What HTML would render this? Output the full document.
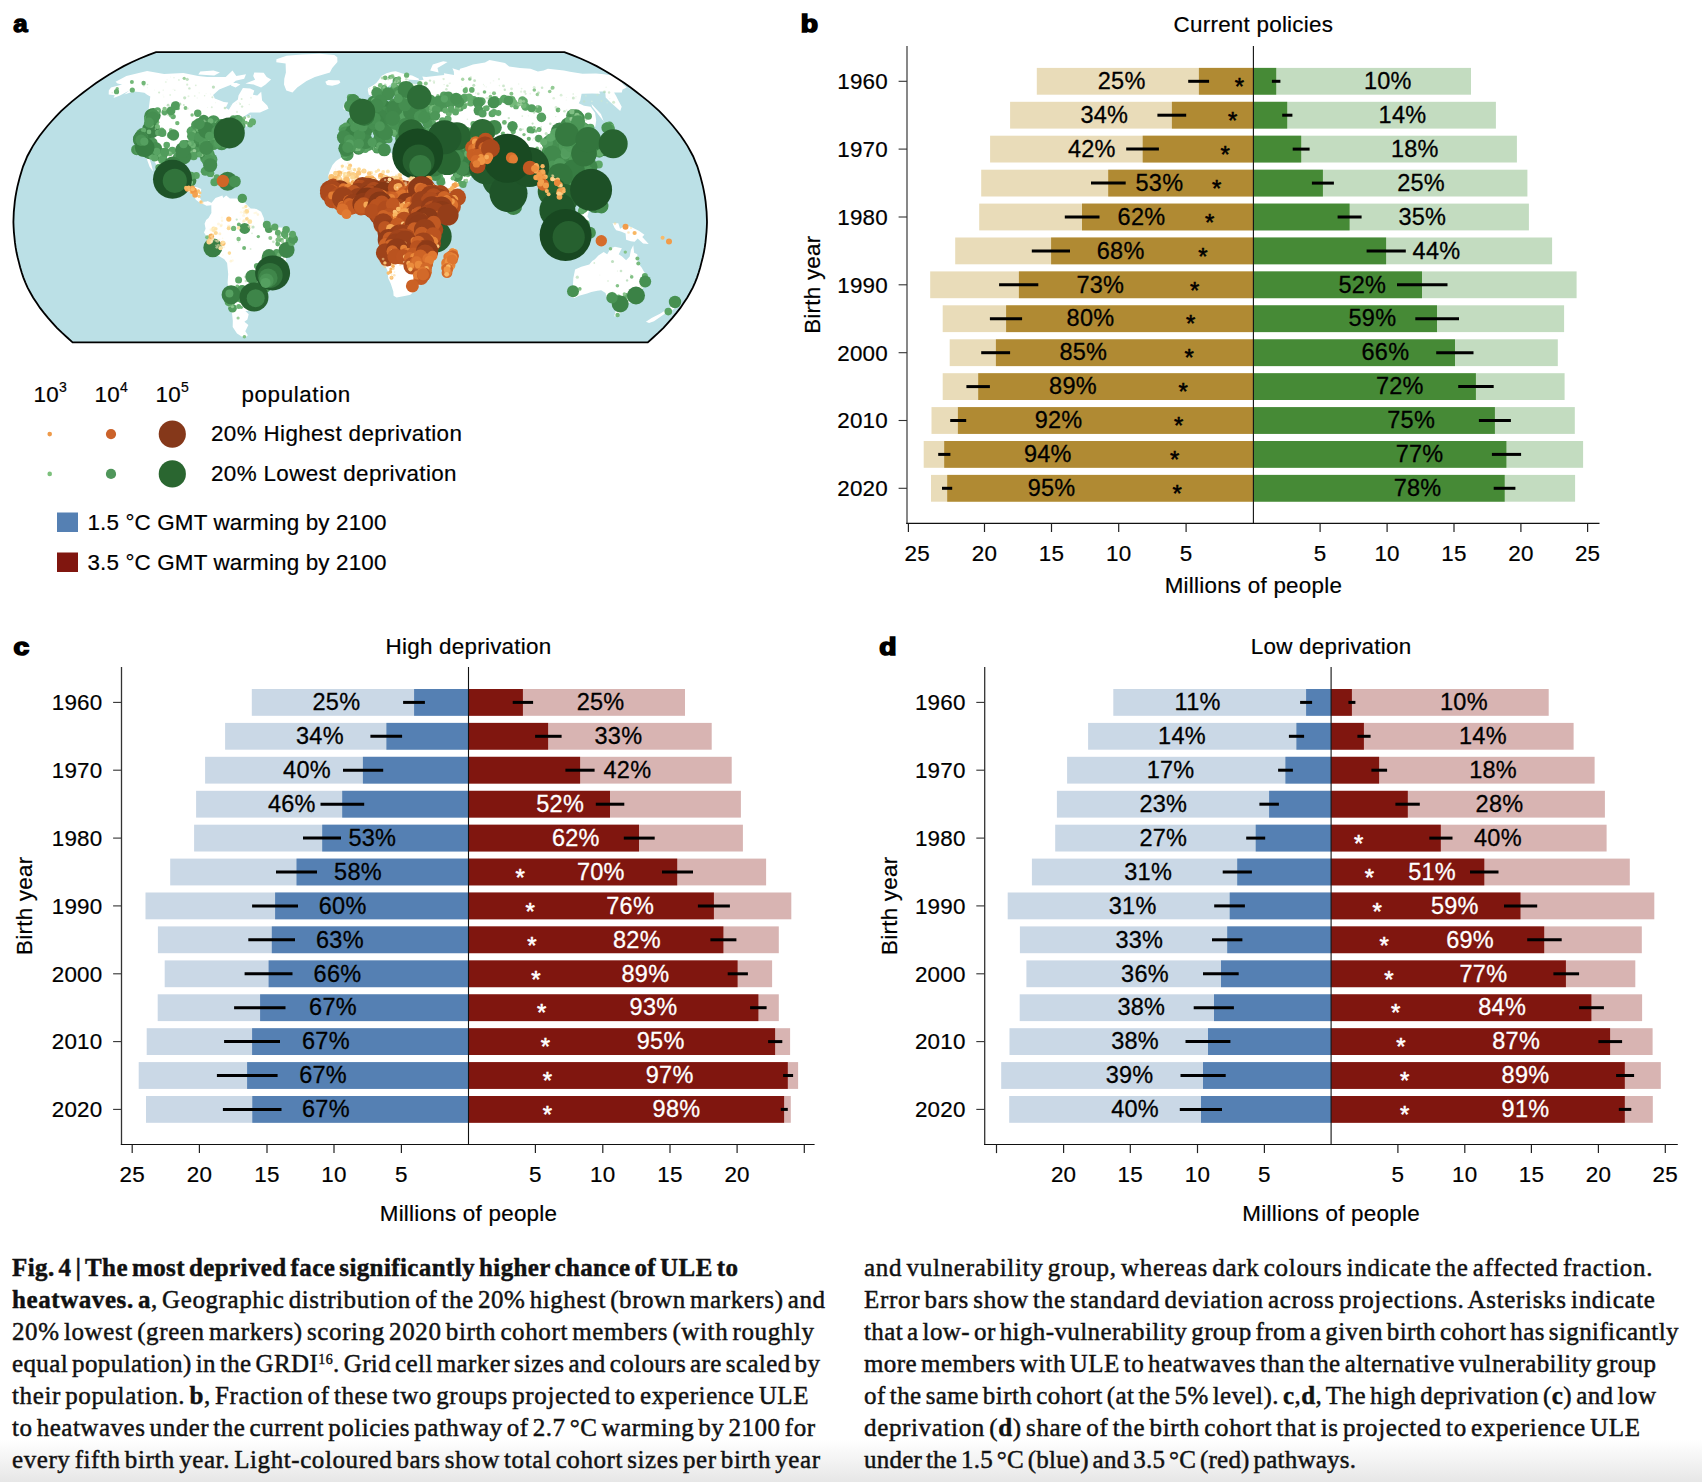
<!DOCTYPE html>
<html lang="en"><head><meta charset="utf-8"><title>Fig. 4</title>
<style>
html,body{margin:0;padding:0;background:#fff;}
body{width:1702px;height:1482px;overflow:hidden;position:relative;}
svg{position:absolute;left:0;top:0;display:block}
svg text{font-family:"Liberation Sans", Arial, Helvetica, sans-serif;letter-spacing:0.25px;color:#000;fill:currentColor;stroke:currentColor;stroke-width:.2px}
svg text.w{color:#fff}
svg text.l{stroke-width:.28px}
svg text.s{stroke-width:.55px}
svg text.L{stroke-width:1.6px;font-weight:bold;letter-spacing:0}
.cap{position:absolute;font-family:"Liberation Serif","Times New Roman",serif;font-size:25px;line-height:32px;height:32px;color:#111;white-space:nowrap;-webkit-text-stroke:0.45px #111;}
.cap b{font-weight:bold}
.cap sup{font-size:14px;line-height:0;vertical-align:8px}
.fade{position:absolute;left:0;top:1440px;width:1702px;height:42px;background:linear-gradient(to bottom,rgba(255,255,255,0) 0%,rgba(228,228,228,0.9) 100%);}
</style></head><body>
<svg width="1702" height="1482" viewBox="0 0 1702 1482">
<defs><clipPath id="mapclip"><path d="M72.6,342.3 L67.2,337.5 L61.9,332.7 L56.9,327.8 L52.4,322.8 L48.0,317.9 L43.9,312.9 L40.0,307.9 L36.6,302.8 L33.2,297.8 L30.4,292.7 L27.6,287.7 L25.4,282.6 L23.4,277.6 L21.7,272.5 L20.2,267.5 L18.9,262.4 L17.6,257.3 L16.5,252.3 L15.6,247.2 L14.9,242.2 L14.4,237.1 L13.9,232.1 L13.6,227.0 L13.4,221.9 L13.6,216.9 L13.8,211.8 L14.3,206.8 L14.8,201.7 L15.5,196.7 L16.4,191.6 L17.4,186.6 L18.7,181.5 L20.0,176.4 L21.5,171.4 L23.1,166.3 L25.2,161.3 L27.3,156.2 L30.0,151.2 L32.8,146.1 L36.1,141.1 L39.5,136.0 L43.4,131.0 L47.4,126.0 L51.8,121.0 L56.3,116.1 L61.1,111.2 L66.4,106.4 L71.8,101.6 L77.7,96.9 L83.6,92.2 L89.8,87.6 L96.1,83.1 L102.6,78.7 L109.2,74.4 L116.4,70.2 L123.7,66.1 L131.6,62.3 L139.9,58.5 L148.1,55.1 L156.0,52.1 L564.4,52.1 L572.3,55.1 L580.5,58.5 L588.8,62.3 L596.7,66.1 L604.0,70.2 L611.2,74.4 L617.8,78.7 L624.3,83.1 L630.6,87.6 L636.8,92.2 L642.7,96.9 L648.6,101.6 L654.0,106.4 L659.3,111.2 L664.1,116.1 L668.6,121.0 L673.0,126.0 L677.0,131.0 L680.9,136.0 L684.3,141.1 L687.6,146.1 L690.4,151.2 L693.1,156.2 L695.2,161.3 L697.3,166.3 L698.9,171.4 L700.4,176.4 L701.7,181.5 L703.0,186.6 L704.0,191.6 L704.9,196.7 L705.6,201.7 L706.1,206.8 L706.6,211.8 L706.8,216.9 L707.0,221.9 L706.8,227.0 L706.5,232.1 L706.0,237.1 L705.5,242.2 L704.8,247.2 L703.9,252.3 L702.8,257.3 L701.5,262.4 L700.2,267.5 L698.7,272.5 L697.0,277.6 L695.0,282.6 L692.8,287.7 L690.0,292.7 L687.2,297.8 L683.8,302.8 L680.4,307.9 L676.5,312.9 L672.4,317.9 L668.0,322.8 L663.5,327.8 L658.5,332.7 L653.2,337.5 L647.8,342.3Z"/></clipPath></defs>
<path d="M72.6,342.3 L67.2,337.5 L61.9,332.7 L56.9,327.8 L52.4,322.8 L48.0,317.9 L43.9,312.9 L40.0,307.9 L36.6,302.8 L33.2,297.8 L30.4,292.7 L27.6,287.7 L25.4,282.6 L23.4,277.6 L21.7,272.5 L20.2,267.5 L18.9,262.4 L17.6,257.3 L16.5,252.3 L15.6,247.2 L14.9,242.2 L14.4,237.1 L13.9,232.1 L13.6,227.0 L13.4,221.9 L13.6,216.9 L13.8,211.8 L14.3,206.8 L14.8,201.7 L15.5,196.7 L16.4,191.6 L17.4,186.6 L18.7,181.5 L20.0,176.4 L21.5,171.4 L23.1,166.3 L25.2,161.3 L27.3,156.2 L30.0,151.2 L32.8,146.1 L36.1,141.1 L39.5,136.0 L43.4,131.0 L47.4,126.0 L51.8,121.0 L56.3,116.1 L61.1,111.2 L66.4,106.4 L71.8,101.6 L77.7,96.9 L83.6,92.2 L89.8,87.6 L96.1,83.1 L102.6,78.7 L109.2,74.4 L116.4,70.2 L123.7,66.1 L131.6,62.3 L139.9,58.5 L148.1,55.1 L156.0,52.1 L564.4,52.1 L572.3,55.1 L580.5,58.5 L588.8,62.3 L596.7,66.1 L604.0,70.2 L611.2,74.4 L617.8,78.7 L624.3,83.1 L630.6,87.6 L636.8,92.2 L642.7,96.9 L648.6,101.6 L654.0,106.4 L659.3,111.2 L664.1,116.1 L668.6,121.0 L673.0,126.0 L677.0,131.0 L680.9,136.0 L684.3,141.1 L687.6,146.1 L690.4,151.2 L693.1,156.2 L695.2,161.3 L697.3,166.3 L698.9,171.4 L700.4,176.4 L701.7,181.5 L703.0,186.6 L704.0,191.6 L704.9,196.7 L705.6,201.7 L706.1,206.8 L706.6,211.8 L706.8,216.9 L707.0,221.9 L706.8,227.0 L706.5,232.1 L706.0,237.1 L705.5,242.2 L704.8,247.2 L703.9,252.3 L702.8,257.3 L701.5,262.4 L700.2,267.5 L698.7,272.5 L697.0,277.6 L695.0,282.6 L692.8,287.7 L690.0,292.7 L687.2,297.8 L683.8,302.8 L680.4,307.9 L676.5,312.9 L672.4,317.9 L668.0,322.8 L663.5,327.8 L658.5,332.7 L653.2,337.5 L647.8,342.3Z" fill="#bbe0e6"/>
<g clip-path="url(#mapclip)">
<path d="M115.6,81.7 L126.4,76.0 L147.1,70.9 L164.1,74.0 L183.4,72.9 L198.2,76.0 L207.3,77.0 L225.7,77.0 L232.5,70.6 L236.3,76.0 L246.0,74.2 L244.2,78.8 L235.7,80.7 L231.6,84.6 L219.2,89.4 L213.1,95.0 L214.8,98.5 L223.8,101.9 L228.3,102.5 L225.7,107.8 L228.8,109.8 L232.6,103.6 L237.9,99.5 L238.5,95.4 L242.9,87.9 L250.1,88.5 L254.3,90.4 L252.9,94.8 L257.3,95.4 L261.2,91.8 L262.1,100.5 L267.4,105.7 L268.5,108.8 L260.0,112.6 L250.0,112.6 L241.2,118.3 L250.8,115.1 L250.2,119.4 L255.5,121.5 L246.1,126.8 L244.5,123.6 L238.4,126.4 L236.4,130.1 L229.2,133.3 L224.6,139.8 L222.2,145.3 L218.0,147.4 L211.5,151.8 L209.8,156.2 L211.0,162.7 L209.8,166.4 L207.3,164.9 L206.4,159.4 L204.8,156.2 L201.3,155.5 L194.8,155.7 L194.6,158.3 L190.7,157.3 L185.2,157.3 L179.2,161.6 L177.4,167.1 L175.9,173.0 L178.2,180.2 L180.9,181.9 L186.6,181.2 L189.3,175.8 L196.0,174.7 L193.5,182.3 L191.1,186.7 L196.4,187.1 L201.3,188.9 L199.9,197.6 L201.9,202.0 L206.7,201.5 L207.7,200.9 L211.8,203.1 L211.3,205.2 L206.5,205.7 L203.7,204.2 L200.8,203.5 L195.8,199.8 L192.9,193.2 L185.5,191.1 L181.2,186.7 L176.3,187.4 L170.1,184.5 L161.3,179.1 L161.3,173.6 L157.7,167.1 L152.5,158.3 L152.2,153.3 L149.2,152.9 L149.1,157.3 L151.1,163.8 L153.2,171.4 L149.7,167.1 L147.5,161.0 L146.0,156.2 L145.5,150.5 L140.9,146.4 L140.4,141.3 L139.9,135.5 L141.9,130.1 L147.4,121.5 L149.5,116.4 L153.2,115.1 L148.3,111.3 L149.4,103.6 L150.3,96.4 L147.1,94.8 L144.4,92.8 L139.1,92.0 L133.6,91.4 L124.2,94.4 L129.4,90.4 L120.0,95.4 L113.5,97.9 L114.8,95.2 L108.7,94.4 L108.8,90.4 L111.0,87.5 L122.1,84.6 L117.5,83.6Z M254.3,72.4 L263.7,72.7 L266.7,77.0 L271.1,79.4 L265.6,84.6 L261.1,87.5 L253.7,84.6 L245.4,83.6 L255.1,79.8 L253.2,76.0Z M198.3,74.5 L214.2,75.5 L219.9,72.4 L213.5,70.6 L200.3,71.5Z M233.5,81.7 L240.4,84.6 L235.6,87.5 L230.9,85.5Z M276.4,59.3 L276.3,62.3 L285.6,63.6 L285.9,72.4 L284.3,78.8 L284.0,84.6 L286.3,90.4 L292.5,92.4 L297.2,87.5 L306.5,81.1 L314.9,77.0 L329.9,72.4 L332.2,67.9 L337.4,62.0 L337.3,57.2 L334.3,55.1 L319.6,53.8 L301.8,54.4 L286.6,55.7Z M211.4,203.1 L215.5,198.0 L222.4,195.4 L223.2,198.0 L226.2,195.4 L229.9,198.5 L237.5,198.5 L241.4,198.3 L245.0,203.1 L250.6,208.5 L256.4,208.9 L261.1,211.8 L263.9,218.3 L263.9,222.7 L267.7,223.8 L274.5,227.1 L283.2,227.7 L289.0,232.1 L292.9,234.7 L293.4,239.0 L289.3,245.6 L285.7,251.0 L286.1,259.8 L283.7,267.4 L281.2,271.8 L275.6,273.5 L269.5,278.3 L269.8,283.8 L264.9,292.5 L262.7,296.2 L260.3,297.9 L255.0,296.8 L257.4,301.2 L256.4,305.1 L249.6,306.6 L250.2,311.0 L245.4,311.0 L248.7,314.2 L247.4,319.6 L244.4,321.7 L248.4,324.9 L245.3,331.3 L247.9,335.2 L245.4,337.5 L241.7,336.5 L237.0,333.4 L232.7,327.0 L232.8,320.7 L232.0,313.1 L228.0,304.5 L228.3,296.8 L228.4,289.2 L227.6,282.7 L228.2,273.9 L227.1,263.0 L224.3,259.3 L217.2,255.0 L214.4,251.0 L210.6,243.4 L206.9,236.9 L204.0,232.5 L205.6,228.8 L204.6,223.8 L206.1,220.1 L208.5,217.9 L211.4,212.9 L211.3,206.3Z M349.5,143.5 L356.6,144.8 L365.6,141.3 L378.2,140.3 L380.3,148.5 L388.7,152.2 L396.2,155.1 L397.2,150.7 L402.3,150.3 L406.2,152.7 L413.6,154.0 L419.1,153.3 L423.2,153.3 L420.3,156.2 L422.5,160.5 L426.9,169.3 L430.1,175.8 L431.3,181.2 L435.5,187.8 L442.4,194.3 L443.1,196.5 L446.5,198.7 L457.8,195.4 L457.6,199.8 L452.6,210.7 L446.9,217.2 L441.1,223.8 L437.2,228.1 L435.2,234.7 L436.0,240.1 L437.8,245.6 L437.8,254.3 L430.5,260.4 L426.4,265.2 L426.9,273.9 L421.9,277.9 L420.6,283.8 L416.4,289.2 L410.4,294.7 L405.8,295.8 L396.6,297.5 L393.6,295.8 L393.3,291.4 L390.8,283.8 L388.2,278.3 L387.5,270.7 L383.0,260.9 L384.0,254.3 L386.4,247.8 L385.1,241.2 L383.7,234.7 L381.4,230.3 L377.5,223.8 L378.5,217.2 L378.5,212.9 L376.6,211.8 L371.7,212.2 L368.9,207.9 L362.1,208.5 L356.4,211.1 L351.5,210.3 L345.8,212.0 L341.9,208.5 L338.1,206.3 L334.7,202.0 L331.5,197.6 L328.3,194.3 L326.8,189.5 L329.2,185.6 L329.3,180.2 L328.1,175.8 L330.1,170.3 L332.5,164.9 L336.0,161.0 L341.7,157.3 L342.4,152.9 L347.4,147.9Z M454.5,247.8 L456.4,255.4 L453.1,262.0 L450.0,273.9 L445.4,277.2 L442.4,272.9 L443.5,265.2 L444.5,257.6 L449.9,253.2Z M344.0,140.9 L343.2,137.2 L344.7,131.2 L344.2,127.5 L353.2,126.8 L357.6,126.8 L358.1,121.5 L352.3,116.4 L357.7,115.7 L357.2,113.6 L362.7,112.6 L365.2,110.3 L367.6,107.8 L368.4,106.1 L374.0,105.2 L373.3,101.5 L372.8,98.5 L376.7,97.1 L377.0,101.5 L379.6,104.2 L382.9,104.6 L390.0,103.2 L394.0,102.5 L393.4,98.5 L398.1,98.1 L396.6,94.0 L403.4,93.2 L406.4,92.4 L398.6,92.0 L395.6,92.4 L393.0,90.4 L392.2,86.1 L397.2,82.2 L392.4,81.1 L391.6,84.0 L386.5,87.5 L386.5,91.0 L389.2,92.8 L386.1,96.4 L386.1,99.5 L383.1,101.5 L380.9,101.5 L380.0,99.5 L377.8,95.4 L376.6,93.8 L372.7,96.2 L368.8,94.8 L367.8,90.4 L368.2,88.1 L372.8,85.5 L376.3,83.0 L378.9,79.8 L381.3,76.0 L386.5,73.2 L391.7,71.8 L395.7,71.3 L401.7,73.2 L406.3,74.5 L412.1,75.5 L418.9,78.8 L418.7,80.3 L410.6,79.8 L407.6,79.4 L411.4,83.6 L416.3,84.2 L419.7,83.2 L418.1,80.7 L423.6,79.8 L422.3,76.4 L426.1,77.0 L434.8,75.9 L444.2,75.1 L444.0,73.2 L454.0,75.1 L453.8,71.5 L452.4,68.3 L459.4,70.6 L460.1,68.8 L466.1,67.1 L473.0,64.4 L485.0,62.5 L489.5,60.1 L505.0,63.1 L509.1,66.5 L520.0,67.9 L530.5,68.8 L537.9,71.5 L543.6,70.6 L547.9,68.8 L563.9,70.6 L569.9,71.8 L582.5,73.8 L596.1,73.6 L603.9,74.2 L612.8,75.5 L623.7,82.6 L622.1,83.6 L626.7,87.5 L622.5,89.4 L621.8,92.4 L614.1,92.4 L616.4,96.4 L618.1,100.1 L621.7,106.7 L620.2,110.9 L609.6,101.5 L605.7,97.5 L605.2,91.4 L599.1,91.4 L600.2,93.8 L592.0,93.4 L581.6,93.8 L580.3,100.5 L578.7,103.2 L584.0,105.7 L590.6,106.7 L595.1,113.0 L596.2,120.4 L595.3,126.8 L590.7,127.9 L588.1,130.1 L586.6,134.4 L592.4,139.8 L594.5,144.2 L590.4,146.4 L587.9,140.9 L584.2,138.7 L582.5,135.0 L577.3,136.6 L575.5,132.7 L570.7,136.6 L573.9,139.8 L580.4,140.3 L577.2,145.3 L582.0,150.7 L585.9,156.2 L584.0,162.7 L580.2,170.3 L574.1,173.2 L568.0,175.8 L563.9,174.3 L561.0,179.1 L566.8,186.7 L569.2,194.3 L565.0,199.1 L561.7,202.6 L561.5,199.1 L556.3,195.4 L552.2,192.2 L550.8,197.6 L553.3,205.2 L559.4,212.9 L560.5,218.5 L555.2,215.5 L553.1,209.6 L549.0,204.2 L548.7,195.4 L545.7,185.6 L540.2,186.7 L538.4,180.2 L533.8,174.7 L531.6,172.5 L527.1,174.1 L524.3,176.9 L521.1,178.6 L516.8,185.6 L513.1,187.8 L513.5,193.2 L513.2,199.1 L509.0,204.2 L506.5,199.8 L503.2,193.2 L500.2,186.7 L498.2,180.2 L497.5,175.8 L493.4,176.2 L490.2,173.0 L492.0,171.9 L489.0,170.3 L485.8,167.5 L476.4,166.6 L467.8,165.8 L465.6,162.7 L461.0,163.6 L456.0,160.5 L452.6,155.7 L449.9,156.2 L449.1,157.3 L453.5,163.4 L454.2,165.8 L456.4,164.5 L456.8,168.2 L461.6,168.8 L464.8,164.5 L466.2,168.2 L470.5,169.9 L472.8,172.5 L470.8,176.9 L469.6,180.2 L464.8,184.5 L459.3,187.8 L452.8,191.1 L446.2,193.7 L443.4,193.9 L441.6,188.9 L441.1,185.6 L436.9,179.1 L433.8,174.7 L430.2,168.2 L425.3,160.5 L424.0,161.0 L420.5,156.4 L419.7,153.6 L423.2,153.3 L424.3,150.1 L425.6,145.3 L425.1,141.3 L419.8,142.7 L415.2,142.0 L410.7,141.6 L408.7,139.8 L407.0,135.5 L411.4,132.2 L416.5,130.5 L421.7,130.1 L427.3,132.2 L433.3,131.2 L431.8,127.9 L424.1,123.6 L426.6,118.9 L420.2,121.1 L418.2,124.7 L416.0,121.5 L412.9,120.4 L410.1,124.7 L409.4,130.1 L411.2,131.8 L406.2,132.9 L402.6,132.7 L401.0,134.4 L403.2,138.7 L401.7,142.0 L398.5,139.8 L394.7,133.3 L394.4,130.1 L388.1,126.8 L383.8,122.3 L381.4,123.0 L381.9,125.8 L384.7,129.4 L388.3,130.5 L393.0,134.0 L390.3,133.3 L389.6,136.6 L388.9,138.7 L388.1,134.4 L382.2,130.5 L378.1,126.8 L375.4,124.9 L372.4,126.4 L366.3,127.3 L365.8,130.5 L360.7,133.3 L359.7,137.0 L356.6,141.3 L350.6,142.9 L348.5,141.3Z M351.0,112.8 L355.2,111.7 L362.4,110.5 L363.0,107.3 L360.5,105.7 L357.8,102.5 L357.0,100.5 L357.1,97.3 L353.9,97.3 L355.2,95.2 L352.4,95.2 L350.7,98.5 L351.4,101.5 L352.5,103.0 L355.3,104.6 L355.0,105.9 L352.9,106.3 L353.1,108.4 L351.6,109.2 L354.9,110.0Z M350.3,108.4 L350.5,104.2 L350.2,102.1 L347.0,102.1 L344.0,104.2 L343.4,108.8 L344.5,109.8Z M325.3,81.7 L328.5,80.0 L334.2,80.3 L339.3,80.3 L340.4,82.6 L338.1,84.2 L332.2,85.7 L326.9,84.9Z M430.2,70.6 L438.6,72.4 L437.5,67.9 L447.6,62.0 L443.2,61.2 L432.8,64.4Z M599.0,147.4 L600.3,144.2 L605.8,142.4 L606.5,140.3 L609.6,137.7 L608.1,133.3 L609.7,131.6 L612.9,135.5 L612.9,138.7 L615.1,143.1 L614.5,145.3 L612.0,145.9 L609.1,146.4 L606.5,147.9 L602.4,146.8Z M607.3,131.2 L607.0,127.5 L604.4,122.8 L612.9,125.8 L613.4,127.9 L611.8,130.1 L607.1,129.0Z M597.6,148.5 L600.9,148.5 L602.3,153.3 L600.2,153.6 L597.9,150.1Z M603.8,121.5 L600.9,114.0 L591.5,104.0 L592.2,106.7Z M513.6,200.2 L517.3,205.2 L515.9,208.5 L514.0,208.5 L513.2,203.7Z M612.5,223.3 L618.3,223.3 L620.1,228.8 L626.0,225.3 L631.7,227.3 L639.2,231.0 L644.4,234.7 L642.3,236.9 L648.7,244.1 L643.1,243.4 L637.7,238.4 L634.6,241.7 L630.8,241.2 L626.1,239.7 L625.6,233.6 L620.9,231.4 L616.2,230.3 L614.3,227.5Z M575.1,269.6 L573.3,278.3 L572.9,287.0 L572.7,291.4 L569.6,296.4 L574.5,297.9 L579.0,295.8 L587.1,293.6 L591.3,292.0 L597.3,290.7 L601.2,290.3 L605.6,292.9 L606.5,297.5 L611.8,293.6 L610.3,299.0 L612.0,301.6 L612.6,304.9 L617.6,305.5 L621.2,306.6 L625.6,304.0 L630.0,302.7 L635.5,295.8 L642.2,289.2 L645.7,282.7 L647.0,276.1 L644.0,271.8 L641.6,267.4 L637.9,263.0 L637.8,258.7 L637.3,254.3 L634.1,252.8 L633.3,245.2 L630.9,250.0 L629.7,256.5 L626.1,260.2 L622.1,256.5 L618.7,254.3 L621.9,248.2 L614.9,246.7 L610.8,248.2 L607.2,254.3 L603.7,252.1 L598.4,255.4 L594.9,259.3 L592.2,260.9 L589.3,264.6 L581.3,266.7Z M616.1,310.3 L622.4,310.5 L618.4,315.7 L614.3,316.6 L614.9,313.6Z M674.4,296.8 L675.7,300.1 L676.1,303.6 L680.5,303.8 L675.2,307.7 L670.5,311.6 L668.2,311.6 L671.2,308.4 L669.8,307.3 L673.2,304.5 L674.7,301.2Z M666.0,309.9 L666.6,312.5 L660.8,316.6 L654.0,321.3 L649.1,323.0 L645.9,321.7 L651.6,317.9 L660.0,313.8Z M200.0,173.6 L206.0,171.0 L209.7,171.4 L214.9,174.7 L219.8,177.5 L213.5,178.2 L212.8,176.2 L206.5,173.6 L201.8,174.1Z M218.9,181.5 L222.0,178.2 L227.7,178.4 L230.5,181.0 L225.4,182.3Z M543.5,209.4 L548.8,212.4 L553.7,217.2 L559.6,223.8 L564.3,228.1 L563.7,234.3 L561.2,234.3 L556.5,230.3 L553.4,223.8 L549.9,217.9Z M562.4,236.4 L568.7,236.0 L573.6,235.8 L580.1,238.4 L580.0,240.4 L571.4,239.5 L564.8,237.7Z M570.1,218.3 L574.0,217.9 L577.7,214.6 L582.4,210.7 L585.0,206.3 L589.1,210.3 L587.4,216.6 L589.4,219.4 L586.5,223.3 L584.4,229.2 L580.6,230.3 L574.8,228.8 L572.0,224.9 L570.2,220.9Z" fill="#fff"/>
<path d="M441.4,123.6 L447.1,119.4 L451.7,123.6 L449.5,129.0 L455.2,134.4 L457.4,140.9 L450.2,140.9 L447.6,136.6 L443.4,129.0Z" fill="#bbe0e6"/>
<g fill="#2a6833">
<circle cx="494.2" cy="152.4" r="11.0"/>
</g>
<g fill="#35783f">
<circle cx="517.2" cy="167.9" r="10.7"/>
</g>
<g fill="#2c6b35">
<circle cx="520.9" cy="165.0" r="11.0"/>
</g>
<g fill="#367b41">
<circle cx="566.8" cy="237.5" r="11.2"/>
</g>
<g fill="#34783f">
<circle cx="509.8" cy="183.2" r="11.0"/>
</g>
<g fill="#438c4e">
<circle cx="565.2" cy="161.2" r="9.0"/>
</g>
<g fill="#30713a">
<circle cx="566.5" cy="237.4" r="11.3"/>
</g>
<g fill="#448d4f">
<circle cx="558.7" cy="138.6" r="8.5"/>
</g>
<g fill="#276330">
<circle cx="574.7" cy="236.8" r="13.0"/>
</g>
<g fill="#377b42">
<circle cx="500.6" cy="175.8" r="10.4"/>
</g>
<g fill="#458e50">
<circle cx="512.5" cy="181.3" r="8.1"/>
</g>
<g fill="#397e44">
<circle cx="564.2" cy="154.7" r="9.0"/>
</g>
<g fill="#3b8146">
<circle cx="527.3" cy="170.9" r="9.5"/>
</g>
<g fill="#3d8448">
<circle cx="501.9" cy="187.5" r="8.7"/>
</g>
<g fill="#458e50">
<circle cx="151.6" cy="116.4" r="7.5"/>
</g>
<g fill="#377d42">
<circle cx="509.2" cy="158.5" r="11.0"/>
</g>
<g fill="#469051">
<circle cx="356.7" cy="135.2" r="7.6"/>
</g>
<g fill="#3d8348">
<circle cx="359.4" cy="117.8" r="7.4"/>
</g>
<g fill="#428a4d">
<circle cx="492.9" cy="159.3" r="7.9"/>
</g>
<g fill="#3d8448">
<circle cx="354.2" cy="124.2" r="8.0"/>
</g>
<g fill="#40884b">
<circle cx="572.4" cy="156.0" r="8.2"/>
</g>
<g fill="#367b41">
<circle cx="560.7" cy="177.7" r="9.0"/>
</g>
<g fill="#468f51">
<circle cx="143.0" cy="136.2" r="8.1"/>
</g>
<g fill="#3b8146">
<circle cx="508.3" cy="196.9" r="9.2"/>
</g>
<g fill="#397e44">
<circle cx="571.7" cy="236.9" r="9.6"/>
</g>
<g fill="#468f51">
<circle cx="529.3" cy="169.4" r="7.3"/>
</g>
<g fill="#40884b">
<circle cx="373.2" cy="114.7" r="8.0"/>
</g>
<g fill="#3c8247">
<circle cx="600.6" cy="205.4" r="7.0"/>
</g>
<g fill="#2f6f38">
<circle cx="512.3" cy="164.1" r="10.4"/>
</g>
<g fill="#40884b">
<circle cx="207.6" cy="137.4" r="7.3"/>
</g>
<g fill="#448d4f">
<circle cx="548.3" cy="152.1" r="6.8"/>
</g>
<g fill="#3e8549">
<circle cx="504.3" cy="183.8" r="6.8"/>
</g>
<g fill="#479152">
<circle cx="186.2" cy="147.0" r="7.0"/>
</g>
<g fill="#509a5b">
<circle cx="570.5" cy="168.7" r="6.9"/>
</g>
<g fill="#448d4f">
<circle cx="549.8" cy="143.2" r="8.1"/>
</g>
<g fill="#41894c">
<circle cx="571.8" cy="235.9" r="6.8"/>
</g>
<g fill="#32753d">
<circle cx="516.9" cy="171.3" r="10.7"/>
</g>
<g fill="#34773e">
<circle cx="564.5" cy="236.6" r="10.0"/>
</g>
<g fill="#3f864a">
<circle cx="578.0" cy="121.9" r="7.0"/>
</g>
<g fill="#499454">
<circle cx="353.3" cy="105.8" r="7.3"/>
</g>
<g fill="#3e8549">
<circle cx="418.3" cy="156.3" r="7.0"/>
</g>
<g fill="#4e9859">
<circle cx="560.2" cy="179.8" r="6.4"/>
</g>
<g fill="#387d43">
<circle cx="419.6" cy="162.9" r="8.0"/>
</g>
<g fill="#3f864a">
<circle cx="370.6" cy="111.3" r="7.5"/>
</g>
<g fill="#469051">
<circle cx="563.2" cy="141.2" r="9.0"/>
</g>
<g fill="#448c4f">
<circle cx="486.6" cy="157.2" r="6.5"/>
</g>
<g fill="#499354">
<circle cx="183.5" cy="151.5" r="7.0"/>
</g>
<g fill="#32743c">
<circle cx="488.7" cy="149.4" r="10.0"/>
</g>
<g fill="#448d4f">
<circle cx="370.9" cy="116.7" r="8.0"/>
</g>
<g fill="#3f874a">
<circle cx="381.9" cy="136.7" r="8.0"/>
</g>
<g fill="#479052">
<circle cx="201.8" cy="147.3" r="7.5"/>
</g>
<g fill="#438b4e">
<circle cx="354.5" cy="129.3" r="8.0"/>
</g>
<g fill="#41894c">
<circle cx="581.6" cy="130.0" r="8.6"/>
</g>
<g fill="#489253">
<circle cx="575.8" cy="116.9" r="7.6"/>
</g>
<g fill="#458e50">
<circle cx="612.5" cy="144.4" r="8.0"/>
</g>
<g fill="#4c9657">
<circle cx="567.2" cy="237.6" r="6.4"/>
</g>
<g fill="#438c4e">
<circle cx="582.5" cy="153.3" r="6.9"/>
</g>
<g fill="#3d8448">
<circle cx="389.2" cy="114.7" r="6.8"/>
</g>
<g fill="#3a8045">
<circle cx="378.9" cy="119.7" r="7.0"/>
</g>
<g fill="#3b8146">
<circle cx="565.3" cy="140.9" r="8.7"/>
</g>
<g fill="#458e50">
<circle cx="591.9" cy="141.6" r="6.1"/>
</g>
<g fill="#357940">
<circle cx="501.0" cy="169.0" r="10.4"/>
</g>
<g fill="#41894c">
<circle cx="572.5" cy="170.1" r="7.4"/>
</g>
<g fill="#448d4f">
<circle cx="402.8" cy="119.5" r="6.9"/>
</g>
<g fill="#468f51">
<circle cx="187.3" cy="150.5" r="6.1"/>
</g>
<g fill="#458e50">
<circle cx="376.7" cy="126.1" r="6.2"/>
</g>
<g fill="#4c9657">
<circle cx="531.8" cy="167.5" r="6.5"/>
</g>
<g fill="#489253">
<circle cx="556.0" cy="161.8" r="6.4"/>
</g>
<g fill="#40874b">
<circle cx="509.7" cy="180.1" r="6.6"/>
</g>
<g fill="#428a4d">
<circle cx="502.2" cy="182.4" r="9.4"/>
</g>
<g fill="#377b42">
<circle cx="501.8" cy="188.2" r="8.0"/>
</g>
<g fill="#458e50">
<circle cx="489.5" cy="169.8" r="6.0"/>
</g>
<g fill="#41894c">
<circle cx="373.6" cy="102.4" r="6.6"/>
</g>
<g fill="#458e50">
<circle cx="439.8" cy="150.8" r="7.1"/>
</g>
<g fill="#387e43">
<circle cx="384.6" cy="120.0" r="8.0"/>
</g>
<g fill="#458e50">
<circle cx="416.2" cy="100.2" r="8.0"/>
</g>
<g fill="#4e9859">
<circle cx="210.6" cy="160.7" r="5.9"/>
</g>
<g fill="#469051">
<circle cx="376.5" cy="145.1" r="6.4"/>
</g>
<g fill="#448d4f">
<circle cx="455.2" cy="155.3" r="7.0"/>
</g>
<g fill="#3f874a">
<circle cx="190.4" cy="180.7" r="6.0"/>
</g>
<g fill="#3b8146">
<circle cx="564.4" cy="142.3" r="8.9"/>
</g>
<g fill="#367b41">
<circle cx="421.6" cy="166.1" r="9.2"/>
</g>
<g fill="#4c9657">
<circle cx="515.1" cy="181.2" r="6.7"/>
</g>
<g fill="#4f995a">
<circle cx="565.4" cy="149.7" r="5.7"/>
</g>
<g fill="#357940">
<circle cx="512.4" cy="164.4" r="8.5"/>
</g>
<g fill="#428a4d">
<circle cx="551.9" cy="154.9" r="6.3"/>
</g>
<g fill="#4b9656">
<circle cx="352.2" cy="133.4" r="6.9"/>
</g>
<g fill="#3f864a">
<circle cx="358.5" cy="148.2" r="6.5"/>
</g>
<g fill="#3e8549">
<circle cx="380.2" cy="112.7" r="6.3"/>
</g>
<g fill="#3c8247">
<circle cx="151.0" cy="129.5" r="9.0"/>
</g>
<g fill="#387e43">
<circle cx="595.3" cy="204.0" r="9.1"/>
</g>
<g fill="#448c4f">
<circle cx="519.5" cy="164.3" r="6.2"/>
</g>
<g fill="#468f51">
<circle cx="358.1" cy="133.1" r="8.0"/>
</g>
<g fill="#41894c">
<circle cx="528.8" cy="165.5" r="5.8"/>
</g>
<g fill="#4b9556">
<circle cx="353.1" cy="100.1" r="6.0"/>
</g>
<g fill="#418a4c">
<circle cx="389.9" cy="112.1" r="7.0"/>
</g>
<g fill="#489253">
<circle cx="550.7" cy="169.3" r="7.5"/>
<circle cx="420.4" cy="163.2" r="5.7"/>
</g>
<g fill="#3e8549">
<circle cx="558.1" cy="230.6" r="8.0"/>
</g>
<g fill="#387d43">
<circle cx="166.8" cy="182.5" r="9.0"/>
</g>
<g fill="#3a8045">
<circle cx="499.6" cy="167.8" r="7.5"/>
</g>
<g fill="#458f50">
<circle cx="232.3" cy="124.5" r="5.6"/>
</g>
<g fill="#489253">
<circle cx="372.2" cy="113.3" r="6.2"/>
</g>
<g fill="#41894c">
<circle cx="419.5" cy="161.0" r="8.1"/>
</g>
<g fill="#4c9657">
<circle cx="347.1" cy="154.5" r="6.5"/>
</g>
<g fill="#479152">
<circle cx="348.7" cy="138.2" r="7.0"/>
</g>
<g fill="#4a9455">
<circle cx="427.3" cy="147.3" r="5.7"/>
</g>
<g fill="#489253">
<circle cx="500.9" cy="183.1" r="5.8"/>
</g>
<g fill="#438c4e">
<circle cx="415.5" cy="134.5" r="5.5"/>
</g>
<g fill="#3e8549">
<circle cx="142.1" cy="143.7" r="6.5"/>
</g>
<g fill="#3d8348">
<circle cx="451.7" cy="151.8" r="7.0"/>
</g>
<g fill="#499354">
<circle cx="455.6" cy="146.5" r="6.3"/>
</g>
<g fill="#428a4d">
<circle cx="418.7" cy="155.4" r="6.1"/>
</g>
<g fill="#489253">
<circle cx="510.5" cy="174.6" r="6.1"/>
</g>
<g fill="#3e8649">
<circle cx="404.9" cy="135.7" r="8.0"/>
</g>
<g fill="#499354">
<circle cx="427.7" cy="120.7" r="6.2"/>
</g>
<g fill="#41894c">
<circle cx="204.7" cy="142.4" r="6.5"/>
<circle cx="530.5" cy="167.4" r="5.8"/>
</g>
<g fill="#3b8146">
<circle cx="558.6" cy="187.1" r="7.5"/>
</g>
<g fill="#40884b">
<circle cx="491.5" cy="159.3" r="5.8"/>
</g>
<g fill="#519c5c">
<circle cx="344.1" cy="129.3" r="5.5"/>
</g>
<g fill="#428b4d">
<circle cx="568.3" cy="194.4" r="5.6"/>
</g>
<g fill="#489253">
<circle cx="145.8" cy="148.6" r="6.8"/>
</g>
<g fill="#479152">
<circle cx="349.5" cy="138.5" r="7.0"/>
</g>
<g fill="#438c4e">
<circle cx="554.6" cy="164.0" r="8.6"/>
</g>
<g fill="#428a4d">
<circle cx="571.2" cy="161.6" r="9.0"/>
</g>
<g fill="#3b8246">
<circle cx="565.8" cy="156.3" r="9.0"/>
</g>
<g fill="#448c4f">
<circle cx="193.9" cy="146.3" r="5.3"/>
</g>
<g fill="#448d4f">
<circle cx="550.3" cy="168.5" r="9.0"/>
</g>
<g fill="#4c9657">
<circle cx="417.1" cy="154.5" r="5.0"/>
<circle cx="489.6" cy="153.0" r="5.6"/>
</g>
<g fill="#40884b">
<circle cx="579.1" cy="238.9" r="6.0"/>
</g>
<g fill="#469051">
<circle cx="562.6" cy="155.1" r="6.3"/>
</g>
<g fill="#4b9556">
<circle cx="577.0" cy="156.0" r="7.1"/>
</g>
<g fill="#529d5d">
<circle cx="496.3" cy="174.5" r="5.0"/>
</g>
<g fill="#58a363">
<circle cx="548.0" cy="146.0" r="5.1"/>
</g>
<g fill="#4c9657">
<circle cx="359.3" cy="133.9" r="6.0"/>
</g>
<g fill="#3b8146">
<circle cx="506.8" cy="181.4" r="6.9"/>
</g>
<g fill="#4f9a5a">
<circle cx="602.8" cy="149.0" r="5.6"/>
</g>
<g fill="#469051">
<circle cx="185.5" cy="156.3" r="5.7"/>
</g>
<g fill="#397f44">
<circle cx="520.6" cy="172.7" r="8.2"/>
</g>
<g fill="#4f995a">
<circle cx="434.7" cy="106.5" r="5.0"/>
</g>
<g fill="#428a4d">
<circle cx="491.2" cy="163.0" r="9.1"/>
</g>
<g fill="#4d9758">
<circle cx="550.1" cy="160.5" r="5.5"/>
</g>
<g fill="#4f995a">
<circle cx="602.1" cy="148.2" r="5.6"/>
</g>
<g fill="#3e8449">
<circle cx="167.6" cy="178.2" r="7.4"/>
</g>
<g fill="#4a9455">
<circle cx="426.7" cy="116.8" r="6.5"/>
</g>
<g fill="#4d9858">
<circle cx="209.8" cy="133.1" r="6.3"/>
</g>
<g fill="#509a5b">
<circle cx="426.1" cy="143.1" r="4.9"/>
</g>
<g fill="#4f995a">
<circle cx="431.0" cy="138.4" r="5.4"/>
</g>
<g fill="#458e50">
<circle cx="600.6" cy="147.0" r="5.6"/>
</g>
<g fill="#4a9455">
<circle cx="466.3" cy="161.6" r="7.0"/>
</g>
<g fill="#448d4f">
<circle cx="556.9" cy="192.3" r="7.5"/>
</g>
<g fill="#387e43">
<circle cx="609.3" cy="142.8" r="8.0"/>
</g>
<g fill="#549e5f">
<circle cx="346.0" cy="127.3" r="4.7"/>
</g>
<g fill="#469051">
<circle cx="378.9" cy="131.8" r="6.2"/>
</g>
<g fill="#499354">
<circle cx="418.6" cy="156.2" r="6.5"/>
</g>
<g fill="#489253">
<circle cx="375.6" cy="124.6" r="5.9"/>
</g>
<g fill="#438c4e">
<circle cx="418.4" cy="153.4" r="5.6"/>
</g>
<g fill="#4c9757">
<circle cx="213.5" cy="121.6" r="6.4"/>
</g>
<g fill="#509a5b">
<circle cx="379.7" cy="123.1" r="4.8"/>
</g>
<g fill="#519c5c">
<circle cx="393.6" cy="103.5" r="5.0"/>
</g>
<g fill="#387e43">
<circle cx="591.6" cy="139.5" r="7.7"/>
</g>
<g fill="#4c9657">
<circle cx="382.3" cy="108.7" r="6.2"/>
</g>
<g fill="#4d9758">
<circle cx="555.6" cy="137.9" r="4.9"/>
</g>
<g fill="#428a4d">
<circle cx="396.4" cy="110.3" r="6.6"/>
</g>
<g fill="#4d9758">
<circle cx="450.3" cy="139.8" r="4.7"/>
</g>
<g fill="#3a8045">
<circle cx="558.0" cy="226.2" r="8.0"/>
</g>
<g fill="#448c4f">
<circle cx="369.5" cy="108.0" r="8.0"/>
</g>
<g fill="#4d9758">
<circle cx="507.2" cy="162.5" r="5.0"/>
</g>
<g fill="#499354">
<circle cx="182.0" cy="158.3" r="4.7"/>
</g>
<g fill="#4a9455">
<circle cx="199.5" cy="145.1" r="4.6"/>
</g>
<g fill="#499454">
<circle cx="422.4" cy="105.2" r="5.3"/>
</g>
<g fill="#489253">
<circle cx="493.5" cy="164.9" r="6.4"/>
</g>
<g fill="#4c9657">
<circle cx="559.4" cy="177.7" r="4.8"/>
</g>
<g fill="#41894c">
<circle cx="213.0" cy="136.0" r="5.6"/>
</g>
<g fill="#40874b">
<circle cx="514.1" cy="187.5" r="8.0"/>
</g>
<g fill="#4f995a">
<circle cx="241.4" cy="298.5" r="4.5"/>
</g>
<g fill="#4b9556">
<circle cx="215.4" cy="134.7" r="5.0"/>
</g>
<g fill="#519c5c">
<circle cx="207.4" cy="132.4" r="5.7"/>
</g>
<g fill="#3d8448">
<circle cx="561.5" cy="145.0" r="8.8"/>
</g>
<g fill="#469051">
<circle cx="516.8" cy="166.3" r="7.5"/>
</g>
<g fill="#428a4d">
<circle cx="508.6" cy="165.1" r="9.0"/>
</g>
<g fill="#499354">
<circle cx="155.0" cy="154.4" r="5.8"/>
</g>
<g fill="#489253">
<circle cx="408.9" cy="138.3" r="5.1"/>
</g>
<g fill="#438c4e">
<circle cx="532.5" cy="171.6" r="5.7"/>
</g>
<g fill="#509a5b">
<circle cx="526.2" cy="172.0" r="4.9"/>
</g>
<g fill="#499354">
<circle cx="212.2" cy="133.7" r="4.9"/>
</g>
<g fill="#479052">
<circle cx="559.0" cy="170.7" r="6.6"/>
</g>
<g fill="#4e9959">
<circle cx="553.7" cy="186.3" r="5.1"/>
</g>
<g fill="#3a8045">
<circle cx="533.2" cy="170.4" r="7.4"/>
</g>
<g fill="#509b5b">
<circle cx="176.1" cy="175.7" r="4.9"/>
</g>
<g fill="#56a161">
<circle cx="364.6" cy="126.9" r="4.3"/>
</g>
<g fill="#3b8146">
<circle cx="170.6" cy="174.9" r="8.4"/>
</g>
<g fill="#529d5d">
<circle cx="495.7" cy="151.3" r="4.8"/>
</g>
<g fill="#397f44">
<circle cx="559.6" cy="156.5" r="9.0"/>
</g>
<g fill="#4d9758">
<circle cx="436.3" cy="107.2" r="4.3"/>
</g>
<g fill="#41884c">
<circle cx="206.4" cy="130.8" r="5.8"/>
</g>
<g fill="#479052">
<circle cx="418.9" cy="154.8" r="6.6"/>
</g>
<g fill="#4e9859">
<circle cx="170.8" cy="177.3" r="5.0"/>
</g>
<g fill="#4b9556">
<circle cx="160.9" cy="154.7" r="6.7"/>
</g>
<g fill="#509a5b">
<circle cx="505.7" cy="154.2" r="4.3"/>
<circle cx="352.8" cy="132.5" r="5.1"/>
</g>
<g fill="#509b5b">
<circle cx="210.2" cy="124.4" r="5.4"/>
</g>
<g fill="#4f9a5a">
<circle cx="228.9" cy="134.5" r="4.5"/>
</g>
<g fill="#499354">
<circle cx="448.3" cy="148.7" r="5.4"/>
</g>
<g fill="#4a9455">
<circle cx="494.0" cy="161.2" r="6.9"/>
</g>
<g fill="#519b5c">
<circle cx="579.3" cy="117.9" r="5.4"/>
</g>
<g fill="#509b5b">
<circle cx="566.3" cy="194.9" r="4.2"/>
</g>
<g fill="#4a9455">
<circle cx="421.7" cy="101.2" r="4.9"/>
</g>
<g fill="#3e8549">
<circle cx="555.5" cy="212.7" r="8.7"/>
</g>
<g fill="#438c4e">
<circle cx="601.5" cy="207.6" r="5.8"/>
</g>
<g fill="#448d4f">
<circle cx="582.8" cy="159.0" r="6.1"/>
</g>
<g fill="#479152">
<circle cx="556.7" cy="143.7" r="5.3"/>
</g>
<g fill="#357940">
<circle cx="501.8" cy="177.0" r="8.7"/>
</g>
<g fill="#469051">
<circle cx="550.5" cy="189.4" r="5.7"/>
</g>
<g fill="#3c8247">
<circle cx="559.8" cy="131.6" r="9.0"/>
</g>
<g fill="#448d4f">
<circle cx="568.9" cy="146.7" r="7.0"/>
</g>
<g fill="#4d9758">
<circle cx="377.3" cy="148.6" r="5.0"/>
</g>
<g fill="#458e50">
<circle cx="602.1" cy="206.1" r="5.5"/>
</g>
<g fill="#479152">
<circle cx="378.5" cy="122.4" r="4.8"/>
</g>
<g fill="#519b5c">
<circle cx="568.5" cy="175.0" r="4.2"/>
</g>
<g fill="#4e9859">
<circle cx="569.7" cy="237.7" r="4.2"/>
</g>
<g fill="#4a9455">
<circle cx="427.5" cy="138.9" r="4.9"/>
</g>
<g fill="#4c9757">
<circle cx="532.8" cy="168.7" r="6.4"/>
</g>
<g fill="#58a363">
<circle cx="398.6" cy="130.7" r="4.5"/>
</g>
<g fill="#3f864a">
<circle cx="204.4" cy="151.9" r="6.0"/>
</g>
<g fill="#4d9858">
<circle cx="211.4" cy="159.4" r="6.0"/>
</g>
<g fill="#4c9657">
<circle cx="569.9" cy="129.6" r="4.6"/>
</g>
<g fill="#489253">
<circle cx="558.6" cy="213.0" r="5.6"/>
</g>
<g fill="#539e5e">
<circle cx="579.5" cy="152.8" r="5.9"/>
</g>
<g fill="#40884b">
<circle cx="501.8" cy="165.8" r="7.3"/>
</g>
<g fill="#5aa565">
<circle cx="504.1" cy="98.9" r="4.2"/>
</g>
<g fill="#458e50">
<circle cx="222.9" cy="130.7" r="5.0"/>
</g>
<g fill="#448c4f">
<circle cx="608.3" cy="146.6" r="6.7"/>
</g>
<g fill="#3c8247">
<circle cx="565.1" cy="165.9" r="7.8"/>
</g>
<g fill="#3e8649">
<circle cx="576.1" cy="150.9" r="9.0"/>
</g>
<g fill="#57a162">
<circle cx="507.5" cy="158.3" r="4.4"/>
</g>
<g fill="#3d8448">
<circle cx="509.8" cy="168.6" r="7.6"/>
</g>
<g fill="#4f995a">
<circle cx="572.4" cy="115.6" r="6.3"/>
</g>
<g fill="#4e9859">
<circle cx="419.0" cy="160.9" r="5.7"/>
</g>
<g fill="#4b9556">
<circle cx="180.1" cy="159.4" r="4.9"/>
</g>
<g fill="#5aa565">
<circle cx="412.7" cy="121.3" r="4.0"/>
</g>
<g fill="#4e9859">
<circle cx="196.5" cy="135.0" r="4.5"/>
</g>
<g fill="#539d5e">
<circle cx="586.3" cy="130.5" r="4.8"/>
</g>
<g fill="#4b9556">
<circle cx="222.1" cy="126.0" r="4.7"/>
</g>
<g fill="#59a464">
<circle cx="577.3" cy="132.7" r="4.1"/>
</g>
<g fill="#58a363">
<circle cx="481.5" cy="101.4" r="4.2"/>
</g>
<g fill="#489253">
<circle cx="360.2" cy="145.6" r="6.1"/>
</g>
<g fill="#499354">
<circle cx="467.6" cy="149.3" r="5.0"/>
</g>
<g fill="#5aa565">
<circle cx="508.1" cy="162.6" r="3.9"/>
</g>
<g fill="#468f51">
<circle cx="202.9" cy="139.3" r="7.5"/>
</g>
<g fill="#4a9455">
<circle cx="507.1" cy="171.4" r="4.6"/>
</g>
<g fill="#3b8246">
<circle cx="170.8" cy="174.2" r="6.8"/>
</g>
<g fill="#4c9657">
<circle cx="551.7" cy="139.0" r="5.8"/>
</g>
<g fill="#458e50">
<circle cx="493.8" cy="170.2" r="5.9"/>
</g>
<g fill="#479152">
<circle cx="492.1" cy="162.3" r="5.1"/>
</g>
<g fill="#549e5f">
<circle cx="531.4" cy="172.3" r="4.3"/>
</g>
<g fill="#58a363">
<circle cx="233.7" cy="138.9" r="4.5"/>
</g>
<g fill="#549f5f">
<circle cx="356.3" cy="120.2" r="5.0"/>
</g>
<g fill="#4c9657">
<circle cx="574.8" cy="130.0" r="5.6"/>
</g>
<g fill="#57a262">
<circle cx="409.4" cy="94.5" r="4.0"/>
</g>
<g fill="#4b9556">
<circle cx="601.9" cy="144.4" r="5.9"/>
</g>
<g fill="#529d5d">
<circle cx="423.1" cy="99.4" r="5.2"/>
</g>
<g fill="#489253">
<circle cx="427.5" cy="143.4" r="7.0"/>
</g>
<g fill="#509a5b">
<circle cx="259.6" cy="286.5" r="5.5"/>
</g>
<g fill="#4b9556">
<circle cx="418.6" cy="159.2" r="5.1"/>
</g>
<g fill="#539d5e">
<circle cx="561.8" cy="227.0" r="4.8"/>
</g>
<g fill="#5ca666">
<circle cx="220.0" cy="132.9" r="4.0"/>
</g>
<g fill="#499354">
<circle cx="232.6" cy="136.6" r="4.9"/>
</g>
<g fill="#5aa565">
<circle cx="567.6" cy="136.4" r="4.5"/>
</g>
<g fill="#479152">
<circle cx="563.0" cy="151.5" r="5.4"/>
</g>
<g fill="#469051">
<circle cx="405.6" cy="102.1" r="8.0"/>
</g>
<g fill="#509a5b">
<circle cx="204.7" cy="137.5" r="4.9"/>
</g>
<g fill="#57a262">
<circle cx="210.4" cy="173.2" r="3.9"/>
</g>
<g fill="#5fa969">
<circle cx="376.1" cy="109.7" r="3.9"/>
</g>
<g fill="#529c5d">
<circle cx="231.3" cy="137.6" r="5.2"/>
</g>
<g fill="#57a162">
<circle cx="460.0" cy="107.3" r="4.2"/>
</g>
<g fill="#519b5c">
<circle cx="572.1" cy="160.7" r="4.5"/>
</g>
<g fill="#58a363">
<circle cx="558.8" cy="152.6" r="4.6"/>
</g>
<g fill="#509b5b">
<circle cx="567.2" cy="159.5" r="5.8"/>
</g>
<g fill="#529c5d">
<circle cx="588.5" cy="185.0" r="5.3"/>
</g>
<g fill="#559f60">
<circle cx="443.9" cy="95.5" r="3.9"/>
</g>
<g fill="#3e8549">
<circle cx="434.5" cy="147.6" r="7.0"/>
</g>
<g fill="#499354">
<circle cx="356.7" cy="109.0" r="5.0"/>
<circle cx="136.6" cy="149.7" r="5.5"/>
</g>
<g fill="#5aa565">
<circle cx="473.7" cy="100.2" r="4.2"/>
</g>
<g fill="#519c5c">
<circle cx="538.7" cy="138.6" r="3.8"/>
</g>
<g fill="#60a969">
<circle cx="504.1" cy="153.4" r="3.8"/>
</g>
<g fill="#55a060">
<circle cx="223.7" cy="135.6" r="4.2"/>
</g>
<g fill="#3a8045">
<circle cx="142.0" cy="139.4" r="9.0"/>
</g>
<g fill="#519c5c">
<circle cx="400.2" cy="107.1" r="4.2"/>
</g>
<g fill="#367b41">
<circle cx="510.4" cy="186.1" r="9.7"/>
</g>
<g fill="#3d8348">
<circle cx="378.1" cy="113.8" r="7.1"/>
</g>
<g fill="#539d5e">
<circle cx="141.4" cy="143.5" r="5.2"/>
</g>
<g fill="#397e44">
<circle cx="557.8" cy="148.9" r="9.0"/>
</g>
<g fill="#509a5b">
<circle cx="173.7" cy="173.0" r="4.1"/>
</g>
<g fill="#458f50">
<circle cx="502.3" cy="190.7" r="5.6"/>
</g>
<g fill="#428b4d">
<circle cx="142.1" cy="151.1" r="5.5"/>
</g>
<g fill="#509a5b">
<circle cx="223.1" cy="129.3" r="3.9"/>
</g>
<g fill="#448d4f">
<circle cx="569.0" cy="133.7" r="9.0"/>
</g>
<g fill="#539e5e">
<circle cx="577.3" cy="128.9" r="3.9"/>
</g>
<g fill="#56a061">
<circle cx="199.9" cy="144.8" r="3.7"/>
</g>
<g fill="#5ea868">
<circle cx="405.2" cy="110.0" r="4.0"/>
<circle cx="418.4" cy="119.7" r="3.6"/>
</g>
<g fill="#549e5f">
<circle cx="171.1" cy="175.6" r="3.7"/>
</g>
<g fill="#479052">
<circle cx="394.6" cy="106.1" r="7.0"/>
</g>
<g fill="#56a161">
<circle cx="382.2" cy="122.4" r="3.7"/>
</g>
<g fill="#3d8348">
<circle cx="420.3" cy="162.0" r="6.8"/>
</g>
<g fill="#59a464">
<circle cx="172.3" cy="150.6" r="3.9"/>
</g>
<g fill="#489253">
<circle cx="419.6" cy="159.8" r="5.4"/>
</g>
<g fill="#4a9455">
<circle cx="420.1" cy="158.3" r="5.0"/>
</g>
<g fill="#3a8045">
<circle cx="562.1" cy="135.1" r="8.8"/>
</g>
<g fill="#3f874a">
<circle cx="502.7" cy="160.3" r="6.8"/>
</g>
<g fill="#5fa969">
<circle cx="174.3" cy="180.4" r="3.5"/>
</g>
<g fill="#4b9656">
<circle cx="356.8" cy="117.1" r="4.9"/>
</g>
<g fill="#59a464">
<circle cx="229.2" cy="299.3" r="3.7"/>
</g>
<g fill="#499454">
<circle cx="560.0" cy="146.5" r="5.7"/>
</g>
<g fill="#56a161">
<circle cx="398.2" cy="89.1" r="4.5"/>
</g>
<g fill="#499354">
<circle cx="373.6" cy="105.2" r="5.3"/>
</g>
<g fill="#5ea868">
<circle cx="563.0" cy="143.4" r="3.8"/>
</g>
<g fill="#468f51">
<circle cx="511.8" cy="165.9" r="7.1"/>
</g>
<g fill="#58a363">
<circle cx="496.6" cy="156.8" r="4.3"/>
</g>
<g fill="#4d9758">
<circle cx="514.7" cy="174.6" r="5.8"/>
</g>
<g fill="#41884c">
<circle cx="195.7" cy="130.5" r="6.2"/>
</g>
<g fill="#3e8549">
<circle cx="590.2" cy="139.9" r="6.4"/>
</g>
<g fill="#4d9758">
<circle cx="581.2" cy="167.8" r="6.9"/>
</g>
<g fill="#539e5e">
<circle cx="557.5" cy="148.3" r="5.9"/>
</g>
<g fill="#55a060">
<circle cx="564.2" cy="157.0" r="5.4"/>
</g>
<g fill="#458e50">
<circle cx="559.1" cy="177.0" r="6.5"/>
</g>
<g fill="#4d9758">
<circle cx="577.8" cy="149.9" r="5.5"/>
</g>
<g fill="#489253">
<circle cx="346.9" cy="139.8" r="5.0"/>
</g>
<g fill="#5da767">
<circle cx="583.5" cy="126.2" r="3.7"/>
</g>
<g fill="#4a9455">
<circle cx="554.9" cy="213.4" r="5.6"/>
</g>
<g fill="#448d4f">
<circle cx="598.5" cy="197.7" r="8.5"/>
</g>
<g fill="#4d9858">
<circle cx="216.1" cy="135.3" r="5.3"/>
</g>
<g fill="#59a464">
<circle cx="577.9" cy="132.3" r="3.4"/>
</g>
<g fill="#4a9455">
<circle cx="180.4" cy="160.5" r="6.0"/>
</g>
<g fill="#549f5f">
<circle cx="561.6" cy="181.0" r="3.6"/>
</g>
<g fill="#499354">
<circle cx="457.7" cy="176.8" r="5.2"/>
</g>
<g fill="#549f5f">
<circle cx="557.5" cy="211.1" r="4.5"/>
</g>
<g fill="#438b4e">
<circle cx="569.5" cy="139.6" r="8.7"/>
</g>
<g fill="#4f995a">
<circle cx="414.4" cy="133.2" r="4.0"/>
</g>
<g fill="#55a060">
<circle cx="569.9" cy="141.5" r="4.5"/>
</g>
<g fill="#468f51">
<circle cx="346.3" cy="149.9" r="5.2"/>
</g>
<g fill="#469051">
<circle cx="221.7" cy="142.7" r="7.5"/>
</g>
<g fill="#499354">
<circle cx="568.2" cy="141.0" r="6.0"/>
</g>
<g fill="#539e5e">
<circle cx="372.1" cy="109.3" r="5.2"/>
</g>
<g fill="#5fa969">
<circle cx="230.5" cy="295.6" r="3.4"/>
</g>
<g fill="#69b171">
<circle cx="561.4" cy="137.0" r="3.6"/>
</g>
<g fill="#499454">
<circle cx="370.9" cy="116.1" r="6.0"/>
</g>
<g fill="#58a363">
<circle cx="502.4" cy="166.7" r="3.7"/>
</g>
<g fill="#539e5e">
<circle cx="599.3" cy="152.9" r="4.9"/>
</g>
<g fill="#3a8045">
<circle cx="592.8" cy="188.5" r="7.5"/>
</g>
<g fill="#57a262">
<circle cx="401.4" cy="133.2" r="3.9"/>
</g>
<g fill="#4d9758">
<circle cx="505.2" cy="157.8" r="5.8"/>
</g>
<g fill="#479152">
<circle cx="500.5" cy="163.7" r="7.1"/>
</g>
<g fill="#4e9859">
<circle cx="518.3" cy="176.4" r="4.0"/>
</g>
<g fill="#62ab6b">
<circle cx="574.0" cy="143.0" r="3.7"/>
</g>
<g fill="#4d9858">
<circle cx="491.0" cy="152.1" r="4.4"/>
</g>
<g fill="#377c42">
<circle cx="384.4" cy="122.3" r="8.0"/>
</g>
<g fill="#60aa6a">
<circle cx="553.8" cy="139.4" r="4.1"/>
</g>
<g fill="#5aa565">
<circle cx="363.9" cy="126.5" r="3.5"/>
</g>
<g fill="#57a262">
<circle cx="382.1" cy="134.4" r="3.5"/>
<circle cx="517.5" cy="177.9" r="3.6"/>
</g>
<g fill="#60aa6a">
<circle cx="552.8" cy="171.0" r="4.2"/>
</g>
<g fill="#539e5e">
<circle cx="579.2" cy="154.9" r="3.9"/>
</g>
<g fill="#4f995a">
<circle cx="565.0" cy="146.5" r="5.7"/>
</g>
<g fill="#499354">
<circle cx="568.0" cy="194.7" r="5.8"/>
</g>
<g fill="#40884b">
<circle cx="389.9" cy="113.0" r="6.1"/>
</g>
<g fill="#509b5b">
<circle cx="560.0" cy="227.2" r="5.5"/>
</g>
<g fill="#5ca666">
<circle cx="492.1" cy="113.7" r="3.5"/>
</g>
<g fill="#55a060">
<circle cx="437.9" cy="148.5" r="4.0"/>
</g>
<g fill="#67af6f">
<circle cx="514.6" cy="183.4" r="3.3"/>
</g>
<g fill="#58a363">
<circle cx="593.8" cy="143.2" r="3.9"/>
</g>
<g fill="#5ca767">
<circle cx="424.8" cy="152.4" r="3.9"/>
</g>
<g fill="#4f9a5a">
<circle cx="576.9" cy="120.5" r="4.7"/>
</g>
<g fill="#5fa969">
<circle cx="578.4" cy="116.0" r="3.9"/>
</g>
<g fill="#509a5b">
<circle cx="438.7" cy="151.5" r="3.9"/>
</g>
<g fill="#458e50">
<circle cx="211.7" cy="135.3" r="5.3"/>
</g>
<g fill="#5ca767">
<circle cx="566.3" cy="168.1" r="3.7"/>
</g>
<g fill="#3f874a">
<circle cx="360.9" cy="107.4" r="6.4"/>
</g>
<g fill="#57a262">
<circle cx="420.0" cy="165.2" r="4.3"/>
</g>
<g fill="#458e50">
<circle cx="566.8" cy="152.4" r="7.2"/>
</g>
<g fill="#539e5e">
<circle cx="169.6" cy="175.0" r="4.2"/>
</g>
<g fill="#5fa969">
<circle cx="144.0" cy="139.4" r="3.6"/>
</g>
<g fill="#3a8045">
<circle cx="493.2" cy="164.2" r="11.0"/>
</g>
<g fill="#62ab6b">
<circle cx="550.6" cy="146.2" r="3.8"/>
</g>
<g fill="#59a464">
<circle cx="427.4" cy="144.0" r="3.7"/>
</g>
<g fill="#63ac6c">
<circle cx="548.4" cy="182.2" r="3.3"/>
</g>
<g fill="#4e9859">
<circle cx="548.6" cy="190.8" r="5.4"/>
</g>
<g fill="#57a262">
<circle cx="570.5" cy="170.8" r="5.0"/>
</g>
<g fill="#479152">
<circle cx="175.2" cy="176.4" r="4.7"/>
</g>
<g fill="#509a5b">
<circle cx="355.8" cy="107.9" r="5.3"/>
</g>
<g fill="#5ea868">
<circle cx="581.4" cy="125.6" r="4.0"/>
</g>
<g fill="#55a060">
<circle cx="439.2" cy="149.0" r="3.9"/>
</g>
<g fill="#5fa969">
<circle cx="348.2" cy="152.5" r="3.3"/>
</g>
<g fill="#4e9859">
<circle cx="548.3" cy="159.6" r="5.5"/>
</g>
<g fill="#4b9556">
<circle cx="526.8" cy="170.1" r="4.7"/>
<circle cx="349.9" cy="132.4" r="7.0"/>
</g>
<g fill="#6ab171">
<circle cx="609.4" cy="144.4" r="3.1"/>
</g>
<g fill="#4b9556">
<circle cx="507.1" cy="160.8" r="4.3"/>
</g>
<g fill="#499354">
<circle cx="226.9" cy="128.5" r="5.5"/>
</g>
<g fill="#5fa969">
<circle cx="555.3" cy="157.5" r="3.4"/>
</g>
<g fill="#468f51">
<circle cx="577.0" cy="120.6" r="7.3"/>
</g>
<g fill="#529c5d">
<circle cx="181.9" cy="155.0" r="4.3"/>
</g>
<g fill="#57a262">
<circle cx="396.1" cy="80.5" r="3.4"/>
</g>
<g fill="#5fa969">
<circle cx="524.2" cy="101.3" r="3.6"/>
</g>
<g fill="#68b070">
<circle cx="380.6" cy="128.0" r="3.1"/>
</g>
<g fill="#59a364">
<circle cx="358.1" cy="147.0" r="3.9"/>
</g>
<g fill="#5aa565">
<circle cx="289.4" cy="241.3" r="3.7"/>
</g>
<g fill="#428a4d">
<circle cx="358.3" cy="140.4" r="5.7"/>
</g>
<g fill="#4a9555">
<circle cx="430.3" cy="105.5" r="4.3"/>
</g>
<g fill="#5aa565">
<circle cx="233.4" cy="119.0" r="3.7"/>
</g>
<g fill="#529c5d">
<circle cx="485.7" cy="161.9" r="5.6"/>
</g>
<g fill="#458e50">
<circle cx="568.9" cy="162.2" r="6.3"/>
</g>
<g fill="#5ca666">
<circle cx="512.4" cy="100.4" r="3.4"/>
</g>
<g fill="#4f995a">
<circle cx="212.3" cy="132.8" r="5.0"/>
</g>
<g fill="#63ac6c">
<circle cx="464.8" cy="97.8" r="4.2"/>
</g>
<g fill="#5ba666">
<circle cx="387.4" cy="105.4" r="3.2"/>
</g>
<g fill="#4d9758">
<circle cx="596.1" cy="198.5" r="5.9"/>
</g>
<g fill="#5fa969">
<circle cx="562.4" cy="139.0" r="3.7"/>
</g>
<g fill="#5ea868">
<circle cx="444.3" cy="148.4" r="3.3"/>
</g>
<g fill="#519b5c">
<circle cx="609.5" cy="126.1" r="4.5"/>
</g>
<g fill="#519c5c">
<circle cx="238.5" cy="119.7" r="3.8"/>
</g>
<g fill="#58a263">
<circle cx="351.9" cy="100.8" r="3.4"/>
</g>
<g fill="#479052">
<circle cx="418.4" cy="159.0" r="4.9"/>
</g>
<g fill="#4b9556">
<circle cx="141.2" cy="139.5" r="5.8"/>
</g>
<g fill="#59a364">
<circle cx="561.9" cy="150.9" r="3.8"/>
</g>
<g fill="#499354">
<circle cx="591.8" cy="192.0" r="6.8"/>
</g>
<g fill="#4c9657">
<circle cx="353.2" cy="121.1" r="4.5"/>
</g>
<g fill="#58a363">
<circle cx="556.2" cy="132.5" r="4.3"/>
</g>
<g fill="#5da868">
<circle cx="447.7" cy="118.6" r="3.2"/>
</g>
<g fill="#5ea868">
<circle cx="164.6" cy="112.3" r="3.1"/>
</g>
<g fill="#41894c">
<circle cx="568.0" cy="125.2" r="7.6"/>
</g>
<g fill="#3f874a">
<circle cx="384.7" cy="132.0" r="6.0"/>
</g>
<g fill="#55a060">
<circle cx="487.0" cy="158.7" r="5.0"/>
</g>
<g fill="#4f9a5a">
<circle cx="493.2" cy="166.0" r="4.2"/>
</g>
<g fill="#5fa969">
<circle cx="424.4" cy="103.6" r="4.2"/>
</g>
<g fill="#539d5e">
<circle cx="390.4" cy="129.1" r="4.9"/>
</g>
<g fill="#55a060">
<circle cx="566.5" cy="168.7" r="5.3"/>
</g>
<g fill="#5ea868">
<circle cx="216.8" cy="177.5" r="3.3"/>
</g>
<g fill="#529d5d">
<circle cx="570.6" cy="161.2" r="4.0"/>
</g>
<g fill="#469051">
<circle cx="443.9" cy="151.5" r="5.4"/>
</g>
<g fill="#509a5b">
<circle cx="214.4" cy="134.3" r="5.5"/>
</g>
<g fill="#60aa6a">
<circle cx="575.4" cy="142.2" r="4.3"/>
</g>
<g fill="#4c9657">
<circle cx="436.7" cy="138.2" r="6.3"/>
</g>
<g fill="#468f51">
<circle cx="576.1" cy="119.0" r="8.7"/>
</g>
<g fill="#5da767">
<circle cx="210.7" cy="134.6" r="3.2"/>
</g>
<g fill="#519b5c">
<circle cx="365.5" cy="107.4" r="5.1"/>
</g>
<g fill="#4b9656">
<circle cx="553.8" cy="181.4" r="4.5"/>
</g>
<g fill="#4e9859">
<circle cx="558.7" cy="212.4" r="6.0"/>
</g>
<g fill="#539d5e">
<circle cx="509.3" cy="183.5" r="4.1"/>
</g>
<g fill="#5da868">
<circle cx="578.5" cy="118.2" r="4.3"/>
</g>
<g fill="#61aa6a">
<circle cx="626.1" cy="296.0" r="2.9"/>
</g>
<g fill="#6ab171">
<circle cx="213.3" cy="134.4" r="3.1"/>
</g>
<g fill="#5ca767">
<circle cx="402.6" cy="85.5" r="3.4"/>
</g>
<g fill="#60a969">
<circle cx="457.4" cy="174.7" r="3.3"/>
</g>
<g fill="#3c8247">
<circle cx="512.3" cy="176.5" r="7.9"/>
</g>
<g fill="#499454">
<circle cx="520.6" cy="172.2" r="5.6"/>
</g>
<g fill="#5ca767">
<circle cx="404.5" cy="102.9" r="3.0"/>
</g>
<g fill="#57a262">
<circle cx="435.8" cy="145.9" r="4.3"/>
</g>
<g fill="#529d5d">
<circle cx="393.9" cy="89.1" r="3.9"/>
</g>
<g fill="#57a262">
<circle cx="430.7" cy="136.8" r="4.3"/>
</g>
<g fill="#509b5b">
<circle cx="174.1" cy="178.3" r="4.8"/>
</g>
<g fill="#529d5d">
<circle cx="548.3" cy="213.3" r="4.0"/>
</g>
<g fill="#4e9959">
<circle cx="516.1" cy="183.2" r="5.3"/>
</g>
<g fill="#4b9556">
<circle cx="583.0" cy="152.6" r="7.1"/>
</g>
<g fill="#387d43">
<circle cx="420.3" cy="167.6" r="9.7"/>
</g>
<g fill="#63ac6c">
<circle cx="146.0" cy="145.7" r="3.5"/>
</g>
<g fill="#5aa565">
<circle cx="359.7" cy="106.3" r="3.1"/>
</g>
<g fill="#559f60">
<circle cx="563.8" cy="131.9" r="4.6"/>
</g>
<g fill="#529d5d">
<circle cx="565.2" cy="185.9" r="4.4"/>
</g>
<g fill="#69b171">
<circle cx="387.5" cy="116.4" r="2.8"/>
</g>
<g fill="#3d8448">
<circle cx="419.1" cy="157.2" r="9.0"/>
</g>
<g fill="#448d4f">
<circle cx="508.2" cy="179.4" r="7.8"/>
</g>
<g fill="#448c4f">
<circle cx="381.6" cy="133.4" r="5.9"/>
</g>
<g fill="#63ac6c">
<circle cx="410.2" cy="107.5" r="3.0"/>
</g>
<g fill="#4b9556">
<circle cx="565.2" cy="195.6" r="4.5"/>
</g>
<g fill="#3c8247">
<circle cx="570.2" cy="138.8" r="8.8"/>
</g>
<g fill="#41894c">
<circle cx="554.4" cy="155.0" r="6.5"/>
</g>
<g fill="#509a5b">
<circle cx="457.2" cy="145.3" r="4.1"/>
</g>
<g fill="#61aa6a">
<circle cx="429.6" cy="100.0" r="4.2"/>
</g>
<g fill="#65ae6e">
<circle cx="227.0" cy="125.5" r="3.4"/>
</g>
<g fill="#509b5b">
<circle cx="563.4" cy="155.2" r="5.3"/>
</g>
<g fill="#5ca767">
<circle cx="389.5" cy="109.8" r="4.0"/>
</g>
<g fill="#57a262">
<circle cx="171.8" cy="173.9" r="3.9"/>
</g>
<g fill="#519c5c">
<circle cx="362.5" cy="133.1" r="4.2"/>
</g>
<g fill="#56a161">
<circle cx="139.8" cy="144.9" r="4.6"/>
</g>
<g fill="#4c9657">
<circle cx="432.5" cy="134.6" r="4.5"/>
</g>
<g fill="#67af6f">
<circle cx="161.6" cy="160.8" r="3.2"/>
</g>
<g fill="#59a464">
<circle cx="462.4" cy="154.3" r="3.6"/>
</g>
<g fill="#5ca666">
<circle cx="198.1" cy="138.6" r="3.9"/>
</g>
<g fill="#458e50">
<circle cx="176.8" cy="168.0" r="7.0"/>
</g>
<g fill="#549f5f">
<circle cx="500.5" cy="170.1" r="5.0"/>
</g>
<g fill="#519c5c">
<circle cx="600.8" cy="205.4" r="4.4"/>
</g>
<g fill="#418a4c">
<circle cx="418.1" cy="158.2" r="6.3"/>
</g>
<g fill="#66ae6e">
<circle cx="558.2" cy="190.9" r="3.4"/>
</g>
<g fill="#68b070">
<circle cx="285.5" cy="236.4" r="2.7"/>
</g>
<g fill="#4e9859">
<circle cx="398.9" cy="124.1" r="6.3"/>
</g>
<g fill="#4f995a">
<circle cx="361.0" cy="134.7" r="4.8"/>
</g>
<g fill="#489253">
<circle cx="209.3" cy="154.5" r="5.4"/>
</g>
<g fill="#4f9a5a">
<circle cx="388.6" cy="139.3" r="3.9"/>
</g>
<g fill="#448d4f">
<circle cx="494.8" cy="160.8" r="5.2"/>
</g>
<g fill="#64ac6c">
<circle cx="555.2" cy="224.0" r="3.3"/>
</g>
<g fill="#68b070">
<circle cx="167.3" cy="171.5" r="2.9"/>
</g>
<g fill="#5aa565">
<circle cx="397.5" cy="107.5" r="3.1"/>
</g>
<g fill="#56a161">
<circle cx="441.0" cy="150.6" r="4.3"/>
</g>
<g fill="#448d4f">
<circle cx="506.6" cy="198.2" r="7.8"/>
</g>
<g fill="#58a363">
<circle cx="556.9" cy="171.1" r="4.6"/>
</g>
<g fill="#33763e">
<circle cx="525.2" cy="166.0" r="9.0"/>
</g>
<g fill="#69b070">
<circle cx="574.7" cy="129.1" r="3.0"/>
</g>
<g fill="#529c5d">
<circle cx="232.6" cy="131.6" r="4.8"/>
</g>
<g fill="#6bb272">
<circle cx="261.5" cy="263.6" r="2.9"/>
</g>
<g fill="#61ab6b">
<circle cx="211.9" cy="127.5" r="2.8"/>
</g>
<g fill="#3d8348">
<circle cx="588.5" cy="170.1" r="6.9"/>
</g>
<g fill="#66af6f">
<circle cx="272.8" cy="227.6" r="2.7"/>
</g>
<g fill="#428a4d">
<circle cx="149.9" cy="152.2" r="7.0"/>
</g>
<g fill="#65ad6d">
<circle cx="173.1" cy="116.6" r="2.7"/>
</g>
<g fill="#5ca767">
<circle cx="438.1" cy="106.9" r="3.5"/>
</g>
<g fill="#458f50">
<circle cx="356.4" cy="108.9" r="7.7"/>
</g>
<g fill="#61ab6b">
<circle cx="420.5" cy="132.7" r="3.1"/>
</g>
<g fill="#56a161">
<circle cx="470.5" cy="148.9" r="3.5"/>
</g>
<g fill="#6cb373">
<circle cx="358.8" cy="107.2" r="2.8"/>
</g>
<g fill="#519c5c">
<circle cx="375.2" cy="107.4" r="4.3"/>
</g>
<g fill="#4b9556">
<circle cx="549.2" cy="185.1" r="4.6"/>
</g>
<g fill="#479052">
<circle cx="424.9" cy="143.4" r="6.5"/>
</g>
<g fill="#68af6f">
<circle cx="161.7" cy="130.4" r="2.8"/>
</g>
<g fill="#59a464">
<circle cx="576.4" cy="117.2" r="4.0"/>
</g>
<g fill="#4b9556">
<circle cx="411.2" cy="139.9" r="4.6"/>
</g>
<g fill="#5ba666">
<circle cx="360.2" cy="143.7" r="3.7"/>
</g>
<g fill="#4d9758">
<circle cx="368.3" cy="145.9" r="5.1"/>
</g>
<g fill="#79bb7d">
<circle cx="549.9" cy="171.2" r="2.7"/>
</g>
<g fill="#3e8649">
<circle cx="560.6" cy="181.0" r="9.0"/>
</g>
<g fill="#56a161">
<circle cx="184.6" cy="184.4" r="4.3"/>
</g>
<g fill="#59a464">
<circle cx="550.4" cy="180.7" r="3.7"/>
</g>
<g fill="#71b777">
<circle cx="233.6" cy="228.4" r="2.6"/>
</g>
<g fill="#4e9859">
<circle cx="222.3" cy="129.3" r="4.3"/>
</g>
<g fill="#529c5d">
<circle cx="268.8" cy="229.1" r="3.9"/>
</g>
<g fill="#5ba666">
<circle cx="466.5" cy="142.2" r="4.3"/>
</g>
<g fill="#56a161">
<circle cx="359.0" cy="130.0" r="4.2"/>
</g>
<g fill="#67af6f">
<circle cx="503.3" cy="177.1" r="2.9"/>
</g>
<g fill="#509a5b">
<circle cx="528.1" cy="165.3" r="3.9"/>
</g>
<g fill="#6ab272">
<circle cx="507.1" cy="172.9" r="2.6"/>
</g>
<g fill="#71b676">
<circle cx="374.6" cy="122.1" r="2.8"/>
</g>
<g fill="#4a9455">
<circle cx="173.5" cy="177.9" r="6.9"/>
</g>
<g fill="#448c4f">
<circle cx="203.4" cy="152.5" r="6.0"/>
</g>
<g fill="#5fa969">
<circle cx="399.2" cy="135.4" r="3.2"/>
</g>
<g fill="#72b878">
<circle cx="556.4" cy="132.1" r="2.8"/>
</g>
<g fill="#64ad6d">
<circle cx="574.5" cy="128.3" r="3.7"/>
</g>
<g fill="#60a969">
<circle cx="562.1" cy="174.2" r="4.2"/>
</g>
<g fill="#5ea868">
<circle cx="507.1" cy="100.0" r="4.2"/>
</g>
<g fill="#509a5b">
<circle cx="421.1" cy="165.0" r="4.3"/>
</g>
<g fill="#6fb575">
<circle cx="279.1" cy="262.1" r="2.6"/>
</g>
<g fill="#428a4d">
<circle cx="550.1" cy="156.0" r="6.5"/>
</g>
<g fill="#4e9859">
<circle cx="553.2" cy="162.9" r="5.1"/>
</g>
<g fill="#60a969">
<circle cx="488.4" cy="151.7" r="3.5"/>
</g>
<g fill="#57a162">
<circle cx="532.0" cy="130.1" r="3.4"/>
</g>
<g fill="#5aa565">
<circle cx="225.3" cy="134.7" r="3.2"/>
</g>
<g fill="#66ae6e">
<circle cx="516.0" cy="106.4" r="2.9"/>
</g>
<g fill="#6eb474">
<circle cx="402.1" cy="130.2" r="2.7"/>
</g>
<g fill="#6ab171">
<circle cx="388.3" cy="111.5" r="2.6"/>
</g>
<g fill="#5ca666">
<circle cx="424.0" cy="153.7" r="3.7"/>
</g>
<g fill="#4e9859">
<circle cx="277.1" cy="254.9" r="4.6"/>
</g>
<g fill="#64ad6d">
<circle cx="590.0" cy="145.8" r="3.2"/>
</g>
<g fill="#69b070">
<circle cx="611.1" cy="136.0" r="3.3"/>
</g>
<g fill="#509a5b">
<circle cx="204.5" cy="141.0" r="4.5"/>
</g>
<g fill="#55a060">
<circle cx="272.7" cy="275.1" r="4.0"/>
</g>
<g fill="#69b171">
<circle cx="565.1" cy="148.2" r="3.3"/>
</g>
<g fill="#4d9758">
<circle cx="440.1" cy="147.5" r="5.6"/>
</g>
<g fill="#5aa565">
<circle cx="415.9" cy="99.8" r="3.2"/>
<circle cx="390.6" cy="105.9" r="3.5"/>
</g>
<g fill="#5ba666">
<circle cx="597.4" cy="206.5" r="3.0"/>
</g>
<g fill="#6fb575">
<circle cx="561.8" cy="161.8" r="2.6"/>
</g>
<g fill="#5aa565">
<circle cx="438.7" cy="176.4" r="4.4"/>
</g>
<g fill="#559f60">
<circle cx="507.9" cy="176.2" r="4.8"/>
</g>
<g fill="#4e9859">
<circle cx="213.2" cy="135.6" r="4.4"/>
</g>
<g fill="#5aa565">
<circle cx="385.7" cy="108.0" r="4.1"/>
</g>
<g fill="#5ca767">
<circle cx="363.6" cy="144.9" r="3.1"/>
</g>
<g fill="#64ad6d">
<circle cx="465.9" cy="152.8" r="2.9"/>
</g>
<g fill="#41884c">
<circle cx="493.0" cy="157.2" r="6.7"/>
</g>
<g fill="#55a060">
<circle cx="167.6" cy="179.0" r="4.3"/>
</g>
<g fill="#529c5d">
<circle cx="572.8" cy="237.6" r="3.8"/>
</g>
<g fill="#448c4f">
<circle cx="378.9" cy="119.3" r="5.8"/>
</g>
<g fill="#539d5e">
<circle cx="553.9" cy="209.0" r="5.1"/>
</g>
<g fill="#55a060">
<circle cx="447.8" cy="152.2" r="4.8"/>
</g>
<g fill="#5fa969">
<circle cx="580.2" cy="133.3" r="3.7"/>
<circle cx="407.9" cy="129.4" r="3.0"/>
</g>
<g fill="#509b5b">
<circle cx="534.0" cy="173.3" r="4.5"/>
</g>
<g fill="#6ab171">
<circle cx="465.5" cy="181.4" r="2.4"/>
</g>
<g fill="#67af6f">
<circle cx="571.9" cy="156.3" r="3.7"/>
</g>
<g fill="#70b676">
<circle cx="458.9" cy="141.9" r="2.8"/>
<circle cx="427.9" cy="103.4" r="3.2"/>
</g>
<g fill="#5ea868">
<circle cx="501.6" cy="172.0" r="3.6"/>
</g>
<g fill="#6bb272">
<circle cx="564.1" cy="160.0" r="2.4"/>
</g>
<g fill="#63ac6c">
<circle cx="514.1" cy="168.7" r="3.6"/>
</g>
<g fill="#85c287">
<circle cx="573.7" cy="160.6" r="2.4"/>
</g>
<g fill="#428a4d">
<circle cx="601.2" cy="144.6" r="6.3"/>
</g>
<g fill="#66ae6e">
<circle cx="512.2" cy="98.9" r="2.9"/>
</g>
<g fill="#3e8649">
<circle cx="417.8" cy="157.4" r="8.5"/>
</g>
<g fill="#58a363">
<circle cx="365.2" cy="148.9" r="4.2"/>
</g>
<g fill="#66af6f">
<circle cx="143.5" cy="150.1" r="3.3"/>
</g>
<g fill="#6bb272">
<circle cx="265.5" cy="263.6" r="2.7"/>
</g>
<g fill="#418a4c">
<circle cx="153.2" cy="115.4" r="7.5"/>
</g>
<g fill="#60aa6a">
<circle cx="421.5" cy="132.0" r="3.3"/>
</g>
<g fill="#489253">
<circle cx="573.9" cy="238.5" r="7.5"/>
</g>
<g fill="#56a161">
<circle cx="428.7" cy="145.5" r="3.4"/>
</g>
<g fill="#489153">
<circle cx="436.1" cy="174.2" r="5.2"/>
</g>
<g fill="#72b777">
<circle cx="385.2" cy="77.8" r="2.4"/>
</g>
<g fill="#58a363">
<circle cx="350.3" cy="97.3" r="3.4"/>
</g>
<g fill="#458e50">
<circle cx="557.2" cy="173.4" r="6.7"/>
</g>
<g fill="#519c5c">
<circle cx="237.7" cy="119.9" r="5.0"/>
</g>
<g fill="#5ca666">
<circle cx="418.7" cy="160.9" r="3.7"/>
</g>
<g fill="#5ba666">
<circle cx="358.2" cy="148.5" r="3.8"/>
</g>
<g fill="#64ad6d">
<circle cx="252.5" cy="121.8" r="3.6"/>
</g>
<g fill="#5da767">
<circle cx="568.3" cy="120.1" r="3.4"/>
</g>
<g fill="#539d5e">
<circle cx="400.0" cy="155.9" r="3.9"/>
</g>
<g fill="#72b878">
<circle cx="356.3" cy="145.2" r="2.6"/>
</g>
<g fill="#65ad6d">
<circle cx="551.0" cy="153.5" r="3.8"/>
</g>
<g fill="#5da767">
<circle cx="378.1" cy="124.8" r="2.8"/>
</g>
<g fill="#56a161">
<circle cx="360.0" cy="120.0" r="3.2"/>
</g>
<g fill="#4b9556">
<circle cx="204.0" cy="126.0" r="4.6"/>
</g>
<g fill="#60a969">
<circle cx="158.4" cy="132.8" r="3.3"/>
</g>
<g fill="#5ea868">
<circle cx="500.5" cy="153.5" r="3.5"/>
</g>
<g fill="#387e43">
<circle cx="564.0" cy="185.1" r="9.0"/>
</g>
<g fill="#519b5c">
<circle cx="237.5" cy="121.9" r="4.8"/>
</g>
<g fill="#75b979">
<circle cx="344.5" cy="139.9" r="2.4"/>
</g>
<g fill="#5ba565">
<circle cx="588.1" cy="168.2" r="3.6"/>
</g>
<g fill="#5aa565">
<circle cx="577.7" cy="126.3" r="4.9"/>
<circle cx="373.8" cy="110.1" r="3.1"/>
</g>
<g fill="#5fa969">
<circle cx="378.0" cy="149.2" r="2.9"/>
</g>
<g fill="#56a161">
<circle cx="402.9" cy="115.7" r="3.6"/>
</g>
<g fill="#377c42">
<circle cx="400.7" cy="130.4" r="8.0"/>
</g>
<g fill="#4a9455">
<circle cx="149.1" cy="123.4" r="4.5"/>
</g>
<g fill="#3c8347">
<circle cx="205.7" cy="135.7" r="7.0"/>
</g>
<g fill="#489253">
<circle cx="367.4" cy="108.6" r="5.7"/>
</g>
<g fill="#438c4e">
<circle cx="563.7" cy="235.8" r="5.7"/>
</g>
<g fill="#72b878">
<circle cx="384.9" cy="120.2" r="2.4"/>
</g>
<g fill="#6bb272">
<circle cx="267.1" cy="278.6" r="2.4"/>
</g>
<g fill="#428a4d">
<circle cx="463.5" cy="152.8" r="5.8"/>
</g>
<g fill="#57a262">
<circle cx="357.6" cy="108.8" r="4.5"/>
</g>
<g fill="#5fa868">
<circle cx="286.4" cy="249.2" r="3.1"/>
</g>
<g fill="#6cb373">
<circle cx="218.5" cy="124.1" r="2.6"/>
</g>
<g fill="#509a5b">
<circle cx="576.7" cy="125.9" r="4.4"/>
</g>
<g fill="#61aa6a">
<circle cx="564.7" cy="173.7" r="3.2"/>
</g>
<g fill="#4d9758">
<circle cx="607.0" cy="141.9" r="4.6"/>
</g>
<g fill="#6bb272">
<circle cx="565.6" cy="174.7" r="2.9"/>
</g>
<g fill="#499454">
<circle cx="520.2" cy="174.0" r="4.8"/>
</g>
<g fill="#68b070">
<circle cx="196.8" cy="124.6" r="2.8"/>
</g>
<g fill="#5fa969">
<circle cx="377.2" cy="110.9" r="3.3"/>
</g>
<g fill="#489253">
<circle cx="491.3" cy="165.7" r="4.8"/>
</g>
<g fill="#75ba7a">
<circle cx="274.4" cy="262.6" r="2.2"/>
</g>
<g fill="#509a5b">
<circle cx="500.5" cy="152.4" r="3.8"/>
</g>
<g fill="#63ac6c">
<circle cx="368.2" cy="112.8" r="3.5"/>
</g>
<g fill="#4a9555">
<circle cx="547.7" cy="150.5" r="5.3"/>
</g>
<g fill="#73b878">
<circle cx="552.9" cy="162.9" r="2.5"/>
</g>
<g fill="#549e5f">
<circle cx="217.9" cy="142.1" r="4.9"/>
</g>
<g fill="#539e5e">
<circle cx="208.8" cy="155.8" r="4.0"/>
</g>
<g fill="#57a262">
<circle cx="191.3" cy="131.3" r="4.7"/>
</g>
<g fill="#539d5e">
<circle cx="449.4" cy="151.0" r="4.3"/>
</g>
<g fill="#4e9859">
<circle cx="568.3" cy="146.9" r="6.7"/>
</g>
<g fill="#74b979">
<circle cx="355.5" cy="138.2" r="2.3"/>
</g>
<g fill="#69b070">
<circle cx="454.9" cy="148.9" r="2.9"/>
</g>
<g fill="#6bb272">
<circle cx="571.2" cy="146.5" r="2.4"/>
</g>
<g fill="#5ea868">
<circle cx="272.5" cy="257.8" r="3.3"/>
</g>
<g fill="#3f874a">
<circle cx="505.4" cy="188.4" r="7.9"/>
</g>
<g fill="#479052">
<circle cx="413.9" cy="134.7" r="7.5"/>
</g>
<g fill="#57a262">
<circle cx="171.5" cy="177.9" r="3.9"/>
</g>
<g fill="#63ac6c">
<circle cx="143.6" cy="130.3" r="2.5"/>
</g>
<g fill="#4d9758">
<circle cx="555.1" cy="155.5" r="5.2"/>
</g>
<g fill="#3f864a">
<circle cx="575.4" cy="238.1" r="7.1"/>
</g>
<g fill="#6db474">
<circle cx="556.1" cy="159.8" r="2.5"/>
</g>
<g fill="#7bbd7f">
<circle cx="251.2" cy="297.6" r="2.3"/>
</g>
<g fill="#95cb95">
<circle cx="461.5" cy="102.5" r="2.2"/>
</g>
<g fill="#509a5b">
<circle cx="492.9" cy="160.4" r="4.1"/>
</g>
<g fill="#5da767">
<circle cx="363.7" cy="131.4" r="4.2"/>
</g>
<g fill="#4e9859">
<circle cx="564.7" cy="186.5" r="5.7"/>
</g>
<g fill="#65ad6d">
<circle cx="472.6" cy="164.5" r="2.9"/>
</g>
<g fill="#4c9657">
<circle cx="177.7" cy="176.4" r="4.4"/>
</g>
<g fill="#5aa565">
<circle cx="575.6" cy="148.4" r="4.3"/>
</g>
<g fill="#4b9556">
<circle cx="552.0" cy="164.7" r="5.2"/>
</g>
<g fill="#5da767">
<circle cx="204.1" cy="158.4" r="4.0"/>
</g>
<g fill="#4e9859">
<circle cx="575.5" cy="118.0" r="4.8"/>
</g>
<g fill="#4c9657">
<circle cx="428.2" cy="142.2" r="4.8"/>
</g>
<g fill="#489253">
<circle cx="236.9" cy="127.5" r="5.6"/>
</g>
<g fill="#65ae6e">
<circle cx="387.8" cy="116.5" r="3.3"/>
</g>
<g fill="#6eb474">
<circle cx="195.8" cy="141.6" r="2.9"/>
</g>
<g fill="#62ab6b">
<circle cx="422.4" cy="99.0" r="3.3"/>
</g>
<g fill="#62ac6c">
<circle cx="215.1" cy="131.5" r="2.9"/>
</g>
<g fill="#79bc7d">
<circle cx="555.7" cy="160.6" r="2.2"/>
</g>
<g fill="#479152">
<circle cx="588.3" cy="138.9" r="4.7"/>
</g>
<g fill="#5da767">
<circle cx="443.6" cy="140.5" r="3.4"/>
</g>
<g fill="#79bc7d">
<circle cx="208.9" cy="120.7" r="2.2"/>
</g>
<g fill="#63ac6c">
<circle cx="224.0" cy="133.8" r="3.4"/>
</g>
<g fill="#7cbd80">
<circle cx="229.3" cy="290.1" r="2.1"/>
</g>
<g fill="#5ea868">
<circle cx="176.4" cy="104.3" r="2.9"/>
</g>
<g fill="#539d5e">
<circle cx="374.0" cy="110.4" r="4.1"/>
</g>
<g fill="#62ab6b">
<circle cx="560.7" cy="154.5" r="3.4"/>
</g>
<g fill="#7ebe82">
<circle cx="281.7" cy="239.8" r="2.1"/>
</g>
<g fill="#7fbf82">
<circle cx="277.8" cy="240.0" r="2.4"/>
</g>
<g fill="#40874b">
<circle cx="197.1" cy="149.5" r="7.5"/>
</g>
<g fill="#56a161">
<circle cx="494.3" cy="158.2" r="3.3"/>
</g>
<g fill="#4e9859">
<circle cx="194.9" cy="151.4" r="5.0"/>
</g>
<g fill="#63ac6c">
<circle cx="151.6" cy="156.6" r="3.1"/>
</g>
<g fill="#489153">
<circle cx="202.9" cy="132.8" r="4.8"/>
</g>
<g fill="#60aa6a">
<circle cx="560.1" cy="175.6" r="3.4"/>
</g>
<g fill="#4f9a5a">
<circle cx="353.2" cy="107.1" r="5.5"/>
</g>
<g fill="#59a464">
<circle cx="212.4" cy="134.0" r="3.5"/>
</g>
<g fill="#549f5f">
<circle cx="395.6" cy="133.3" r="3.9"/>
</g>
<g fill="#56a161">
<circle cx="460.2" cy="141.5" r="4.4"/>
</g>
<g fill="#57a162">
<circle cx="377.3" cy="108.0" r="4.5"/>
</g>
<g fill="#59a464">
<circle cx="525.0" cy="170.6" r="4.2"/>
</g>
<g fill="#5da868">
<circle cx="382.2" cy="152.7" r="2.8"/>
</g>
<g fill="#60aa6a">
<circle cx="612.7" cy="141.3" r="3.6"/>
</g>
<g fill="#5aa565">
<circle cx="359.7" cy="116.1" r="3.4"/>
</g>
<g fill="#519b5c">
<circle cx="209.1" cy="134.9" r="5.0"/>
</g>
<g fill="#83c185">
<circle cx="577.0" cy="115.3" r="2.5"/>
</g>
<g fill="#64ac6c">
<circle cx="221.0" cy="138.6" r="3.0"/>
</g>
<g fill="#6fb575">
<circle cx="358.7" cy="144.5" r="2.2"/>
</g>
<g fill="#4b9556">
<circle cx="573.4" cy="164.0" r="5.1"/>
</g>
<g fill="#4a9455">
<circle cx="575.8" cy="237.2" r="6.4"/>
</g>
<g fill="#519c5c">
<circle cx="503.9" cy="161.1" r="5.0"/>
</g>
<g fill="#458e50">
<circle cx="198.8" cy="136.9" r="7.5"/>
</g>
<g fill="#70b676">
<circle cx="235.0" cy="131.4" r="2.5"/>
</g>
<g fill="#4b9556">
<circle cx="597.1" cy="197.7" r="4.5"/>
</g>
<g fill="#6cb373">
<circle cx="190.7" cy="182.9" r="2.3"/>
</g>
<g fill="#428a4d">
<circle cx="206.0" cy="155.9" r="6.0"/>
</g>
<g fill="#72b777">
<circle cx="576.5" cy="154.0" r="2.0"/>
</g>
<g fill="#56a161">
<circle cx="609.9" cy="144.8" r="4.0"/>
</g>
<g fill="#6eb474">
<circle cx="469.6" cy="160.1" r="2.2"/>
</g>
<g fill="#5fa969">
<circle cx="559.1" cy="229.8" r="3.7"/>
</g>
<g fill="#6db474">
<circle cx="431.5" cy="108.6" r="2.5"/>
</g>
<g fill="#438b4e">
<circle cx="559.9" cy="177.3" r="5.8"/>
</g>
<g fill="#539e5e">
<circle cx="365.1" cy="124.6" r="3.7"/>
</g>
<g fill="#6bb272">
<circle cx="555.3" cy="193.2" r="2.7"/>
</g>
<g fill="#68b070">
<circle cx="160.3" cy="155.4" r="2.4"/>
</g>
<g fill="#5ea868">
<circle cx="599.2" cy="151.6" r="3.9"/>
</g>
<g fill="#66ae6e">
<circle cx="500.8" cy="156.3" r="3.4"/>
</g>
<g fill="#56a161">
<circle cx="147.5" cy="118.8" r="3.4"/>
</g>
<g fill="#5ca666">
<circle cx="445.2" cy="163.8" r="2.8"/>
</g>
<g fill="#6bb272">
<circle cx="548.5" cy="185.0" r="2.4"/>
</g>
<g fill="#6fb676">
<circle cx="149.0" cy="131.9" r="2.3"/>
</g>
<g fill="#448c4f">
<circle cx="218.5" cy="135.5" r="5.4"/>
</g>
<g fill="#4d9758">
<circle cx="586.4" cy="170.6" r="6.1"/>
</g>
<g fill="#489253">
<circle cx="584.6" cy="154.8" r="5.1"/>
</g>
<g fill="#87c389">
<circle cx="429.0" cy="118.3" r="2.2"/>
</g>
<g fill="#64ad6d">
<circle cx="229.7" cy="128.7" r="2.5"/>
</g>
<g fill="#4e9859">
<circle cx="506.5" cy="196.8" r="4.4"/>
</g>
<g fill="#6db474">
<circle cx="558.0" cy="110.0" r="2.4"/>
</g>
<g fill="#5aa565">
<circle cx="570.5" cy="138.7" r="4.3"/>
</g>
<g fill="#68b070">
<circle cx="366.9" cy="116.3" r="3.3"/>
</g>
<g fill="#76ba7b">
<circle cx="367.6" cy="118.0" r="2.6"/>
</g>
<g fill="#73b878">
<circle cx="203.5" cy="123.5" r="2.0"/>
</g>
<g fill="#62ab6b">
<circle cx="201.9" cy="149.6" r="3.2"/>
</g>
<g fill="#559f60">
<circle cx="376.7" cy="110.1" r="4.1"/>
</g>
<g fill="#5fa969">
<circle cx="449.7" cy="145.4" r="2.8"/>
</g>
<g fill="#68b070">
<circle cx="618.5" cy="297.0" r="2.5"/>
</g>
<g fill="#489253">
<circle cx="393.3" cy="111.3" r="6.4"/>
</g>
<g fill="#4d9758">
<circle cx="229.5" cy="133.2" r="4.6"/>
</g>
<g fill="#70b676">
<circle cx="270.4" cy="271.7" r="2.6"/>
</g>
<g fill="#5aa565">
<circle cx="434.8" cy="110.4" r="4.0"/>
</g>
<g fill="#3b8246">
<circle cx="374.6" cy="119.2" r="7.2"/>
</g>
<g fill="#61aa6a">
<circle cx="277.8" cy="270.7" r="3.6"/>
</g>
<g fill="#6eb474">
<circle cx="215.7" cy="142.9" r="2.0"/>
</g>
<g fill="#67af6f">
<circle cx="552.8" cy="140.8" r="3.5"/>
</g>
<g fill="#4a9455">
<circle cx="369.3" cy="108.3" r="5.5"/>
</g>
<g fill="#5ca666">
<circle cx="375.7" cy="107.2" r="4.2"/>
</g>
<g fill="#519c5c">
<circle cx="358.1" cy="134.3" r="5.0"/>
</g>
<g fill="#6ab171">
<circle cx="507.6" cy="101.0" r="2.5"/>
</g>
<g fill="#69b070">
<circle cx="362.3" cy="113.1" r="2.6"/>
</g>
<g fill="#468f51">
<circle cx="571.0" cy="238.7" r="6.0"/>
</g>
<g fill="#5fa969">
<circle cx="380.1" cy="131.4" r="3.3"/>
</g>
<g fill="#458f50">
<circle cx="234.5" cy="126.2" r="7.0"/>
</g>
<g fill="#85c288">
<circle cx="557.3" cy="224.1" r="2.0"/>
</g>
<g fill="#4b9556">
<circle cx="560.8" cy="154.9" r="5.5"/>
</g>
<g fill="#68b070">
<circle cx="562.0" cy="166.7" r="3.0"/>
</g>
<g fill="#509b5b">
<circle cx="580.5" cy="123.3" r="4.7"/>
</g>
<g fill="#6fb575">
<circle cx="461.0" cy="158.8" r="2.6"/>
</g>
<g fill="#489253">
<circle cx="422.5" cy="131.9" r="5.4"/>
</g>
<g fill="#70b676">
<circle cx="464.7" cy="174.8" r="2.1"/>
</g>
<g fill="#4a9455">
<circle cx="610.9" cy="135.9" r="5.8"/>
</g>
<g fill="#559f60">
<circle cx="556.3" cy="144.3" r="5.6"/>
</g>
<g fill="#8cc68e">
<circle cx="270.3" cy="237.9" r="2.0"/>
</g>
<g fill="#448c4f">
<circle cx="567.1" cy="164.3" r="6.4"/>
</g>
<g fill="#4e9859">
<circle cx="419.9" cy="118.3" r="5.3"/>
</g>
<g fill="#479052">
<circle cx="203.8" cy="120.4" r="5.6"/>
</g>
<g fill="#539e5e">
<circle cx="232.5" cy="308.2" r="4.3"/>
</g>
<g fill="#57a262">
<circle cx="225.3" cy="134.0" r="3.4"/>
</g>
<g fill="#56a161">
<circle cx="145.3" cy="147.0" r="4.5"/>
</g>
<g fill="#3d8448">
<circle cx="208.9" cy="138.6" r="6.9"/>
</g>
<g fill="#65ae6e">
<circle cx="372.8" cy="143.4" r="3.2"/>
</g>
<g fill="#69b171">
<circle cx="634.3" cy="294.6" r="3.2"/>
</g>
<g fill="#63ac6c">
<circle cx="469.1" cy="97.6" r="4.2"/>
</g>
<g fill="#4d9758">
<circle cx="359.1" cy="147.2" r="6.5"/>
</g>
<g fill="#4a9455">
<circle cx="507.9" cy="167.3" r="6.9"/>
</g>
<g fill="#74b979">
<circle cx="190.6" cy="153.0" r="2.5"/>
</g>
<g fill="#4b9556">
<circle cx="357.1" cy="121.2" r="4.5"/>
</g>
<g fill="#3f864a">
<circle cx="236.6" cy="127.6" r="6.6"/>
</g>
<g fill="#479152">
<circle cx="419.5" cy="163.1" r="7.2"/>
</g>
<g fill="#82c085">
<circle cx="497.6" cy="131.0" r="2.2"/>
</g>
<g fill="#83c185">
<circle cx="270.4" cy="271.0" r="1.9"/>
</g>
<g fill="#5aa565">
<circle cx="396.3" cy="132.6" r="3.6"/>
</g>
<g fill="#72b777">
<circle cx="151.5" cy="125.5" r="2.2"/>
</g>
<g fill="#559f60">
<circle cx="559.2" cy="156.3" r="4.7"/>
</g>
<g fill="#82c185">
<circle cx="429.9" cy="135.4" r="2.0"/>
</g>
<g fill="#499354">
<circle cx="581.0" cy="166.1" r="5.7"/>
</g>
<g fill="#4e9859">
<circle cx="564.4" cy="187.4" r="4.1"/>
</g>
<g fill="#68af6f">
<circle cx="404.4" cy="124.3" r="2.8"/>
</g>
<g fill="#82c185">
<circle cx="238.6" cy="239.0" r="2.2"/>
</g>
<g fill="#72b777">
<circle cx="182.3" cy="154.1" r="1.8"/>
</g>
<g fill="#61ab6b">
<circle cx="421.8" cy="105.2" r="2.6"/>
</g>
<g fill="#68b070">
<circle cx="558.9" cy="153.5" r="2.9"/>
</g>
<g fill="#7abc7e">
<circle cx="394.6" cy="107.5" r="2.0"/>
</g>
<g fill="#6db474">
<circle cx="457.9" cy="108.5" r="3.3"/>
</g>
<g fill="#4f995a">
<circle cx="579.7" cy="154.7" r="6.4"/>
</g>
<g fill="#5ba666">
<circle cx="284.7" cy="234.0" r="3.8"/>
</g>
<g fill="#58a363">
<circle cx="381.3" cy="94.9" r="4.5"/>
</g>
<g fill="#5ca767">
<circle cx="226.8" cy="123.1" r="3.8"/>
</g>
<g fill="#509a5b">
<circle cx="139.7" cy="149.5" r="5.7"/>
</g>
<g fill="#41884c">
<circle cx="378.1" cy="114.5" r="5.9"/>
</g>
<g fill="#91c992">
<circle cx="375.0" cy="148.7" r="2.0"/>
</g>
<g fill="#59a464">
<circle cx="499.4" cy="161.1" r="3.8"/>
</g>
<g fill="#448d4f">
<circle cx="523.0" cy="165.1" r="5.6"/>
</g>
<g fill="#4f995a">
<circle cx="567.2" cy="237.4" r="6.2"/>
</g>
<g fill="#60aa6a">
<circle cx="374.7" cy="101.2" r="3.6"/>
</g>
<g fill="#5ea868">
<circle cx="382.3" cy="125.9" r="3.7"/>
</g>
<g fill="#6bb272">
<circle cx="556.7" cy="161.1" r="3.1"/>
</g>
<g fill="#79bc7d">
<circle cx="607.2" cy="124.5" r="2.5"/>
</g>
<g fill="#559f60">
<circle cx="500.2" cy="162.0" r="4.2"/>
</g>
<g fill="#4f995a">
<circle cx="202.9" cy="148.5" r="4.7"/>
</g>
<g fill="#5da868">
<circle cx="565.6" cy="170.8" r="4.2"/>
</g>
<g fill="#5ba666">
<circle cx="383.9" cy="88.3" r="3.3"/>
</g>
<g fill="#85c288">
<circle cx="511.4" cy="93.7" r="2.0"/>
</g>
<g fill="#7ebf82">
<circle cx="359.2" cy="105.9" r="1.7"/>
</g>
<g fill="#75ba7a">
<circle cx="178.1" cy="108.6" r="1.7"/>
</g>
<g fill="#85c288">
<circle cx="466.4" cy="104.6" r="1.8"/>
</g>
<g fill="#70b676">
<circle cx="184.2" cy="187.7" r="2.4"/>
</g>
<g fill="#60a969">
<circle cx="586.6" cy="169.0" r="3.9"/>
</g>
<g fill="#529d5d">
<circle cx="556.4" cy="154.9" r="5.4"/>
</g>
<g fill="#6db373">
<circle cx="238.9" cy="224.5" r="2.0"/>
</g>
<g fill="#89c58b">
<circle cx="229.2" cy="305.2" r="1.8"/>
</g>
<g fill="#5aa565">
<circle cx="358.9" cy="129.9" r="3.5"/>
</g>
<g fill="#60aa6a">
<circle cx="224.1" cy="136.0" r="3.3"/>
</g>
<g fill="#4f995a">
<circle cx="493.9" cy="148.9" r="5.5"/>
</g>
<g fill="#5ea868">
<circle cx="143.9" cy="146.2" r="3.0"/>
</g>
<g fill="#67af6f">
<circle cx="513.2" cy="131.6" r="2.6"/>
</g>
<g fill="#65ad6d">
<circle cx="557.9" cy="155.1" r="3.3"/>
</g>
<g fill="#4c9657">
<circle cx="556.3" cy="215.0" r="4.9"/>
</g>
<g fill="#7fbf83">
<circle cx="450.9" cy="143.2" r="2.3"/>
</g>
<g fill="#85c287">
<circle cx="356.9" cy="130.0" r="2.2"/>
</g>
<g fill="#62ab6b">
<circle cx="174.3" cy="160.6" r="2.6"/>
</g>
<g fill="#5da868">
<circle cx="349.8" cy="133.2" r="3.3"/>
</g>
<g fill="#559f60">
<circle cx="505.2" cy="162.9" r="5.0"/>
</g>
<g fill="#60aa6a">
<circle cx="394.5" cy="115.6" r="3.3"/>
</g>
<g fill="#5fa969">
<circle cx="572.5" cy="133.2" r="4.3"/>
</g>
<g fill="#4a9455">
<circle cx="506.5" cy="156.4" r="6.4"/>
</g>
<g fill="#6bb272">
<circle cx="575.0" cy="145.3" r="2.6"/>
</g>
<g fill="#66ae6e">
<circle cx="571.4" cy="169.1" r="3.1"/>
</g>
<g fill="#5ea868">
<circle cx="573.5" cy="159.3" r="3.1"/>
</g>
<g fill="#9ccf9c">
<circle cx="266.2" cy="262.8" r="1.7"/>
</g>
<g fill="#3e8649">
<circle cx="427.5" cy="151.7" r="6.1"/>
</g>
<g fill="#66ae6e">
<circle cx="219.1" cy="136.9" r="3.0"/>
</g>
<g fill="#57a262">
<circle cx="145.5" cy="147.5" r="3.2"/>
</g>
<g fill="#5ca767">
<circle cx="396.0" cy="103.2" r="3.0"/>
</g>
<g fill="#509b5b">
<circle cx="556.7" cy="164.9" r="5.6"/>
</g>
<g fill="#549e5f">
<circle cx="563.8" cy="138.8" r="4.1"/>
</g>
<g fill="#86c389">
<circle cx="617.4" cy="285.7" r="1.8"/>
</g>
<g fill="#74b979">
<circle cx="436.0" cy="106.0" r="2.2"/>
</g>
<g fill="#7dbe81">
<circle cx="358.2" cy="125.2" r="2.4"/>
</g>
<g fill="#74b979">
<circle cx="593.2" cy="144.8" r="2.3"/>
</g>
<g fill="#6fb575">
<circle cx="439.8" cy="159.2" r="2.4"/>
</g>
<g fill="#64ac6c">
<circle cx="538.2" cy="109.1" r="3.8"/>
</g>
<g fill="#66ae6e">
<circle cx="220.6" cy="122.0" r="2.5"/>
</g>
<g fill="#4f9a5a">
<circle cx="522.6" cy="170.4" r="3.9"/>
</g>
<g fill="#6eb474">
<circle cx="425.4" cy="96.8" r="2.4"/>
</g>
<g fill="#5da767">
<circle cx="462.8" cy="99.6" r="4.2"/>
</g>
<g fill="#69b070">
<circle cx="500.4" cy="170.4" r="3.0"/>
</g>
<g fill="#61aa6a">
<circle cx="357.7" cy="102.5" r="3.8"/>
</g>
<g fill="#86c389">
<circle cx="403.6" cy="122.9" r="2.0"/>
</g>
<g fill="#6eb474">
<circle cx="390.2" cy="77.2" r="2.1"/>
</g>
<g fill="#80bf83">
<circle cx="470.7" cy="171.8" r="2.1"/>
</g>
<g fill="#5da767">
<circle cx="407.4" cy="96.0" r="3.7"/>
</g>
<g fill="#559f60">
<circle cx="566.3" cy="167.9" r="4.8"/>
</g>
<g fill="#6fb575">
<circle cx="503.3" cy="190.1" r="2.3"/>
</g>
<g fill="#74b979">
<circle cx="185.1" cy="152.1" r="2.3"/>
</g>
<g fill="#57a262">
<circle cx="403.0" cy="108.9" r="3.4"/>
</g>
<g fill="#4b9556">
<circle cx="600.4" cy="150.3" r="4.9"/>
</g>
<g fill="#559f60">
<circle cx="208.8" cy="151.8" r="4.9"/>
</g>
<g fill="#6cb373">
<circle cx="354.7" cy="100.4" r="2.8"/>
</g>
<g fill="#458e50">
<circle cx="491.8" cy="157.3" r="5.9"/>
</g>
<g fill="#4d9758">
<circle cx="195.8" cy="124.9" r="4.7"/>
</g>
<g fill="#64ad6d">
<circle cx="359.6" cy="103.6" r="3.2"/>
</g>
<g fill="#73b878">
<circle cx="219.5" cy="133.0" r="2.6"/>
</g>
<g fill="#6fb575">
<circle cx="553.9" cy="166.0" r="2.9"/>
</g>
<g fill="#71b777">
<circle cx="429.6" cy="165.1" r="2.0"/>
</g>
<g fill="#66ae6e">
<circle cx="432.5" cy="110.8" r="3.3"/>
</g>
<g fill="#5ba666">
<circle cx="578.6" cy="153.7" r="4.8"/>
</g>
<g fill="#4d9758">
<circle cx="409.1" cy="102.9" r="4.2"/>
</g>
<g fill="#69b070">
<circle cx="261.0" cy="275.8" r="2.5"/>
</g>
<g fill="#7ebf82">
<circle cx="192.1" cy="115.0" r="1.7"/>
</g>
<g fill="#75b97a">
<circle cx="246.0" cy="122.7" r="1.9"/>
</g>
<g fill="#59a464">
<circle cx="493.9" cy="157.3" r="3.5"/>
</g>
<g fill="#62ab6b">
<circle cx="612.1" cy="140.6" r="3.2"/>
</g>
<g fill="#6ab171">
<circle cx="539.1" cy="129.6" r="2.5"/>
</g>
<g fill="#88c48a">
<circle cx="439.5" cy="161.1" r="1.9"/>
</g>
<g fill="#4e9859">
<circle cx="519.8" cy="171.9" r="4.9"/>
</g>
<g fill="#71b777">
<circle cx="412.8" cy="117.8" r="2.8"/>
</g>
<g fill="#76ba7b">
<circle cx="537.1" cy="148.5" r="1.9"/>
</g>
<g fill="#509b5b">
<circle cx="567.3" cy="176.4" r="6.0"/>
</g>
<g fill="#519b5c">
<circle cx="211.9" cy="159.4" r="5.1"/>
</g>
<g fill="#63ac6c">
<circle cx="394.5" cy="85.7" r="2.9"/>
</g>
<g fill="#78bb7d">
<circle cx="467.4" cy="159.6" r="1.9"/>
</g>
<g fill="#66ae6e">
<circle cx="428.8" cy="134.6" r="3.4"/>
</g>
<g fill="#7abc7e">
<circle cx="217.2" cy="122.5" r="1.9"/>
</g>
<g fill="#57a262">
<circle cx="553.6" cy="163.7" r="3.8"/>
</g>
<g fill="#4b9556">
<circle cx="596.6" cy="198.4" r="5.2"/>
</g>
<g fill="#70b676">
<circle cx="503.0" cy="133.6" r="2.2"/>
</g>
<g fill="#57a262">
<circle cx="442.6" cy="146.5" r="3.4"/>
</g>
<g fill="#86c389">
<circle cx="490.5" cy="96.6" r="1.8"/>
</g>
<g fill="#77bb7c">
<circle cx="575.2" cy="125.5" r="2.0"/>
</g>
<g fill="#5ba666">
<circle cx="578.5" cy="166.4" r="4.7"/>
</g>
<g fill="#72b878">
<circle cx="434.4" cy="176.0" r="2.3"/>
</g>
<g fill="#7fbf82">
<circle cx="562.7" cy="230.3" r="2.0"/>
</g>
<g fill="#73b878">
<circle cx="359.5" cy="140.4" r="2.7"/>
</g>
<g fill="#7dbe81">
<circle cx="392.3" cy="76.5" r="2.2"/>
</g>
<g fill="#96cc96">
<circle cx="420.5" cy="89.4" r="2.0"/>
</g>
<g fill="#539e5e">
<circle cx="503.0" cy="174.2" r="3.8"/>
</g>
<g fill="#7bbd7f">
<circle cx="393.9" cy="119.7" r="2.2"/>
</g>
<g fill="#56a161">
<circle cx="495.8" cy="155.8" r="3.9"/>
</g>
<g fill="#56a061">
<circle cx="575.1" cy="148.9" r="5.0"/>
</g>
<g fill="#75ba7a">
<circle cx="357.0" cy="139.4" r="1.8"/>
</g>
<g fill="#66ae6e">
<circle cx="344.8" cy="155.2" r="3.0"/>
</g>
<g fill="#458f50">
<circle cx="590.5" cy="143.0" r="6.0"/>
</g>
<g fill="#8ac58c">
<circle cx="437.9" cy="95.7" r="1.8"/>
</g>
<g fill="#aed9ab">
<circle cx="433.1" cy="112.0" r="1.6"/>
</g>
<g fill="#85c288">
<circle cx="440.4" cy="168.9" r="1.8"/>
</g>
<g fill="#81c084">
<circle cx="524.0" cy="134.6" r="1.7"/>
</g>
<g fill="#79bc7d">
<circle cx="437.6" cy="107.6" r="1.8"/>
</g>
<g fill="#90c891">
<circle cx="469.8" cy="79.0" r="1.8"/>
</g>
<g fill="#56a161">
<circle cx="428.4" cy="132.0" r="3.9"/>
</g>
<g fill="#4e9859">
<circle cx="576.4" cy="167.9" r="5.5"/>
</g>
<g fill="#6eb575">
<circle cx="263.1" cy="286.7" r="1.9"/>
</g>
<g fill="#7abc7e">
<circle cx="215.6" cy="144.2" r="1.7"/>
</g>
<g fill="#6bb272">
<circle cx="426.1" cy="137.9" r="2.3"/>
</g>
<g fill="#7bbd7f">
<circle cx="484.5" cy="92.0" r="1.8"/>
</g>
<g fill="#70b676">
<circle cx="280.4" cy="240.2" r="1.9"/>
</g>
<g fill="#59a464">
<circle cx="152.4" cy="119.7" r="3.9"/>
</g>
<g fill="#5fa969">
<circle cx="157.5" cy="110.8" r="3.5"/>
</g>
<g fill="#7ebf82">
<circle cx="117.2" cy="88.8" r="1.7"/>
</g>
<g fill="#5da767">
<circle cx="492.6" cy="157.0" r="3.7"/>
</g>
<g fill="#5ca767">
<circle cx="369.5" cy="120.8" r="3.5"/>
</g>
<g fill="#73b979">
<circle cx="435.1" cy="165.5" r="1.7"/>
</g>
<g fill="#75ba7a">
<circle cx="579.8" cy="288.8" r="1.8"/>
</g>
<g fill="#a3d3a1" fill-opacity=".55">
<circle cx="191.4" cy="182.0" r="1.5"/>
</g>
<g fill="#82c185">
<circle cx="631.7" cy="276.9" r="1.8"/>
</g>
<g fill="#6fb575">
<circle cx="467.9" cy="175.0" r="2.3"/>
</g>
<g fill="#4e9859">
<circle cx="550.9" cy="150.6" r="4.5"/>
</g>
<g fill="#63ac6c">
<circle cx="460.9" cy="183.8" r="3.0"/>
</g>
<g fill="#80bf83">
<circle cx="215.8" cy="124.6" r="2.0"/>
</g>
<g fill="#67af6f">
<circle cx="610.1" cy="139.4" r="2.6"/>
</g>
<g fill="#549e5f">
<circle cx="240.9" cy="125.7" r="4.5"/>
</g>
<g fill="#69b070">
<circle cx="198.6" cy="128.9" r="3.0"/>
</g>
<g fill="#529d5d">
<circle cx="355.6" cy="140.0" r="3.9"/>
</g>
<g fill="#7abc7e" fill-opacity=".55">
<circle cx="276.9" cy="267.7" r="1.5"/>
</g>
<g fill="#6ab171">
<circle cx="427.9" cy="100.9" r="3.0"/>
</g>
<g fill="#539e5e">
<circle cx="558.1" cy="189.3" r="3.5"/>
</g>
<g fill="#73b878">
<circle cx="131.9" cy="81.9" r="2.0"/>
</g>
<g fill="#8bc58c">
<circle cx="553.7" cy="163.7" r="2.3"/>
</g>
<g fill="#66ae6e">
<circle cx="377.6" cy="100.6" r="3.0"/>
</g>
<g fill="#86c388">
<circle cx="454.2" cy="149.9" r="2.1"/>
</g>
<g fill="#62ab6b">
<circle cx="422.6" cy="104.7" r="4.2"/>
</g>
<g fill="#5aa565">
<circle cx="590.7" cy="142.3" r="3.0"/>
</g>
<g fill="#6ab272">
<circle cx="581.6" cy="128.2" r="3.2"/>
</g>
<g fill="#74b979">
<circle cx="421.8" cy="104.7" r="1.9"/>
</g>
<g fill="#6cb373">
<circle cx="510.2" cy="127.5" r="2.4"/>
</g>
<g fill="#73b878">
<circle cx="484.8" cy="107.8" r="2.0"/>
</g>
<g fill="#65ad6d">
<circle cx="487.8" cy="151.9" r="2.4"/>
</g>
<g fill="#aad7a8" fill-opacity=".55">
<circle cx="461.7" cy="162.1" r="1.4"/>
</g>
<g fill="#5ba666">
<circle cx="527.2" cy="167.3" r="4.0"/>
</g>
<g fill="#87c48a">
<circle cx="576.7" cy="123.5" r="2.2"/>
</g>
<g fill="#8ec78f" fill-opacity=".55">
<circle cx="168.1" cy="105.2" r="1.4"/>
</g>
<g fill="#5ba666">
<circle cx="525.5" cy="106.6" r="4.2"/>
</g>
<g fill="#62ab6b">
<circle cx="357.1" cy="147.2" r="3.7"/>
</g>
<g fill="#a0d19e" fill-opacity=".55">
<circle cx="631.7" cy="295.1" r="1.6"/>
</g>
<g fill="#539e5e">
<circle cx="276.6" cy="253.5" r="4.4"/>
</g>
<g fill="#58a363">
<circle cx="612.4" cy="141.4" r="3.2"/>
</g>
<g fill="#58a263">
<circle cx="166.0" cy="151.0" r="3.2"/>
</g>
<g fill="#84c286">
<circle cx="625.3" cy="252.1" r="1.7"/>
</g>
<g fill="#94ca94" fill-opacity=".55">
<circle cx="253.1" cy="227.0" r="1.5"/>
</g>
<g fill="#6eb474">
<circle cx="611.5" cy="127.0" r="2.9"/>
</g>
<g fill="#62ab6b">
<circle cx="398.2" cy="81.5" r="2.8"/>
</g>
<g fill="#539e5e">
<circle cx="350.5" cy="132.2" r="4.9"/>
</g>
<g fill="#55a060">
<circle cx="370.9" cy="106.9" r="3.5"/>
</g>
<g fill="#519b5c">
<circle cx="394.1" cy="107.7" r="3.7"/>
</g>
<g fill="#59a464">
<circle cx="551.4" cy="204.5" r="4.1"/>
</g>
<g fill="#5ea868">
<circle cx="430.3" cy="158.8" r="3.4"/>
</g>
<g fill="#70b676">
<circle cx="570.0" cy="175.6" r="2.8"/>
</g>
<g fill="#6eb474">
<circle cx="564.7" cy="156.5" r="2.3"/>
</g>
<g fill="#8cc68e">
<circle cx="182.4" cy="156.1" r="1.8"/>
</g>
<g fill="#5da767">
<circle cx="553.7" cy="135.9" r="3.6"/>
</g>
<g fill="#8ec78f">
<circle cx="537.8" cy="154.9" r="2.0"/>
</g>
<g fill="#64ad6d">
<circle cx="598.3" cy="196.7" r="3.4"/>
</g>
<g fill="#81c084">
<circle cx="557.7" cy="142.3" r="2.0"/>
</g>
<g fill="#68b070">
<circle cx="445.9" cy="141.7" r="2.7"/>
</g>
<g fill="#75ba7a">
<circle cx="391.1" cy="118.9" r="2.5"/>
</g>
<g fill="#69b070">
<circle cx="598.7" cy="201.7" r="2.5"/>
</g>
<g fill="#88c48b">
<circle cx="444.9" cy="111.3" r="2.0"/>
</g>
<g fill="#72b777">
<circle cx="194.1" cy="132.1" r="1.9"/>
</g>
<g fill="#6bb272">
<circle cx="382.0" cy="92.7" r="2.1"/>
</g>
<g fill="#5ca767">
<circle cx="530.1" cy="129.8" r="3.5"/>
</g>
<g fill="#61aa6a">
<circle cx="370.5" cy="105.7" r="3.6"/>
</g>
<g fill="#5da767">
<circle cx="356.0" cy="121.4" r="3.1"/>
</g>
<g fill="#6eb575">
<circle cx="567.5" cy="150.0" r="2.8"/>
</g>
<g fill="#73b878">
<circle cx="177.3" cy="123.1" r="2.2"/>
</g>
<g fill="#6eb474">
<circle cx="169.8" cy="153.7" r="2.5"/>
</g>
<g fill="#80c084">
<circle cx="536.0" cy="131.1" r="1.6"/>
</g>
<g fill="#64ac6c">
<circle cx="204.5" cy="127.9" r="3.2"/>
</g>
<g fill="#94cb95">
<circle cx="571.4" cy="162.0" r="2.0"/>
</g>
<g fill="#9ccf9b">
<circle cx="466.4" cy="180.5" r="1.8"/>
</g>
<g fill="#81c085">
<circle cx="518.7" cy="103.9" r="2.5"/>
</g>
<g fill="#4c9657">
<circle cx="511.6" cy="181.4" r="4.2"/>
</g>
<g fill="#65ae6e">
<circle cx="363.1" cy="118.5" r="3.5"/>
</g>
<g fill="#448d4f">
<circle cx="568.2" cy="238.2" r="5.0"/>
</g>
<g fill="#6fb575">
<circle cx="356.2" cy="139.9" r="2.7"/>
</g>
<g fill="#88c48a">
<circle cx="444.7" cy="105.0" r="2.6"/>
</g>
<g fill="#5da767">
<circle cx="461.7" cy="147.6" r="2.8"/>
</g>
<g fill="#90c891">
<circle cx="534.3" cy="90.0" r="1.8"/>
</g>
<g fill="#6eb474">
<circle cx="504.4" cy="122.4" r="2.4"/>
</g>
<g fill="#5da868">
<circle cx="591.9" cy="140.7" r="4.0"/>
</g>
<g fill="#7abc7e">
<circle cx="199.2" cy="123.2" r="2.4"/>
</g>
<g fill="#75ba7a">
<circle cx="421.9" cy="116.8" r="1.6"/>
</g>
<g fill="#66ae6e">
<circle cx="467.4" cy="153.8" r="3.2"/>
</g>
<g fill="#64ad6d">
<circle cx="266.6" cy="288.7" r="3.0"/>
</g>
<g fill="#77bb7c">
<circle cx="380.3" cy="85.4" r="2.4"/>
</g>
<g fill="#5fa969">
<circle cx="203.5" cy="151.8" r="3.4"/>
</g>
<g fill="#6cb272">
<circle cx="204.4" cy="134.0" r="2.6"/>
</g>
<g fill="#5ba666">
<circle cx="446.3" cy="100.1" r="3.4"/>
</g>
<g fill="#8ac58c">
<circle cx="401.5" cy="136.3" r="2.2"/>
</g>
<g fill="#5fa969">
<circle cx="552.1" cy="183.8" r="2.8"/>
</g>
<g fill="#64ad6d">
<circle cx="599.1" cy="203.7" r="2.9"/>
</g>
<g fill="#6bb272">
<circle cx="448.8" cy="113.3" r="3.0"/>
</g>
<g fill="#70b676">
<circle cx="523.7" cy="105.6" r="2.8"/>
</g>
<g fill="#97cc97" fill-opacity=".55">
<circle cx="359.3" cy="149.8" r="1.3"/>
</g>
<g fill="#66af6f">
<circle cx="353.8" cy="117.3" r="3.1"/>
</g>
<g fill="#65ae6e">
<circle cx="563.2" cy="171.0" r="2.7"/>
</g>
<g fill="#70b676">
<circle cx="385.6" cy="111.1" r="2.1"/>
</g>
<g fill="#539e5e">
<circle cx="377.4" cy="148.6" r="4.0"/>
</g>
<g fill="#8cc68e">
<circle cx="534.2" cy="127.5" r="1.6"/>
</g>
<g fill="#5fa969">
<circle cx="564.2" cy="156.5" r="4.1"/>
</g>
<g fill="#77bb7c">
<circle cx="170.8" cy="114.8" r="2.4"/>
</g>
<g fill="#c0e2bc" fill-opacity=".55">
<circle cx="534.2" cy="87.3" r="1.4"/>
</g>
<g fill="#5ca666">
<circle cx="441.0" cy="181.6" r="3.1"/>
</g>
<g fill="#81c084">
<circle cx="643.6" cy="284.6" r="1.8"/>
</g>
<g fill="#95cb95">
<circle cx="194.3" cy="150.8" r="1.9"/>
</g>
<g fill="#63ac6c">
<circle cx="222.1" cy="136.5" r="3.2"/>
</g>
<g fill="#83c186" fill-opacity=".55">
<circle cx="204.5" cy="152.8" r="1.4"/>
</g>
<g fill="#8ac58c">
<circle cx="201.5" cy="155.3" r="1.7"/>
</g>
<g fill="#92ca93" fill-opacity=".55">
<circle cx="263.4" cy="289.4" r="1.5"/>
</g>
<g fill="#a0d19f">
<circle cx="357.0" cy="130.2" r="1.6"/>
</g>
<g fill="#62ab6b">
<circle cx="522.4" cy="100.4" r="4.2"/>
</g>
<g fill="#9ccf9b" fill-opacity=".55">
<circle cx="164.9" cy="109.3" r="1.2"/>
</g>
<g fill="#71b777">
<circle cx="551.1" cy="187.0" r="2.4"/>
</g>
<g fill="#60aa6a">
<circle cx="644.9" cy="276.0" r="3.0"/>
</g>
<g fill="#6eb474">
<circle cx="398.9" cy="78.4" r="2.2"/>
</g>
<g fill="#7ebf82" fill-opacity=".55">
<circle cx="248.6" cy="116.4" r="1.5"/>
</g>
<g fill="#519b5c">
<circle cx="414.1" cy="138.5" r="4.7"/>
</g>
<g fill="#99cd99" fill-opacity=".55">
<circle cx="546.1" cy="133.5" r="1.5"/>
</g>
<g fill="#b9deb5" fill-opacity=".55">
<circle cx="511.5" cy="88.8" r="1.4"/>
</g>
<g fill="#70b676">
<circle cx="269.2" cy="277.6" r="2.5"/>
</g>
<g fill="#61aa6a">
<circle cx="552.6" cy="148.6" r="3.5"/>
</g>
<g fill="#a8d6a6" fill-opacity=".55">
<circle cx="573.3" cy="97.9" r="1.5"/>
</g>
<g fill="#67af6f">
<circle cx="219.9" cy="137.3" r="2.3"/>
</g>
<g fill="#b0daad" fill-opacity=".55">
<circle cx="613.6" cy="102.2" r="1.5"/>
</g>
<g fill="#8dc78e">
<circle cx="357.6" cy="112.2" r="2.0"/>
</g>
<g fill="#71b777">
<circle cx="157.5" cy="122.2" r="1.9"/>
</g>
<g fill="#79bc7d">
<circle cx="428.5" cy="102.2" r="2.4"/>
</g>
<g fill="#5ba666">
<circle cx="422.9" cy="103.8" r="4.3"/>
</g>
<g fill="#71b777">
<circle cx="603.7" cy="142.9" r="2.7"/>
</g>
<g fill="#59a464">
<circle cx="170.5" cy="135.3" r="3.5"/>
</g>
<g fill="#56a061">
<circle cx="441.4" cy="180.2" r="3.4"/>
</g>
<g fill="#509a5b">
<circle cx="610.6" cy="128.7" r="4.3"/>
</g>
<g fill="#71b777">
<circle cx="355.4" cy="128.2" r="1.9"/>
</g>
<g fill="#70b676">
<circle cx="452.9" cy="178.3" r="2.2"/>
</g>
<g fill="#5ea868">
<circle cx="436.3" cy="142.5" r="3.8"/>
</g>
<g fill="#59a464">
<circle cx="204.0" cy="127.4" r="4.5"/>
</g>
<g fill="#6fb575">
<circle cx="550.5" cy="196.8" r="2.3"/>
</g>
<g fill="#6ab171">
<circle cx="518.6" cy="173.4" r="2.9"/>
</g>
<g fill="#80bf83" fill-opacity=".55">
<circle cx="522.6" cy="159.8" r="1.4"/>
</g>
<g fill="#6fb575">
<circle cx="279.2" cy="254.9" r="2.3"/>
</g>
<g fill="#8cc68e">
<circle cx="356.9" cy="118.6" r="1.8"/>
</g>
<g fill="#63ac6c">
<circle cx="566.1" cy="197.8" r="3.3"/>
</g>
<g fill="#b3dbaf" fill-opacity=".55">
<circle cx="449.1" cy="97.0" r="1.2"/>
</g>
<g fill="#a7d5a5" fill-opacity=".55">
<circle cx="180.2" cy="104.4" r="1.2"/>
</g>
<g fill="#a2d2a1" fill-opacity=".55">
<circle cx="508.8" cy="118.1" r="1.2"/>
</g>
<g fill="#69b070">
<circle cx="163.4" cy="168.6" r="2.9"/>
</g>
<g fill="#5aa565">
<circle cx="570.9" cy="126.0" r="3.7"/>
</g>
<g fill="#7ebf82">
<circle cx="565.6" cy="131.0" r="2.0"/>
</g>
<g fill="#b3dcb0" fill-opacity=".55">
<circle cx="354.3" cy="125.3" r="1.2"/>
</g>
<g fill="#a2d2a1" fill-opacity=".55">
<circle cx="376.9" cy="116.3" r="1.6"/>
</g>
<g fill="#72b878">
<circle cx="453.0" cy="111.0" r="2.4"/>
</g>
<g fill="#5ea868">
<circle cx="231.9" cy="302.2" r="2.8"/>
</g>
<g fill="#5ba666">
<circle cx="418.9" cy="161.9" r="3.1"/>
</g>
<g fill="#62ab6b">
<circle cx="396.1" cy="133.8" r="3.4"/>
</g>
<g fill="#cae6c6" fill-opacity=".55">
<circle cx="433.9" cy="81.5" r="1.2"/>
</g>
<g fill="#69b070">
<circle cx="268.8" cy="283.0" r="2.3"/>
</g>
<g fill="#9ace99" fill-opacity=".55">
<circle cx="474.6" cy="80.7" r="1.4"/>
</g>
<g fill="#5fa969">
<circle cx="276.2" cy="271.4" r="2.7"/>
</g>
<g fill="#65ae6e">
<circle cx="142.9" cy="140.2" r="3.5"/>
</g>
<g fill="#73b878">
<circle cx="225.8" cy="128.7" r="1.8"/>
</g>
<g fill="#70b676">
<circle cx="226.1" cy="122.8" r="2.7"/>
</g>
<g fill="#95cb95" fill-opacity=".55">
<circle cx="209.9" cy="235.6" r="1.4"/>
</g>
<g fill="#97cc97">
<circle cx="475.5" cy="125.8" r="1.7"/>
</g>
<g fill="#9ace99" fill-opacity=".55">
<circle cx="540.7" cy="142.6" r="1.4"/>
</g>
<g fill="#a4d3a2" fill-opacity=".55">
<circle cx="564.5" cy="111.3" r="1.3"/>
</g>
<g fill="#82c185" fill-opacity=".55">
<circle cx="355.9" cy="127.1" r="1.5"/>
</g>
<g fill="#cae7c6" fill-opacity=".55">
<circle cx="597.5" cy="94.8" r="1.1"/>
</g>
<g fill="#67af6f">
<circle cx="224.9" cy="139.4" r="2.5"/>
</g>
<g fill="#d0eacc" fill-opacity=".55">
<circle cx="589.4" cy="125.3" r="1.1"/>
</g>
<g fill="#79bc7d">
<circle cx="511.6" cy="105.4" r="2.0"/>
</g>
<g fill="#92ca93" fill-opacity=".55">
<circle cx="553.0" cy="189.4" r="1.5"/>
</g>
<g fill="#6db474">
<circle cx="193.0" cy="145.3" r="2.8"/>
</g>
<g fill="#66ae6e">
<circle cx="470.7" cy="103.2" r="3.3"/>
</g>
<g fill="#60aa6a">
<circle cx="240.5" cy="126.2" r="3.6"/>
</g>
<g fill="#96cb96" fill-opacity=".55">
<circle cx="532.6" cy="123.6" r="1.1"/>
</g>
<g fill="#a0d19f">
<circle cx="422.0" cy="103.5" r="1.8"/>
</g>
<g fill="#79bc7d">
<circle cx="237.3" cy="286.4" r="1.9"/>
</g>
<g fill="#64ac6c">
<circle cx="241.9" cy="120.4" r="3.2"/>
</g>
<g fill="#9dd09d" fill-opacity=".55">
<circle cx="143.8" cy="85.0" r="1.4"/>
</g>
<g fill="#8bc58c">
<circle cx="374.7" cy="87.8" r="2.0"/>
</g>
<g fill="#8bc68d">
<circle cx="232.4" cy="306.6" r="1.7"/>
</g>
<g fill="#6bb272">
<circle cx="277.7" cy="244.0" r="2.4"/>
</g>
<g fill="#7bbd7f">
<circle cx="496.2" cy="173.0" r="2.3"/>
</g>
<g fill="#6db474">
<circle cx="557.3" cy="221.5" r="2.1"/>
</g>
<g fill="#b9dfb5" fill-opacity=".55">
<circle cx="425.3" cy="107.6" r="1.0"/>
</g>
<g fill="#a4d3a2" fill-opacity=".55">
<circle cx="476.0" cy="123.3" r="1.5"/>
</g>
<g fill="#7cbd80">
<circle cx="215.0" cy="125.0" r="1.6"/>
</g>
<g fill="#70b676">
<circle cx="232.3" cy="303.2" r="2.0"/>
</g>
<g fill="#7fbf82">
<circle cx="207.2" cy="237.3" r="2.1"/>
</g>
<g fill="#8dc78e" fill-opacity=".55">
<circle cx="421.5" cy="100.8" r="1.4"/>
</g>
<g fill="#b6ddb2" fill-opacity=".55">
<circle cx="585.9" cy="119.2" r="1.6"/>
</g>
<g fill="#aed9ab" fill-opacity=".55">
<circle cx="167.6" cy="114.6" r="1.2"/>
</g>
<g fill="#6cb373">
<circle cx="206.3" cy="152.3" r="2.3"/>
</g>
<g fill="#b2dbae" fill-opacity=".55">
<circle cx="159.1" cy="92.5" r="1.1"/>
</g>
<g fill="#6cb373">
<circle cx="567.7" cy="167.4" r="2.4"/>
</g>
<g fill="#afd9ac" fill-opacity=".55">
<circle cx="551.4" cy="88.9" r="1.0"/>
</g>
<g fill="#7abc7e">
<circle cx="394.3" cy="156.5" r="1.8"/>
</g>
<g fill="#a7d5a5" fill-opacity=".55">
<circle cx="183.0" cy="145.7" r="1.4"/>
</g>
<g fill="#5fa969">
<circle cx="549.2" cy="215.4" r="3.7"/>
</g>
<g fill="#70b676">
<circle cx="430.0" cy="168.7" r="1.8"/>
</g>
<g fill="#86c388">
<circle cx="164.6" cy="109.0" r="2.2"/>
</g>
<g fill="#a8d6a6" fill-opacity=".55">
<circle cx="430.0" cy="80.6" r="1.2"/>
</g>
<g fill="#6cb373">
<circle cx="421.4" cy="169.2" r="2.5"/>
</g>
<g fill="#71b777">
<circle cx="157.4" cy="126.4" r="2.5"/>
</g>
<g fill="#5da767">
<circle cx="219.1" cy="130.0" r="3.6"/>
</g>
<g fill="#6bb272">
<circle cx="427.2" cy="99.8" r="2.9"/>
</g>
<g fill="#bce0b8" fill-opacity=".55">
<circle cx="443.7" cy="79.1" r="1.1"/>
</g>
<g fill="#58a363">
<circle cx="230.5" cy="122.4" r="3.2"/>
</g>
<g fill="#9ace99" fill-opacity=".55">
<circle cx="388.3" cy="79.1" r="1.2"/>
</g>
<g fill="#92c993">
<circle cx="571.4" cy="119.1" r="2.0"/>
</g>
<g fill="#68b070">
<circle cx="552.1" cy="156.3" r="3.7"/>
</g>
<g fill="#b4dcb0" fill-opacity=".55">
<circle cx="524.7" cy="91.7" r="1.4"/>
</g>
<g fill="#56a061">
<circle cx="415.9" cy="133.6" r="3.3"/>
</g>
<g fill="#84c287" fill-opacity=".55">
<circle cx="385.1" cy="85.1" r="1.5"/>
</g>
<g fill="#72b878">
<circle cx="143.6" cy="83.0" r="2.2"/>
</g>
<g fill="#8ac58c" fill-opacity=".55">
<circle cx="187.2" cy="79.3" r="1.6"/>
</g>
<g fill="#afd9ab" fill-opacity=".55">
<circle cx="521.2" cy="104.3" r="1.3"/>
</g>
<g fill="#57a162">
<circle cx="390.4" cy="116.1" r="3.3"/>
</g>
<g fill="#c3e3bf" fill-opacity=".55">
<circle cx="211.8" cy="107.2" r="1.0"/>
</g>
<g fill="#a2d2a1" fill-opacity=".55">
<circle cx="577.3" cy="277.2" r="1.6"/>
</g>
<g fill="#68b070">
<circle cx="373.6" cy="113.8" r="2.9"/>
</g>
<g fill="#70b676">
<circle cx="224.4" cy="145.4" r="2.5"/>
</g>
<g fill="#9ccf9b" fill-opacity=".55">
<circle cx="541.1" cy="148.4" r="1.5"/>
</g>
<g fill="#a4d3a2">
<circle cx="382.7" cy="98.8" r="1.6"/>
</g>
<g fill="#60a969">
<circle cx="494.2" cy="163.2" r="3.7"/>
</g>
<g fill="#8bc68d">
<circle cx="435.0" cy="109.9" r="1.8"/>
</g>
<g fill="#7dbe81">
<circle cx="208.9" cy="138.5" r="2.4"/>
</g>
<g fill="#66ae6e">
<circle cx="445.4" cy="139.7" r="2.8"/>
</g>
<g fill="#8cc68e">
<circle cx="548.5" cy="147.8" r="2.2"/>
</g>
<g fill="#7cbd80">
<circle cx="273.8" cy="227.5" r="2.1"/>
</g>
<g fill="#70b676">
<circle cx="468.8" cy="145.7" r="2.6"/>
</g>
<g fill="#5fa969">
<circle cx="185.9" cy="150.0" r="3.2"/>
</g>
<g fill="#90c891">
<circle cx="228.4" cy="127.4" r="2.0"/>
</g>
<g fill="#9fd19e">
<circle cx="455.0" cy="113.1" r="1.7"/>
</g>
<g fill="#7bbd7f">
<circle cx="254.2" cy="292.3" r="1.7"/>
</g>
<g fill="#acd7a9">
<circle cx="449.5" cy="101.9" r="1.7"/>
</g>
<g fill="#b4dcb0" fill-opacity=".55">
<circle cx="538.1" cy="92.6" r="1.2"/>
</g>
<g fill="#9fd19e" fill-opacity=".55">
<circle cx="204.1" cy="121.1" r="1.5"/>
</g>
<g fill="#9fd09e" fill-opacity=".55">
<circle cx="270.8" cy="226.3" r="1.3"/>
</g>
<g fill="#8bc68d">
<circle cx="244.6" cy="117.8" r="1.6"/>
</g>
<g fill="#7dbe80">
<circle cx="442.3" cy="179.8" r="2.3"/>
</g>
<g fill="#72b777">
<circle cx="433.3" cy="133.2" r="2.3"/>
</g>
<g fill="#57a262">
<circle cx="439.1" cy="151.2" r="3.2"/>
</g>
<g fill="#62ab6b">
<circle cx="353.1" cy="144.5" r="2.7"/>
</g>
<g fill="#b9deb5" fill-opacity=".55">
<circle cx="525.6" cy="93.8" r="1.1"/>
</g>
<g fill="#6ab171">
<circle cx="209.3" cy="130.3" r="2.6"/>
</g>
<g fill="#c4e4c0" fill-opacity=".55">
<circle cx="553.7" cy="98.2" r="1.3"/>
</g>
<g fill="#72b777">
<circle cx="432.8" cy="107.6" r="2.7"/>
</g>
<g fill="#6eb474">
<circle cx="210.5" cy="121.1" r="2.8"/>
</g>
<g fill="#69b070">
<circle cx="393.2" cy="130.9" r="3.0"/>
</g>
<g fill="#afd9ab" fill-opacity=".55">
<circle cx="518.8" cy="104.8" r="1.0"/>
</g>
<g fill="#a6d4a4" fill-opacity=".55">
<circle cx="503.5" cy="85.9" r="1.4"/>
</g>
<g fill="#77bb7c">
<circle cx="212.7" cy="125.6" r="2.2"/>
</g>
<g fill="#5fa969">
<circle cx="374.3" cy="114.3" r="3.4"/>
</g>
<g fill="#6cb373">
<circle cx="581.2" cy="123.2" r="3.0"/>
</g>
<g fill="#8ec78f">
<circle cx="397.9" cy="156.9" r="1.8"/>
</g>
<g fill="#dbefd7" fill-opacity=".55">
<circle cx="475.7" cy="93.0" r="0.9"/>
</g>
<g fill="#80bf83">
<circle cx="185.5" cy="108.0" r="1.9"/>
</g>
<g fill="#63ac6c">
<circle cx="386.9" cy="123.9" r="2.9"/>
</g>
<g fill="#b9dfb5" fill-opacity=".55">
<circle cx="437.0" cy="104.2" r="1.4"/>
</g>
<g fill="#abd7a8" fill-opacity=".55">
<circle cx="439.9" cy="109.6" r="1.2"/>
</g>
<g fill="#5da767">
<circle cx="270.6" cy="263.6" r="2.8"/>
</g>
<g fill="#bee1ba" fill-opacity=".55">
<circle cx="636.1" cy="291.5" r="0.9"/>
</g>
<g fill="#9ed09d" fill-opacity=".55">
<circle cx="273.4" cy="241.8" r="1.4"/>
</g>
<g fill="#b1daad" fill-opacity=".55">
<circle cx="443.6" cy="97.5" r="1.1"/>
</g>
<g fill="#c1e2bd" fill-opacity=".55">
<circle cx="178.9" cy="79.9" r="0.9"/>
</g>
<g fill="#94cb95">
<circle cx="552.6" cy="87.8" r="2.0"/>
</g>
<g fill="#a7d5a5" fill-opacity=".55">
<circle cx="542.1" cy="87.7" r="1.3"/>
</g>
<g fill="#b0daac" fill-opacity=".55">
<circle cx="395.4" cy="156.5" r="1.0"/>
</g>
<g fill="#70b676">
<circle cx="528.8" cy="138.8" r="2.1"/>
</g>
<g fill="#9fd09e" fill-opacity=".55">
<circle cx="181.8" cy="146.7" r="1.2"/>
</g>
<g fill="#bce0b8" fill-opacity=".55">
<circle cx="561.1" cy="95.2" r="1.4"/>
</g>
<g fill="#cfe9cb" fill-opacity=".55">
<circle cx="188.5" cy="96.3" r="1.0"/>
</g>
<g fill="#a1d19f" fill-opacity=".55">
<circle cx="225.0" cy="108.0" r="1.3"/>
</g>
<g fill="#67af6f">
<circle cx="142.2" cy="141.8" r="2.5"/>
</g>
<g fill="#8bc58c" fill-opacity=".55">
<circle cx="612.5" cy="261.4" r="1.5"/>
</g>
<g fill="#87c48a">
<circle cx="394.8" cy="113.0" r="2.0"/>
</g>
<g fill="#5ba565">
<circle cx="435.5" cy="134.6" r="3.3"/>
</g>
<g fill="#dcefd8" fill-opacity=".55">
<circle cx="251.0" cy="97.8" r="1.0"/>
</g>
<g fill="#c4e4c0" fill-opacity=".55">
<circle cx="522.9" cy="129.2" r="1.0"/>
</g>
<g fill="#b6ddb2" fill-opacity=".55">
<circle cx="531.0" cy="151.6" r="0.9"/>
</g>
<g fill="#76ba7b">
<circle cx="445.0" cy="140.9" r="2.2"/>
</g>
<g fill="#afd9ac" fill-opacity=".55">
<circle cx="390.9" cy="78.3" r="1.2"/>
</g>
<g fill="#acd8a9" fill-opacity=".55">
<circle cx="523.8" cy="144.4" r="1.0"/>
</g>
<g fill="#5fa969">
<circle cx="191.1" cy="142.9" r="3.1"/>
</g>
<g fill="#73b878">
<circle cx="514.4" cy="102.3" r="2.8"/>
</g>
<g fill="#aad6a7" fill-opacity=".55">
<circle cx="446.4" cy="89.2" r="1.2"/>
</g>
<g fill="#94ca94">
<circle cx="466.0" cy="88.4" r="1.7"/>
</g>
<g fill="#cfe9cb" fill-opacity=".55">
<circle cx="521.6" cy="88.6" r="0.9"/>
</g>
<g fill="#8cc68e" fill-opacity=".55">
<circle cx="356.4" cy="131.5" r="1.5"/>
</g>
<g fill="#68b070">
<circle cx="494.9" cy="154.8" r="2.5"/>
</g>
<g fill="#6fb575">
<circle cx="393.9" cy="84.9" r="2.7"/>
</g>
<g fill="#a3d3a1" fill-opacity=".55">
<circle cx="642.1" cy="286.2" r="1.5"/>
</g>
<g fill="#69b070">
<circle cx="411.7" cy="97.5" r="2.7"/>
</g>
<g fill="#7fbf83">
<circle cx="571.9" cy="111.7" r="2.6"/>
</g>
<g fill="#c1e2bd" fill-opacity=".55">
<circle cx="584.1" cy="101.4" r="1.2"/>
</g>
<g fill="#93ca94" fill-opacity=".55">
<circle cx="517.3" cy="157.6" r="1.5"/>
</g>
<g fill="#abd7a8" fill-opacity=".55">
<circle cx="430.0" cy="158.9" r="0.9"/>
</g>
<g fill="#69b171">
<circle cx="604.9" cy="144.7" r="2.9"/>
</g>
<g fill="#9ed09d" fill-opacity=".55">
<circle cx="184.7" cy="97.8" r="1.6"/>
</g>
<g fill="#abd7a8" fill-opacity=".55">
<circle cx="147.5" cy="84.5" r="0.8"/>
</g>
<g fill="#80c083">
<circle cx="278.8" cy="236.7" r="2.1"/>
</g>
<g fill="#87c389" fill-opacity=".55">
<circle cx="413.5" cy="109.8" r="1.3"/>
</g>
<g fill="#c2e3be" fill-opacity=".55">
<circle cx="272.6" cy="229.7" r="0.9"/>
</g>
<g fill="#70b676">
<circle cx="189.5" cy="143.8" r="2.2"/>
</g>
<g fill="#6fb575">
<circle cx="550.5" cy="181.8" r="2.6"/>
</g>
<g fill="#d7edd3" fill-opacity=".55">
<circle cx="566.6" cy="110.2" r="0.9"/>
</g>
<g fill="#a0d19e" fill-opacity=".55">
<circle cx="436.3" cy="98.7" r="1.4"/>
</g>
<g fill="#9fd19e" fill-opacity=".55">
<circle cx="427.3" cy="120.7" r="1.4"/>
</g>
<g fill="#cfe9cb" fill-opacity=".55">
<circle cx="608.0" cy="281.0" r="1.0"/>
</g>
<g fill="#7dbe80">
<circle cx="264.5" cy="259.8" r="2.2"/>
</g>
<g fill="#93ca94" fill-opacity=".55">
<circle cx="396.1" cy="79.5" r="1.5"/>
</g>
<g fill="#73b878">
<circle cx="205.3" cy="131.3" r="2.4"/>
</g>
<g fill="#b6ddb2" fill-opacity=".55">
<circle cx="242.1" cy="106.6" r="1.2"/>
</g>
<g fill="#a4d3a2">
<circle cx="398.0" cy="106.1" r="1.6"/>
</g>
<g fill="#9dd09c" fill-opacity=".55">
<circle cx="504.8" cy="89.8" r="1.2"/>
</g>
<g fill="#96cb96" fill-opacity=".55">
<circle cx="179.9" cy="103.6" r="1.2"/>
</g>
<g fill="#88c48b">
<circle cx="253.1" cy="285.9" r="1.6"/>
</g>
<g fill="#61aa6a">
<circle cx="374.9" cy="113.7" r="3.0"/>
</g>
<g fill="#8fc890">
<circle cx="376.7" cy="146.4" r="1.9"/>
</g>
<g fill="#98cd98">
<circle cx="537.3" cy="94.5" r="1.7"/>
</g>
<g fill="#cee8ca" fill-opacity=".55">
<circle cx="415.2" cy="85.4" r="1.0"/>
</g>
<g fill="#73b878">
<circle cx="357.1" cy="149.2" r="2.1"/>
</g>
<g fill="#95cb96">
<circle cx="265.9" cy="270.8" r="1.7"/>
</g>
<g fill="#badfb6" fill-opacity=".55">
<circle cx="175.3" cy="104.1" r="0.8"/>
</g>
<g fill="#68b070">
<circle cx="180.0" cy="147.7" r="2.4"/>
</g>
<g fill="#73b878">
<circle cx="349.8" cy="140.0" r="2.5"/>
</g>
<g fill="#78bb7d">
<circle cx="355.0" cy="100.4" r="1.9"/>
</g>
<g fill="#d3ebcf" fill-opacity=".55">
<circle cx="413.8" cy="84.1" r="0.8"/>
</g>
<g fill="#66ae6e">
<circle cx="116.5" cy="91.7" r="2.6"/>
</g>
<g fill="#8bc68d" fill-opacity=".55">
<circle cx="213.4" cy="87.1" r="1.6"/>
</g>
<g fill="#afd9ac" fill-opacity=".55">
<circle cx="436.5" cy="107.3" r="1.3"/>
</g>
<g fill="#a8d5a5" fill-opacity=".55">
<circle cx="438.2" cy="168.0" r="0.9"/>
</g>
<g fill="#dbefd7" fill-opacity=".55">
<circle cx="249.3" cy="104.5" r="0.8"/>
</g>
<g fill="#62ab6b">
<circle cx="212.8" cy="139.9" r="2.5"/>
</g>
<g fill="#73b878">
<circle cx="429.3" cy="101.5" r="1.7"/>
</g>
<g fill="#5ea868">
<circle cx="199.3" cy="154.6" r="2.8"/>
</g>
<g fill="#a5d4a3" fill-opacity=".55">
<circle cx="406.3" cy="79.3" r="1.3"/>
</g>
<g fill="#78bb7c" fill-opacity=".55">
<circle cx="176.5" cy="178.6" r="1.6"/>
</g>
<g fill="#acd8aa" fill-opacity=".55">
<circle cx="538.8" cy="92.8" r="1.2"/>
</g>
<g fill="#bfe1bb" fill-opacity=".55">
<circle cx="488.1" cy="98.2" r="1.3"/>
</g>
<g fill="#68b070">
<circle cx="413.3" cy="120.9" r="2.8"/>
</g>
<g fill="#b0daad" fill-opacity=".55">
<circle cx="460.1" cy="108.2" r="1.1"/>
</g>
<g fill="#8cc68e">
<circle cx="624.4" cy="294.0" r="1.8"/>
</g>
<g fill="#aed9ab" fill-opacity=".55">
<circle cx="534.5" cy="138.4" r="1.1"/>
</g>
<g fill="#90c991">
<circle cx="377.6" cy="126.5" r="1.7"/>
</g>
<g fill="#acd8aa">
<circle cx="462.7" cy="79.3" r="1.7"/>
</g>
<g fill="#dcefd8" fill-opacity=".55">
<circle cx="530.3" cy="93.7" r="0.9"/>
</g>
<g fill="#e1f2dd" fill-opacity=".55">
<circle cx="461.7" cy="86.4" r="0.7"/>
</g>
<g fill="#b7ddb3" fill-opacity=".55">
<circle cx="470.8" cy="77.3" r="1.1"/>
</g>
<g fill="#69b070">
<circle cx="566.1" cy="190.2" r="2.7"/>
</g>
<g fill="#afd9ac" fill-opacity=".55">
<circle cx="245.2" cy="276.8" r="1.4"/>
</g>
<g fill="#85c287" fill-opacity=".55">
<circle cx="279.7" cy="264.3" r="1.6"/>
</g>
<g fill="#a0d19e">
<circle cx="184.2" cy="78.3" r="1.6"/>
</g>
<g fill="#7abc7e">
<circle cx="384.6" cy="152.8" r="1.8"/>
</g>
<g fill="#6ab272">
<circle cx="383.4" cy="89.0" r="2.2"/>
</g>
<g fill="#6fb575">
<circle cx="632.1" cy="292.8" r="1.9"/>
</g>
<g fill="#c1e2bd" fill-opacity=".55">
<circle cx="498.8" cy="115.9" r="0.7"/>
</g>
<g fill="#abd7a8" fill-opacity=".55">
<circle cx="447.4" cy="85.7" r="1.3"/>
</g>
<g fill="#c1e2bd" fill-opacity=".55">
<circle cx="504.7" cy="134.4" r="1.1"/>
</g>
<g fill="#b8deb4" fill-opacity=".55">
<circle cx="594.3" cy="263.0" r="0.9"/>
</g>
<g fill="#def0da" fill-opacity=".55">
<circle cx="534.4" cy="151.4" r="0.7"/>
</g>
<g fill="#e5f4e1" fill-opacity=".55">
<circle cx="197.2" cy="98.0" r="0.7"/>
</g>
<g fill="#e3f2df" fill-opacity=".55">
<circle cx="484.3" cy="85.8" r="0.7"/>
</g>
<g fill="#8dc68e">
<circle cx="452.4" cy="171.7" r="2.1"/>
</g>
<g fill="#90c991">
<circle cx="231.2" cy="133.3" r="1.8"/>
</g>
<g fill="#91c992">
<circle cx="255.3" cy="279.5" r="1.9"/>
</g>
<g fill="#93ca93" fill-opacity=".55">
<circle cx="205.6" cy="122.9" r="1.6"/>
</g>
<g fill="#8dc78f" fill-opacity=".55">
<circle cx="627.1" cy="280.4" r="1.2"/>
</g>
<g fill="#bfe1bb" fill-opacity=".55">
<circle cx="538.4" cy="95.4" r="0.9"/>
</g>
<g fill="#72b878">
<circle cx="180.5" cy="184.0" r="2.5"/>
</g>
<g fill="#79bc7d">
<circle cx="258.3" cy="236.6" r="1.7"/>
</g>
<g fill="#b0daad" fill-opacity=".55">
<circle cx="395.1" cy="81.9" r="1.3"/>
</g>
<g fill="#def0da" fill-opacity=".55">
<circle cx="630.0" cy="298.4" r="0.7"/>
</g>
<g fill="#bde0b9" fill-opacity=".55">
<circle cx="541.2" cy="127.0" r="0.9"/>
</g>
<g fill="#cbe7c7" fill-opacity=".55">
<circle cx="521.1" cy="91.7" r="1.1"/>
</g>
<g fill="#a7d5a5" fill-opacity=".55">
<circle cx="447.8" cy="165.9" r="1.1"/>
</g>
<g fill="#c8e6c4" fill-opacity=".55">
<circle cx="238.5" cy="241.9" r="0.9"/>
</g>
<g fill="#a1d2a0" fill-opacity=".55">
<circle cx="439.3" cy="155.4" r="1.2"/>
</g>
<g fill="#bce0b8" fill-opacity=".55">
<circle cx="157.8" cy="111.0" r="1.1"/>
</g>
<g fill="#bde0b9" fill-opacity=".55">
<circle cx="573.2" cy="94.0" r="0.8"/>
</g>
<g fill="#8fc890">
<circle cx="425.8" cy="83.6" r="2.0"/>
</g>
<g fill="#bee1ba" fill-opacity=".55">
<circle cx="393.3" cy="74.8" r="0.9"/>
</g>
<g fill="#c9e6c5" fill-opacity=".55">
<circle cx="463.0" cy="99.3" r="0.7"/>
</g>
<g fill="#a3d3a2" fill-opacity=".55">
<circle cx="478.3" cy="93.8" r="1.4"/>
</g>
<g fill="#8ec78f" fill-opacity=".55">
<circle cx="231.3" cy="129.8" r="1.4"/>
</g>
<g fill="#e7f4e3" fill-opacity=".55">
<circle cx="167.1" cy="79.7" r="0.6"/>
</g>
<g fill="#a2d2a1" fill-opacity=".55">
<circle cx="384.0" cy="87.3" r="1.2"/>
</g>
<g fill="#def0da" fill-opacity=".55">
<circle cx="606.1" cy="87.3" r="0.7"/>
</g>
<g fill="#c3e3bf" fill-opacity=".55">
<circle cx="187.7" cy="108.6" r="1.1"/>
</g>
<g fill="#c9e6c5" fill-opacity=".55">
<circle cx="377.8" cy="94.9" r="0.8"/>
</g>
<g fill="#c2e3be" fill-opacity=".55">
<circle cx="195.8" cy="85.3" r="0.9"/>
</g>
<g fill="#8bc68d" fill-opacity=".55">
<circle cx="538.9" cy="130.1" r="1.4"/>
</g>
<g fill="#e7f5e3" fill-opacity=".55">
<circle cx="163.8" cy="96.9" r="0.7"/>
</g>
<g fill="#d5ecd1" fill-opacity=".55">
<circle cx="398.5" cy="85.4" r="0.7"/>
</g>
<g fill="#a6d4a4" fill-opacity=".55">
<circle cx="189.4" cy="88.4" r="1.2"/>
</g>
<g fill="#76ba7b">
<circle cx="368.8" cy="127.9" r="2.1"/>
</g>
<g fill="#84c286" fill-opacity=".55">
<circle cx="144.7" cy="142.9" r="1.5"/>
</g>
<g fill="#badfb6" fill-opacity=".55">
<circle cx="250.6" cy="249.0" r="0.9"/>
</g>
<g fill="#b9deb5" fill-opacity=".55">
<circle cx="535.3" cy="109.9" r="1.0"/>
</g>
<g fill="#75ba7a">
<circle cx="241.4" cy="307.3" r="1.6"/>
</g>
<g fill="#d1eacd" fill-opacity=".55">
<circle cx="472.2" cy="87.9" r="1.1"/>
</g>
<g fill="#92c993">
<circle cx="203.1" cy="124.8" r="1.8"/>
</g>
<g fill="#b4dcb0" fill-opacity=".55">
<circle cx="630.8" cy="274.8" r="0.7"/>
</g>
<g fill="#96cc96">
<circle cx="520.3" cy="101.3" r="2.1"/>
</g>
<g fill="#add8aa" fill-opacity=".55">
<circle cx="266.9" cy="280.6" r="1.2"/>
</g>
<g fill="#93ca94" fill-opacity=".55">
<circle cx="368.6" cy="113.4" r="1.3"/>
</g>
<g fill="#cbe7c7" fill-opacity=".55">
<circle cx="453.5" cy="109.6" r="0.8"/>
</g>
<g fill="#d9eed5" fill-opacity=".55">
<circle cx="498.8" cy="127.2" r="0.8"/>
</g>
<g fill="#a6d4a4" fill-opacity=".55">
<circle cx="278.6" cy="241.7" r="0.9"/>
</g>
<g fill="#e1f1dd" fill-opacity=".55">
<circle cx="490.5" cy="82.9" r="0.7"/>
</g>
<g fill="#7abc7e">
<circle cx="346.6" cy="136.1" r="2.1"/>
</g>
<g fill="#abd7a8" fill-opacity=".55">
<circle cx="604.5" cy="91.9" r="1.4"/>
</g>
<g fill="#8fc891">
<circle cx="166.0" cy="164.1" r="1.6"/>
</g>
<g fill="#b4dcb0" fill-opacity=".55">
<circle cx="497.2" cy="136.2" r="0.7"/>
</g>
<g fill="#74b979" fill-opacity=".55">
<circle cx="286.8" cy="238.4" r="1.6"/>
</g>
<g fill="#97cc97">
<circle cx="549.7" cy="91.5" r="1.8"/>
</g>
<g fill="#9ccf9b">
<circle cx="238.1" cy="318.0" r="1.6"/>
</g>
<g fill="#79bc7d">
<circle cx="420.5" cy="121.7" r="2.1"/>
</g>
<g fill="#c2e3be" fill-opacity=".55">
<circle cx="621.4" cy="301.2" r="0.8"/>
</g>
<g fill="#73b878">
<circle cx="244.1" cy="247.9" r="2.0"/>
</g>
<g fill="#b7deb3" fill-opacity=".55">
<circle cx="276.0" cy="233.1" r="1.2"/>
</g>
<g fill="#77bb7c">
<circle cx="407.0" cy="96.8" r="1.7"/>
</g>
<g fill="#d8edd4" fill-opacity=".55">
<circle cx="585.9" cy="95.8" r="0.9"/>
</g>
<g fill="#c5e4c1" fill-opacity=".55">
<circle cx="506.7" cy="98.6" r="0.7"/>
</g>
<g fill="#d2eace" fill-opacity=".55">
<circle cx="638.6" cy="291.6" r="0.7"/>
</g>
<g fill="#8cc68e">
<circle cx="170.8" cy="130.1" r="2.0"/>
</g>
<g fill="#8cc68d" fill-opacity=".55">
<circle cx="580.0" cy="289.8" r="1.4"/>
</g>
<g fill="#cbe7c7" fill-opacity=".55">
<circle cx="431.8" cy="103.1" r="1.0"/>
</g>
<g fill="#9fd19e" fill-opacity=".55">
<circle cx="272.5" cy="261.2" r="1.4"/>
</g>
<g fill="#a6d4a4" fill-opacity=".55">
<circle cx="183.8" cy="104.9" r="1.0"/>
</g>
<g fill="#cbe7c7" fill-opacity=".55">
<circle cx="559.2" cy="110.0" r="0.7"/>
</g>
<g fill="#bee1ba" fill-opacity=".55">
<circle cx="240.1" cy="104.0" r="1.0"/>
</g>
<g fill="#86c389">
<circle cx="494.0" cy="93.2" r="2.0"/>
</g>
<g fill="#a9d6a7" fill-opacity=".55">
<circle cx="435.6" cy="160.6" r="1.5"/>
</g>
<g fill="#cee9ca" fill-opacity=".55">
<circle cx="601.6" cy="100.9" r="1.0"/>
</g>
<g fill="#b9deb5" fill-opacity=".55">
<circle cx="187.2" cy="84.7" r="1.1"/>
</g>
<g fill="#87c389" fill-opacity=".55">
<circle cx="444.3" cy="183.1" r="1.6"/>
</g>
<g fill="#cae7c6" fill-opacity=".55">
<circle cx="174.8" cy="90.2" r="0.8"/>
</g>
<g fill="#b6ddb2" fill-opacity=".55">
<circle cx="556.0" cy="107.5" r="1.4"/>
</g>
<g fill="#85c288" fill-opacity=".55">
<circle cx="236.8" cy="122.2" r="1.4"/>
</g>
<g fill="#8bc68d">
<circle cx="389.7" cy="113.9" r="2.0"/>
</g>
<g fill="#c6e5c2" fill-opacity=".55">
<circle cx="276.6" cy="257.0" r="0.9"/>
</g>
<g fill="#aed9ab" fill-opacity=".55">
<circle cx="523.6" cy="101.2" r="1.5"/>
</g>
<g fill="#79bc7d" fill-opacity=".55">
<circle cx="263.6" cy="270.7" r="1.6"/>
</g>
<g fill="#e6f4e2" fill-opacity=".55">
<circle cx="207.6" cy="107.3" r="0.6"/>
</g>
<g fill="#d7edd3" fill-opacity=".55">
<circle cx="499.4" cy="85.6" r="0.8"/>
</g>
<g fill="#7fbf82" fill-opacity=".55">
<circle cx="452.0" cy="144.0" r="1.5"/>
</g>
<g fill="#a2d2a1">
<circle cx="282.4" cy="241.5" r="1.6"/>
</g>
<g fill="#cee9ca" fill-opacity=".55">
<circle cx="112.3" cy="92.8" r="0.8"/>
</g>
<g fill="#8cc68e">
<circle cx="199.0" cy="125.4" r="1.7"/>
</g>
<g fill="#e8f5e4" fill-opacity=".55">
<circle cx="494.1" cy="91.5" r="0.5"/>
</g>
<g fill="#92c993" fill-opacity=".55">
<circle cx="382.0" cy="78.0" r="1.4"/>
</g>
<g fill="#9ed09d">
<circle cx="228.8" cy="129.7" r="1.7"/>
</g>
<g fill="#91c992" fill-opacity=".55">
<circle cx="550.3" cy="123.8" r="1.3"/>
</g>
<g fill="#daeed6" fill-opacity=".55">
<circle cx="622.0" cy="302.2" r="0.7"/>
</g>
<g fill="#d6ecd2" fill-opacity=".55">
<circle cx="449.5" cy="83.4" r="0.8"/>
</g>
<g fill="#7abc7e">
<circle cx="394.5" cy="123.2" r="1.7"/>
</g>
<g fill="#cbe7c7" fill-opacity=".55">
<circle cx="397.2" cy="82.2" r="0.8"/>
</g>
<g fill="#c7e5c3" fill-opacity=".55">
<circle cx="537.3" cy="106.7" r="1.1"/>
</g>
<g fill="#8ec78f" fill-opacity=".55">
<circle cx="473.8" cy="85.2" r="1.5"/>
</g>
<g fill="#80c084">
<circle cx="200.3" cy="127.2" r="1.9"/>
</g>
<g fill="#9ccf9b" fill-opacity=".55">
<circle cx="245.9" cy="281.1" r="1.4"/>
</g>
<g fill="#d8edd4" fill-opacity=".55">
<circle cx="490.1" cy="92.8" r="0.9"/>
</g>
<g fill="#9fd09e" fill-opacity=".55">
<circle cx="218.2" cy="145.3" r="1.2"/>
</g>
<g fill="#e1f2dd" fill-opacity=".55">
<circle cx="566.4" cy="97.4" r="0.5"/>
</g>
<g fill="#bde0b9" fill-opacity=".55">
<circle cx="241.6" cy="98.9" r="1.0"/>
</g>
<g fill="#c6e5c2" fill-opacity=".55">
<circle cx="499.0" cy="79.2" r="1.1"/>
</g>
<g fill="#b7deb3" fill-opacity=".55">
<circle cx="609.1" cy="92.5" r="1.2"/>
</g>
<g fill="#78bb7c" fill-opacity=".55">
<circle cx="520.5" cy="129.6" r="1.6"/>
</g>
<g fill="#cfe9cb" fill-opacity=".55">
<circle cx="440.4" cy="160.0" r="0.9"/>
</g>
<g fill="#eaf6e6" fill-opacity=".55">
<circle cx="470.1" cy="78.0" r="0.5"/>
</g>
<g fill="#85c288" fill-opacity=".55">
<circle cx="396.9" cy="117.0" r="1.4"/>
</g>
<g fill="#9ace99" fill-opacity=".55">
<circle cx="626.7" cy="302.7" r="1.1"/>
</g>
<g fill="#add8aa" fill-opacity=".55">
<circle cx="196.0" cy="155.0" r="1.4"/>
</g>
<g fill="#c3e3bf" fill-opacity=".55">
<circle cx="204.6" cy="95.7" r="0.7"/>
</g>
<g fill="#e1f2dd" fill-opacity=".55">
<circle cx="534.8" cy="112.1" r="0.6"/>
</g>
<g fill="#e8f5e4" fill-opacity=".55">
<circle cx="231.0" cy="105.6" r="0.5"/>
</g>
<g fill="#9fd19e" fill-opacity=".55">
<circle cx="621.0" cy="271.0" r="1.3"/>
</g>
<g fill="#88c48a" fill-opacity=".55">
<circle cx="220.8" cy="123.0" r="1.5"/>
</g>
<g fill="#cce7c8" fill-opacity=".55">
<circle cx="163.2" cy="90.1" r="0.7"/>
</g>
<g fill="#a6d5a4" fill-opacity=".55">
<circle cx="382.7" cy="78.2" r="1.1"/>
</g>
<g fill="#bce0b8" fill-opacity=".55">
<circle cx="626.8" cy="298.4" r="0.9"/>
</g>
<g fill="#d2ebce" fill-opacity=".55">
<circle cx="555.0" cy="124.1" r="0.6"/>
</g>
<g fill="#d0e9cc" fill-opacity=".55">
<circle cx="500.7" cy="137.4" r="0.7"/>
</g>
<g fill="#badfb6" fill-opacity=".55">
<circle cx="640.0" cy="281.9" r="1.0"/>
</g>
<g fill="#e5f4e1" fill-opacity=".55">
<circle cx="493.5" cy="80.7" r="0.8"/>
</g>
<g fill="#7fbf82" fill-opacity=".55">
<circle cx="605.4" cy="125.6" r="1.5"/>
</g>
<g fill="#badfb6" fill-opacity=".55">
<circle cx="266.8" cy="281.5" r="1.0"/>
</g>
<g fill="#dbefd7" fill-opacity=".55">
<circle cx="607.1" cy="102.8" r="0.8"/>
</g>
<g fill="#e0f1dc" fill-opacity=".55">
<circle cx="591.8" cy="101.3" r="0.9"/>
</g>
<g fill="#98cd98" fill-opacity=".55">
<circle cx="479.4" cy="108.9" r="1.1"/>
</g>
<g fill="#d8edd4" fill-opacity=".55">
<circle cx="463.4" cy="130.0" r="0.7"/>
</g>
<g fill="#99cd99" fill-opacity=".55">
<circle cx="429.0" cy="101.8" r="1.5"/>
</g>
<g fill="#badfb6" fill-opacity=".55">
<circle cx="212.4" cy="97.2" r="1.0"/>
</g>
<g fill="#c3e3bf" fill-opacity=".55">
<circle cx="528.6" cy="157.1" r="0.9"/>
</g>
<g fill="#b2dbae" fill-opacity=".55">
<circle cx="398.5" cy="81.0" r="1.2"/>
</g>
<g fill="#b8deb4" fill-opacity=".55">
<circle cx="434.1" cy="82.9" r="0.9"/>
</g>
<g fill="#d8edd4" fill-opacity=".55">
<circle cx="450.3" cy="83.1" r="0.6"/>
</g>
<g fill="#b3dcaf" fill-opacity=".55">
<circle cx="510.2" cy="136.2" r="0.8"/>
</g>
<g fill="#d0eacc" fill-opacity=".55">
<circle cx="170.2" cy="94.9" r="1.0"/>
</g>
<g fill="#bce0b8" fill-opacity=".55">
<circle cx="608.9" cy="293.8" r="0.7"/>
</g>
<g fill="#95cb95" fill-opacity=".55">
<circle cx="277.1" cy="230.0" r="1.4"/>
</g>
<g fill="#88c48a" fill-opacity=".55">
<circle cx="534.1" cy="112.3" r="1.4"/>
</g>
<g fill="#c0e2bc" fill-opacity=".55">
<circle cx="617.4" cy="271.0" r="0.5"/>
</g>
<g fill="#bbdfb7" fill-opacity=".55">
<circle cx="249.5" cy="278.4" r="1.1"/>
</g>
<g fill="#d9eed5" fill-opacity=".55">
<circle cx="165.8" cy="82.0" r="1.0"/>
</g>
<g fill="#cae7c6" fill-opacity=".55">
<circle cx="252.2" cy="227.5" r="0.9"/>
</g>
<g fill="#e9f5e5" fill-opacity=".55">
<circle cx="173.1" cy="89.3" r="0.6"/>
</g>
<g fill="#c3e3bf" fill-opacity=".55">
<circle cx="252.0" cy="233.3" r="0.9"/>
</g>
<g fill="#daeed6" fill-opacity=".55">
<circle cx="518.7" cy="84.0" r="0.7"/>
</g>
<g fill="#e3f3df" fill-opacity=".55">
<circle cx="210.6" cy="94.0" r="0.5"/>
</g>
<g fill="#ddf0d9" fill-opacity=".55">
<circle cx="576.0" cy="96.8" r="0.7"/>
</g>
<g fill="#eaf6e6" fill-opacity=".55">
<circle cx="206.1" cy="93.6" r="0.6"/>
</g>
<g fill="#cee8ca" fill-opacity=".55">
<circle cx="174.0" cy="77.8" r="0.7"/>
</g>
<g fill="#c4e4c0" fill-opacity=".55">
<circle cx="522.3" cy="116.1" r="0.9"/>
</g>
<g fill="#acd7a9" fill-opacity=".55">
<circle cx="155.3" cy="129.1" r="0.8"/>
</g>
<g fill="#9bce9b" fill-opacity=".55">
<circle cx="236.7" cy="219.6" r="1.1"/>
</g>
<g fill="#e3f3df" fill-opacity=".55">
<circle cx="443.0" cy="78.8" r="0.8"/>
</g>
<g fill="#c0e2bc" fill-opacity=".55">
<circle cx="539.4" cy="150.0" r="0.8"/>
</g>
<g fill="#bbe0b7" fill-opacity=".55">
<circle cx="278.0" cy="268.9" r="1.1"/>
</g>
<g fill="#c5e4c1" fill-opacity=".55">
<circle cx="169.6" cy="152.4" r="0.9"/>
</g>
<g fill="#d4ebd0" fill-opacity=".55">
<circle cx="464.1" cy="89.3" r="0.8"/>
</g>
<g fill="#e9f6e5" fill-opacity=".55">
<circle cx="154.6" cy="90.0" r="0.5"/>
</g>
<g fill="#cbe7c7" fill-opacity=".55">
<circle cx="467.4" cy="119.2" r="0.8"/>
</g>
<g fill="#bee1ba" fill-opacity=".55">
<circle cx="486.4" cy="98.1" r="1.0"/>
</g>
<g fill="#e7f4e3" fill-opacity=".55">
<circle cx="575.8" cy="98.1" r="0.6"/>
</g>
<g fill="#cde8c9" fill-opacity=".55">
<circle cx="237.0" cy="111.9" r="1.1"/>
</g>
<g fill="#c4e3c0" fill-opacity=".55">
<circle cx="446.1" cy="98.0" r="0.9"/>
</g>
<g fill="#d3ebcf" fill-opacity=".55">
<circle cx="483.4" cy="84.3" r="0.6"/>
</g>
<g fill="#eaf6e6" fill-opacity=".55">
<circle cx="199.2" cy="92.9" r="0.8"/>
</g>
<g fill="#cae7c6" fill-opacity=".55">
<circle cx="479.6" cy="133.1" r="0.8"/>
</g>
<g fill="#d5ecd1" fill-opacity=".55">
<circle cx="532.6" cy="140.0" r="0.7"/>
</g>
<g fill="#dff1db" fill-opacity=".55">
<circle cx="599.8" cy="275.1" r="0.5"/>
</g>
<g fill="#d0e9cc" fill-opacity=".55">
<circle cx="274.6" cy="229.6" r="0.9"/>
</g>
<g fill="#dbefd7" fill-opacity=".55">
<circle cx="407.6" cy="81.4" r="0.6"/>
</g>
<g fill="#e4f3e0" fill-opacity=".55">
<circle cx="609.8" cy="98.6" r="0.6"/>
</g>
<g fill="#cee8ca" fill-opacity=".55">
<circle cx="435.8" cy="106.6" r="0.7"/>
</g>
<g fill="#c4e4c0" fill-opacity=".55">
<circle cx="555.8" cy="116.6" r="0.7"/>
</g>
<g fill="#c8e6c4" fill-opacity=".55">
<circle cx="534.4" cy="159.3" r="0.9"/>
</g>
<g fill="#d8edd4" fill-opacity=".55">
<circle cx="194.7" cy="96.0" r="0.9"/>
</g>
<g fill="#cfe9cb" fill-opacity=".55">
<circle cx="369.6" cy="88.5" r="0.7"/>
</g>
<g fill="#d9eed5" fill-opacity=".55">
<circle cx="486.2" cy="86.9" r="0.6"/>
<circle cx="234.2" cy="122.8" r="0.7"/>
</g>
<g fill="#ddf0d9" fill-opacity=".55">
<circle cx="147.4" cy="87.8" r="0.5"/>
</g>
<g fill="#daeed6" fill-opacity=".55">
<circle cx="528.3" cy="115.8" r="0.6"/>
</g>
<g fill="#e8f5e4" fill-opacity=".55">
<circle cx="566.3" cy="100.0" r="0.6"/>
</g>
<g fill="#e0f1dc" fill-opacity=".55">
<circle cx="239.3" cy="102.6" r="0.7"/>
</g>
<g fill="#eaf6e6" fill-opacity=".55">
<circle cx="236.5" cy="103.3" r="0.5"/>
</g>
<g fill="#d5ecd1" fill-opacity=".55">
<circle cx="612.7" cy="292.0" r="0.7"/>
</g>
<g fill="#eaf6e6" fill-opacity=".55">
<circle cx="170.6" cy="77.1" r="0.5"/>
</g>
<g fill="#cbe7c7" fill-opacity=".55">
<circle cx="444.1" cy="84.6" r="0.7"/>
</g>
<g fill="#eaf6e6" fill-opacity=".55">
<circle cx="215.6" cy="102.7" r="0.6"/>
<circle cx="163.1" cy="94.9" r="0.5"/>
</g>
<g fill="#4c9657">
<circle cx="612.3" cy="138.2" r="5.2"/>
</g>
<g fill="#438b4e">
<circle cx="418.3" cy="162.3" r="7.0"/>
<circle cx="271.6" cy="271.5" r="7.0"/>
</g>
<g fill="#3d8448">
<circle cx="620.2" cy="304.0" r="8.5"/>
</g>
<g fill="#5ca666">
<circle cx="154.6" cy="158.1" r="3.5"/>
</g>
<g fill="#4d9758">
<circle cx="345.5" cy="152.6" r="5.0"/>
</g>
<g fill="#519c5c">
<circle cx="205.2" cy="171.2" r="4.5"/>
</g>
<g fill="#397e44">
<circle cx="493.5" cy="148.2" r="9.5"/>
</g>
<g fill="#55a060">
<circle cx="193.6" cy="156.2" r="4.1"/>
</g>
<g fill="#4b9556">
<circle cx="598.3" cy="148.3" r="6.8"/>
</g>
<g fill="#4d9758">
<circle cx="427.3" cy="142.7" r="5.0"/>
</g>
<g fill="#519c5c">
<circle cx="401.0" cy="103.2" r="4.5"/>
</g>
<g fill="#479152">
<circle cx="493.6" cy="173.0" r="6.0"/>
</g>
<g fill="#499354">
<circle cx="575.3" cy="173.0" r="7.2"/>
</g>
<g fill="#41894c">
<circle cx="448.5" cy="133.5" r="7.5"/>
</g>
<g fill="#468f51">
<circle cx="558.6" cy="146.9" r="8.0"/>
</g>
<g fill="#458e50">
<circle cx="519.0" cy="161.2" r="6.5"/>
</g>
<g fill="#56a061">
<circle cx="579.5" cy="139.8" r="4.8"/>
</g>
<g fill="#479152">
<circle cx="258.1" cy="297.7" r="6.0"/>
</g>
<g fill="#4e9859">
<circle cx="177.7" cy="157.5" r="4.9"/>
</g>
<g fill="#3b8246">
<circle cx="278.9" cy="271.5" r="9.0"/>
</g>
<g fill="#4d9758">
<circle cx="266.6" cy="258.0" r="5.0"/>
</g>
<g fill="#499354">
<circle cx="223.8" cy="135.9" r="5.7"/>
</g>
<g fill="#4a9455">
<circle cx="439.0" cy="130.7" r="5.5"/>
<circle cx="442.0" cy="106.3" r="5.5"/>
</g>
<g fill="#3f864a">
<circle cx="374.7" cy="112.8" r="8.0"/>
</g>
<g fill="#479152">
<circle cx="470.0" cy="170.1" r="6.0"/>
</g>
<g fill="#4d9758">
<circle cx="387.7" cy="121.9" r="5.0"/>
</g>
<g fill="#4e9859">
<circle cx="218.5" cy="133.5" r="4.9"/>
</g>
<g fill="#438b4e">
<circle cx="553.2" cy="193.0" r="7.0"/>
</g>
<g fill="#458e50">
<circle cx="368.5" cy="122.0" r="6.5"/>
</g>
<g fill="#479152">
<circle cx="571.1" cy="141.7" r="7.6"/>
</g>
<g fill="#4a9455">
<circle cx="478.3" cy="102.5" r="5.5"/>
<circle cx="496.6" cy="164.2" r="5.5"/>
<circle cx="555.6" cy="220.5" r="5.5"/>
</g>
<g fill="#4d9758">
<circle cx="478.6" cy="110.6" r="5.0"/>
</g>
<g fill="#458e50">
<circle cx="505.6" cy="162.3" r="6.5"/>
</g>
<g fill="#438c4e">
<circle cx="557.5" cy="157.1" r="8.8"/>
</g>
<g fill="#519c5c">
<circle cx="424.9" cy="109.4" r="4.5"/>
</g>
<g fill="#479152">
<circle cx="145.6" cy="150.1" r="6.1"/>
</g>
<g fill="#4a9455">
<circle cx="345.0" cy="131.9" r="5.5"/>
</g>
<g fill="#4f995a">
<circle cx="611.6" cy="145.3" r="4.8"/>
</g>
<g fill="#3f864a">
<circle cx="501.6" cy="162.9" r="8.0"/>
</g>
<g fill="#4d9758">
<circle cx="357.6" cy="118.9" r="5.0"/>
</g>
<g fill="#438b4e">
<circle cx="269.0" cy="256.1" r="7.0"/>
</g>
<g fill="#4c9757">
<circle cx="562.0" cy="139.1" r="6.4"/>
</g>
<g fill="#479152">
<circle cx="267.9" cy="277.0" r="6.0"/>
</g>
<g fill="#438b4e">
<circle cx="479.3" cy="135.2" r="7.0"/>
</g>
<g fill="#5da868">
<circle cx="590.4" cy="127.7" r="4.0"/>
</g>
<g fill="#3b8246">
<circle cx="353.6" cy="133.5" r="9.0"/>
</g>
<g fill="#458e50">
<circle cx="214.5" cy="129.4" r="6.6"/>
</g>
<g fill="#3f864a">
<circle cx="608.6" cy="144.9" r="8.0"/>
</g>
<g fill="#519c5c">
<circle cx="436.2" cy="109.8" r="4.5"/>
</g>
<g fill="#479152">
<circle cx="369.6" cy="127.3" r="6.0"/>
</g>
<g fill="#499354">
<circle cx="573.0" cy="171.4" r="7.2"/>
</g>
<g fill="#55a060">
<circle cx="209.3" cy="155.5" r="4.1"/>
</g>
<g fill="#5ca666">
<circle cx="238.6" cy="280.1" r="3.5"/>
</g>
<g fill="#60aa6a">
<circle cx="494.0" cy="112.1" r="3.2"/>
</g>
<g fill="#3d8448">
<circle cx="449.1" cy="157.5" r="8.5"/>
</g>
<g fill="#519c5c">
<circle cx="583.4" cy="208.6" r="4.5"/>
</g>
<g fill="#6ab272">
<circle cx="132.3" cy="90.0" r="2.6"/>
</g>
<g fill="#479152">
<circle cx="573.0" cy="291.3" r="6.0"/>
</g>
<g fill="#40874b">
<circle cx="222.8" cy="136.8" r="7.8"/>
</g>
<g fill="#4b9556">
<circle cx="152.3" cy="142.7" r="5.3"/>
</g>
<g fill="#4a9455">
<circle cx="401.0" cy="128.6" r="5.5"/>
</g>
<g fill="#3f864a">
<circle cx="364.0" cy="131.4" r="8.0"/>
</g>
<g fill="#4a9455">
<circle cx="376.8" cy="92.6" r="5.5"/>
<circle cx="398.5" cy="92.0" r="5.5"/>
</g>
<g fill="#519c5c">
<circle cx="170.9" cy="110.9" r="4.5"/>
</g>
<g fill="#4c9757">
<circle cx="573.7" cy="146.9" r="6.4"/>
</g>
<g fill="#539d5e">
<circle cx="547.8" cy="143.0" r="5.2"/>
</g>
<g fill="#63ac6c">
<circle cx="464.0" cy="106.3" r="3.0"/>
</g>
<g fill="#499354">
<circle cx="607.0" cy="127.8" r="5.6"/>
</g>
<g fill="#519c5c">
<circle cx="440.8" cy="181.8" r="4.5"/>
</g>
<g fill="#63ac6c">
<circle cx="448.6" cy="119.1" r="3.0"/>
</g>
<g fill="#458e50">
<circle cx="365.3" cy="111.7" r="6.5"/>
</g>
<g fill="#479152">
<circle cx="589.9" cy="232.8" r="6.0"/>
</g>
<g fill="#458e50">
<circle cx="378.6" cy="141.3" r="6.5"/>
<circle cx="561.9" cy="228.1" r="6.5"/>
</g>
<g fill="#499354">
<circle cx="570.1" cy="160.1" r="7.2"/>
</g>
<g fill="#4d9758">
<circle cx="547.9" cy="180.6" r="5.0"/>
</g>
<g fill="#5ca666">
<circle cx="581.4" cy="210.9" r="3.5"/>
<circle cx="463.1" cy="184.5" r="3.5"/>
</g>
<g fill="#41894c">
<circle cx="553.2" cy="209.8" r="7.5"/>
</g>
<g fill="#56a161">
<circle cx="269.7" cy="281.8" r="4.0"/>
</g>
<g fill="#529d5d">
<circle cx="568.9" cy="178.0" r="4.4"/>
</g>
<g fill="#4a9455">
<circle cx="168.1" cy="175.6" r="5.5"/>
</g>
<g fill="#4e9859">
<circle cx="179.7" cy="155.5" r="4.9"/>
</g>
<g fill="#4d9758">
<circle cx="450.5" cy="103.2" r="5.0"/>
<circle cx="421.3" cy="165.5" r="5.0"/>
</g>
<g fill="#6ab272">
<circle cx="406.6" cy="75.2" r="2.6"/>
</g>
<g fill="#458e50">
<circle cx="443.1" cy="138.5" r="6.5"/>
</g>
<g fill="#5da868">
<circle cx="598.8" cy="164.5" r="4.0"/>
</g>
<g fill="#3d8448">
<circle cx="550.1" cy="213.7" r="8.5"/>
</g>
<g fill="#448d4f">
<circle cx="582.2" cy="155.6" r="8.4"/>
</g>
<g fill="#4a9455">
<circle cx="464.9" cy="138.8" r="5.5"/>
</g>
<g fill="#63ac6c">
<circle cx="473.4" cy="123.9" r="3.0"/>
</g>
<g fill="#56a061">
<circle cx="541.4" cy="117.4" r="4.8"/>
</g>
<g fill="#519c5c">
<circle cx="580.8" cy="228.8" r="4.5"/>
</g>
<g fill="#60aa6a">
<circle cx="637.9" cy="293.4" r="3.2"/>
</g>
<g fill="#519c5c">
<circle cx="222.8" cy="141.1" r="4.5"/>
</g>
<g fill="#63ac6c">
<circle cx="449.3" cy="126.5" r="3.0"/>
</g>
<g fill="#438c4e">
<circle cx="571.2" cy="154.9" r="8.8"/>
</g>
<g fill="#438b4e">
<circle cx="375.7" cy="115.5" r="7.0"/>
</g>
<g fill="#397e44">
<circle cx="371.6" cy="110.5" r="9.5"/>
</g>
<g fill="#3b8246">
<circle cx="367.8" cy="109.6" r="9.0"/>
</g>
<g fill="#72b878">
<circle cx="528.9" cy="156.9" r="2.2"/>
</g>
<g fill="#5aa565">
<circle cx="588.3" cy="116.2" r="3.6"/>
</g>
<g fill="#479152">
<circle cx="395.6" cy="124.0" r="6.0"/>
</g>
<g fill="#56a161">
<circle cx="466.9" cy="131.0" r="4.0"/>
</g>
<g fill="#519c5c">
<circle cx="249.1" cy="293.4" r="4.5"/>
</g>
<g fill="#539d5e">
<circle cx="590.5" cy="144.9" r="5.2"/>
</g>
<g fill="#59a464">
<circle cx="197.7" cy="113.2" r="3.7"/>
</g>
<g fill="#479152">
<circle cx="565.3" cy="138.6" r="7.6"/>
</g>
<g fill="#468f51">
<circle cx="577.2" cy="130.5" r="8.0"/>
</g>
<g fill="#397e44">
<circle cx="463.8" cy="166.5" r="9.5"/>
</g>
<g fill="#458e50">
<circle cx="174.1" cy="180.2" r="6.5"/>
</g>
<g fill="#4b9556">
<circle cx="586.7" cy="168.9" r="6.8"/>
</g>
<g fill="#3f874a">
<circle cx="588.0" cy="167.0" r="9.6"/>
</g>
<g fill="#4d9758">
<circle cx="448.3" cy="96.4" r="5.0"/>
</g>
<g fill="#4c9757">
<circle cx="575.3" cy="159.0" r="6.4"/>
</g>
<g fill="#59a464">
<circle cx="603.7" cy="146.0" r="4.4"/>
</g>
<g fill="#519c5c">
<circle cx="226.3" cy="179.2" r="4.5"/>
</g>
<g fill="#55a060">
<circle cx="162.3" cy="132.9" r="4.1"/>
</g>
<g fill="#458e50">
<circle cx="518.4" cy="183.0" r="6.5"/>
</g>
<g fill="#56a161">
<circle cx="234.3" cy="293.4" r="4.0"/>
</g>
<g fill="#4d9758">
<circle cx="355.1" cy="127.4" r="5.0"/>
</g>
<g fill="#58a363">
<circle cx="286.1" cy="229.7" r="3.8"/>
</g>
<g fill="#4b9556">
<circle cx="585.1" cy="156.5" r="6.8"/>
<circle cx="586.7" cy="172.2" r="6.8"/>
</g>
<g fill="#397e44">
<circle cx="572.3" cy="236.9" r="9.5"/>
</g>
<g fill="#438b4e">
<circle cx="497.8" cy="152.6" r="7.0"/>
</g>
<g fill="#6ab272">
<circle cx="465.3" cy="90.4" r="2.6"/>
</g>
<g fill="#519c5c">
<circle cx="191.5" cy="136.3" r="4.5"/>
</g>
<g fill="#3f864a">
<circle cx="346.3" cy="148.3" r="8.0"/>
</g>
<g fill="#6ab272">
<circle cx="419.8" cy="83.6" r="2.6"/>
</g>
<g fill="#5da767">
<circle cx="495.1" cy="99.5" r="3.4"/>
</g>
<g fill="#458e50">
<circle cx="155.5" cy="148.5" r="6.6"/>
</g>
<g fill="#41894c">
<circle cx="501.9" cy="154.6" r="7.5"/>
</g>
<g fill="#4a9455">
<circle cx="430.2" cy="99.9" r="5.5"/>
</g>
<g fill="#4b9556">
<circle cx="575.7" cy="152.1" r="6.8"/>
</g>
<g fill="#3b8246">
<circle cx="533.2" cy="172.9" r="9.0"/>
</g>
<g fill="#41894c">
<circle cx="365.7" cy="141.5" r="7.5"/>
<circle cx="552.2" cy="154.7" r="9.2"/>
</g>
<g fill="#438b4e">
<circle cx="357.8" cy="105.0" r="7.0"/>
<circle cx="343.9" cy="137.2" r="7.0"/>
</g>
<g fill="#539d5e">
<circle cx="601.3" cy="146.6" r="5.2"/>
</g>
<g fill="#63ac6c">
<circle cx="248.9" cy="306.0" r="3.0"/>
</g>
<g fill="#438b4e">
<circle cx="426.2" cy="151.9" r="7.0"/>
</g>
<g fill="#4a9455">
<circle cx="438.6" cy="100.9" r="5.5"/>
</g>
<g fill="#4d9758">
<circle cx="482.2" cy="129.4" r="5.0"/>
</g>
<g fill="#519c5c">
<circle cx="207.0" cy="134.8" r="4.5"/>
</g>
<g fill="#3f864a">
<circle cx="454.9" cy="150.4" r="8.0"/>
</g>
<g fill="#499354">
<circle cx="153.3" cy="114.7" r="5.7"/>
</g>
<g fill="#479152">
<circle cx="519.6" cy="165.8" r="6.0"/>
</g>
<g fill="#4d9758">
<circle cx="412.7" cy="120.4" r="5.0"/>
</g>
<g fill="#438b4e">
<circle cx="424.9" cy="152.2" r="7.0"/>
</g>
<g fill="#479152">
<circle cx="420.8" cy="113.0" r="6.0"/>
</g>
<g fill="#519c5c">
<circle cx="569.1" cy="194.9" r="4.5"/>
</g>
<g fill="#458e50">
<circle cx="505.8" cy="170.9" r="6.5"/>
</g>
<g fill="#41894c">
<circle cx="222.1" cy="126.4" r="7.4"/>
</g>
<g fill="#458e50">
<circle cx="457.5" cy="157.0" r="6.5"/>
<circle cx="510.0" cy="200.0" r="6.5"/>
</g>
<g fill="#438b4e">
<circle cx="500.0" cy="154.2" r="7.0"/>
</g>
<g fill="#4a9455">
<circle cx="554.7" cy="211.6" r="5.5"/>
</g>
<g fill="#4f995a">
<circle cx="508.4" cy="100.5" r="4.8"/>
</g>
<g fill="#479152">
<circle cx="488.2" cy="166.2" r="6.0"/>
</g>
<g fill="#41894c">
<circle cx="569.2" cy="136.3" r="9.2"/>
</g>
<g fill="#4c9757">
<circle cx="581.8" cy="168.2" r="6.4"/>
</g>
<g fill="#438b4e">
<circle cx="252.3" cy="276.8" r="7.0"/>
</g>
<g fill="#479152">
<circle cx="594.4" cy="144.9" r="7.6"/>
</g>
<g fill="#438b4e">
<circle cx="453.8" cy="164.0" r="7.0"/>
</g>
<g fill="#56a161">
<circle cx="606.7" cy="141.9" r="4.0"/>
</g>
<g fill="#438b4e">
<circle cx="408.8" cy="137.9" r="7.0"/>
</g>
<g fill="#4b9556">
<circle cx="584.7" cy="160.5" r="6.8"/>
</g>
<g fill="#63ac6c">
<circle cx="486.6" cy="108.2" r="3.0"/>
</g>
<g fill="#4d9758">
<circle cx="439.1" cy="134.0" r="5.0"/>
</g>
<g fill="#5da868">
<circle cx="571.6" cy="165.3" r="4.0"/>
</g>
<g fill="#3f864a">
<circle cx="506.5" cy="199.9" r="8.0"/>
</g>
<g fill="#438b4e">
<circle cx="509.6" cy="175.5" r="7.0"/>
</g>
<g fill="#4d9758">
<circle cx="454.8" cy="164.5" r="5.0"/>
</g>
<g fill="#56a161">
<circle cx="570.8" cy="221.7" r="4.0"/>
</g>
<g fill="#458e50">
<circle cx="152.5" cy="118.1" r="6.6"/>
</g>
<g fill="#4a9455">
<circle cx="427.8" cy="118.9" r="5.5"/>
</g>
<g fill="#519c5c">
<circle cx="352.3" cy="141.6" r="4.5"/>
</g>
<g fill="#56a061">
<circle cx="557.7" cy="132.7" r="4.8"/>
</g>
<g fill="#4e9959">
<circle cx="575.1" cy="145.2" r="6.0"/>
</g>
<g fill="#3f864a">
<circle cx="286.6" cy="250.0" r="8.0"/>
</g>
<g fill="#58a363">
<circle cx="463.6" cy="98.2" r="3.8"/>
</g>
<g fill="#60aa6a">
<circle cx="257.0" cy="266.1" r="3.2"/>
</g>
<g fill="#41894c">
<circle cx="387.9" cy="116.8" r="7.5"/>
</g>
<g fill="#479152">
<circle cx="528.8" cy="171.9" r="6.0"/>
</g>
<g fill="#59a464">
<circle cx="566.8" cy="166.4" r="4.4"/>
</g>
<g fill="#4a9455">
<circle cx="496.5" cy="147.2" r="5.5"/>
</g>
<g fill="#448d4f">
<circle cx="566.8" cy="145.8" r="8.4"/>
</g>
<g fill="#4a9455">
<circle cx="379.8" cy="124.7" r="5.5"/>
</g>
<g fill="#5ca666">
<circle cx="379.7" cy="145.8" r="3.5"/>
</g>
<g fill="#56a161">
<circle cx="531.6" cy="108.2" r="4.0"/>
</g>
<g fill="#6eb575">
<circle cx="412.1" cy="88.9" r="2.4"/>
</g>
<g fill="#3d8448">
<circle cx="513.6" cy="206.6" r="8.5"/>
</g>
<g fill="#4d9758">
<circle cx="242.1" cy="290.1" r="5.0"/>
</g>
<g fill="#41894c">
<circle cx="357.1" cy="107.8" r="7.5"/>
</g>
<g fill="#509b5b">
<circle cx="590.2" cy="142.3" r="5.6"/>
</g>
<g fill="#5ca666">
<circle cx="291.7" cy="242.5" r="3.5"/>
</g>
<g fill="#499354">
<circle cx="173.5" cy="135.0" r="5.7"/>
</g>
<g fill="#519c5c">
<circle cx="203.4" cy="142.7" r="4.5"/>
</g>
<g fill="#4a9455">
<circle cx="373.1" cy="118.2" r="5.5"/>
</g>
<g fill="#41894c">
<circle cx="402.7" cy="138.7" r="7.5"/>
</g>
<g fill="#63ac6c">
<circle cx="630.7" cy="298.5" r="3.0"/>
</g>
<g fill="#56a161">
<circle cx="559.0" cy="213.3" r="4.0"/>
</g>
<g fill="#4e9859">
<circle cx="143.1" cy="137.4" r="4.9"/>
</g>
<g fill="#40874b">
<circle cx="183.7" cy="156.6" r="7.8"/>
</g>
<g fill="#357940">
<circle cx="606.6" cy="145.9" r="10.4"/>
</g>
<g fill="#5ca666">
<circle cx="158.8" cy="167.5" r="3.5"/>
</g>
<g fill="#3f864a">
<circle cx="356.6" cy="105.7" r="8.0"/>
</g>
<g fill="#3b8246">
<circle cx="382.2" cy="107.8" r="9.0"/>
</g>
<g fill="#519c5c">
<circle cx="555.0" cy="188.9" r="4.5"/>
</g>
<g fill="#4d9758">
<circle cx="599.5" cy="203.1" r="5.0"/>
</g>
<g fill="#56a161">
<circle cx="609.5" cy="139.0" r="4.0"/>
</g>
<g fill="#5ca666">
<circle cx="432.7" cy="123.5" r="3.5"/>
</g>
<g fill="#59a464">
<circle cx="156.7" cy="151.4" r="3.7"/>
</g>
<g fill="#3b8246">
<circle cx="165.0" cy="176.5" r="9.0"/>
</g>
<g fill="#397e44">
<circle cx="212.8" cy="247.8" r="9.5"/>
</g>
<g fill="#3f864a">
<circle cx="597.7" cy="199.1" r="8.0"/>
</g>
<g fill="#479152">
<circle cx="562.7" cy="233.4" r="6.0"/>
</g>
<g fill="#5ca666">
<circle cx="398.5" cy="93.6" r="3.5"/>
</g>
<g fill="#4d9758">
<circle cx="434.5" cy="168.2" r="5.0"/>
</g>
<g fill="#458e50">
<circle cx="581.3" cy="240.5" r="6.5"/>
</g>
<g fill="#4d9758">
<circle cx="359.2" cy="123.9" r="5.0"/>
</g>
<g fill="#458e50">
<circle cx="384.3" cy="112.8" r="6.5"/>
</g>
<g fill="#4d9758">
<circle cx="145.7" cy="150.7" r="5.0"/>
</g>
<g fill="#4a9455">
<circle cx="595.0" cy="198.3" r="5.5"/>
</g>
<g fill="#40874b">
<circle cx="140.8" cy="139.4" r="7.8"/>
</g>
<g fill="#67af6f">
<circle cx="471.8" cy="89.9" r="2.8"/>
</g>
<g fill="#59a464">
<circle cx="554.6" cy="133.0" r="4.4"/>
</g>
<g fill="#438b4e">
<circle cx="405.4" cy="124.9" r="7.0"/>
</g>
<g fill="#4a9455">
<circle cx="265.5" cy="287.0" r="5.5"/>
</g>
<g fill="#41894c">
<circle cx="391.9" cy="112.3" r="7.5"/>
</g>
<g fill="#4a9455">
<circle cx="349.4" cy="140.0" r="5.5"/>
</g>
<g fill="#458e50">
<circle cx="566.2" cy="186.6" r="6.5"/>
</g>
<g fill="#479152">
<circle cx="435.4" cy="174.9" r="6.0"/>
</g>
<g fill="#3d8448">
<circle cx="511.2" cy="163.0" r="8.5"/>
<circle cx="497.8" cy="175.4" r="8.5"/>
</g>
<g fill="#3f864a">
<circle cx="507.6" cy="197.6" r="8.0"/>
</g>
<g fill="#58a363">
<circle cx="498.3" cy="101.8" r="3.8"/>
</g>
<g fill="#5ca666">
<circle cx="451.1" cy="109.2" r="3.5"/>
<circle cx="196.3" cy="175.4" r="3.5"/>
</g>
<g fill="#438b4e">
<circle cx="492.4" cy="155.7" r="7.0"/>
</g>
<g fill="#63ac6c">
<circle cx="445.4" cy="110.5" r="3.0"/>
</g>
<g fill="#3f864a">
<circle cx="411.0" cy="112.0" r="8.0"/>
</g>
<g fill="#4e9859">
<circle cx="209.0" cy="159.4" r="4.9"/>
<circle cx="199.0" cy="137.4" r="4.9"/>
</g>
<g fill="#519c5c">
<circle cx="555.8" cy="185.7" r="4.5"/>
</g>
<g fill="#40874b">
<circle cx="183.0" cy="150.1" r="7.8"/>
</g>
<g fill="#3c8247">
<circle cx="575.1" cy="172.4" r="10.4"/>
</g>
<g fill="#519c5c">
<circle cx="175.4" cy="105.7" r="4.5"/>
</g>
<g fill="#3f864a">
<circle cx="494.7" cy="153.1" r="8.0"/>
</g>
<g fill="#438b4e">
<circle cx="426.5" cy="148.5" r="7.0"/>
</g>
<g fill="#4d9758">
<circle cx="553.5" cy="223.7" r="5.0"/>
</g>
<g fill="#4a9455">
<circle cx="244.7" cy="228.4" r="5.5"/>
</g>
<g fill="#4c9757">
<circle cx="577.9" cy="126.0" r="6.4"/>
</g>
<g fill="#458e50">
<circle cx="388.1" cy="93.8" r="6.5"/>
<circle cx="353.4" cy="100.8" r="6.5"/>
</g>
<g fill="#5da868">
<circle cx="550.2" cy="137.8" r="4.0"/>
</g>
<g fill="#4f995a">
<circle cx="293.2" cy="239.2" r="4.8"/>
</g>
<g fill="#5ca666">
<circle cx="292.5" cy="234.3" r="3.5"/>
</g>
<g fill="#438b4e">
<circle cx="498.1" cy="173.0" r="7.0"/>
</g>
<g fill="#4f9a5a">
<circle cx="242.3" cy="198.4" r="4.7"/>
</g>
<g fill="#5ea868">
<circle cx="455.6" cy="112.3" r="3.3"/>
</g>
<g fill="#397e44">
<circle cx="227.6" cy="181.2" r="9.5"/>
</g>
<g fill="#4d9758">
<circle cx="351.1" cy="147.3" r="5.0"/>
<circle cx="427.5" cy="123.5" r="5.0"/>
</g>
<g fill="#5aa565">
<circle cx="444.4" cy="98.8" r="3.6"/>
</g>
<g fill="#4c9657">
<circle cx="512.5" cy="126.2" r="5.2"/>
</g>
<g fill="#3f864a">
<circle cx="394.7" cy="108.4" r="8.0"/>
<circle cx="379.8" cy="117.0" r="8.0"/>
</g>
<g fill="#519c5c">
<circle cx="557.1" cy="216.8" r="4.5"/>
</g>
<g fill="#5ea868">
<circle cx="166.7" cy="145.0" r="3.3"/>
</g>
<g fill="#3f864a">
<circle cx="572.2" cy="238.6" r="8.0"/>
</g>
<g fill="#56a061">
<circle cx="565.5" cy="154.6" r="4.8"/>
</g>
<g fill="#479152">
<circle cx="359.5" cy="135.5" r="6.0"/>
</g>
<g fill="#4a9455">
<circle cx="458.8" cy="102.2" r="5.5"/>
</g>
<g fill="#479152">
<circle cx="233.5" cy="122.5" r="6.1"/>
</g>
<g fill="#458e50">
<circle cx="404.9" cy="104.8" r="6.5"/>
</g>
<g fill="#56a161">
<circle cx="397.1" cy="151.6" r="4.0"/>
</g>
<g fill="#489253">
<circle cx="561.8" cy="176.1" r="7.5"/>
</g>
<g fill="#458e50">
<circle cx="277.1" cy="265.0" r="6.5"/>
</g>
<g fill="#4d9758">
<circle cx="565.5" cy="198.9" r="5.0"/>
</g>
<g fill="#4c9757">
<circle cx="552.7" cy="167.0" r="6.4"/>
</g>
<g fill="#438b4e">
<circle cx="448.5" cy="155.1" r="7.0"/>
</g>
<g fill="#3b8246">
<circle cx="636.0" cy="295.5" r="9.0"/>
</g>
<g fill="#4e9959">
<circle cx="564.7" cy="146.0" r="6.0"/>
</g>
<g fill="#4e9859">
<circle cx="206.7" cy="160.7" r="4.9"/>
</g>
<g fill="#56a161">
<circle cx="572.7" cy="218.2" r="4.0"/>
</g>
<g fill="#4b9556">
<circle cx="580.6" cy="152.2" r="6.8"/>
</g>
<g fill="#438b4e">
<circle cx="560.0" cy="218.3" r="7.0"/>
</g>
<g fill="#3f864a">
<circle cx="382.2" cy="130.3" r="8.0"/>
</g>
<g fill="#458e50">
<circle cx="456.7" cy="166.4" r="6.5"/>
<circle cx="563.1" cy="199.7" r="6.5"/>
</g>
<g fill="#56a161">
<circle cx="163.2" cy="159.2" r="4.0"/>
</g>
<g fill="#3f864a">
<circle cx="424.1" cy="151.6" r="8.0"/>
</g>
<g fill="#438c4e">
<circle cx="574.2" cy="171.3" r="8.8"/>
</g>
<g fill="#479152">
<circle cx="234.8" cy="181.5" r="6.0"/>
</g>
<g fill="#377b41">
<circle cx="590.8" cy="188.4" r="10.0"/>
</g>
<g fill="#78bb7d">
<circle cx="638.3" cy="263.6" r="2.0"/>
</g>
<g fill="#519c5c">
<circle cx="372.1" cy="142.3" r="4.5"/>
</g>
<g fill="#56a161">
<circle cx="228.7" cy="301.9" r="4.0"/>
</g>
<g fill="#469051">
<circle cx="675.0" cy="302.0" r="6.2"/>
</g>
<g fill="#519c5c">
<circle cx="284.0" cy="265.9" r="4.5"/>
</g>
<g fill="#63ac6c">
<circle cx="498.4" cy="113.1" r="3.0"/>
</g>
<g fill="#82c185">
<circle cx="610.5" cy="248.8" r="1.8"/>
</g>
<g fill="#438b4e">
<circle cx="601.5" cy="206.1" r="7.0"/>
</g>
<g fill="#3e8549">
<circle cx="206.3" cy="130.3" r="8.2"/>
</g>
<g fill="#519c5c">
<circle cx="164.7" cy="152.2" r="4.5"/>
</g>
<g fill="#458e50">
<circle cx="380.3" cy="101.1" r="6.5"/>
</g>
<g fill="#56a161">
<circle cx="214.4" cy="182.3" r="4.0"/>
<circle cx="191.0" cy="175.8" r="4.0"/>
</g>
<g fill="#377b41">
<circle cx="434.2" cy="166.4" r="10.0"/>
</g>
<g fill="#519c5c">
<circle cx="553.3" cy="206.3" r="4.5"/>
</g>
<g fill="#479152">
<circle cx="493.6" cy="102.5" r="6.0"/>
</g>
<g fill="#4a9455">
<circle cx="419.4" cy="116.3" r="5.5"/>
</g>
<g fill="#65ad6d">
<circle cx="250.1" cy="124.5" r="2.9"/>
</g>
<g fill="#4d9758">
<circle cx="435.2" cy="115.7" r="5.0"/>
</g>
<g fill="#3d8448">
<circle cx="418.6" cy="134.6" r="8.5"/>
</g>
<g fill="#82c185">
<circle cx="244.4" cy="336.7" r="1.8"/>
</g>
<g fill="#72b878">
<circle cx="617.6" cy="315.0" r="2.2"/>
</g>
<g fill="#468f51">
<circle cx="578.3" cy="151.7" r="8.0"/>
</g>
<g fill="#55a060">
<circle cx="183.5" cy="144.2" r="4.1"/>
</g>
<g fill="#438b4e">
<circle cx="462.3" cy="168.3" r="7.0"/>
</g>
<g fill="#4a9455">
<circle cx="439.7" cy="142.7" r="5.5"/>
</g>
<g fill="#5da767">
<circle cx="442.4" cy="120.7" r="3.4"/>
</g>
<g fill="#41894c">
<circle cx="494.3" cy="127.4" r="7.5"/>
</g>
<g fill="#499354">
<circle cx="199.0" cy="123.8" r="5.7"/>
</g>
<g fill="#3d8448">
<circle cx="376.0" cy="122.5" r="8.5"/>
</g>
<g fill="#41894c">
<circle cx="385.5" cy="132.6" r="7.5"/>
<circle cx="226.6" cy="134.6" r="7.4"/>
</g>
<g fill="#438b4e">
<circle cx="210.2" cy="165.3" r="7.0"/>
</g>
<g fill="#4b9556">
<circle cx="213.6" cy="144.8" r="5.3"/>
</g>
<g fill="#458e50">
<circle cx="424.9" cy="147.7" r="6.5"/>
<circle cx="373.5" cy="123.4" r="6.5"/>
</g>
<g fill="#4e9959">
<circle cx="592.9" cy="143.4" r="6.0"/>
</g>
<g fill="#3f864a">
<circle cx="467.8" cy="142.4" r="8.0"/>
</g>
<g fill="#3b8246">
<circle cx="172.5" cy="165.5" r="9.0"/>
</g>
<g fill="#448d4f">
<circle cx="582.2" cy="153.3" r="8.4"/>
</g>
<g fill="#519c5c">
<circle cx="218.0" cy="143.5" r="4.5"/>
<circle cx="585.3" cy="224.3" r="4.5"/>
</g>
<g fill="#479152">
<circle cx="374.7" cy="118.5" r="6.0"/>
</g>
<g fill="#499354">
<circle cx="612.0" cy="297.8" r="5.7"/>
</g>
<g fill="#479152">
<circle cx="350.0" cy="106.0" r="6.0"/>
<circle cx="424.2" cy="117.2" r="6.0"/>
</g>
<g fill="#3d8448">
<circle cx="406.1" cy="89.4" r="8.5"/>
</g>
<g fill="#519c5c">
<circle cx="229.8" cy="122.8" r="4.5"/>
</g>
<g fill="#4d9758">
<circle cx="515.0" cy="205.7" r="5.0"/>
</g>
<g fill="#4a9455">
<circle cx="449.9" cy="153.3" r="5.5"/>
</g>
<g fill="#4d9758">
<circle cx="362.7" cy="126.6" r="5.0"/>
</g>
<g fill="#539d5e">
<circle cx="565.6" cy="168.6" r="5.2"/>
</g>
<g fill="#56a161">
<circle cx="349.7" cy="143.6" r="4.0"/>
</g>
<g fill="#59a464">
<circle cx="238.7" cy="119.8" r="3.7"/>
</g>
<g fill="#539d5e">
<circle cx="566.2" cy="151.8" r="5.2"/>
</g>
<g fill="#438b4e">
<circle cx="235.6" cy="129.4" r="7.0"/>
</g>
<g fill="#41894c">
<circle cx="510.2" cy="163.9" r="7.5"/>
</g>
<g fill="#4d9758">
<circle cx="379.8" cy="126.2" r="5.0"/>
</g>
<g fill="#4b9556">
<circle cx="579.7" cy="170.7" r="6.8"/>
</g>
<g fill="#438b4e">
<circle cx="376.5" cy="105.6" r="7.0"/>
</g>
<g fill="#4a9455">
<circle cx="522.5" cy="177.3" r="5.5"/>
</g>
<g fill="#6cb373">
<circle cx="238.7" cy="306.4" r="2.5"/>
</g>
<g fill="#4c9757">
<circle cx="577.2" cy="136.8" r="6.4"/>
</g>
<g fill="#458e50">
<circle cx="384.4" cy="149.8" r="6.5"/>
</g>
<g fill="#479152">
<circle cx="456.1" cy="98.8" r="6.0"/>
</g>
<g fill="#3d8448">
<circle cx="486.9" cy="132.5" r="8.5"/>
</g>
<g fill="#377d42">
<circle cx="144.7" cy="147.4" r="9.8"/>
</g>
<g fill="#4b9556">
<circle cx="583.2" cy="164.8" r="6.8"/>
</g>
<g fill="#41894c">
<circle cx="392.6" cy="118.3" r="7.5"/>
</g>
<g fill="#5ca666">
<circle cx="645.5" cy="282.7" r="3.5"/>
</g>
<g fill="#499354">
<circle cx="141.1" cy="140.3" r="5.7"/>
</g>
<g fill="#4e9859">
<circle cx="216.3" cy="131.2" r="4.9"/>
</g>
<g fill="#519c5c">
<circle cx="209.5" cy="136.3" r="4.5"/>
</g>
<g fill="#438b4e">
<circle cx="497.6" cy="151.6" r="7.0"/>
<circle cx="206.2" cy="148.1" r="7.0"/>
</g>
<g fill="#63ac6c">
<circle cx="543.7" cy="141.8" r="3.6"/>
</g>
<g fill="#56a161">
<circle cx="266.8" cy="224.7" r="4.0"/>
</g>
<g fill="#509b5b">
<circle cx="570.7" cy="146.6" r="5.6"/>
</g>
<g fill="#4e9959">
<circle cx="564.1" cy="171.9" r="6.0"/>
</g>
<g fill="#4a9455">
<circle cx="589.7" cy="185.8" r="5.5"/>
</g>
<g fill="#4e9959">
<circle cx="566.9" cy="142.9" r="6.0"/>
</g>
<g fill="#78bb7d">
<circle cx="637.4" cy="258.5" r="2.0"/>
</g>
<g fill="#458e50">
<circle cx="438.1" cy="142.3" r="6.5"/>
</g>
<g fill="#4b9556">
<circle cx="577.8" cy="122.0" r="6.8"/>
</g>
<g fill="#4e9859">
<circle cx="149.0" cy="122.5" r="4.9"/>
</g>
<g fill="#499354">
<circle cx="581.5" cy="152.8" r="7.2"/>
</g>
<g fill="#63ac6c">
<circle cx="600.3" cy="152.7" r="3.6"/>
</g>
<g fill="#438b4e">
<circle cx="504.3" cy="158.3" r="7.0"/>
</g>
<g fill="#55a060">
<circle cx="144.3" cy="141.6" r="4.1"/>
</g>
<g fill="#397e44">
<circle cx="231.1" cy="294.7" r="9.5"/>
</g>
<g fill="#519c5c">
<circle cx="398.3" cy="98.6" r="4.5"/>
</g>
<g fill="#4d9758">
<circle cx="359.0" cy="143.7" r="5.0"/>
</g>
<g fill="#519c5c">
<circle cx="232.4" cy="130.5" r="4.5"/>
</g>
<g fill="#63ac6c">
<circle cx="277.9" cy="232.7" r="3.0"/>
</g>
<g fill="#509b5b">
<circle cx="559.4" cy="163.6" r="5.6"/>
</g>
<g fill="#4c9757">
<circle cx="570.4" cy="135.2" r="6.4"/>
</g>
<g fill="#56a161">
<circle cx="482.6" cy="113.4" r="4.0"/>
</g>
<g fill="#438b4e">
<circle cx="503.0" cy="172.1" r="7.0"/>
</g>
<g fill="#5ca666">
<circle cx="274.9" cy="227.1" r="3.5"/>
</g>
<g fill="#56a161">
<circle cx="229.4" cy="293.6" r="4.0"/>
</g>
<g fill="#499354">
<circle cx="577.8" cy="142.9" r="7.2"/>
</g>
<g fill="#458e50">
<circle cx="507.9" cy="203.1" r="6.5"/>
</g>
<g fill="#58a363">
<circle cx="668.3" cy="311.6" r="3.8"/>
</g>
<g fill="#4d9758">
<circle cx="474.7" cy="134.8" r="5.0"/>
</g>
<g fill="#479152">
<circle cx="645.2" cy="281.5" r="6.0"/>
</g>
<g fill="#4d9758">
<circle cx="531.7" cy="164.6" r="5.0"/>
</g>
<g fill="#4a9455">
<circle cx="347.7" cy="147.4" r="5.5"/>
</g>
<g fill="#34783f">
<circle cx="364.2" cy="115.4" r="10.5"/>
<circle cx="500.3" cy="181.2" r="10.5"/>
</g>
<g fill="#32753d">
<circle cx="415.4" cy="153.6" r="11.0"/>
<circle cx="496.8" cy="171.3" r="11.0"/>
<circle cx="591.4" cy="190.8" r="11.0"/>
</g>
<g fill="#30723a">
<circle cx="560.2" cy="218.8" r="11.5"/>
</g>
<g fill="#377c42">
<circle cx="573.4" cy="171.2" r="11.6"/>
</g>
<g fill="#367a40">
<circle cx="567.0" cy="134.6" r="12.0"/>
</g>
<g fill="#2d6d37">
<circle cx="419.3" cy="97.1" r="12.3"/>
</g>
<g fill="#2d6c36">
<circle cx="482.4" cy="131.6" r="12.5"/>
<circle cx="576.8" cy="237.4" r="12.5"/>
</g>
<g fill="#34773e">
<circle cx="560.1" cy="175.7" r="12.5"/>
</g>
<g fill="#33753d">
<circle cx="584.0" cy="153.6" r="12.8"/>
<circle cx="588.2" cy="139.7" r="12.8"/>
</g>
<g fill="#2b6934">
<circle cx="362.2" cy="111.7" r="13.0"/>
<circle cx="411.3" cy="132.2" r="13.0"/>
<circle cx="513.6" cy="193.1" r="13.0"/>
<circle cx="567.0" cy="236.6" r="13.0"/>
</g>
<g fill="#296732">
<circle cx="447.2" cy="161.6" r="13.5"/>
</g>
<g fill="#286431">
<circle cx="456.8" cy="136.3" r="14.0"/>
<circle cx="526.6" cy="172.4" r="14.0"/>
<circle cx="509.3" cy="183.6" r="14.0"/>
<circle cx="564.7" cy="198.0" r="14.0"/>
</g>
<g fill="#276330">
<circle cx="254.0" cy="297.1" r="14.5"/>
</g>
<g fill="#3e8549">
<circle cx="255.7" cy="298.2" r="9.0"/>
</g>
<g fill="#276330">
<circle cx="613.2" cy="143.8" r="14.5"/>
<circle cx="552.2" cy="191.6" r="14.5"/>
</g>
<g fill="#26612f">
<circle cx="497.0" cy="152.8" r="15.0"/>
</g>
<g fill="#255f2e">
<circle cx="229.3" cy="132.9" r="15.5"/>
</g>
<g fill="#245d2e">
<circle cx="417.6" cy="154.4" r="16.0"/>
<circle cx="498.3" cy="180.1" r="16.0"/>
<circle cx="435.7" cy="236.4" r="16.0"/>
</g>
<g fill="#225a2c">
<circle cx="444.5" cy="137.3" r="17.0"/>
<circle cx="485.9" cy="167.3" r="17.0"/>
</g>
<g fill="#21582b">
<circle cx="272.6" cy="272.9" r="17.5"/>
</g>
<g fill="#20572a">
<circle cx="557.4" cy="210.3" r="18.0"/>
</g>
<g fill="#1f5429">
<circle cx="508.5" cy="193.3" r="19.0"/>
</g>
<g fill="#1e5328">
<circle cx="172.5" cy="179.3" r="19.5"/>
</g>
<g fill="#31733b">
<circle cx="174.8" cy="180.8" r="12.1"/>
</g>
<g fill="#1e5227">
<circle cx="529.3" cy="167.1" r="20.0"/>
</g>
<g fill="#1d5026">
<circle cx="591.1" cy="189.8" r="21.0"/>
</g>
<g fill="#194a22">
<circle cx="507.6" cy="158.3" r="24.5"/>
</g>
<g fill="#184921">
<circle cx="417.7" cy="154.0" r="25.5"/>
</g>
<g fill="#184821">
<circle cx="565.6" cy="235.1" r="26.0"/>
</g>
<g fill="#26602f">
<circle cx="568.7" cy="237.2" r="16.1"/>
</g>
<g fill="#31723b">
<circle cx="270.1" cy="275.4" r="12.5"/>
</g>
<g fill="#3f864a">
<circle cx="268.1" cy="277.9" r="9.5"/>
</g>
<g fill="#4a9455">
<circle cx="266.6" cy="280.4" r="7.0"/>
</g>
<g fill="#55a060">
<circle cx="265.6" cy="282.9" r="5.0"/>
</g>
<g fill="#26602f">
<circle cx="418.6" cy="160.5" r="16.0"/>
</g>
<g fill="#377b41">
<circle cx="420.3" cy="166.0" r="11.0"/>
</g>
<g fill="#f4a754">
<circle cx="187.4" cy="188.9" r="2.6"/>
</g>
<g fill="#fabe6d">
<circle cx="189.8" cy="189.3" r="1.9"/>
</g>
<g fill="#f9ba68">
<circle cx="191.5" cy="191.9" r="2.0"/>
</g>
<g fill="#f8b460">
<circle cx="194.1" cy="192.8" r="2.2"/>
</g>
<g fill="#fac172">
<circle cx="198.3" cy="191.1" r="1.8"/>
</g>
<g fill="#d06627">
<circle cx="222.9" cy="181.0" r="6.2"/>
</g>
<g fill="#fbc97e">
<circle cx="199.9" cy="192.8" r="1.6"/>
</g>
<g fill="#f8b460">
<circle cx="196.0" cy="193.0" r="2.2"/>
<circle cx="186.2" cy="188.0" r="2.2"/>
</g>
<g fill="#f09745">
<circle cx="193.7" cy="190.8" r="3.2"/>
</g>
<g fill="#fbc97e">
<circle cx="199.0" cy="196.3" r="1.6"/>
</g>
<g fill="#f9ba68">
<circle cx="188.7" cy="187.6" r="2.0"/>
</g>
<g fill="#f4a754">
<circle cx="192.5" cy="188.0" r="2.6"/>
</g>
<g fill="#f9ba68">
<circle cx="192.7" cy="189.3" r="2.0"/>
</g>
<g fill="#f3a14f">
<circle cx="195.1" cy="195.0" r="2.8"/>
</g>
<g fill="#fac578">
<circle cx="200.9" cy="202.0" r="1.7"/>
</g>
<g fill="#fff5d3" fill-opacity=".55">
<circle cx="345.6" cy="167.0" r="1.0"/>
</g>
<g fill="#fcd38c" fill-opacity=".55">
<circle cx="202.2" cy="202.8" r="1.4"/>
</g>
<g fill="#fff1c9" fill-opacity=".55">
<circle cx="341.6" cy="168.0" r="0.9"/>
</g>
<g fill="#fde3a8">
<circle cx="349.4" cy="167.8" r="2.0"/>
</g>
<g fill="#feebbc" fill-opacity=".55">
<circle cx="348.1" cy="163.2" r="1.0"/>
</g>
<g fill="#fbcb80">
<circle cx="350.1" cy="165.4" r="2.0"/>
</g>
<g fill="#feefc4" fill-opacity=".55">
<circle cx="339.8" cy="174.4" r="1.3"/>
</g>
<g fill="#fdde9d">
<circle cx="354.5" cy="169.7" r="1.7"/>
</g>
<g fill="#fff5d4" fill-opacity=".55">
<circle cx="342.3" cy="167.3" r="0.9"/>
<circle cx="338.8" cy="173.5" r="0.8"/>
</g>
<g fill="#fff2cb" fill-opacity=".55">
<circle cx="244.3" cy="207.8" r="1.2"/>
</g>
<g fill="#fee6ae">
<circle cx="339.0" cy="176.5" r="2.0"/>
</g>
<g fill="#fde5ac">
<circle cx="245.9" cy="206.4" r="1.6"/>
</g>
<g fill="#fff3ce" fill-opacity=".55">
<circle cx="331.3" cy="177.2" r="1.0"/>
</g>
<g fill="#fde4ab">
<circle cx="336.0" cy="177.8" r="1.8"/>
</g>
<g fill="#fde1a3">
<circle cx="345.6" cy="176.3" r="2.5"/>
</g>
<g fill="#fde4a9" fill-opacity=".55">
<circle cx="351.0" cy="170.7" r="1.3"/>
</g>
<g fill="#feecbd">
<circle cx="341.7" cy="172.4" r="1.7"/>
</g>
<g fill="#fef0c6" fill-opacity=".55">
<circle cx="347.8" cy="166.8" r="1.0"/>
</g>
<g fill="#fff5d4" fill-opacity=".55">
<circle cx="334.8" cy="180.0" r="1.0"/>
</g>
<g fill="#fde5ac" fill-opacity=".55">
<circle cx="357.2" cy="171.4" r="1.4"/>
</g>
<g fill="#fde4aa" fill-opacity=".55">
<circle cx="347.5" cy="173.6" r="1.3"/>
</g>
<g fill="#fff1ca" fill-opacity=".55">
<circle cx="337.4" cy="177.8" r="0.9"/>
</g>
<g fill="#fff5d4" fill-opacity=".55">
<circle cx="241.1" cy="212.2" r="1.2"/>
</g>
<g fill="#feecbe" fill-opacity=".55">
<circle cx="330.8" cy="179.7" r="1.4"/>
</g>
<g fill="#fff5d4" fill-opacity=".55">
<circle cx="340.0" cy="171.4" r="1.1"/>
</g>
<g fill="#fac273">
<circle cx="331.6" cy="177.2" r="3.2"/>
</g>
<g fill="#fff5d4" fill-opacity=".55">
<circle cx="335.5" cy="169.1" r="0.7"/>
</g>
<g fill="#fbc87c">
<circle cx="334.3" cy="181.1" r="2.9"/>
</g>
<g fill="#fde3a8">
<circle cx="335.7" cy="173.2" r="2.4"/>
</g>
<g fill="#f9bc6a">
<circle cx="339.1" cy="173.5" r="3.1"/>
</g>
<g fill="#feebbb" fill-opacity=".55">
<circle cx="340.8" cy="174.7" r="1.2"/>
</g>
<g fill="#feedbf" fill-opacity=".55">
<circle cx="349.2" cy="166.9" r="1.2"/>
</g>
<g fill="#feeec3" fill-opacity=".55">
<circle cx="330.1" cy="182.0" r="1.2"/>
</g>
<g fill="#fac578">
<circle cx="355.6" cy="176.3" r="3.2"/>
</g>
<g fill="#feefc5" fill-opacity=".55">
<circle cx="348.1" cy="168.7" r="1.2"/>
</g>
<g fill="#feeec3" fill-opacity=".55">
<circle cx="352.7" cy="168.9" r="1.0"/>
</g>
<g fill="#fee9b6">
<circle cx="336.8" cy="179.7" r="2.0"/>
</g>
<g fill="#fcda96">
<circle cx="342.3" cy="166.1" r="1.7"/>
</g>
<g fill="#fcd996">
<circle cx="338.1" cy="182.7" r="2.5"/>
</g>
<g fill="#fcda98">
<circle cx="330.5" cy="183.3" r="1.9"/>
</g>
<g fill="#fde5ab" fill-opacity=".55">
<circle cx="343.9" cy="176.6" r="1.4"/>
</g>
<g fill="#fff2cc" fill-opacity=".55">
<circle cx="346.7" cy="166.9" r="1.2"/>
</g>
<g fill="#fee7b1">
<circle cx="371.2" cy="172.9" r="1.9"/>
</g>
<g fill="#fee9b6">
<circle cx="352.3" cy="177.9" r="2.1"/>
</g>
<g fill="#fbca7f">
<circle cx="349.3" cy="173.7" r="2.7"/>
</g>
<g fill="#fff0c8" fill-opacity=".55">
<circle cx="243.6" cy="215.4" r="1.5"/>
</g>
<g fill="#feeec3" fill-opacity=".55">
<circle cx="331.9" cy="185.8" r="1.1"/>
</g>
<g fill="#fff5d4" fill-opacity=".55">
<circle cx="254.5" cy="213.2" r="1.1"/>
<circle cx="356.6" cy="168.4" r="0.7"/>
</g>
<g fill="#feecbd" fill-opacity=".55">
<circle cx="370.4" cy="174.3" r="1.1"/>
</g>
<g fill="#fff5d4" fill-opacity=".55">
<circle cx="246.8" cy="213.6" r="0.7"/>
</g>
<g fill="#feeec4" fill-opacity=".55">
<circle cx="242.8" cy="207.9" r="1.1"/>
</g>
<g fill="#fff1c9" fill-opacity=".55">
<circle cx="222.1" cy="220.8" r="1.3"/>
</g>
<g fill="#f9b562">
<circle cx="335.8" cy="179.9" r="3.8"/>
</g>
<g fill="#fcda98">
<circle cx="349.0" cy="168.3" r="2.1"/>
</g>
<g fill="#fef0c7" fill-opacity=".55">
<circle cx="248.9" cy="208.8" r="1.0"/>
</g>
<g fill="#db722e">
<circle cx="330.5" cy="187.9" r="5.0"/>
</g>
<g fill="#fff0c7" fill-opacity=".55">
<circle cx="343.4" cy="170.5" r="0.9"/>
</g>
<g fill="#fcd28c">
<circle cx="335.6" cy="173.5" r="2.4"/>
</g>
<g fill="#feecbd" fill-opacity=".55">
<circle cx="374.1" cy="174.6" r="0.9"/>
</g>
<g fill="#fff5d4" fill-opacity=".55">
<circle cx="357.2" cy="181.0" r="0.8"/>
</g>
<g fill="#fff1ca" fill-opacity=".55">
<circle cx="343.3" cy="172.7" r="1.3"/>
</g>
<g fill="#fff1c9" fill-opacity=".55">
<circle cx="221.4" cy="225.0" r="1.5"/>
</g>
<g fill="#fcd38c">
<circle cx="347.0" cy="175.7" r="2.7"/>
</g>
<g fill="#fddf9e">
<circle cx="345.1" cy="174.1" r="2.1"/>
</g>
<g fill="#fcd48f">
<circle cx="364.0" cy="171.1" r="2.5"/>
</g>
<g fill="#fff2cd" fill-opacity=".55">
<circle cx="375.3" cy="174.3" r="1.0"/>
</g>
<g fill="#fff5d4" fill-opacity=".55">
<circle cx="364.3" cy="179.4" r="1.1"/>
</g>
<g fill="#fde1a2" fill-opacity=".55">
<circle cx="358.9" cy="173.5" r="1.4"/>
</g>
<g fill="#fff5d4" fill-opacity=".55">
<circle cx="240.2" cy="219.1" r="0.8"/>
<circle cx="355.2" cy="175.2" r="0.6"/>
<circle cx="247.4" cy="216.6" r="0.6"/>
</g>
<g fill="#feebba">
<circle cx="353.0" cy="182.0" r="1.9"/>
</g>
<g fill="#fcd996">
<circle cx="246.9" cy="218.8" r="1.9"/>
</g>
<g fill="#aa491c">
<circle cx="329.7" cy="190.3" r="9.7"/>
</g>
<g fill="#b34e1e">
<circle cx="333.2" cy="187.3" r="8.7"/>
</g>
<g fill="#feefc6" fill-opacity=".55">
<circle cx="351.1" cy="171.8" r="1.4"/>
</g>
<g fill="#fff5d4" fill-opacity=".55">
<circle cx="337.4" cy="183.1" r="0.8"/>
<circle cx="229.3" cy="218.9" r="0.6"/>
<circle cx="351.0" cy="180.7" r="0.9"/>
<circle cx="391.6" cy="171.6" r="0.6"/>
</g>
<g fill="#fcdb98">
<circle cx="359.0" cy="169.0" r="1.8"/>
</g>
<g fill="#fff5d4" fill-opacity=".55">
<circle cx="346.0" cy="174.3" r="1.0"/>
</g>
<g fill="#fbcf87">
<circle cx="353.2" cy="174.7" r="2.6"/>
</g>
<g fill="#fac578">
<circle cx="339.2" cy="179.3" r="2.8"/>
</g>
<g fill="#fde4aa">
<circle cx="213.5" cy="228.7" r="2.1"/>
</g>
<g fill="#fff5d4" fill-opacity=".55">
<circle cx="243.3" cy="210.6" r="0.6"/>
</g>
<g fill="#ec8f3e">
<circle cx="476.3" cy="141.7" r="3.7"/>
</g>
<g fill="#fddd9b">
<circle cx="246.7" cy="211.4" r="2.4"/>
</g>
<g fill="#fff5d4" fill-opacity=".55">
<circle cx="246.5" cy="214.4" r="0.8"/>
</g>
<g fill="#feecbe" fill-opacity=".55">
<circle cx="220.9" cy="226.0" r="1.3"/>
</g>
<g fill="#fac070">
<circle cx="228.8" cy="219.1" r="2.6"/>
</g>
<g fill="#f9bb69">
<circle cx="340.3" cy="182.2" r="2.9"/>
</g>
<g fill="#eb8c3d">
<circle cx="337.4" cy="191.3" r="4.3"/>
</g>
<g fill="#fcd995">
<circle cx="361.2" cy="180.3" r="1.9"/>
</g>
<g fill="#fff0c9" fill-opacity=".55">
<circle cx="340.1" cy="178.1" r="1.4"/>
</g>
<g fill="#f6ad5a">
<circle cx="353.9" cy="183.7" r="3.7"/>
</g>
<g fill="#fde2a5">
<circle cx="346.6" cy="181.0" r="1.8"/>
</g>
<g fill="#db732e">
<circle cx="348.1" cy="189.6" r="5.9"/>
</g>
<g fill="#f4a754">
<circle cx="368.6" cy="180.3" r="3.8"/>
</g>
<g fill="#ed903f">
<circle cx="329.6" cy="194.2" r="4.3"/>
</g>
<g fill="#feecbe" fill-opacity=".55">
<circle cx="243.4" cy="221.6" r="1.3"/>
</g>
<g fill="#fcd58f">
<circle cx="367.7" cy="180.7" r="2.0"/>
</g>
<g fill="#fee7b1" fill-opacity=".55">
<circle cx="210.6" cy="238.6" r="1.4"/>
</g>
<g fill="#fff5d4" fill-opacity=".55">
<circle cx="368.9" cy="181.5" r="1.1"/>
</g>
<g fill="#fde4aa">
<circle cx="378.4" cy="170.2" r="1.6"/>
</g>
<g fill="#fee9b5">
<circle cx="366.7" cy="178.1" r="1.7"/>
</g>
<g fill="#fde2a6">
<circle cx="333.7" cy="184.0" r="2.0"/>
</g>
<g fill="#fcd793">
<circle cx="359.1" cy="169.7" r="1.7"/>
</g>
<g fill="#d9702d">
<circle cx="475.8" cy="142.5" r="6.3"/>
</g>
<g fill="#e68437">
<circle cx="330.7" cy="195.5" r="3.8"/>
</g>
<g fill="#fff5d4" fill-opacity=".55">
<circle cx="221.8" cy="217.7" r="1.1"/>
</g>
<g fill="#fddc9b">
<circle cx="356.1" cy="180.2" r="2.5"/>
</g>
<g fill="#fff4d2" fill-opacity=".55">
<circle cx="373.0" cy="176.4" r="0.8"/>
</g>
<g fill="#feeec3" fill-opacity=".55">
<circle cx="257.9" cy="214.6" r="1.3"/>
</g>
<g fill="#fee7b1">
<circle cx="213.3" cy="229.9" r="2.0"/>
</g>
<g fill="#fee6ae">
<circle cx="215.7" cy="228.8" r="1.9"/>
</g>
<g fill="#feedc1" fill-opacity=".55">
<circle cx="216.5" cy="232.7" r="1.3"/>
</g>
<g fill="#f9b966">
<circle cx="371.6" cy="178.1" r="2.9"/>
</g>
<g fill="#fee7b0" fill-opacity=".55">
<circle cx="351.5" cy="184.8" r="1.3"/>
</g>
<g fill="#fff5d4" fill-opacity=".55">
<circle cx="214.4" cy="226.8" r="0.9"/>
</g>
<g fill="#fde5ad" fill-opacity=".55">
<circle cx="364.1" cy="170.8" r="1.2"/>
</g>
<g fill="#fbc67a">
<circle cx="358.7" cy="173.0" r="2.6"/>
</g>
<g fill="#fcd793">
<circle cx="362.9" cy="171.3" r="1.7"/>
</g>
<g fill="#f8b460">
<circle cx="384.0" cy="179.2" r="3.8"/>
</g>
<g fill="#f9b662">
<circle cx="381.4" cy="176.1" r="3.4"/>
</g>
<g fill="#fee6ae">
<circle cx="331.0" cy="182.6" r="1.9"/>
</g>
<g fill="#fcda96">
<circle cx="211.4" cy="236.1" r="1.7"/>
</g>
<g fill="#fff5d4" fill-opacity=".55">
<circle cx="380.1" cy="177.8" r="0.7"/>
</g>
<g fill="#fee5ad">
<circle cx="383.2" cy="172.0" r="1.9"/>
</g>
<g fill="#fcd793">
<circle cx="389.2" cy="177.5" r="1.6"/>
</g>
<g fill="#fee7b1">
<circle cx="348.9" cy="184.1" r="2.1"/>
</g>
<g fill="#fee9b6" fill-opacity=".55">
<circle cx="338.7" cy="178.9" r="1.4"/>
</g>
<g fill="#feebba" fill-opacity=".55">
<circle cx="244.3" cy="212.4" r="1.6"/>
</g>
<g fill="#fff5d4" fill-opacity=".55">
<circle cx="379.1" cy="181.2" r="1.0"/>
</g>
<g fill="#fef0c7" fill-opacity=".55">
<circle cx="250.8" cy="226.1" r="1.2"/>
</g>
<g fill="#f29f4d">
<circle cx="366.0" cy="185.9" r="3.8"/>
</g>
<g fill="#fff0c8" fill-opacity=".55">
<circle cx="218.5" cy="223.9" r="1.5"/>
</g>
<g fill="#fff5d4" fill-opacity=".55">
<circle cx="213.3" cy="228.5" r="1.0"/>
</g>
<g fill="#fee5ad">
<circle cx="344.1" cy="179.2" r="1.8"/>
</g>
<g fill="#fee8b4">
<circle cx="399.2" cy="174.5" r="1.8"/>
</g>
<g fill="#fcd691">
<circle cx="385.2" cy="178.9" r="2.6"/>
</g>
<g fill="#fef0c7" fill-opacity=".55">
<circle cx="211.0" cy="229.8" r="1.5"/>
</g>
<g fill="#f4a854">
<circle cx="333.0" cy="187.3" r="2.3"/>
</g>
<g fill="#b9521f">
<circle cx="485.6" cy="140.8" r="8.0"/>
</g>
<g fill="#fff1cb" fill-opacity=".55">
<circle cx="213.2" cy="238.8" r="1.4"/>
</g>
<g fill="#e37e34">
<circle cx="349.5" cy="193.5" r="4.4"/>
</g>
<g fill="#feefc4" fill-opacity=".55">
<circle cx="355.5" cy="180.1" r="1.4"/>
</g>
<g fill="#fff5d4" fill-opacity=".55">
<circle cx="368.4" cy="170.8" r="0.8"/>
</g>
<g fill="#fcd793">
<circle cx="392.9" cy="178.0" r="2.3"/>
</g>
<g fill="#fee6af">
<circle cx="376.3" cy="171.5" r="1.6"/>
</g>
<g fill="#fff4d0" fill-opacity=".55">
<circle cx="256.2" cy="212.7" r="1.2"/>
</g>
<g fill="#fbcd83">
<circle cx="210.6" cy="239.3" r="2.4"/>
</g>
<g fill="#fcd691">
<circle cx="334.4" cy="185.0" r="2.7"/>
</g>
<g fill="#d56c2a">
<circle cx="345.1" cy="193.1" r="6.3"/>
</g>
<g fill="#9f431a">
<circle cx="333.1" cy="199.2" r="9.0"/>
</g>
<g fill="#d06728">
<circle cx="486.4" cy="143.8" r="5.5"/>
</g>
<g fill="#fcd996">
<circle cx="334.5" cy="183.8" r="2.6"/>
</g>
<g fill="#feebbc">
<circle cx="393.8" cy="178.0" r="1.6"/>
</g>
<g fill="#fcd894">
<circle cx="352.3" cy="177.1" r="2.2"/>
</g>
<g fill="#b6501e">
<circle cx="333.2" cy="195.9" r="8.6"/>
</g>
<g fill="#fff5d4" fill-opacity=".55">
<circle cx="366.5" cy="181.5" r="0.8"/>
<circle cx="372.7" cy="183.2" r="0.8"/>
</g>
<g fill="#e07831">
<circle cx="345.8" cy="195.5" r="4.0"/>
</g>
<g fill="#fff5d4" fill-opacity=".55">
<circle cx="212.6" cy="241.8" r="0.6"/>
</g>
<g fill="#fbc97e">
<circle cx="490.0" cy="143.1" r="1.6"/>
</g>
<g fill="#fff4d0" fill-opacity=".55">
<circle cx="229.8" cy="226.3" r="1.0"/>
</g>
<g fill="#fff5d3" fill-opacity=".55">
<circle cx="212.7" cy="239.9" r="1.1"/>
</g>
<g fill="#feeec4" fill-opacity=".55">
<circle cx="219.1" cy="240.0" r="1.2"/>
</g>
<g fill="#f6af5b">
<circle cx="211.3" cy="236.3" r="2.8"/>
</g>
<g fill="#fac172">
<circle cx="493.0" cy="144.0" r="1.8"/>
</g>
<g fill="#fee8b4" fill-opacity=".55">
<circle cx="385.8" cy="177.7" r="1.3"/>
</g>
<g fill="#fbc87c">
<circle cx="389.3" cy="181.3" r="2.5"/>
</g>
<g fill="#fabf6f">
<circle cx="346.6" cy="180.0" r="3.3"/>
</g>
<g fill="#eb8c3c">
<circle cx="356.8" cy="193.0" r="3.4"/>
</g>
<g fill="#fbc97e">
<circle cx="369.2" cy="173.5" r="2.3"/>
</g>
<g fill="#feebba" fill-opacity=".55">
<circle cx="366.1" cy="186.9" r="1.5"/>
</g>
<g fill="#f8b460">
<circle cx="491.2" cy="143.3" r="2.2"/>
</g>
<g fill="#d8702c">
<circle cx="345.6" cy="189.5" r="4.8"/>
</g>
<g fill="#e27c33">
<circle cx="351.1" cy="191.5" r="4.1"/>
</g>
<g fill="#c25a22">
<circle cx="472.4" cy="147.5" r="7.2"/>
</g>
<g fill="#feeab8" fill-opacity=".55">
<circle cx="389.1" cy="182.4" r="1.4"/>
</g>
<g fill="#cc6226">
<circle cx="337.3" cy="200.2" r="7.3"/>
</g>
<g fill="#fcd28b">
<circle cx="209.1" cy="241.7" r="2.7"/>
</g>
<g fill="#fac171">
<circle cx="372.4" cy="186.6" r="3.3"/>
</g>
<g fill="#feedc1" fill-opacity=".55">
<circle cx="212.7" cy="238.7" r="1.4"/>
</g>
<g fill="#e68438">
<circle cx="361.2" cy="185.8" r="4.4"/>
</g>
<g fill="#fbca80">
<circle cx="370.6" cy="187.8" r="3.5"/>
</g>
<g fill="#f09947">
<circle cx="352.3" cy="193.9" r="3.3"/>
</g>
<g fill="#fcd996">
<circle cx="215.7" cy="233.0" r="2.1"/>
</g>
<g fill="#f7b05c">
<circle cx="347.8" cy="185.0" r="3.5"/>
</g>
<g fill="#ee9140">
<circle cx="356.6" cy="186.3" r="4.1"/>
</g>
<g fill="#a3451b">
<circle cx="344.7" cy="194.3" r="8.8"/>
</g>
<g fill="#fde0a1">
<circle cx="393.5" cy="179.1" r="2.1"/>
</g>
<g fill="#fbc87d">
<circle cx="362.9" cy="181.3" r="3.0"/>
</g>
<g fill="#f3a14e">
<circle cx="362.5" cy="192.4" r="3.4"/>
</g>
<g fill="#fbcc82">
<circle cx="385.6" cy="178.1" r="3.0"/>
</g>
<g fill="#a4451b">
<circle cx="331.4" cy="190.2" r="10.0"/>
</g>
<g fill="#903b18">
<circle cx="339.6" cy="191.3" r="11.0"/>
</g>
<g fill="#c05822">
<circle cx="367.5" cy="187.1" r="7.7"/>
</g>
<g fill="#feeaba" fill-opacity=".55">
<circle cx="386.7" cy="178.5" r="1.6"/>
</g>
<g fill="#feedc0" fill-opacity=".55">
<circle cx="228.7" cy="226.1" r="1.6"/>
</g>
<g fill="#c05821">
<circle cx="332.3" cy="191.5" r="7.0"/>
</g>
<g fill="#fdde9d">
<circle cx="365.1" cy="179.3" r="2.4"/>
</g>
<g fill="#a8481c">
<circle cx="332.6" cy="190.6" r="10.0"/>
</g>
<g fill="#fee9b6" fill-opacity=".55">
<circle cx="244.2" cy="220.7" r="1.6"/>
</g>
<g fill="#fff5d4" fill-opacity=".55">
<circle cx="369.7" cy="186.1" r="1.2"/>
</g>
<g fill="#f6af5b">
<circle cx="368.0" cy="179.4" r="3.8"/>
</g>
<g fill="#e17a32">
<circle cx="478.5" cy="149.5" r="3.9"/>
</g>
<g fill="#fff5d4" fill-opacity=".55">
<circle cx="355.0" cy="183.4" r="0.8"/>
</g>
<g fill="#de752f">
<circle cx="343.4" cy="188.2" r="4.9"/>
</g>
<g fill="#f8b35f">
<circle cx="474.0" cy="148.4" r="2.7"/>
</g>
<g fill="#fabf6f">
<circle cx="222.9" cy="243.3" r="2.6"/>
</g>
<g fill="#fde1a2" fill-opacity=".55">
<circle cx="394.1" cy="184.3" r="1.6"/>
</g>
<g fill="#c25a22">
<circle cx="364.7" cy="191.3" r="6.6"/>
</g>
<g fill="#fff5d4" fill-opacity=".55">
<circle cx="366.1" cy="183.6" r="0.9"/>
</g>
<g fill="#fde5ac">
<circle cx="387.9" cy="171.4" r="1.9"/>
</g>
<g fill="#fee9b6" fill-opacity=".55">
<circle cx="212.8" cy="235.0" r="1.0"/>
</g>
<g fill="#e88739">
<circle cx="488.9" cy="145.7" r="4.0"/>
</g>
<g fill="#c85f24">
<circle cx="331.6" cy="191.4" r="7.2"/>
</g>
<g fill="#fde1a2">
<circle cx="249.8" cy="221.7" r="2.4"/>
</g>
<g fill="#fcd894">
<circle cx="210.9" cy="240.9" r="1.9"/>
</g>
<g fill="#f6ad59">
<circle cx="368.8" cy="192.1" r="2.7"/>
</g>
<g fill="#c85e24">
<circle cx="358.7" cy="194.2" r="6.3"/>
</g>
<g fill="#fde2a5" fill-opacity=".55">
<circle cx="384.7" cy="177.4" r="1.4"/>
</g>
<g fill="#d9702d">
<circle cx="356.2" cy="193.7" r="5.6"/>
</g>
<g fill="#fde3a7" fill-opacity=".55">
<circle cx="372.3" cy="181.8" r="1.5"/>
</g>
<g fill="#e17b33">
<circle cx="476.7" cy="145.5" r="5.1"/>
</g>
<g fill="#9b411a">
<circle cx="362.5" cy="187.3" r="10.2"/>
</g>
<g fill="#e78639">
<circle cx="339.1" cy="194.2" r="4.6"/>
</g>
<g fill="#f4a652">
<circle cx="373.0" cy="180.7" r="3.8"/>
</g>
<g fill="#ac4a1d">
<circle cx="329.2" cy="193.2" r="9.2"/>
</g>
<g fill="#feeab8" fill-opacity=".55">
<circle cx="217.5" cy="241.3" r="1.5"/>
</g>
<g fill="#fdde9d">
<circle cx="355.6" cy="185.3" r="1.7"/>
</g>
<g fill="#f5a855">
<circle cx="369.5" cy="182.1" r="3.7"/>
</g>
<g fill="#fff5d4" fill-opacity=".55">
<circle cx="248.9" cy="226.5" r="1.2"/>
</g>
<g fill="#f29e4b">
<circle cx="475.4" cy="142.0" r="3.5"/>
</g>
<g fill="#fee8b4">
<circle cx="400.0" cy="179.5" r="1.8"/>
</g>
<g fill="#f4a754">
<circle cx="399.0" cy="180.4" r="3.8"/>
</g>
<g fill="#fcd48d">
<circle cx="357.8" cy="183.4" r="2.5"/>
</g>
<g fill="#b5501e">
<circle cx="338.4" cy="195.5" r="8.3"/>
</g>
<g fill="#d66d2b">
<circle cx="474.5" cy="149.3" r="5.4"/>
</g>
<g fill="#c65d23">
<circle cx="370.6" cy="194.3" r="6.2"/>
</g>
<g fill="#fde5ac" fill-opacity=".55">
<circle cx="390.6" cy="177.6" r="1.5"/>
</g>
<g fill="#d76e2b">
<circle cx="333.6" cy="199.2" r="6.1"/>
</g>
<g fill="#fff5d4" fill-opacity=".55">
<circle cx="392.2" cy="182.3" r="0.9"/>
</g>
<g fill="#ab491c">
<circle cx="378.6" cy="191.1" r="9.2"/>
</g>
<g fill="#d46b2a">
<circle cx="476.6" cy="156.0" r="4.9"/>
</g>
<g fill="#b8511f">
<circle cx="332.1" cy="200.9" r="7.3"/>
</g>
<g fill="#fbc97e">
<circle cx="394.1" cy="181.7" r="2.7"/>
</g>
<g fill="#e88739">
<circle cx="343.4" cy="191.8" r="4.6"/>
</g>
<g fill="#fde2a6" fill-opacity=".55">
<circle cx="368.2" cy="179.6" r="1.6"/>
</g>
<g fill="#fff5d4" fill-opacity=".55">
<circle cx="365.8" cy="180.9" r="0.8"/>
</g>
<g fill="#9a411a">
<circle cx="367.8" cy="188.8" r="11.0"/>
</g>
<g fill="#f5a956">
<circle cx="488.5" cy="145.1" r="2.2"/>
</g>
<g fill="#fde5ac">
<circle cx="238.6" cy="227.9" r="1.8"/>
</g>
<g fill="#ac4b1d">
<circle cx="372.9" cy="193.4" r="8.4"/>
</g>
<g fill="#fff4d2" fill-opacity=".55">
<circle cx="414.4" cy="179.7" r="1.0"/>
</g>
<g fill="#f5a855">
<circle cx="371.1" cy="187.2" r="3.8"/>
</g>
<g fill="#bf5721">
<circle cx="375.4" cy="191.5" r="7.0"/>
</g>
<g fill="#d86f2c">
<circle cx="484.8" cy="151.5" r="4.6"/>
</g>
<g fill="#fff5d4" fill-opacity=".55">
<circle cx="356.3" cy="184.7" r="1.1"/>
</g>
<g fill="#fac374">
<circle cx="382.9" cy="182.8" r="3.3"/>
</g>
<g fill="#fee6af" fill-opacity=".55">
<circle cx="378.9" cy="178.0" r="1.3"/>
</g>
<g fill="#fcda97">
<circle cx="228.7" cy="228.3" r="2.0"/>
</g>
<g fill="#f4a754">
<circle cx="359.7" cy="183.9" r="3.8"/>
</g>
<g fill="#f9ba68">
<circle cx="492.5" cy="144.8" r="2.0"/>
</g>
<g fill="#fabd6b">
<circle cx="350.8" cy="189.7" r="2.3"/>
</g>
<g fill="#f4a854">
<circle cx="482.6" cy="150.3" r="2.6"/>
</g>
<g fill="#ba531f">
<circle cx="344.6" cy="192.7" r="7.0"/>
</g>
<g fill="#feecbe" fill-opacity=".55">
<circle cx="211.5" cy="236.5" r="1.3"/>
</g>
<g fill="#fff1ca" fill-opacity=".55">
<circle cx="383.7" cy="175.4" r="0.9"/>
</g>
<g fill="#f09a48">
<circle cx="363.6" cy="191.7" r="3.3"/>
</g>
<g fill="#b04c1d">
<circle cx="360.4" cy="188.4" r="8.6"/>
</g>
<g fill="#e07a32">
<circle cx="352.6" cy="199.5" r="5.4"/>
</g>
<g fill="#f9ba67">
<circle cx="391.5" cy="186.5" r="3.5"/>
</g>
<g fill="#fcd48e">
<circle cx="410.6" cy="182.3" r="2.4"/>
</g>
<g fill="#fde1a3">
<circle cx="395.9" cy="186.3" r="1.8"/>
</g>
<g fill="#fde5ac" fill-opacity=".55">
<circle cx="398.5" cy="181.3" r="1.5"/>
</g>
<g fill="#fee8b5">
<circle cx="384.4" cy="189.2" r="1.9"/>
</g>
<g fill="#a3451b">
<circle cx="371.9" cy="195.3" r="10.3"/>
</g>
<g fill="#d06627">
<circle cx="380.1" cy="193.8" r="6.0"/>
</g>
<g fill="#e9883a">
<circle cx="348.4" cy="188.0" r="4.6"/>
</g>
<g fill="#cc6226">
<circle cx="486.3" cy="150.1" r="7.2"/>
</g>
<g fill="#d16728">
<circle cx="491.8" cy="150.3" r="5.4"/>
</g>
<g fill="#b44f1e">
<circle cx="357.2" cy="198.7" r="7.9"/>
</g>
<g fill="#e27c33">
<circle cx="332.1" cy="195.4" r="3.9"/>
</g>
<g fill="#fde5ac" fill-opacity=".55">
<circle cx="219.8" cy="233.7" r="1.5"/>
</g>
<g fill="#d76e2c">
<circle cx="482.1" cy="146.7" r="5.1"/>
</g>
<g fill="#8d3a17">
<circle cx="355.8" cy="197.3" r="11.0"/>
</g>
<g fill="#e58237">
<circle cx="482.9" cy="157.5" r="4.2"/>
</g>
<g fill="#fde4a9">
<circle cx="410.7" cy="180.1" r="2.0"/>
</g>
<g fill="#f8b460">
<circle cx="371.7" cy="187.8" r="3.3"/>
</g>
<g fill="#fee8b4">
<circle cx="409.8" cy="179.9" r="1.8"/>
</g>
<g fill="#e58136">
<circle cx="482.3" cy="143.6" r="4.0"/>
</g>
<g fill="#e8883a">
<circle cx="476.5" cy="150.1" r="4.1"/>
</g>
<g fill="#c25a22">
<circle cx="339.4" cy="204.1" r="6.7"/>
</g>
<g fill="#b5501e">
<circle cx="484.0" cy="145.0" r="8.9"/>
<circle cx="481.9" cy="149.9" r="8.0"/>
</g>
<g fill="#fde5ad" fill-opacity=".55">
<circle cx="400.3" cy="174.3" r="1.4"/>
</g>
<g fill="#b34f1e">
<circle cx="479.9" cy="153.2" r="8.0"/>
</g>
<g fill="#fee8b5" fill-opacity=".55">
<circle cx="396.2" cy="175.6" r="1.3"/>
</g>
<g fill="#cc6226">
<circle cx="377.0" cy="192.3" r="6.1"/>
</g>
<g fill="#f2a14e">
<circle cx="484.4" cy="151.2" r="3.2"/>
</g>
<g fill="#fac476">
<circle cx="340.0" cy="194.3" r="1.8"/>
</g>
<g fill="#fdde9d">
<circle cx="373.2" cy="180.5" r="2.5"/>
</g>
<g fill="#943e19">
<circle cx="371.7" cy="195.4" r="11.8"/>
</g>
<g fill="#cd6326">
<circle cx="357.1" cy="192.6" r="5.6"/>
</g>
<g fill="#feebbc" fill-opacity=".55">
<circle cx="215.7" cy="240.6" r="1.2"/>
</g>
<g fill="#e68438">
<circle cx="350.0" cy="206.1" r="4.5"/>
</g>
<g fill="#fff5d4" fill-opacity=".55">
<circle cx="367.6" cy="183.5" r="1.1"/>
</g>
<g fill="#fcd691">
<circle cx="399.0" cy="181.9" r="2.7"/>
</g>
<g fill="#fbcc82">
<circle cx="378.5" cy="188.3" r="2.8"/>
</g>
<g fill="#de7630">
<circle cx="353.4" cy="205.2" r="5.3"/>
</g>
<g fill="#d9702d">
<circle cx="472.9" cy="148.7" r="4.8"/>
</g>
<g fill="#e37f35">
<circle cx="476.9" cy="147.0" r="4.7"/>
</g>
<g fill="#fff5d4" fill-opacity=".55">
<circle cx="211.8" cy="241.2" r="1.2"/>
</g>
<g fill="#e58236">
<circle cx="336.5" cy="194.7" r="4.3"/>
</g>
<g fill="#db732e">
<circle cx="488.9" cy="153.9" r="5.5"/>
</g>
<g fill="#963e19">
<circle cx="387.7" cy="187.7" r="11.0"/>
</g>
<g fill="#ef9543">
<circle cx="372.1" cy="186.9" r="3.6"/>
</g>
<g fill="#feecbe" fill-opacity=".55">
<circle cx="404.8" cy="181.7" r="1.4"/>
</g>
<g fill="#fff3d0" fill-opacity=".55">
<circle cx="211.4" cy="242.6" r="1.0"/>
</g>
<g fill="#fff4d3" fill-opacity=".55">
<circle cx="412.6" cy="181.7" r="1.1"/>
</g>
<g fill="#e8873a">
<circle cx="489.4" cy="147.5" r="4.8"/>
</g>
<g fill="#fff5d4" fill-opacity=".55">
<circle cx="374.1" cy="184.7" r="1.2"/>
</g>
<g fill="#f9ba67">
<circle cx="393.6" cy="189.7" r="1.9"/>
</g>
<g fill="#fde4a9" fill-opacity=".55">
<circle cx="218.4" cy="245.3" r="1.5"/>
</g>
<g fill="#dd742f">
<circle cx="360.1" cy="196.1" r="5.8"/>
</g>
<g fill="#a4461b">
<circle cx="371.9" cy="195.0" r="8.7"/>
</g>
<g fill="#e8873a">
<circle cx="337.5" cy="198.0" r="4.2"/>
</g>
<g fill="#f8b460">
<circle cx="377.4" cy="184.7" r="3.6"/>
</g>
<g fill="#fff3ce" fill-opacity=".55">
<circle cx="250.1" cy="228.2" r="0.9"/>
</g>
<g fill="#c15922">
<circle cx="383.6" cy="191.5" r="7.3"/>
</g>
<g fill="#ba531f">
<circle cx="343.4" cy="194.6" r="8.4"/>
</g>
<g fill="#fff5d4" fill-opacity=".55">
<circle cx="222.6" cy="238.3" r="0.8"/>
</g>
<g fill="#963e19">
<circle cx="358.5" cy="193.0" r="10.3"/>
</g>
<g fill="#fee6af">
<circle cx="390.7" cy="188.5" r="2.1"/>
</g>
<g fill="#fff5d4" fill-opacity=".55">
<circle cx="395.5" cy="180.8" r="1.0"/>
</g>
<g fill="#a6471b">
<circle cx="351.1" cy="196.3" r="9.3"/>
</g>
<g fill="#e37d34">
<circle cx="382.4" cy="193.9" r="3.8"/>
</g>
<g fill="#c25922">
<circle cx="477.3" cy="155.8" r="8.0"/>
</g>
<g fill="#e17b32">
<circle cx="490.3" cy="149.8" r="4.6"/>
</g>
<g fill="#ce6427">
<circle cx="377.7" cy="192.3" r="5.9"/>
</g>
<g fill="#fff5d4" fill-opacity=".55">
<circle cx="224.6" cy="242.0" r="1.0"/>
</g>
<g fill="#c85f24">
<circle cx="472.9" cy="155.1" r="6.4"/>
</g>
<g fill="#feebbb" fill-opacity=".55">
<circle cx="405.1" cy="185.2" r="1.3"/>
</g>
<g fill="#fbcc82">
<circle cx="397.0" cy="188.8" r="2.2"/>
</g>
<g fill="#dd742f">
<circle cx="485.0" cy="156.5" r="4.3"/>
</g>
<g fill="#fde5ab" fill-opacity=".55">
<circle cx="221.4" cy="245.0" r="1.4"/>
</g>
<g fill="#c55c23">
<circle cx="367.3" cy="191.3" r="6.5"/>
</g>
<g fill="#c65d23">
<circle cx="481.3" cy="152.1" r="6.6"/>
</g>
<g fill="#fcd18a">
<circle cx="400.0" cy="175.5" r="2.0"/>
</g>
<g fill="#fde1a2">
<circle cx="389.5" cy="179.5" r="1.9"/>
</g>
<g fill="#e17b32">
<circle cx="348.1" cy="192.8" r="4.8"/>
</g>
<g fill="#b9521f">
<circle cx="486.5" cy="147.3" r="7.6"/>
</g>
<g fill="#bd5621">
<circle cx="353.8" cy="192.3" r="7.2"/>
</g>
<g fill="#ed913f">
<circle cx="476.9" cy="153.7" r="3.8"/>
</g>
<g fill="#963f19">
<circle cx="371.9" cy="190.8" r="12.0"/>
</g>
<g fill="#be5621">
<circle cx="485.6" cy="151.8" r="7.4"/>
</g>
<g fill="#e68437">
<circle cx="352.5" cy="196.0" r="4.1"/>
</g>
<g fill="#fff3d0" fill-opacity=".55">
<circle cx="216.8" cy="247.3" r="1.4"/>
</g>
<g fill="#9a401a">
<circle cx="485.1" cy="146.6" r="10.0"/>
</g>
<g fill="#fde5ac">
<circle cx="382.6" cy="185.3" r="2.2"/>
</g>
<g fill="#fcd58f">
<circle cx="377.7" cy="188.7" r="2.6"/>
</g>
<g fill="#feedbf" fill-opacity=".55">
<circle cx="385.1" cy="179.9" r="1.1"/>
</g>
<g fill="#c55c23">
<circle cx="350.1" cy="202.4" r="7.6"/>
</g>
<g fill="#fee8b3">
<circle cx="402.0" cy="180.8" r="1.7"/>
</g>
<g fill="#e17a32">
<circle cx="339.3" cy="197.2" r="4.4"/>
</g>
<g fill="#fff5d4" fill-opacity=".55">
<circle cx="216.0" cy="245.2" r="0.8"/>
</g>
<g fill="#d76f2c">
<circle cx="386.3" cy="197.1" r="5.3"/>
</g>
<g fill="#ce6426">
<circle cx="398.3" cy="193.0" r="5.5"/>
</g>
<g fill="#db722e">
<circle cx="478.7" cy="157.4" r="5.5"/>
</g>
<g fill="#feeab8" fill-opacity=".55">
<circle cx="408.8" cy="178.9" r="1.6"/>
</g>
<g fill="#e48035">
<circle cx="375.5" cy="190.5" r="3.8"/>
</g>
<g fill="#fde0a0">
<circle cx="387.6" cy="183.1" r="1.6"/>
</g>
<g fill="#e58337">
<circle cx="383.2" cy="197.8" r="4.5"/>
</g>
<g fill="#fff5d4" fill-opacity=".55">
<circle cx="417.6" cy="184.0" r="1.1"/>
</g>
<g fill="#d76e2c">
<circle cx="345.6" cy="202.5" r="5.6"/>
</g>
<g fill="#f3a24f">
<circle cx="484.4" cy="158.8" r="2.7"/>
</g>
<g fill="#fde1a3">
<circle cx="369.6" cy="186.9" r="2.1"/>
</g>
<g fill="#ea8b3c">
<circle cx="360.7" cy="194.0" r="4.5"/>
</g>
<g fill="#e78639">
<circle cx="381.9" cy="198.9" r="3.5"/>
</g>
<g fill="#ce6426">
<circle cx="484.7" cy="148.0" r="6.2"/>
</g>
<g fill="#fcd691">
<circle cx="396.5" cy="178.4" r="2.9"/>
</g>
<g fill="#cb6125">
<circle cx="372.6" cy="199.0" r="6.8"/>
</g>
<g fill="#873816">
<circle cx="378.1" cy="195.1" r="13.5"/>
</g>
<g fill="#fee6af">
<circle cx="417.0" cy="183.2" r="1.7"/>
</g>
<g fill="#973f19">
<circle cx="358.1" cy="197.5" r="9.5"/>
</g>
<g fill="#feeec2">
<circle cx="399.1" cy="187.0" r="1.7"/>
</g>
<g fill="#c55c23">
<circle cx="401.8" cy="188.2" r="6.6"/>
</g>
<g fill="#e07831">
<circle cx="476.5" cy="165.7" r="4.7"/>
</g>
<g fill="#ef9543">
<circle cx="410.8" cy="188.5" r="3.7"/>
</g>
<g fill="#bc5520">
<circle cx="376.7" cy="197.3" r="7.2"/>
</g>
<g fill="#b9521f">
<circle cx="384.4" cy="196.5" r="7.3"/>
</g>
<g fill="#d76e2c">
<circle cx="382.8" cy="200.1" r="4.7"/>
</g>
<g fill="#e37f35">
<circle cx="488.7" cy="151.6" r="4.0"/>
</g>
<g fill="#fee7b1">
<circle cx="397.8" cy="185.9" r="1.9"/>
</g>
<g fill="#e68337">
<circle cx="405.5" cy="192.3" r="3.8"/>
</g>
<g fill="#e17a32">
<circle cx="346.4" cy="206.9" r="4.9"/>
</g>
<g fill="#963f19">
<circle cx="381.4" cy="199.3" r="12.1"/>
</g>
<g fill="#fff5d4" fill-opacity=".55">
<circle cx="413.4" cy="183.2" r="1.0"/>
</g>
<g fill="#fcd793">
<circle cx="413.6" cy="178.5" r="1.9"/>
</g>
<g fill="#ba531f">
<circle cx="350.5" cy="206.6" r="8.4"/>
</g>
<g fill="#feeab8" fill-opacity=".55">
<circle cx="386.5" cy="183.7" r="1.5"/>
</g>
<g fill="#f6ad59">
<circle cx="379.1" cy="193.1" r="2.7"/>
</g>
<g fill="#fddf9f">
<circle cx="223.0" cy="242.5" r="1.8"/>
</g>
<g fill="#eb8d3d">
<circle cx="346.9" cy="201.8" r="4.3"/>
</g>
<g fill="#e58237">
<circle cx="385.2" cy="197.7" r="4.8"/>
</g>
<g fill="#d06728">
<circle cx="362.9" cy="204.0" r="6.7"/>
</g>
<g fill="#8a3917">
<circle cx="369.8" cy="196.9" r="12.1"/>
</g>
<g fill="#ef9643">
<circle cx="387.1" cy="195.9" r="3.7"/>
</g>
<g fill="#da712d">
<circle cx="366.1" cy="207.5" r="5.8"/>
</g>
<g fill="#ad4b1d">
<circle cx="374.1" cy="190.7" r="8.9"/>
</g>
<g fill="#f2a04e">
<circle cx="356.8" cy="201.3" r="3.5"/>
</g>
<g fill="#fcd48f">
<circle cx="399.6" cy="186.6" r="2.5"/>
</g>
<g fill="#9c421a">
<circle cx="343.0" cy="198.3" r="11.0"/>
</g>
<g fill="#e37f35">
<circle cx="484.5" cy="148.8" r="4.3"/>
</g>
<g fill="#cd6326">
<circle cx="481.4" cy="158.5" r="6.3"/>
</g>
<g fill="#fee7b1" fill-opacity=".55">
<circle cx="391.9" cy="183.2" r="1.3"/>
</g>
<g fill="#8c3a17">
<circle cx="383.4" cy="200.8" r="12.0"/>
</g>
<g fill="#f4a855">
<circle cx="476.8" cy="162.4" r="3.1"/>
</g>
<g fill="#fee9b7" fill-opacity=".55">
<circle cx="407.6" cy="187.8" r="1.4"/>
</g>
<g fill="#feecbe" fill-opacity=".55">
<circle cx="419.7" cy="180.2" r="1.1"/>
</g>
<g fill="#c96025">
<circle cx="376.5" cy="191.7" r="6.5"/>
</g>
<g fill="#fee8b5" fill-opacity=".55">
<circle cx="423.4" cy="183.0" r="1.5"/>
</g>
<g fill="#c85f24">
<circle cx="478.5" cy="155.5" r="6.7"/>
</g>
<g fill="#e07931">
<circle cx="480.6" cy="162.3" r="4.6"/>
</g>
<g fill="#aa491c">
<circle cx="490.4" cy="148.4" r="9.5"/>
</g>
<g fill="#e78639">
<circle cx="349.7" cy="205.5" r="4.0"/>
</g>
<g fill="#953e19">
<circle cx="371.9" cy="197.1" r="10.3"/>
</g>
<g fill="#ea8b3c">
<circle cx="382.7" cy="197.8" r="4.6"/>
</g>
<g fill="#e27c33">
<circle cx="408.5" cy="191.9" r="5.3"/>
</g>
<g fill="#a2441b">
<circle cx="403.7" cy="191.2" r="11.0"/>
</g>
<g fill="#feecbd" fill-opacity=".55">
<circle cx="420.7" cy="183.1" r="1.4"/>
</g>
<g fill="#f6ae5a">
<circle cx="419.5" cy="184.0" r="3.7"/>
</g>
<g fill="#c35a22">
<circle cx="382.8" cy="198.7" r="7.5"/>
</g>
<g fill="#b5501e">
<circle cx="374.7" cy="196.8" r="7.7"/>
</g>
<g fill="#fee7b1">
<circle cx="412.1" cy="185.3" r="1.7"/>
</g>
<g fill="#ee9341">
<circle cx="480.9" cy="156.9" r="2.8"/>
</g>
<g fill="#853715">
<circle cx="372.7" cy="197.7" r="12.2"/>
</g>
<g fill="#b8511f">
<circle cx="368.7" cy="207.0" r="7.1"/>
</g>
<g fill="#fac274">
<circle cx="426.8" cy="183.6" r="3.2"/>
</g>
<g fill="#fee7b2">
<circle cx="411.1" cy="185.2" r="1.7"/>
</g>
<g fill="#a3451b">
<circle cx="373.5" cy="195.8" r="9.1"/>
</g>
<g fill="#de752f">
<circle cx="342.6" cy="206.1" r="5.0"/>
</g>
<g fill="#e27d34">
<circle cx="479.8" cy="164.2" r="3.9"/>
</g>
<g fill="#db732e">
<circle cx="361.0" cy="208.4" r="4.8"/>
</g>
<g fill="#f09846">
<circle cx="390.3" cy="190.8" r="2.7"/>
</g>
<g fill="#de7630">
<circle cx="385.3" cy="196.4" r="4.7"/>
</g>
<g fill="#ea8b3c">
<circle cx="482.0" cy="162.5" r="3.2"/>
</g>
<g fill="#b6501f">
<circle cx="370.7" cy="207.6" r="8.3"/>
</g>
<g fill="#a3451b">
<circle cx="367.0" cy="202.4" r="10.8"/>
</g>
<g fill="#b5501e">
<circle cx="359.3" cy="201.8" r="7.4"/>
</g>
<g fill="#fcd995">
<circle cx="383.2" cy="189.0" r="1.9"/>
</g>
<g fill="#fff3ce" fill-opacity=".55">
<circle cx="414.7" cy="184.2" r="1.3"/>
</g>
<g fill="#933d19">
<circle cx="382.3" cy="197.6" r="10.6"/>
</g>
<g fill="#d9702c">
<circle cx="372.0" cy="206.0" r="6.1"/>
</g>
<g fill="#cd6426">
<circle cx="356.1" cy="204.5" r="5.9"/>
</g>
<g fill="#fde1a3">
<circle cx="418.1" cy="188.4" r="2.6"/>
</g>
<g fill="#feefc4" fill-opacity=".55">
<circle cx="427.1" cy="178.5" r="1.4"/>
</g>
<g fill="#fde2a5">
<circle cx="424.7" cy="186.4" r="2.3"/>
</g>
<g fill="#d36929">
<circle cx="377.1" cy="201.3" r="5.5"/>
</g>
<g fill="#e88739">
<circle cx="362.1" cy="206.2" r="4.2"/>
</g>
<g fill="#ef9644">
<circle cx="393.1" cy="199.3" r="4.1"/>
</g>
<g fill="#f3a451">
<circle cx="413.0" cy="187.7" r="2.8"/>
</g>
<g fill="#ed903f">
<circle cx="510.2" cy="158.3" r="3.5"/>
</g>
<g fill="#fcd48e">
<circle cx="411.2" cy="178.4" r="2.1"/>
</g>
<g fill="#e17b33">
<circle cx="398.3" cy="189.6" r="4.1"/>
</g>
<g fill="#ad4b1d">
<circle cx="369.6" cy="193.2" r="8.0"/>
</g>
<g fill="#d16728">
<circle cx="346.9" cy="208.6" r="6.5"/>
</g>
<g fill="#fff0c9" fill-opacity=".55">
<circle cx="406.3" cy="180.2" r="1.0"/>
</g>
<g fill="#f2a14e">
<circle cx="399.6" cy="182.8" r="3.8"/>
</g>
<g fill="#da712d">
<circle cx="400.8" cy="187.0" r="5.7"/>
</g>
<g fill="#de762f">
<circle cx="419.2" cy="190.7" r="4.7"/>
</g>
<g fill="#feedbf" fill-opacity=".55">
<circle cx="395.1" cy="187.8" r="1.5"/>
</g>
<g fill="#ac4b1d">
<circle cx="477.6" cy="165.6" r="8.0"/>
</g>
<g fill="#f5aa57">
<circle cx="486.3" cy="158.5" r="2.8"/>
</g>
<g fill="#ce6426">
<circle cx="349.2" cy="201.0" r="6.2"/>
</g>
<g fill="#c35a22">
<circle cx="363.2" cy="200.1" r="6.8"/>
</g>
<g fill="#d46b2a">
<circle cx="409.4" cy="188.8" r="5.5"/>
</g>
<g fill="#c85f24">
<circle cx="369.4" cy="203.8" r="6.6"/>
</g>
<g fill="#fff5d4" fill-opacity=".55">
<circle cx="411.8" cy="181.9" r="1.2"/>
</g>
<g fill="#a8481c">
<circle cx="368.7" cy="205.7" r="10.0"/>
</g>
<g fill="#cd6326">
<circle cx="343.6" cy="208.0" r="6.2"/>
</g>
<g fill="#feebbc" fill-opacity=".55">
<circle cx="405.5" cy="182.8" r="1.4"/>
</g>
<g fill="#d76e2b">
<circle cx="392.6" cy="193.3" r="6.1"/>
</g>
<g fill="#b04d1d">
<circle cx="380.3" cy="196.7" r="8.4"/>
</g>
<g fill="#d66d2b">
<circle cx="355.5" cy="206.5" r="6.3"/>
</g>
<g fill="#fde3a7" fill-opacity=".55">
<circle cx="412.5" cy="179.5" r="1.6"/>
</g>
<g fill="#823615">
<circle cx="367.3" cy="200.2" r="12.8"/>
</g>
<g fill="#9a401a">
<circle cx="383.8" cy="196.2" r="12.1"/>
</g>
<g fill="#bd5520">
<circle cx="373.1" cy="203.1" r="8.2"/>
</g>
<g fill="#d76f2c">
<circle cx="511.4" cy="157.7" r="5.5"/>
</g>
<g fill="#d26829">
<circle cx="368.9" cy="206.9" r="5.9"/>
</g>
<g fill="#d76e2c">
<circle cx="400.7" cy="199.9" r="4.7"/>
</g>
<g fill="#973f19">
<circle cx="352.8" cy="204.0" r="10.0"/>
</g>
<g fill="#fff4d0" fill-opacity=".55">
<circle cx="224.0" cy="247.1" r="1.2"/>
</g>
<g fill="#ed913f">
<circle cx="397.6" cy="199.2" r="4.1"/>
</g>
<g fill="#b34f1e">
<circle cx="392.5" cy="195.7" r="8.3"/>
</g>
<g fill="#e8873a">
<circle cx="487.2" cy="159.6" r="4.6"/>
</g>
<g fill="#ed903f">
<circle cx="378.1" cy="208.9" r="2.9"/>
</g>
<g fill="#963e19">
<circle cx="369.2" cy="203.5" r="11.6"/>
</g>
<g fill="#f19b48">
<circle cx="421.4" cy="190.0" r="2.5"/>
</g>
<g fill="#fde5ac" fill-opacity=".55">
<circle cx="406.4" cy="184.8" r="1.5"/>
</g>
<g fill="#c35b23">
<circle cx="374.8" cy="198.9" r="7.6"/>
</g>
<g fill="#e68337">
<circle cx="488.7" cy="157.0" r="4.5"/>
</g>
<g fill="#b6501e">
<circle cx="392.7" cy="192.1" r="7.2"/>
</g>
<g fill="#e37e34">
<circle cx="378.1" cy="193.6" r="5.2"/>
</g>
<g fill="#ce6426">
<circle cx="349.1" cy="204.1" r="6.1"/>
</g>
<g fill="#953e19">
<circle cx="391.3" cy="204.9" r="11.0"/>
</g>
<g fill="#bf5721">
<circle cx="424.9" cy="191.5" r="8.3"/>
</g>
<g fill="#f09745">
<circle cx="379.0" cy="205.6" r="3.9"/>
</g>
<g fill="#873816">
<circle cx="378.8" cy="207.8" r="13.0"/>
</g>
<g fill="#fde2a4">
<circle cx="220.5" cy="248.2" r="2.1"/>
</g>
<g fill="#fee9b6" fill-opacity=".55">
<circle cx="221.9" cy="247.3" r="1.2"/>
</g>
<g fill="#e27c33">
<circle cx="390.0" cy="195.8" r="5.2"/>
</g>
<g fill="#db722e">
<circle cx="409.1" cy="196.5" r="4.4"/>
</g>
<g fill="#feedc1">
<circle cx="409.6" cy="184.0" r="1.8"/>
</g>
<g fill="#cc6226">
<circle cx="357.3" cy="203.9" r="6.8"/>
</g>
<g fill="#b24e1e">
<circle cx="377.7" cy="196.8" r="8.8"/>
</g>
<g fill="#fff5d4" fill-opacity=".55">
<circle cx="222.8" cy="255.0" r="0.8"/>
</g>
<g fill="#c55c23">
<circle cx="350.9" cy="206.9" r="6.2"/>
</g>
<g fill="#ed903f">
<circle cx="477.1" cy="160.2" r="3.1"/>
</g>
<g fill="#d76e2b">
<circle cx="361.1" cy="203.8" r="4.9"/>
</g>
<g fill="#f19d4b">
<circle cx="394.1" cy="194.5" r="2.8"/>
</g>
<g fill="#843715">
<circle cx="384.3" cy="195.1" r="13.0"/>
</g>
<g fill="#feedc0">
<circle cx="413.7" cy="181.3" r="1.7"/>
</g>
<g fill="#b24e1e">
<circle cx="396.1" cy="187.5" r="8.3"/>
</g>
<g fill="#fddd9b">
<circle cx="229.4" cy="253.1" r="1.8"/>
</g>
<g fill="#c75e24">
<circle cx="358.2" cy="206.3" r="7.0"/>
</g>
<g fill="#d36929">
<circle cx="475.8" cy="160.1" r="5.1"/>
</g>
<g fill="#f5a956">
<circle cx="486.7" cy="157.1" r="2.4"/>
</g>
<g fill="#d36929">
<circle cx="426.1" cy="194.4" r="5.0"/>
</g>
<g fill="#e88739">
<circle cx="412.5" cy="185.9" r="4.8"/>
</g>
<g fill="#c35a22">
<circle cx="352.0" cy="207.1" r="7.2"/>
</g>
<g fill="#cd6326">
<circle cx="383.4" cy="209.5" r="7.2"/>
</g>
<g fill="#c05821">
<circle cx="390.4" cy="198.7" r="7.6"/>
</g>
<g fill="#f8b35f">
<circle cx="397.0" cy="187.2" r="3.4"/>
</g>
<g fill="#f6ac59">
<circle cx="398.7" cy="186.9" r="3.8"/>
</g>
<g fill="#fde1a3">
<circle cx="406.5" cy="188.7" r="1.8"/>
</g>
<g fill="#f09845">
<circle cx="435.3" cy="189.2" r="3.9"/>
</g>
<g fill="#c55c23">
<circle cx="375.8" cy="197.5" r="7.8"/>
</g>
<g fill="#f3a14f">
<circle cx="428.6" cy="179.6" r="3.8"/>
</g>
<g fill="#feecbf" fill-opacity=".55">
<circle cx="397.3" cy="187.6" r="1.1"/>
</g>
<g fill="#bc5520">
<circle cx="405.8" cy="196.1" r="7.2"/>
</g>
<g fill="#d36a29">
<circle cx="379.1" cy="200.7" r="6.7"/>
</g>
<g fill="#fac070">
<circle cx="428.2" cy="180.6" r="2.9"/>
</g>
<g fill="#873816">
<circle cx="422.5" cy="189.6" r="13.0"/>
</g>
<g fill="#ac4a1d">
<circle cx="381.7" cy="207.9" r="8.2"/>
</g>
<g fill="#b8521f">
<circle cx="394.6" cy="200.8" r="7.5"/>
</g>
<g fill="#fcd18a">
<circle cx="419.0" cy="187.4" r="3.0"/>
</g>
<g fill="#e58136">
<circle cx="370.6" cy="198.1" r="4.1"/>
</g>
<g fill="#dd752f">
<circle cx="381.6" cy="195.5" r="6.0"/>
</g>
<g fill="#f09745">
<circle cx="481.3" cy="160.9" r="4.0"/>
</g>
<g fill="#d9702d">
<circle cx="342.5" cy="209.5" r="6.0"/>
</g>
<g fill="#e98a3b">
<circle cx="400.0" cy="201.2" r="3.9"/>
</g>
<g fill="#f19c49">
<circle cx="393.3" cy="206.5" r="4.5"/>
</g>
<g fill="#b14d1d">
<circle cx="380.0" cy="209.8" r="7.7"/>
</g>
<g fill="#c55c23">
<circle cx="379.7" cy="209.5" r="7.0"/>
</g>
<g fill="#99401a">
<circle cx="404.7" cy="198.3" r="10.4"/>
</g>
<g fill="#ba531f">
<circle cx="366.5" cy="206.7" r="7.6"/>
</g>
<g fill="#e68438">
<circle cx="359.4" cy="206.7" r="4.0"/>
</g>
<g fill="#e37f35">
<circle cx="476.5" cy="163.9" r="3.7"/>
</g>
<g fill="#8d3a17">
<circle cx="363.4" cy="203.8" r="11.0"/>
</g>
<g fill="#e07831">
<circle cx="397.8" cy="203.5" r="4.9"/>
</g>
<g fill="#ca6025">
<circle cx="378.6" cy="204.8" r="6.6"/>
</g>
<g fill="#bc5520">
<circle cx="413.8" cy="188.9" r="7.8"/>
</g>
<g fill="#be5721">
<circle cx="381.2" cy="203.7" r="7.8"/>
</g>
<g fill="#fabe6d">
<circle cx="421.8" cy="187.0" r="3.5"/>
</g>
<g fill="#a9481c">
<circle cx="370.7" cy="208.8" r="8.4"/>
</g>
<g fill="#e58136">
<circle cx="367.5" cy="201.1" r="3.7"/>
</g>
<g fill="#f09745">
<circle cx="374.2" cy="204.2" r="3.8"/>
</g>
<g fill="#fabf6f">
<circle cx="396.3" cy="205.3" r="2.9"/>
</g>
<g fill="#e37e34">
<circle cx="393.0" cy="197.1" r="4.2"/>
</g>
<g fill="#f3a351">
<circle cx="399.0" cy="199.6" r="2.9"/>
</g>
<g fill="#ce6427">
<circle cx="404.0" cy="192.7" r="6.4"/>
</g>
<g fill="#984019">
<circle cx="431.2" cy="193.4" r="9.3"/>
</g>
<g fill="#b6501e">
<circle cx="408.0" cy="196.2" r="8.2"/>
</g>
<g fill="#9e421a">
<circle cx="375.5" cy="199.1" r="11.6"/>
</g>
<g fill="#f8b460">
<circle cx="449.9" cy="190.0" r="2.2"/>
</g>
<g fill="#df7730">
<circle cx="431.7" cy="196.8" r="5.2"/>
</g>
<g fill="#fac273">
<circle cx="425.2" cy="182.2" r="2.5"/>
</g>
<g fill="#f9b763">
<circle cx="457.2" cy="185.0" r="2.1"/>
</g>
<g fill="#e27d33">
<circle cx="439.4" cy="193.9" r="4.9"/>
</g>
<g fill="#b8511f">
<circle cx="375.5" cy="210.9" r="8.6"/>
</g>
<g fill="#b6501f">
<circle cx="375.7" cy="202.5" r="7.9"/>
</g>
<g fill="#b7511f">
<circle cx="373.4" cy="207.3" r="7.7"/>
</g>
<g fill="#fee6ae" fill-opacity=".55">
<circle cx="422.1" cy="186.7" r="1.3"/>
</g>
<g fill="#fcd28b">
<circle cx="396.2" cy="206.1" r="2.6"/>
</g>
<g fill="#d9702d">
<circle cx="408.7" cy="200.3" r="6.1"/>
</g>
<g fill="#c85f24">
<circle cx="424.5" cy="186.4" r="7.4"/>
</g>
<g fill="#ba531f">
<circle cx="378.7" cy="202.6" r="8.2"/>
</g>
<g fill="#fee7b0" fill-opacity=".55">
<circle cx="415.4" cy="187.5" r="1.6"/>
</g>
<g fill="#c35b23">
<circle cx="429.3" cy="190.1" r="7.3"/>
</g>
<g fill="#fac172">
<circle cx="455.6" cy="183.4" r="1.8"/>
</g>
<g fill="#c75e24">
<circle cx="393.7" cy="205.9" r="6.5"/>
</g>
<g fill="#feecbe" fill-opacity=".55">
<circle cx="230.9" cy="261.2" r="1.4"/>
</g>
<g fill="#9e421a">
<circle cx="379.5" cy="213.6" r="11.0"/>
</g>
<g fill="#dd752f">
<circle cx="403.2" cy="195.0" r="5.7"/>
<circle cx="399.4" cy="196.0" r="5.5"/>
</g>
<g fill="#d76e2b">
<circle cx="366.0" cy="206.9" r="5.0"/>
</g>
<g fill="#9e421a">
<circle cx="424.1" cy="193.5" r="9.5"/>
</g>
<g fill="#a9491c">
<circle cx="377.6" cy="205.9" r="9.3"/>
</g>
<g fill="#e27d34">
<circle cx="513.5" cy="159.0" r="4.5"/>
</g>
<g fill="#c05821">
<circle cx="363.6" cy="204.9" r="7.6"/>
</g>
<g fill="#df7730">
<circle cx="383.7" cy="201.6" r="4.8"/>
</g>
<g fill="#ba531f">
<circle cx="413.5" cy="190.6" r="7.9"/>
</g>
<g fill="#fff5d4" fill-opacity=".55">
<circle cx="231.7" cy="257.0" r="0.6"/>
</g>
<g fill="#be5621">
<circle cx="361.0" cy="208.5" r="6.9"/>
</g>
<g fill="#d16828">
<circle cx="430.6" cy="193.6" r="6.3"/>
</g>
<g fill="#c55d23">
<circle cx="361.1" cy="206.5" r="7.1"/>
</g>
<g fill="#ce6427">
<circle cx="393.0" cy="197.8" r="6.1"/>
</g>
<g fill="#b14d1e">
<circle cx="383.6" cy="216.0" r="9.0"/>
</g>
<g fill="#de7630">
<circle cx="404.7" cy="203.4" r="4.7"/>
</g>
<g fill="#fde4a9">
<circle cx="392.6" cy="208.6" r="1.9"/>
</g>
<g fill="#f3a24f">
<circle cx="395.6" cy="208.7" r="3.7"/>
</g>
<g fill="#fde5ac" fill-opacity=".55">
<circle cx="393.5" cy="204.6" r="1.4"/>
</g>
<g fill="#f5a855">
<circle cx="366.6" cy="204.7" r="3.2"/>
</g>
<g fill="#f3a24f">
<circle cx="412.0" cy="194.1" r="2.8"/>
</g>
<g fill="#c45b23">
<circle cx="416.4" cy="202.7" r="6.2"/>
</g>
<g fill="#943e19">
<circle cx="378.0" cy="207.3" r="11.0"/>
</g>
<g fill="#bf5721">
<circle cx="389.2" cy="213.1" r="7.6"/>
</g>
<g fill="#923c18">
<circle cx="426.0" cy="200.7" r="11.0"/>
</g>
<g fill="#fabd6c">
<circle cx="391.5" cy="204.5" r="2.6"/>
</g>
<g fill="#a2441b">
<circle cx="431.7" cy="194.6" r="10.0"/>
</g>
<g fill="#e58337">
<circle cx="391.2" cy="197.7" r="3.7"/>
</g>
<g fill="#b54f1e">
<circle cx="380.6" cy="200.6" r="8.6"/>
</g>
<g fill="#c35b23">
<circle cx="396.4" cy="207.8" r="7.8"/>
</g>
<g fill="#e47f35">
<circle cx="411.7" cy="192.5" r="5.2"/>
</g>
<g fill="#ce6426">
<circle cx="402.5" cy="209.7" r="5.6"/>
</g>
<g fill="#fff3cf" fill-opacity=".55">
<circle cx="232.6" cy="260.4" r="1.2"/>
</g>
<g fill="#e68438">
<circle cx="411.9" cy="204.4" r="4.5"/>
</g>
<g fill="#8b3a17">
<circle cx="386.5" cy="214.5" r="11.0"/>
</g>
<g fill="#9e421a">
<circle cx="424.2" cy="188.3" r="10.6"/>
</g>
<g fill="#d26929">
<circle cx="432.5" cy="192.5" r="6.4"/>
</g>
<g fill="#f09946">
<circle cx="431.5" cy="186.7" r="3.4"/>
</g>
<g fill="#8d3a18">
<circle cx="421.0" cy="189.2" r="13.0"/>
</g>
<g fill="#e17a32">
<circle cx="346.5" cy="214.2" r="4.9"/>
</g>
<g fill="#873816">
<circle cx="380.0" cy="203.2" r="11.8"/>
</g>
<g fill="#db732e">
<circle cx="420.1" cy="188.6" r="5.9"/>
</g>
<g fill="#ea8b3c">
<circle cx="393.9" cy="206.1" r="4.2"/>
</g>
<g fill="#f6ae5b">
<circle cx="400.2" cy="208.5" r="3.4"/>
</g>
<g fill="#fabc6b">
<circle cx="395.4" cy="214.1" r="3.1"/>
</g>
<g fill="#eb8d3d">
<circle cx="384.3" cy="215.3" r="4.0"/>
</g>
<g fill="#f4a552">
<circle cx="401.0" cy="198.3" r="3.0"/>
</g>
<g fill="#d8702c">
<circle cx="437.4" cy="194.3" r="5.7"/>
</g>
<g fill="#ce6427">
<circle cx="422.6" cy="190.6" r="7.0"/>
</g>
<g fill="#bc5520">
<circle cx="430.4" cy="193.1" r="8.1"/>
</g>
<g fill="#f2a14e">
<circle cx="424.4" cy="203.7" r="2.4"/>
</g>
<g fill="#c95f25">
<circle cx="420.3" cy="204.0" r="6.4"/>
</g>
<g fill="#fcd38d" fill-opacity=".55">
<circle cx="390.1" cy="214.5" r="1.5"/>
</g>
<g fill="#f4a754">
<circle cx="404.2" cy="212.8" r="3.2"/>
</g>
<g fill="#b9521f">
<circle cx="381.8" cy="203.0" r="7.6"/>
</g>
<g fill="#da722d">
<circle cx="402.5" cy="198.4" r="5.2"/>
</g>
<g fill="#e17a32">
<circle cx="424.2" cy="194.4" r="3.8"/>
</g>
<g fill="#f7b25e">
<circle cx="400.3" cy="201.9" r="3.4"/>
</g>
<g fill="#fcd28c">
<circle cx="394.0" cy="214.1" r="1.9"/>
</g>
<g fill="#ba531f">
<circle cx="376.8" cy="206.6" r="7.8"/>
</g>
<g fill="#f9bb6a">
<circle cx="385.0" cy="217.6" r="2.8"/>
</g>
<g fill="#bc5420">
<circle cx="414.5" cy="203.1" r="7.5"/>
</g>
<g fill="#fbcf87">
<circle cx="403.1" cy="207.0" r="1.7"/>
</g>
<g fill="#8d3a17">
<circle cx="407.0" cy="203.8" r="11.0"/>
</g>
<g fill="#9f431a">
<circle cx="396.7" cy="209.6" r="11.0"/>
</g>
<g fill="#b24e1e">
<circle cx="379.4" cy="216.1" r="8.5"/>
</g>
<g fill="#c25a22">
<circle cx="390.4" cy="209.4" r="7.1"/>
</g>
<g fill="#bb5420">
<circle cx="400.6" cy="210.7" r="7.0"/>
</g>
<g fill="#e78538">
<circle cx="383.4" cy="212.3" r="4.1"/>
</g>
<g fill="#f7b15e">
<circle cx="405.9" cy="204.4" r="3.5"/>
</g>
<g fill="#b44f1e">
<circle cx="372.0" cy="211.1" r="7.4"/>
</g>
<g fill="#eb8d3d">
<circle cx="390.0" cy="207.2" r="4.5"/>
</g>
<g fill="#dd752f">
<circle cx="437.1" cy="196.7" r="5.0"/>
<circle cx="437.8" cy="199.8" r="5.5"/>
</g>
<g fill="#fbd088">
<circle cx="385.3" cy="216.8" r="2.5"/>
</g>
<g fill="#f6ae5b">
<circle cx="415.5" cy="200.4" r="2.7"/>
</g>
<g fill="#e17a32">
<circle cx="430.6" cy="203.0" r="5.0"/>
</g>
<g fill="#fcda96">
<circle cx="400.0" cy="213.5" r="1.9"/>
</g>
<g fill="#f09745">
<circle cx="536.3" cy="167.5" r="3.2"/>
</g>
<g fill="#fcd792">
<circle cx="407.3" cy="207.6" r="2.4"/>
</g>
<g fill="#d06628">
<circle cx="410.6" cy="202.2" r="5.6"/>
</g>
<g fill="#f6ad59">
<circle cx="443.2" cy="200.1" r="3.0"/>
</g>
<g fill="#ed903f">
<circle cx="434.1" cy="198.8" r="3.9"/>
</g>
<g fill="#f6ac59">
<circle cx="383.4" cy="222.1" r="1.9"/>
</g>
<g fill="#eb8d3d">
<circle cx="430.1" cy="198.0" r="4.5"/>
</g>
<g fill="#f3a350">
<circle cx="394.5" cy="215.8" r="3.0"/>
</g>
<g fill="#f19c4a">
<circle cx="408.4" cy="204.3" r="2.4"/>
</g>
<g fill="#ea8b3c">
<circle cx="386.9" cy="210.0" r="3.4"/>
</g>
<g fill="#a4461b">
<circle cx="433.5" cy="194.0" r="8.9"/>
</g>
<g fill="#f3a451">
<circle cx="403.7" cy="209.2" r="4.5"/>
</g>
<g fill="#f3a14f">
<circle cx="454.4" cy="185.6" r="2.8"/>
</g>
<g fill="#f2a04e">
<circle cx="431.1" cy="200.3" r="2.6"/>
</g>
<g fill="#f4a754">
<circle cx="415.6" cy="200.4" r="2.8"/>
</g>
<g fill="#fabd6b">
<circle cx="398.2" cy="210.3" r="2.5"/>
</g>
<g fill="#fbcd84">
<circle cx="405.6" cy="214.8" r="2.3"/>
</g>
<g fill="#b24e1e">
<circle cx="417.8" cy="200.2" r="7.5"/>
</g>
<g fill="#b04c1d">
<circle cx="385.9" cy="208.9" r="8.4"/>
</g>
<g fill="#c25a22">
<circle cx="430.0" cy="199.3" r="7.1"/>
</g>
<g fill="#d46b2a">
<circle cx="437.6" cy="201.6" r="6.4"/>
</g>
<g fill="#ab4a1c">
<circle cx="384.7" cy="223.9" r="9.6"/>
</g>
<g fill="#dc742e">
<circle cx="388.9" cy="221.7" r="4.9"/>
</g>
<g fill="#f9bc6a">
<circle cx="396.6" cy="204.4" r="2.2"/>
</g>
<g fill="#fde3a6" fill-opacity=".55">
<circle cx="403.5" cy="203.2" r="1.2"/>
</g>
<g fill="#ca6125">
<circle cx="428.8" cy="208.4" r="6.1"/>
</g>
<g fill="#f19c49">
<circle cx="418.6" cy="197.2" r="3.5"/>
</g>
<g fill="#fbc77b">
<circle cx="398.2" cy="203.6" r="1.9"/>
</g>
<g fill="#984019">
<circle cx="392.6" cy="216.8" r="9.7"/>
</g>
<g fill="#9f431a">
<circle cx="425.4" cy="208.6" r="11.0"/>
</g>
<g fill="#a9491c">
<circle cx="440.2" cy="194.9" r="9.9"/>
</g>
<g fill="#f19c4a">
<circle cx="402.2" cy="215.8" r="2.5"/>
</g>
<g fill="#fbcc82">
<circle cx="393.3" cy="206.0" r="2.2"/>
</g>
<g fill="#c05822">
<circle cx="392.8" cy="204.4" r="6.9"/>
</g>
<g fill="#f9ba68">
<circle cx="387.2" cy="222.2" r="3.2"/>
</g>
<g fill="#ba521f">
<circle cx="441.3" cy="203.5" r="7.1"/>
</g>
<g fill="#ca6125">
<circle cx="438.8" cy="200.6" r="6.6"/>
</g>
<g fill="#e58236">
<circle cx="429.5" cy="203.4" r="3.9"/>
</g>
<g fill="#bb5420">
<circle cx="389.3" cy="216.4" r="8.3"/>
</g>
<g fill="#e48035">
<circle cx="403.2" cy="214.9" r="4.6"/>
</g>
<g fill="#f4a653">
<circle cx="400.7" cy="219.7" r="2.8"/>
</g>
<g fill="#dd752f">
<circle cx="532.0" cy="167.3" r="5.0"/>
</g>
<g fill="#f8b35f">
<circle cx="401.9" cy="209.3" r="3.1"/>
</g>
<g fill="#e37e34">
<circle cx="425.3" cy="200.3" r="4.3"/>
</g>
<g fill="#fee8b4">
<circle cx="411.7" cy="205.4" r="1.6"/>
</g>
<g fill="#fac172">
<circle cx="405.3" cy="212.9" r="2.1"/>
</g>
<g fill="#c15922">
<circle cx="530.0" cy="167.9" r="7.2"/>
</g>
<g fill="#e98a3b">
<circle cx="388.9" cy="219.6" r="4.5"/>
</g>
<g fill="#de762f">
<circle cx="438.8" cy="203.7" r="5.3"/>
</g>
<g fill="#c96025">
<circle cx="431.4" cy="199.9" r="6.9"/>
</g>
<g fill="#fac577">
<circle cx="423.9" cy="200.3" r="2.1"/>
</g>
<g fill="#d66d2b">
<circle cx="438.0" cy="196.7" r="6.1"/>
</g>
<g fill="#f5aa57">
<circle cx="536.3" cy="165.5" r="2.5"/>
</g>
<g fill="#c35b23">
<circle cx="432.4" cy="200.8" r="7.8"/>
</g>
<g fill="#f9b864">
<circle cx="406.7" cy="218.2" r="2.5"/>
</g>
<g fill="#d16728">
<circle cx="443.7" cy="200.1" r="5.5"/>
</g>
<g fill="#f8b561">
<circle cx="453.6" cy="200.4" r="1.8"/>
</g>
<g fill="#e58236">
<circle cx="405.1" cy="217.9" r="3.6"/>
</g>
<g fill="#d66d2b">
<circle cx="442.7" cy="197.7" r="4.8"/>
</g>
<g fill="#fabf6e">
<circle cx="403.5" cy="216.8" r="3.1"/>
</g>
<g fill="#d46b2a">
<circle cx="419.9" cy="203.8" r="6.0"/>
</g>
<g fill="#eb8d3d">
<circle cx="421.5" cy="205.5" r="4.2"/>
</g>
<g fill="#fbcf87">
<circle cx="407.1" cy="214.2" r="2.5"/>
</g>
<g fill="#fcd792" fill-opacity=".55">
<circle cx="401.0" cy="217.3" r="1.6"/>
</g>
<g fill="#f3a24f">
<circle cx="402.4" cy="206.1" r="3.0"/>
</g>
<g fill="#db722e">
<circle cx="412.7" cy="213.1" r="4.4"/>
</g>
<g fill="#b7511f">
<circle cx="405.7" cy="216.8" r="7.5"/>
</g>
<g fill="#a6471c">
<circle cx="429.1" cy="196.7" r="9.1"/>
</g>
<g fill="#db732e">
<circle cx="390.9" cy="225.9" r="5.4"/>
</g>
<g fill="#bb5320">
<circle cx="431.5" cy="202.4" r="6.8"/>
</g>
<g fill="#ce6426">
<circle cx="441.1" cy="203.6" r="5.8"/>
</g>
<g fill="#dd752f">
<circle cx="447.0" cy="203.0" r="5.0"/>
</g>
<g fill="#a2441b">
<circle cx="430.1" cy="200.5" r="9.9"/>
</g>
<g fill="#f7b15d">
<circle cx="452.1" cy="188.4" r="2.3"/>
</g>
<g fill="#f3a350">
<circle cx="449.9" cy="202.1" r="3.5"/>
</g>
<g fill="#9a401a">
<circle cx="447.0" cy="206.5" r="11.0"/>
</g>
<g fill="#c35a22">
<circle cx="422.2" cy="215.8" r="7.2"/>
</g>
<g fill="#f5a956">
<circle cx="396.1" cy="213.8" r="2.8"/>
</g>
<g fill="#c55d23">
<circle cx="395.4" cy="220.4" r="6.7"/>
</g>
<g fill="#ee9341">
<circle cx="401.9" cy="211.1" r="3.6"/>
</g>
<g fill="#e9883a">
<circle cx="407.2" cy="207.2" r="4.2"/>
</g>
<g fill="#fee7b0" fill-opacity=".55">
<circle cx="385.9" cy="219.2" r="1.3"/>
</g>
<g fill="#983f19">
<circle cx="438.7" cy="199.0" r="10.4"/>
</g>
<g fill="#994019">
<circle cx="431.8" cy="197.9" r="12.3"/>
</g>
<g fill="#b5501e">
<circle cx="457.3" cy="197.3" r="8.7"/>
</g>
<g fill="#9e431a">
<circle cx="415.8" cy="219.4" r="10.2"/>
</g>
<g fill="#db732e">
<circle cx="413.2" cy="207.5" r="5.5"/>
</g>
<g fill="#fddf9f" fill-opacity=".55">
<circle cx="382.6" cy="224.2" r="1.3"/>
</g>
<g fill="#f3a451">
<circle cx="450.3" cy="200.5" r="3.1"/>
</g>
<g fill="#f9ba67">
<circle cx="398.3" cy="209.1" r="2.4"/>
</g>
<g fill="#fcd894">
<circle cx="392.3" cy="227.8" r="1.9"/>
</g>
<g fill="#963e19">
<circle cx="435.9" cy="207.6" r="10.8"/>
</g>
<g fill="#f9ba68">
<circle cx="405.8" cy="214.7" r="2.7"/>
</g>
<g fill="#cb6125">
<circle cx="388.9" cy="218.5" r="6.5"/>
</g>
<g fill="#dc742e">
<circle cx="413.7" cy="209.7" r="6.0"/>
</g>
<g fill="#cf6627">
<circle cx="404.2" cy="220.0" r="6.9"/>
</g>
<g fill="#e8883a">
<circle cx="390.4" cy="222.9" r="4.6"/>
</g>
<g fill="#f09845">
<circle cx="395.4" cy="225.7" r="4.4"/>
</g>
<g fill="#bf5721">
<circle cx="428.2" cy="203.0" r="7.8"/>
</g>
<g fill="#b14d1e">
<circle cx="433.6" cy="197.1" r="8.8"/>
</g>
<g fill="#fac476">
<circle cx="384.3" cy="220.1" r="2.1"/>
</g>
<g fill="#fac172">
<circle cx="394.8" cy="211.9" r="2.2"/>
</g>
<g fill="#fbca80">
<circle cx="396.3" cy="215.2" r="2.2"/>
</g>
<g fill="#f9ba68">
<circle cx="387.9" cy="221.1" r="2.8"/>
</g>
<g fill="#913c18">
<circle cx="430.8" cy="210.0" r="10.3"/>
</g>
<g fill="#fabf6e">
<circle cx="401.0" cy="219.3" r="2.3"/>
</g>
<g fill="#f8b460">
<circle cx="542.6" cy="166.2" r="2.2"/>
</g>
<g fill="#f9b965">
<circle cx="429.1" cy="213.7" r="1.9"/>
</g>
<g fill="#f8b561">
<circle cx="437.4" cy="205.3" r="2.6"/>
</g>
<g fill="#e9883a">
<circle cx="448.3" cy="199.2" r="3.1"/>
</g>
<g fill="#d8702c">
<circle cx="436.1" cy="209.2" r="6.2"/>
</g>
<g fill="#ca6025">
<circle cx="392.9" cy="229.2" r="7.3"/>
</g>
<g fill="#f3a350">
<circle cx="445.0" cy="210.2" r="3.0"/>
</g>
<g fill="#c75e24">
<circle cx="391.5" cy="228.0" r="7.1"/>
</g>
<g fill="#9d421a">
<circle cx="438.8" cy="209.0" r="11.0"/>
</g>
<g fill="#f9bc6a">
<circle cx="388.2" cy="227.0" r="3.2"/>
</g>
<g fill="#c65d23">
<circle cx="437.6" cy="208.7" r="7.5"/>
</g>
<g fill="#fbd089">
<circle cx="411.9" cy="207.9" r="1.6"/>
</g>
<g fill="#9b411a">
<circle cx="422.4" cy="202.0" r="10.9"/>
</g>
<g fill="#ce6427">
<circle cx="383.4" cy="216.0" r="6.0"/>
</g>
<g fill="#b44f1e">
<circle cx="432.5" cy="198.3" r="8.2"/>
</g>
<g fill="#feedc0" fill-opacity=".55">
<circle cx="384.6" cy="221.5" r="1.4"/>
</g>
<g fill="#9e431a">
<circle cx="441.7" cy="202.8" r="11.0"/>
</g>
<g fill="#e9893b">
<circle cx="388.9" cy="225.4" r="3.3"/>
</g>
<g fill="#f9b662">
<circle cx="395.0" cy="214.9" r="2.5"/>
</g>
<g fill="#ba531f">
<circle cx="427.7" cy="218.0" r="8.4"/>
</g>
<g fill="#fcd590">
<circle cx="400.4" cy="221.6" r="2.3"/>
</g>
<g fill="#fcdb98">
<circle cx="396.9" cy="221.2" r="1.8"/>
</g>
<g fill="#f4a754">
<circle cx="536.3" cy="171.0" r="2.6"/>
</g>
<g fill="#ef9543">
<circle cx="414.7" cy="217.1" r="2.9"/>
</g>
<g fill="#9e421a">
<circle cx="414.5" cy="215.0" r="10.5"/>
</g>
<g fill="#f5a956">
<circle cx="454.1" cy="197.8" r="2.9"/>
</g>
<g fill="#c05821">
<circle cx="418.2" cy="217.2" r="7.2"/>
</g>
<g fill="#cf6527">
<circle cx="444.1" cy="197.7" r="6.7"/>
</g>
<g fill="#8a3917">
<circle cx="419.4" cy="215.4" r="11.5"/>
</g>
<g fill="#f7af5b">
<circle cx="453.4" cy="206.6" r="2.0"/>
</g>
<g fill="#cf6527">
<circle cx="404.6" cy="219.8" r="6.2"/>
</g>
<g fill="#bd5520">
<circle cx="434.5" cy="211.2" r="8.1"/>
</g>
<g fill="#af4c1d">
<circle cx="430.3" cy="201.2" r="9.4"/>
</g>
<g fill="#f19b48">
<circle cx="454.7" cy="199.6" r="3.5"/>
</g>
<g fill="#9c411a">
<circle cx="424.8" cy="219.5" r="9.4"/>
</g>
<g fill="#f09846">
<circle cx="400.3" cy="216.1" r="3.5"/>
</g>
<g fill="#fde3a7" fill-opacity=".55">
<circle cx="406.5" cy="209.7" r="1.5"/>
</g>
<g fill="#bf5721">
<circle cx="386.5" cy="225.7" r="8.3"/>
</g>
<g fill="#e68337">
<circle cx="541.4" cy="173.7" r="4.2"/>
</g>
<g fill="#f7af5c">
<circle cx="388.3" cy="227.6" r="2.9"/>
</g>
<g fill="#f19c49">
<circle cx="409.8" cy="211.3" r="3.5"/>
</g>
<g fill="#9f431a">
<circle cx="393.2" cy="229.3" r="11.0"/>
</g>
<g fill="#ef9543">
<circle cx="424.6" cy="205.0" r="3.7"/>
</g>
<g fill="#f4a754">
<circle cx="542.8" cy="171.9" r="2.6"/>
</g>
<g fill="#fee6af" fill-opacity=".55">
<circle cx="391.3" cy="225.7" r="1.2"/>
</g>
<g fill="#f7b15d">
<circle cx="545.5" cy="176.9" r="2.3"/>
</g>
<g fill="#e68337">
<circle cx="444.5" cy="200.7" r="4.1"/>
</g>
<g fill="#ee9341">
<circle cx="404.5" cy="226.4" r="3.8"/>
</g>
<g fill="#c35b23">
<circle cx="387.8" cy="233.9" r="7.1"/>
</g>
<g fill="#d9702d">
<circle cx="438.3" cy="215.7" r="4.9"/>
</g>
<g fill="#ed903f">
<circle cx="396.3" cy="219.8" r="3.8"/>
</g>
<g fill="#ea8a3b">
<circle cx="392.1" cy="227.3" r="3.9"/>
</g>
<g fill="#b6501e">
<circle cx="448.7" cy="202.8" r="8.1"/>
</g>
<g fill="#d9702c">
<circle cx="413.1" cy="217.1" r="4.7"/>
</g>
<g fill="#ab4a1c">
<circle cx="430.2" cy="205.9" r="8.8"/>
</g>
<g fill="#fbc87c">
<circle cx="423.4" cy="219.7" r="2.1"/>
</g>
<g fill="#ce6527">
<circle cx="380.4" cy="226.6" r="6.3"/>
</g>
<g fill="#9a411a">
<circle cx="419.2" cy="211.3" r="11.0"/>
</g>
<g fill="#c65d24">
<circle cx="426.8" cy="220.0" r="6.5"/>
</g>
<g fill="#f3a350">
<circle cx="404.3" cy="212.8" r="4.5"/>
</g>
<g fill="#bf5721">
<circle cx="443.9" cy="210.1" r="7.5"/>
</g>
<g fill="#fcd28b">
<circle cx="407.0" cy="217.6" r="2.3"/>
</g>
<g fill="#fee9b7" fill-opacity=".55">
<circle cx="409.4" cy="214.4" r="1.1"/>
</g>
<g fill="#e78639">
<circle cx="414.4" cy="220.4" r="3.2"/>
</g>
<g fill="#fde5ad" fill-opacity=".55">
<circle cx="412.9" cy="212.1" r="1.3"/>
</g>
<g fill="#cf6527">
<circle cx="437.3" cy="201.3" r="5.3"/>
</g>
<g fill="#fee9b5" fill-opacity=".55">
<circle cx="390.0" cy="220.6" r="1.4"/>
</g>
<g fill="#ae4c1d">
<circle cx="388.5" cy="231.3" r="7.9"/>
</g>
<g fill="#f3a14f">
<circle cx="536.1" cy="177.5" r="2.8"/>
</g>
<g fill="#fbcd84">
<circle cx="404.4" cy="225.5" r="1.8"/>
</g>
<g fill="#e68438">
<circle cx="385.8" cy="235.7" r="3.9"/>
</g>
<g fill="#f4a754">
<circle cx="410.4" cy="218.0" r="2.9"/>
</g>
<g fill="#f19c4a">
<circle cx="539.3" cy="175.1" r="3.0"/>
</g>
<g fill="#da722d">
<circle cx="442.9" cy="216.1" r="5.5"/>
</g>
<g fill="#ed903f">
<circle cx="534.6" cy="168.6" r="3.5"/>
</g>
<g fill="#e48036">
<circle cx="446.8" cy="199.2" r="4.2"/>
</g>
<g fill="#e88739">
<circle cx="415.0" cy="212.3" r="3.5"/>
</g>
<g fill="#903b18">
<circle cx="388.4" cy="237.3" r="10.4"/>
</g>
<g fill="#d56c2a">
<circle cx="432.7" cy="207.1" r="5.9"/>
</g>
<g fill="#e27d34">
<circle cx="417.5" cy="216.6" r="3.8"/>
</g>
<g fill="#9b411a">
<circle cx="383.2" cy="223.3" r="10.0"/>
</g>
<g fill="#ef9543">
<circle cx="419.1" cy="211.0" r="2.8"/>
</g>
<g fill="#a0441b">
<circle cx="431.2" cy="207.4" r="9.8"/>
</g>
<g fill="#b34f1e">
<circle cx="391.1" cy="233.4" r="8.6"/>
</g>
<g fill="#fde4ab">
<circle cx="401.6" cy="218.6" r="1.7"/>
</g>
<g fill="#b7511f">
<circle cx="452.5" cy="206.7" r="8.4"/>
</g>
<g fill="#db722e">
<circle cx="452.2" cy="205.1" r="6.0"/>
</g>
<g fill="#fff0c7" fill-opacity=".55">
<circle cx="391.0" cy="221.8" r="1.0"/>
</g>
<g fill="#ed903f">
<circle cx="390.9" cy="225.2" r="4.3"/>
</g>
<g fill="#f19c49">
<circle cx="451.9" cy="201.2" r="2.9"/>
</g>
<g fill="#d86f2c">
<circle cx="420.4" cy="224.3" r="5.0"/>
</g>
<g fill="#ec8f3e">
<circle cx="424.5" cy="223.3" r="2.9"/>
</g>
<g fill="#bf5721">
<circle cx="424.0" cy="220.4" r="7.4"/>
</g>
<g fill="#fcd894">
<circle cx="389.2" cy="227.8" r="1.9"/>
</g>
<g fill="#f09745">
<circle cx="540.5" cy="179.1" r="3.2"/>
</g>
<g fill="#bb5420">
<circle cx="420.1" cy="214.6" r="8.3"/>
</g>
<g fill="#e17b32">
<circle cx="423.1" cy="212.6" r="4.2"/>
</g>
<g fill="#c05821">
<circle cx="412.5" cy="227.0" r="7.1"/>
</g>
<g fill="#ef9643">
<circle cx="396.4" cy="225.2" r="3.4"/>
</g>
<g fill="#f29f4c">
<circle cx="444.8" cy="216.5" r="3.5"/>
</g>
<g fill="#db732e">
<circle cx="447.5" cy="201.3" r="4.8"/>
</g>
<g fill="#e8883a">
<circle cx="451.5" cy="207.5" r="3.3"/>
</g>
<g fill="#b6501f">
<circle cx="418.3" cy="227.3" r="8.4"/>
</g>
<g fill="#933d19">
<circle cx="432.0" cy="207.2" r="11.0"/>
</g>
<g fill="#b24e1e">
<circle cx="432.6" cy="209.7" r="9.3"/>
</g>
<g fill="#bf5721">
<circle cx="417.0" cy="224.7" r="7.2"/>
</g>
<g fill="#ab4a1c">
<circle cx="399.3" cy="227.0" r="9.6"/>
</g>
<g fill="#9d421a">
<circle cx="416.4" cy="220.6" r="10.3"/>
</g>
<g fill="#fac577">
<circle cx="552.3" cy="179.0" r="2.3"/>
</g>
<g fill="#c35b23">
<circle cx="416.7" cy="222.6" r="7.5"/>
</g>
<g fill="#d9702c">
<circle cx="386.9" cy="225.8" r="5.2"/>
</g>
<g fill="#e27d33">
<circle cx="441.8" cy="212.4" r="4.3"/>
</g>
<g fill="#f19c49">
<circle cx="400.2" cy="222.4" r="4.5"/>
</g>
<g fill="#953e19">
<circle cx="389.8" cy="231.9" r="12.3"/>
</g>
<g fill="#d06627">
<circle cx="388.1" cy="237.0" r="6.9"/>
</g>
<g fill="#e07831">
<circle cx="385.3" cy="239.9" r="5.6"/>
</g>
<g fill="#a9481c">
<circle cx="418.2" cy="230.3" r="8.5"/>
</g>
<g fill="#b54f1e">
<circle cx="404.1" cy="220.1" r="8.4"/>
</g>
<g fill="#ec8e3e">
<circle cx="436.6" cy="206.5" r="4.0"/>
</g>
<g fill="#f19c4a">
<circle cx="542.9" cy="178.4" r="3.0"/>
</g>
<g fill="#e8883a">
<circle cx="396.8" cy="221.7" r="4.0"/>
</g>
<g fill="#c45b23">
<circle cx="426.8" cy="217.2" r="7.2"/>
</g>
<g fill="#bf5721">
<circle cx="422.5" cy="222.2" r="8.2"/>
</g>
<g fill="#fcd894">
<circle cx="396.0" cy="222.2" r="1.8"/>
</g>
<g fill="#fac67a">
<circle cx="390.9" cy="225.9" r="2.0"/>
</g>
<g fill="#ea8a3b">
<circle cx="447.5" cy="208.6" r="3.4"/>
</g>
<g fill="#a7471c">
<circle cx="428.8" cy="225.9" r="10.2"/>
</g>
<g fill="#ed8f3e">
<circle cx="441.4" cy="214.0" r="3.6"/>
</g>
<g fill="#ee9240">
<circle cx="439.6" cy="208.1" r="3.1"/>
</g>
<g fill="#a5461b">
<circle cx="427.9" cy="213.2" r="8.8"/>
</g>
<g fill="#a6471c">
<circle cx="421.4" cy="223.2" r="9.0"/>
</g>
<g fill="#d26929">
<circle cx="543.1" cy="184.8" r="6.0"/>
</g>
<g fill="#c65d24">
<circle cx="420.5" cy="216.6" r="7.3"/>
</g>
<g fill="#bc5520">
<circle cx="424.1" cy="222.1" r="7.7"/>
</g>
<g fill="#ec8f3e">
<circle cx="445.0" cy="216.8" r="4.1"/>
</g>
<g fill="#e27d34">
<circle cx="412.5" cy="220.2" r="3.8"/>
</g>
<g fill="#c05822">
<circle cx="418.1" cy="214.6" r="7.3"/>
</g>
<g fill="#943d19">
<circle cx="441.5" cy="207.1" r="10.7"/>
</g>
<g fill="#a4461b">
<circle cx="396.3" cy="230.1" r="9.0"/>
</g>
<g fill="#ea8b3c">
<circle cx="418.1" cy="223.5" r="4.2"/>
</g>
<g fill="#db732e">
<circle cx="428.0" cy="221.0" r="4.9"/>
</g>
<g fill="#bd5621">
<circle cx="385.0" cy="228.0" r="6.9"/>
</g>
<g fill="#f19c4a">
<circle cx="540.3" cy="183.4" r="3.0"/>
</g>
<g fill="#cb6225">
<circle cx="386.0" cy="241.9" r="6.4"/>
</g>
<g fill="#e68337">
<circle cx="426.8" cy="226.2" r="4.1"/>
</g>
<g fill="#b24e1e">
<circle cx="428.4" cy="222.9" r="8.4"/>
</g>
<g fill="#c45c23">
<circle cx="397.3" cy="225.2" r="7.5"/>
</g>
<g fill="#cf6527">
<circle cx="390.4" cy="237.3" r="6.8"/>
</g>
<g fill="#e78538">
<circle cx="403.5" cy="238.1" r="4.6"/>
</g>
<g fill="#c55c23">
<circle cx="399.5" cy="228.6" r="7.6"/>
</g>
<g fill="#fde3a6" fill-opacity=".55">
<circle cx="553.1" cy="176.4" r="1.3"/>
</g>
<g fill="#eb8c3c">
<circle cx="415.8" cy="221.8" r="3.0"/>
</g>
<g fill="#fac071">
<circle cx="557.7" cy="179.8" r="2.3"/>
</g>
<g fill="#e88739">
<circle cx="409.4" cy="233.9" r="3.3"/>
</g>
<g fill="#f3a350">
<circle cx="390.6" cy="228.5" r="4.5"/>
</g>
<g fill="#a3451b">
<circle cx="438.4" cy="214.8" r="8.6"/>
</g>
<g fill="#a9481c">
<circle cx="420.3" cy="220.2" r="9.9"/>
</g>
<g fill="#8c3a17">
<circle cx="441.8" cy="211.9" r="11.0"/>
</g>
<g fill="#e27c33">
<circle cx="415.0" cy="219.8" r="5.1"/>
</g>
<g fill="#f3a14f">
<circle cx="541.4" cy="181.7" r="2.8"/>
</g>
<g fill="#e37f34">
<circle cx="391.5" cy="234.5" r="4.1"/>
</g>
<g fill="#d46b2a">
<circle cx="434.6" cy="212.1" r="6.5"/>
</g>
<g fill="#fbcb81">
<circle cx="403.3" cy="224.0" r="2.5"/>
</g>
<g fill="#fbd088">
<circle cx="554.5" cy="179.7" r="1.8"/>
</g>
<g fill="#8d3a18">
<circle cx="423.5" cy="226.9" r="11.0"/>
</g>
<g fill="#c35b23">
<circle cx="410.0" cy="232.5" r="7.9"/>
</g>
<g fill="#843715">
<circle cx="426.3" cy="219.4" r="12.5"/>
</g>
<g fill="#e78639">
<circle cx="435.1" cy="212.6" r="3.4"/>
</g>
<g fill="#ab4a1c">
<circle cx="417.5" cy="231.5" r="9.4"/>
</g>
<g fill="#f19c49">
<circle cx="443.3" cy="209.5" r="2.4"/>
</g>
<g fill="#e07931">
<circle cx="397.2" cy="234.0" r="5.2"/>
</g>
<g fill="#a0431a">
<circle cx="434.8" cy="212.7" r="10.5"/>
</g>
<g fill="#e07a32">
<circle cx="395.3" cy="236.7" r="5.3"/>
</g>
<g fill="#c85e24">
<circle cx="426.4" cy="231.3" r="6.1"/>
</g>
<g fill="#d36929">
<circle cx="438.9" cy="216.6" r="6.1"/>
</g>
<g fill="#8b3a17">
<circle cx="427.8" cy="218.8" r="11.0"/>
</g>
<g fill="#973f19">
<circle cx="399.9" cy="236.4" r="12.0"/>
</g>
<g fill="#e48036">
<circle cx="443.9" cy="218.9" r="4.4"/>
</g>
<g fill="#be5621">
<circle cx="408.2" cy="228.0" r="7.0"/>
</g>
<g fill="#e68337">
<circle cx="422.6" cy="218.3" r="4.8"/>
</g>
<g fill="#b54f1e">
<circle cx="425.8" cy="228.2" r="7.5"/>
</g>
<g fill="#d86f2c">
<circle cx="448.5" cy="210.1" r="5.5"/>
</g>
<g fill="#e78639">
<circle cx="416.8" cy="233.3" r="3.9"/>
</g>
<g fill="#db732e">
<circle cx="400.5" cy="229.1" r="4.4"/>
</g>
<g fill="#fde0a1">
<circle cx="399.8" cy="228.9" r="1.6"/>
</g>
<g fill="#aa491c">
<circle cx="434.9" cy="229.6" r="8.4"/>
</g>
<g fill="#bb5420">
<circle cx="420.3" cy="234.0" r="7.2"/>
</g>
<g fill="#e47f35">
<circle cx="444.5" cy="218.7" r="3.8"/>
</g>
<g fill="#dc732e">
<circle cx="393.5" cy="240.1" r="4.3"/>
</g>
<g fill="#9d421a">
<circle cx="417.3" cy="232.9" r="11.9"/>
</g>
<g fill="#f3a24f">
<circle cx="418.4" cy="233.5" r="3.1"/>
</g>
<g fill="#fac273">
<circle cx="413.8" cy="226.7" r="2.1"/>
</g>
<g fill="#fdde9d" fill-opacity=".55">
<circle cx="552.5" cy="175.5" r="1.3"/>
</g>
<g fill="#dc732e">
<circle cx="426.3" cy="234.7" r="4.9"/>
</g>
<g fill="#d36a2a">
<circle cx="407.8" cy="236.7" r="6.3"/>
</g>
<g fill="#f19c4a">
<circle cx="545.9" cy="185.4" r="3.0"/>
</g>
<g fill="#e88739">
<circle cx="451.5" cy="211.1" r="4.3"/>
</g>
<g fill="#8d3a17">
<circle cx="426.6" cy="230.4" r="10.9"/>
</g>
<g fill="#f7b05c">
<circle cx="399.4" cy="244.9" r="4.0"/>
</g>
<g fill="#fff2cd" fill-opacity=".55">
<circle cx="392.8" cy="240.5" r="1.0"/>
</g>
<g fill="#963e19">
<circle cx="421.8" cy="227.2" r="10.3"/>
</g>
<g fill="#af4c1d">
<circle cx="414.2" cy="239.7" r="8.5"/>
</g>
<g fill="#913c18">
<circle cx="417.6" cy="224.2" r="12.5"/>
</g>
<g fill="#ec8f3e">
<circle cx="417.2" cy="235.7" r="4.0"/>
</g>
<g fill="#a7471c">
<circle cx="394.8" cy="244.1" r="9.5"/>
</g>
<g fill="#c96025">
<circle cx="421.8" cy="232.8" r="6.5"/>
</g>
<g fill="#de7630">
<circle cx="428.2" cy="225.2" r="4.7"/>
</g>
<g fill="#923c18">
<circle cx="422.0" cy="227.8" r="11.0"/>
</g>
<g fill="#923d19">
<circle cx="388.7" cy="240.0" r="11.0"/>
</g>
<g fill="#953e19">
<circle cx="423.7" cy="230.2" r="12.5"/>
<circle cx="447.8" cy="214.8" r="10.8"/>
</g>
<g fill="#b24e1e">
<circle cx="395.1" cy="245.1" r="8.1"/>
</g>
<g fill="#f6ae5b">
<circle cx="563.2" cy="189.4" r="2.4"/>
</g>
<g fill="#c65d24">
<circle cx="409.5" cy="232.2" r="7.3"/>
</g>
<g fill="#bd5520">
<circle cx="388.9" cy="249.9" r="7.2"/>
</g>
<g fill="#e48035">
<circle cx="403.1" cy="233.4" r="4.3"/>
</g>
<g fill="#ce6427">
<circle cx="424.6" cy="232.3" r="5.4"/>
</g>
<g fill="#f29f4d">
<circle cx="394.8" cy="239.7" r="3.4"/>
</g>
<g fill="#ef9644">
<circle cx="392.8" cy="235.7" r="4.0"/>
</g>
<g fill="#f29f4c">
<circle cx="560.2" cy="191.5" r="3.6"/>
</g>
<g fill="#9b411a">
<circle cx="402.4" cy="235.8" r="11.2"/>
</g>
<g fill="#e17b32">
<circle cx="389.3" cy="249.0" r="5.4"/>
</g>
<g fill="#de762f">
<circle cx="411.0" cy="233.9" r="5.2"/>
</g>
<g fill="#8f3b18">
<circle cx="418.9" cy="225.7" r="11.0"/>
</g>
<g fill="#f09a48">
<circle cx="415.9" cy="239.6" r="3.2"/>
</g>
<g fill="#ca6125">
<circle cx="410.2" cy="235.0" r="6.7"/>
</g>
<g fill="#ca6025">
<circle cx="414.5" cy="229.7" r="7.4"/>
</g>
<g fill="#fcd793">
<circle cx="552.7" cy="179.5" r="1.7"/>
</g>
<g fill="#f5a956">
<circle cx="403.5" cy="246.7" r="4.1"/>
</g>
<g fill="#f09946">
<circle cx="403.1" cy="238.6" r="4.0"/>
</g>
<g fill="#f5a855">
<circle cx="559.9" cy="184.8" r="2.8"/>
</g>
<g fill="#c15922">
<circle cx="433.6" cy="223.2" r="7.5"/>
</g>
<g fill="#fde3a7" fill-opacity=".55">
<circle cx="393.7" cy="241.0" r="1.6"/>
</g>
<g fill="#f2a14e">
<circle cx="387.9" cy="254.4" r="2.7"/>
</g>
<g fill="#c55c23">
<circle cx="389.7" cy="238.9" r="7.2"/>
</g>
<g fill="#d86f2c">
<circle cx="423.7" cy="231.9" r="5.9"/>
</g>
<g fill="#d26929">
<circle cx="398.3" cy="239.7" r="6.0"/>
</g>
<g fill="#ec8e3d">
<circle cx="417.3" cy="235.7" r="4.1"/>
</g>
<g fill="#f8b460">
<circle cx="559.4" cy="185.3" r="2.0"/>
</g>
<g fill="#e9893b">
<circle cx="557.3" cy="182.7" r="3.4"/>
</g>
<g fill="#f09a47">
<circle cx="421.0" cy="236.8" r="3.6"/>
</g>
<g fill="#d9712d">
<circle cx="431.0" cy="240.2" r="5.0"/>
</g>
<g fill="#9f431a">
<circle cx="431.5" cy="238.7" r="9.3"/>
</g>
<g fill="#f7af5c">
<circle cx="558.1" cy="193.2" r="2.0"/>
</g>
<g fill="#c75e24">
<circle cx="421.8" cy="231.6" r="6.0"/>
</g>
<g fill="#fac071">
<circle cx="400.5" cy="244.0" r="2.8"/>
</g>
<g fill="#f4a754">
<circle cx="403.2" cy="248.8" r="3.2"/>
</g>
<g fill="#f5aa56">
<circle cx="559.5" cy="196.8" r="2.9"/>
</g>
<g fill="#d86f2c">
<circle cx="405.5" cy="240.3" r="5.7"/>
</g>
<g fill="#f4a753">
<circle cx="393.2" cy="243.6" r="3.5"/>
</g>
<g fill="#fcd48e" fill-opacity=".55">
<circle cx="562.3" cy="194.0" r="1.3"/>
</g>
<g fill="#fcd48f">
<circle cx="561.0" cy="185.7" r="1.7"/>
</g>
<g fill="#fdde9d" fill-opacity=".55">
<circle cx="403.6" cy="249.4" r="1.4"/>
</g>
<g fill="#fac374">
<circle cx="391.1" cy="250.3" r="3.1"/>
</g>
<g fill="#d36929">
<circle cx="402.8" cy="247.2" r="5.0"/>
</g>
<g fill="#dc742f">
<circle cx="398.5" cy="238.3" r="4.5"/>
</g>
<g fill="#f8b460">
<circle cx="400.4" cy="244.6" r="3.8"/>
</g>
<g fill="#f3a451">
<circle cx="390.7" cy="251.5" r="4.5"/>
</g>
<g fill="#b9521f">
<circle cx="406.0" cy="245.0" r="7.5"/>
</g>
<g fill="#ad4b1d">
<circle cx="403.1" cy="237.6" r="9.3"/>
</g>
<g fill="#f9ba67">
<circle cx="399.7" cy="241.7" r="3.5"/>
</g>
<g fill="#f4a855">
<circle cx="401.8" cy="246.0" r="2.9"/>
</g>
<g fill="#e07a32">
<circle cx="393.9" cy="242.8" r="4.4"/>
</g>
<g fill="#fde3a7">
<circle cx="400.1" cy="255.1" r="1.8"/>
</g>
<g fill="#fcd38d">
<circle cx="395.0" cy="253.8" r="2.2"/>
</g>
<g fill="#cc6226">
<circle cx="417.1" cy="247.9" r="6.9"/>
</g>
<g fill="#ae4c1d">
<circle cx="406.7" cy="237.2" r="8.3"/>
</g>
<g fill="#e58236">
<circle cx="405.4" cy="240.2" r="3.6"/>
</g>
<g fill="#f4a855">
<circle cx="403.4" cy="251.7" r="3.5"/>
</g>
<g fill="#fac374">
<circle cx="403.9" cy="239.3" r="1.8"/>
</g>
<g fill="#c85f24">
<circle cx="396.7" cy="246.5" r="7.3"/>
</g>
<g fill="#db722e">
<circle cx="385.0" cy="253.1" r="4.8"/>
</g>
<g fill="#984019">
<circle cx="424.8" cy="230.0" r="10.9"/>
</g>
<g fill="#de7630">
<circle cx="395.9" cy="252.6" r="4.9"/>
</g>
<g fill="#be5721">
<circle cx="389.2" cy="244.6" r="8.1"/>
</g>
<g fill="#f8b35f">
<circle cx="409.6" cy="253.0" r="2.4"/>
</g>
<g fill="#cf6527">
<circle cx="385.5" cy="244.7" r="6.7"/>
</g>
<g fill="#fcd28b">
<circle cx="402.6" cy="241.9" r="1.7"/>
</g>
<g fill="#a1441b">
<circle cx="398.7" cy="240.7" r="11.0"/>
</g>
<g fill="#b34f1e">
<circle cx="400.1" cy="256.8" r="7.5"/>
</g>
<g fill="#f9b763">
<circle cx="546.8" cy="191.1" r="2.1"/>
</g>
<g fill="#c45c23">
<circle cx="421.8" cy="234.0" r="7.2"/>
</g>
<g fill="#ef9543">
<circle cx="417.3" cy="248.3" r="4.0"/>
</g>
<g fill="#f9ba68">
<circle cx="548.6" cy="194.3" r="2.0"/>
</g>
<g fill="#f19c49">
<circle cx="384.0" cy="262.9" r="2.7"/>
</g>
<g fill="#f9b561">
<circle cx="400.6" cy="256.1" r="2.6"/>
</g>
<g fill="#bb5420">
<circle cx="417.2" cy="249.9" r="7.1"/>
</g>
<g fill="#c65d24">
<circle cx="423.5" cy="244.3" r="6.2"/>
</g>
<g fill="#cd6326">
<circle cx="412.8" cy="244.4" r="5.7"/>
</g>
<g fill="#d9702d">
<circle cx="403.7" cy="241.6" r="5.7"/>
</g>
<g fill="#ef9644">
<circle cx="392.0" cy="251.7" r="3.4"/>
</g>
<g fill="#973f19">
<circle cx="396.0" cy="244.6" r="11.0"/>
</g>
<g fill="#f09a48">
<circle cx="415.2" cy="246.5" r="3.1"/>
</g>
<g fill="#fbcc83">
<circle cx="560.3" cy="193.7" r="1.7"/>
</g>
<g fill="#d16728">
<circle cx="390.8" cy="245.9" r="6.7"/>
</g>
<g fill="#e07831">
<circle cx="392.2" cy="248.3" r="4.8"/>
</g>
<g fill="#f3a451">
<circle cx="398.0" cy="248.5" r="3.0"/>
</g>
<g fill="#d56c2b">
<circle cx="403.3" cy="251.8" r="5.3"/>
</g>
<g fill="#fee7b0" fill-opacity=".55">
<circle cx="400.1" cy="244.2" r="1.1"/>
</g>
<g fill="#f9b763">
<circle cx="563.9" cy="191.4" r="1.8"/>
</g>
<g fill="#fac375">
<circle cx="406.4" cy="252.4" r="2.8"/>
</g>
<g fill="#d36a2a">
<circle cx="429.5" cy="235.1" r="5.5"/>
</g>
<g fill="#fac375">
<circle cx="397.8" cy="247.8" r="2.1"/>
</g>
<g fill="#f6ae5b">
<circle cx="425.1" cy="241.2" r="2.6"/>
</g>
<g fill="#f6ad59">
<circle cx="399.8" cy="252.5" r="2.7"/>
</g>
<g fill="#fcd28b" fill-opacity=".55">
<circle cx="393.5" cy="255.0" r="1.6"/>
</g>
<g fill="#f4a653">
<circle cx="400.2" cy="247.6" r="3.3"/>
</g>
<g fill="#f3a451">
<circle cx="396.4" cy="244.9" r="3.3"/>
</g>
<g fill="#f7af5b">
<circle cx="397.0" cy="256.0" r="2.8"/>
</g>
<g fill="#fac070">
<circle cx="397.0" cy="253.5" r="2.3"/>
</g>
<g fill="#983f19">
<circle cx="405.3" cy="241.6" r="11.0"/>
</g>
<g fill="#f19d4b">
<circle cx="389.8" cy="248.7" r="3.3"/>
</g>
<g fill="#f9b864">
<circle cx="387.9" cy="261.2" r="2.2"/>
</g>
<g fill="#f8b460">
<circle cx="403.9" cy="244.0" r="2.8"/>
</g>
<g fill="#e9893b">
<circle cx="401.2" cy="245.6" r="3.6"/>
</g>
<g fill="#aa491c">
<circle cx="387.4" cy="258.0" r="8.4"/>
</g>
<g fill="#b14d1e">
<circle cx="392.9" cy="252.8" r="7.8"/>
</g>
<g fill="#fcd28c">
<circle cx="392.8" cy="263.9" r="1.8"/>
</g>
<g fill="#f5aa57">
<circle cx="398.1" cy="258.4" r="4.2"/>
</g>
<g fill="#e17b32">
<circle cx="414.4" cy="240.9" r="3.8"/>
</g>
<g fill="#c15922">
<circle cx="427.5" cy="245.3" r="6.7"/>
</g>
<g fill="#feefc6" fill-opacity=".55">
<circle cx="393.7" cy="262.8" r="0.7"/>
</g>
<g fill="#fcd894">
<circle cx="394.2" cy="251.5" r="1.8"/>
</g>
<g fill="#a3451b">
<circle cx="432.3" cy="243.3" r="8.7"/>
</g>
<g fill="#fbd088">
<circle cx="558.7" cy="193.5" r="1.9"/>
</g>
<g fill="#bb5420">
<circle cx="433.1" cy="235.7" r="8.5"/>
</g>
<g fill="#e07931">
<circle cx="421.3" cy="240.0" r="4.7"/>
</g>
<g fill="#db722e">
<circle cx="388.3" cy="252.6" r="4.8"/>
</g>
<g fill="#fbc97e">
<circle cx="437.4" cy="246.3" r="2.0"/>
</g>
<g fill="#c05821">
<circle cx="424.5" cy="254.1" r="7.9"/>
</g>
<g fill="#e68438">
<circle cx="433.6" cy="241.4" r="4.6"/>
</g>
<g fill="#e78538">
<circle cx="429.8" cy="239.2" r="4.6"/>
</g>
<g fill="#9f431a">
<circle cx="385.4" cy="252.7" r="9.5"/>
</g>
<g fill="#fac578" fill-opacity=".55">
<circle cx="385.0" cy="266.4" r="1.5"/>
</g>
<g fill="#c65d24">
<circle cx="404.9" cy="256.5" r="6.8"/>
</g>
<g fill="#f19c49">
<circle cx="401.9" cy="249.8" r="3.6"/>
</g>
<g fill="#a0441b">
<circle cx="423.4" cy="243.6" r="11.0"/>
</g>
<g fill="#cc6226">
<circle cx="418.2" cy="242.7" r="6.9"/>
</g>
<g fill="#fcda97" fill-opacity=".55">
<circle cx="383.1" cy="259.1" r="1.4"/>
</g>
<g fill="#913c18">
<circle cx="397.2" cy="249.4" r="11.0"/>
</g>
<g fill="#ef9543">
<circle cx="428.3" cy="244.6" r="3.9"/>
</g>
<g fill="#f9ba68">
<circle cx="399.0" cy="256.9" r="3.2"/>
</g>
<g fill="#cd6326">
<circle cx="426.1" cy="251.7" r="7.0"/>
</g>
<g fill="#d26929">
<circle cx="392.4" cy="251.2" r="5.9"/>
</g>
<g fill="#fac274">
<circle cx="384.9" cy="262.9" r="1.7"/>
</g>
<g fill="#d66d2b">
<circle cx="427.8" cy="256.7" r="4.8"/>
</g>
<g fill="#fcdb98" fill-opacity=".55">
<circle cx="393.8" cy="268.4" r="1.1"/>
</g>
<g fill="#b8511f">
<circle cx="426.9" cy="257.0" r="7.6"/>
</g>
<g fill="#f9b967">
<circle cx="393.2" cy="252.1" r="3.1"/>
</g>
<g fill="#e58236">
<circle cx="403.7" cy="248.3" r="3.5"/>
</g>
<g fill="#f3a350">
<circle cx="409.9" cy="258.4" r="3.2"/>
</g>
<g fill="#eb8d3d">
<circle cx="433.2" cy="253.6" r="3.9"/>
</g>
<g fill="#fbcc83" fill-opacity=".55">
<circle cx="405.0" cy="265.4" r="1.3"/>
</g>
<g fill="#d36a29">
<circle cx="405.7" cy="253.1" r="5.3"/>
</g>
<g fill="#fddd9c" fill-opacity=".55">
<circle cx="400.3" cy="264.8" r="1.3"/>
</g>
<g fill="#d06628">
<circle cx="418.8" cy="258.1" r="6.6"/>
</g>
<g fill="#eb8c3c">
<circle cx="429.5" cy="247.1" r="4.5"/>
</g>
<g fill="#d26929">
<circle cx="417.5" cy="258.3" r="5.2"/>
</g>
<g fill="#cd6326">
<circle cx="415.9" cy="250.7" r="6.8"/>
</g>
<g fill="#e17a32">
<circle cx="413.2" cy="255.0" r="5.1"/>
</g>
<g fill="#feecbd" fill-opacity=".55">
<circle cx="392.0" cy="266.2" r="0.7"/>
</g>
<g fill="#feebba" fill-opacity=".55">
<circle cx="403.7" cy="252.9" r="1.1"/>
</g>
<g fill="#b24e1e">
<circle cx="425.5" cy="247.2" r="7.5"/>
</g>
<g fill="#fcd590" fill-opacity=".55">
<circle cx="401.1" cy="261.1" r="1.6"/>
</g>
<g fill="#e88739">
<circle cx="402.5" cy="255.2" r="3.3"/>
</g>
<g fill="#fcd58f" fill-opacity=".55">
<circle cx="393.1" cy="263.8" r="1.3"/>
</g>
<g fill="#d36a2a">
<circle cx="431.0" cy="246.2" r="5.0"/>
</g>
<g fill="#cc6226">
<circle cx="412.2" cy="259.7" r="6.9"/>
</g>
<g fill="#ba531f">
<circle cx="395.3" cy="256.5" r="7.9"/>
</g>
<g fill="#f8b25f">
<circle cx="393.0" cy="266.2" r="1.8"/>
</g>
<g fill="#e48136">
<circle cx="408.0" cy="252.9" r="4.9"/>
</g>
<g fill="#f09a47">
<circle cx="411.7" cy="263.6" r="3.6"/>
</g>
<g fill="#9c421a">
<circle cx="425.9" cy="251.6" r="12.0"/>
</g>
<g fill="#ba531f">
<circle cx="417.5" cy="248.1" r="7.8"/>
</g>
<g fill="#df7730">
<circle cx="416.1" cy="263.0" r="4.0"/>
</g>
<g fill="#c65d23">
<circle cx="414.6" cy="261.5" r="6.8"/>
</g>
<g fill="#fcd48f">
<circle cx="414.9" cy="262.7" r="1.8"/>
</g>
<g fill="#ef9644">
<circle cx="409.1" cy="260.4" r="4.0"/>
</g>
<g fill="#fbcb80">
<circle cx="405.1" cy="255.2" r="2.4"/>
</g>
<g fill="#d56b2a">
<circle cx="421.9" cy="261.6" r="5.0"/>
</g>
<g fill="#fac273">
<circle cx="401.9" cy="255.8" r="3.0"/>
</g>
<g fill="#e48035">
<circle cx="409.3" cy="255.8" r="3.7"/>
</g>
<g fill="#bc5420">
<circle cx="403.6" cy="257.0" r="7.7"/>
</g>
<g fill="#f4a754">
<circle cx="452.7" cy="251.0" r="2.9"/>
</g>
<g fill="#d8702c">
<circle cx="450.5" cy="255.4" r="4.7"/>
</g>
<g fill="#e68337">
<circle cx="431.6" cy="257.6" r="3.7"/>
</g>
<g fill="#f19b48">
<circle cx="426.8" cy="259.4" r="3.3"/>
</g>
<g fill="#c25a22">
<circle cx="413.7" cy="255.1" r="7.5"/>
</g>
<g fill="#fabf6f">
<circle cx="405.2" cy="256.6" r="2.2"/>
</g>
<g fill="#a3451b">
<circle cx="426.7" cy="252.9" r="9.3"/>
</g>
<g fill="#d46b2a">
<circle cx="453.8" cy="255.9" r="4.8"/>
</g>
<g fill="#f7b25e">
<circle cx="390.4" cy="271.9" r="1.8"/>
</g>
<g fill="#d16728">
<circle cx="409.6" cy="257.7" r="5.7"/>
</g>
<g fill="#cd6326">
<circle cx="418.8" cy="256.8" r="6.9"/>
</g>
<g fill="#cb6125">
<circle cx="426.2" cy="264.8" r="6.5"/>
</g>
<g fill="#fde3a7" fill-opacity=".55">
<circle cx="403.9" cy="262.0" r="1.0"/>
</g>
<g fill="#fde3a8" fill-opacity=".55">
<circle cx="407.8" cy="261.7" r="1.2"/>
</g>
<g fill="#f9bc6a">
<circle cx="388.3" cy="273.1" r="1.8"/>
</g>
<g fill="#feefc6" fill-opacity=".55">
<circle cx="410.7" cy="267.9" r="0.8"/>
</g>
<g fill="#ca6125">
<circle cx="419.4" cy="256.7" r="5.9"/>
</g>
<g fill="#eb8d3d">
<circle cx="417.1" cy="265.5" r="3.3"/>
</g>
<g fill="#c75e24">
<circle cx="425.7" cy="251.9" r="6.1"/>
</g>
<g fill="#fee6b0" fill-opacity=".55">
<circle cx="394.6" cy="272.1" r="0.8"/>
</g>
<g fill="#f9b764">
<circle cx="391.5" cy="277.7" r="2.0"/>
</g>
<g fill="#8d3a17">
<circle cx="427.1" cy="251.3" r="11.0"/>
</g>
<g fill="#ea8a3b">
<circle cx="413.6" cy="256.6" r="3.3"/>
</g>
<g fill="#ca6125">
<circle cx="424.6" cy="257.9" r="6.5"/>
</g>
<g fill="#e27c33">
<circle cx="429.4" cy="256.5" r="4.6"/>
</g>
<g fill="#b44f1e">
<circle cx="412.1" cy="265.8" r="8.7"/>
</g>
<g fill="#ed903f">
<circle cx="432.7" cy="254.1" r="2.8"/>
</g>
<g fill="#e58237">
<circle cx="454.3" cy="252.8" r="3.7"/>
</g>
<g fill="#a2451b">
<circle cx="425.1" cy="254.5" r="9.9"/>
</g>
<g fill="#f2a04e">
<circle cx="448.0" cy="261.7" r="2.4"/>
</g>
<g fill="#ef9442">
<circle cx="416.4" cy="256.9" r="4.1"/>
</g>
<g fill="#c15822">
<circle cx="418.8" cy="264.0" r="7.9"/>
</g>
<g fill="#ce6426">
<circle cx="420.4" cy="256.5" r="6.9"/>
</g>
<g fill="#ee9240">
<circle cx="424.5" cy="264.5" r="4.2"/>
</g>
<g fill="#f9b662">
<circle cx="390.9" cy="269.1" r="1.6"/>
</g>
<g fill="#d86f2c">
<circle cx="452.0" cy="259.3" r="6.0"/>
</g>
<g fill="#f4a653">
<circle cx="408.8" cy="263.3" r="2.5"/>
</g>
<g fill="#fbcf87" fill-opacity=".55">
<circle cx="394.3" cy="275.3" r="1.3"/>
</g>
<g fill="#fde2a6" fill-opacity=".55">
<circle cx="391.4" cy="277.4" r="1.3"/>
</g>
<g fill="#de762f">
<circle cx="447.8" cy="256.9" r="4.5"/>
</g>
<g fill="#f29f4c">
<circle cx="418.1" cy="260.5" r="2.4"/>
</g>
<g fill="#d9712d">
<circle cx="423.4" cy="272.4" r="5.3"/>
</g>
<g fill="#fee8b3" fill-opacity=".55">
<circle cx="391.6" cy="274.8" r="1.0"/>
</g>
<g fill="#fcd38d" fill-opacity=".55">
<circle cx="393.1" cy="268.9" r="1.2"/>
</g>
<g fill="#ca6025">
<circle cx="426.0" cy="263.1" r="7.2"/>
</g>
<g fill="#ea8b3c">
<circle cx="450.8" cy="265.4" r="4.6"/>
</g>
<g fill="#ee9240">
<circle cx="449.2" cy="257.0" r="3.0"/>
</g>
<g fill="#cf6627">
<circle cx="416.7" cy="262.2" r="6.8"/>
</g>
<g fill="#db722e">
<circle cx="427.4" cy="258.5" r="5.1"/>
</g>
<g fill="#d9702d">
<circle cx="416.6" cy="261.3" r="5.0"/>
</g>
<g fill="#eb8c3d">
<circle cx="410.5" cy="266.0" r="3.6"/>
</g>
<g fill="#e07831">
<circle cx="432.5" cy="255.7" r="5.0"/>
</g>
<g fill="#fac171">
<circle cx="410.4" cy="269.3" r="2.1"/>
</g>
<g fill="#e27c33">
<circle cx="429.3" cy="260.4" r="4.7"/>
</g>
<g fill="#ea8a3b">
<circle cx="418.6" cy="264.7" r="3.9"/>
</g>
<g fill="#f9b864">
<circle cx="454.6" cy="254.1" r="2.6"/>
</g>
<g fill="#ea8a3c">
<circle cx="452.2" cy="251.8" r="3.4"/>
</g>
<g fill="#e07a32">
<circle cx="445.9" cy="262.9" r="4.7"/>
</g>
<g fill="#cc6226">
<circle cx="452.7" cy="256.3" r="6.0"/>
</g>
<g fill="#e27c33">
<circle cx="449.8" cy="256.5" r="4.8"/>
</g>
<g fill="#e78639">
<circle cx="453.0" cy="257.8" r="4.6"/>
</g>
<g fill="#d26929">
<circle cx="425.9" cy="268.5" r="6.0"/>
</g>
<g fill="#e47f35">
<circle cx="450.5" cy="261.7" r="4.9"/>
</g>
<g fill="#f2a14e">
<circle cx="448.0" cy="272.6" r="3.2"/>
</g>
<g fill="#e88739">
<circle cx="447.7" cy="270.4" r="4.7"/>
</g>
<g fill="#e48035">
<circle cx="451.8" cy="263.2" r="3.6"/>
</g>
<g fill="#ee9240">
<circle cx="448.6" cy="262.0" r="3.9"/>
</g>
<g fill="#d76f2c">
<circle cx="418.8" cy="279.2" r="5.5"/>
</g>
<g fill="#c45b23">
<circle cx="421.2" cy="278.1" r="7.0"/>
</g>
<g fill="#d76f2c">
<circle cx="426.4" cy="272.2" r="5.5"/>
</g>
<g fill="#f5ab58">
<circle cx="426.4" cy="268.4" r="2.4"/>
</g>
<g fill="#dd752f">
<circle cx="451.9" cy="259.5" r="5.0"/>
</g>
<g fill="#e27d34">
<circle cx="417.4" cy="275.0" r="4.5"/>
</g>
<g fill="#c05821">
<circle cx="423.9" cy="274.6" r="7.0"/>
</g>
<g fill="#dd752f">
<circle cx="422.3" cy="271.8" r="5.0"/>
</g>
<g fill="#cb6125">
<circle cx="412.4" cy="285.9" r="6.5"/>
</g>
<g fill="#e68438">
<circle cx="445.7" cy="267.6" r="4.6"/>
</g>
<g fill="#f7b05c">
<circle cx="449.5" cy="265.8" r="2.4"/>
</g>
<g fill="#f6ac59">
<circle cx="450.4" cy="268.5" r="3.1"/>
</g>
<g fill="#d26929">
<circle cx="447.4" cy="269.0" r="5.8"/>
</g>
<g fill="#d56c2b">
<circle cx="447.0" cy="272.7" r="5.4"/>
</g>
<g fill="#f9ba67">
<circle cx="448.3" cy="266.7" r="2.4"/>
</g>
<g fill="#d26929">
<circle cx="423.1" cy="274.4" r="6.0"/>
</g>
<g fill="#e58136">
<circle cx="447.7" cy="272.3" r="3.8"/>
</g>
<g fill="#f09947">
<circle cx="447.0" cy="269.6" r="3.3"/>
</g>
<g fill="#f9ba68">
<circle cx="446.7" cy="274.3" r="2.4"/>
</g>
<g fill="#fde1a3" fill-opacity=".55">
<circle cx="631.0" cy="228.0" r="1.1"/>
</g>
<g fill="#fde4aa" fill-opacity=".55">
<circle cx="627.0" cy="224.5" r="1.0"/>
</g>
<g fill="#fcd893" fill-opacity=".55">
<circle cx="615.0" cy="223.6" r="1.3"/>
</g>
<g fill="#d56c2b">
<circle cx="601.3" cy="240.8" r="5.7"/>
</g>
<g fill="#f19c4a">
<circle cx="625.5" cy="226.7" r="3.0"/>
</g>
<g fill="#fcd893" fill-opacity=".55">
<circle cx="628.5" cy="232.5" r="1.3"/>
</g>
<g fill="#f9b763">
<circle cx="634.6" cy="233.0" r="2.1"/>
</g>
<g fill="#f9ba68">
<circle cx="662.6" cy="237.7" r="2.0"/>
</g>
<g fill="#f19c4a">
<circle cx="669.0" cy="241.4" r="3.0"/>
</g>
</g>
<path d="M72.6,342.3 L67.2,337.5 L61.9,332.7 L56.9,327.8 L52.4,322.8 L48.0,317.9 L43.9,312.9 L40.0,307.9 L36.6,302.8 L33.2,297.8 L30.4,292.7 L27.6,287.7 L25.4,282.6 L23.4,277.6 L21.7,272.5 L20.2,267.5 L18.9,262.4 L17.6,257.3 L16.5,252.3 L15.6,247.2 L14.9,242.2 L14.4,237.1 L13.9,232.1 L13.6,227.0 L13.4,221.9 L13.6,216.9 L13.8,211.8 L14.3,206.8 L14.8,201.7 L15.5,196.7 L16.4,191.6 L17.4,186.6 L18.7,181.5 L20.0,176.4 L21.5,171.4 L23.1,166.3 L25.2,161.3 L27.3,156.2 L30.0,151.2 L32.8,146.1 L36.1,141.1 L39.5,136.0 L43.4,131.0 L47.4,126.0 L51.8,121.0 L56.3,116.1 L61.1,111.2 L66.4,106.4 L71.8,101.6 L77.7,96.9 L83.6,92.2 L89.8,87.6 L96.1,83.1 L102.6,78.7 L109.2,74.4 L116.4,70.2 L123.7,66.1 L131.6,62.3 L139.9,58.5 L148.1,55.1 L156.0,52.1 L564.4,52.1 L572.3,55.1 L580.5,58.5 L588.8,62.3 L596.7,66.1 L604.0,70.2 L611.2,74.4 L617.8,78.7 L624.3,83.1 L630.6,87.6 L636.8,92.2 L642.7,96.9 L648.6,101.6 L654.0,106.4 L659.3,111.2 L664.1,116.1 L668.6,121.0 L673.0,126.0 L677.0,131.0 L680.9,136.0 L684.3,141.1 L687.6,146.1 L690.4,151.2 L693.1,156.2 L695.2,161.3 L697.3,166.3 L698.9,171.4 L700.4,176.4 L701.7,181.5 L703.0,186.6 L704.0,191.6 L704.9,196.7 L705.6,201.7 L706.1,206.8 L706.6,211.8 L706.8,216.9 L707.0,221.9 L706.8,227.0 L706.5,232.1 L706.0,237.1 L705.5,242.2 L704.8,247.2 L703.9,252.3 L702.8,257.3 L701.5,262.4 L700.2,267.5 L698.7,272.5 L697.0,277.6 L695.0,282.6 L692.8,287.7 L690.0,292.7 L687.2,297.8 L683.8,302.8 L680.4,307.9 L676.5,312.9 L672.4,317.9 L668.0,322.8 L663.5,327.8 L658.5,332.7 L653.2,337.5 L647.8,342.3Z" fill="none" stroke="#000" stroke-width="1.8" stroke-linejoin="miter"/>
<text transform="translate(13.2,32) scale(1.1,1)" class="L" style="stroke-width:1.3px" font-size="23.5">a</text>
<g id="pb"><rect x="1036.8" y="67.9" width="216.6" height="26.8" fill="#e9dcb9"/>
<rect x="1198.9" y="67.9" width="54.5" height="26.8" fill="#b08a33"/>
<rect x="1010.1" y="101.8" width="243.3" height="26.8" fill="#e9dcb9"/>
<rect x="1171.9" y="101.8" width="81.5" height="26.8" fill="#b08a33"/>
<rect x="990.1" y="135.7" width="263.3" height="26.8" fill="#e9dcb9"/>
<rect x="1142.7" y="135.7" width="110.7" height="26.8" fill="#b08a33"/>
<rect x="981.2" y="169.7" width="272.2" height="26.8" fill="#e9dcb9"/>
<rect x="1108.2" y="169.7" width="145.2" height="26.8" fill="#b08a33"/>
<rect x="979.2" y="203.6" width="274.2" height="26.8" fill="#e9dcb9"/>
<rect x="1082.0" y="203.6" width="171.4" height="26.8" fill="#b08a33"/>
<rect x="955.2" y="237.5" width="298.2" height="26.8" fill="#e9dcb9"/>
<rect x="1051.1" y="237.5" width="202.3" height="26.8" fill="#b08a33"/>
<rect x="930.2" y="271.4" width="323.2" height="26.8" fill="#e9dcb9"/>
<rect x="1018.9" y="271.4" width="234.5" height="26.8" fill="#b08a33"/>
<rect x="942.7" y="305.3" width="310.7" height="26.8" fill="#e9dcb9"/>
<rect x="1006.1" y="305.3" width="247.3" height="26.8" fill="#b08a33"/>
<rect x="949.7" y="339.3" width="303.7" height="26.8" fill="#e9dcb9"/>
<rect x="995.9" y="339.3" width="257.5" height="26.8" fill="#b08a33"/>
<rect x="942.7" y="373.2" width="310.7" height="26.8" fill="#e9dcb9"/>
<rect x="978.2" y="373.2" width="275.2" height="26.8" fill="#b08a33"/>
<rect x="931.5" y="407.1" width="321.9" height="26.8" fill="#e9dcb9"/>
<rect x="957.9" y="407.1" width="295.5" height="26.8" fill="#b08a33"/>
<rect x="923.7" y="441.0" width="329.7" height="26.8" fill="#e9dcb9"/>
<rect x="944.2" y="441.0" width="309.2" height="26.8" fill="#b08a33"/>
<rect x="931.0" y="474.9" width="322.4" height="26.8" fill="#e9dcb9"/>
<rect x="947.2" y="474.9" width="306.2" height="26.8" fill="#b08a33"/>
<rect x="1253.4" y="67.9" width="217.6" height="26.8" fill="#c3dcc0"/>
<rect x="1253.4" y="67.9" width="22.8" height="26.8" fill="#468a36"/>
<rect x="1253.4" y="101.8" width="242.5" height="26.8" fill="#c3dcc0"/>
<rect x="1253.4" y="101.8" width="33.8" height="26.8" fill="#468a36"/>
<rect x="1253.4" y="135.7" width="263.5" height="26.8" fill="#c3dcc0"/>
<rect x="1253.4" y="135.7" width="47.8" height="26.8" fill="#468a36"/>
<rect x="1253.4" y="169.7" width="274.0" height="26.8" fill="#c3dcc0"/>
<rect x="1253.4" y="169.7" width="69.5" height="26.8" fill="#468a36"/>
<rect x="1253.4" y="203.6" width="275.5" height="26.8" fill="#c3dcc0"/>
<rect x="1253.4" y="203.6" width="96.2" height="26.8" fill="#468a36"/>
<rect x="1253.4" y="237.5" width="298.7" height="26.8" fill="#c3dcc0"/>
<rect x="1253.4" y="237.5" width="132.7" height="26.8" fill="#468a36"/>
<rect x="1253.4" y="271.4" width="323.2" height="26.8" fill="#c3dcc0"/>
<rect x="1253.4" y="271.4" width="168.6" height="26.8" fill="#468a36"/>
<rect x="1253.4" y="305.3" width="310.7" height="26.8" fill="#c3dcc0"/>
<rect x="1253.4" y="305.3" width="183.6" height="26.8" fill="#468a36"/>
<rect x="1253.4" y="339.3" width="304.4" height="26.8" fill="#c3dcc0"/>
<rect x="1253.4" y="339.3" width="201.6" height="26.8" fill="#468a36"/>
<rect x="1253.4" y="373.2" width="311.2" height="26.8" fill="#c3dcc0"/>
<rect x="1253.4" y="373.2" width="222.5" height="26.8" fill="#468a36"/>
<rect x="1253.4" y="407.1" width="321.4" height="26.8" fill="#c3dcc0"/>
<rect x="1253.4" y="407.1" width="241.5" height="26.8" fill="#468a36"/>
<rect x="1253.4" y="441.0" width="329.7" height="26.8" fill="#c3dcc0"/>
<rect x="1253.4" y="441.0" width="253.0" height="26.8" fill="#468a36"/>
<rect x="1253.4" y="474.9" width="321.7" height="26.8" fill="#c3dcc0"/>
<rect x="1253.4" y="474.9" width="251.3" height="26.8" fill="#468a36"/>
<line x1="1188.2" y1="81.3" x2="1209.1" y2="81.3" stroke="#000" stroke-width="3"/>
<text class="l" x="1121.7" y="89.0" text-anchor="middle" font-size="23.5">25%</text>
<text class="s" x="1239.6" y="95.0" text-anchor="middle" font-size="24">*</text>
<line x1="1157.4" y1="115.2" x2="1186.2" y2="115.2" stroke="#000" stroke-width="3"/>
<text class="l" x="1104.3" y="122.9" text-anchor="middle" font-size="23.5">34%</text>
<text class="s" x="1232.8" y="128.9" text-anchor="middle" font-size="24">*</text>
<line x1="1126.2" y1="149.1" x2="1158.9" y2="149.1" stroke="#000" stroke-width="3"/>
<text class="l" x="1091.8" y="156.8" text-anchor="middle" font-size="23.5">42%</text>
<text class="s" x="1225.4" y="162.8" text-anchor="middle" font-size="24">*</text>
<line x1="1091.0" y1="183.1" x2="1125.7" y2="183.1" stroke="#000" stroke-width="3"/>
<text class="l" x="1159.4" y="190.8" text-anchor="middle" font-size="23.5">53%</text>
<text class="s" x="1216.9" y="196.8" text-anchor="middle" font-size="24">*</text>
<line x1="1064.8" y1="217.0" x2="1099.5" y2="217.0" stroke="#000" stroke-width="3"/>
<text class="l" x="1141.5" y="224.7" text-anchor="middle" font-size="23.5">62%</text>
<text class="s" x="1209.9" y="230.7" text-anchor="middle" font-size="24">*</text>
<line x1="1031.8" y1="250.9" x2="1070.0" y2="250.9" stroke="#000" stroke-width="3"/>
<text class="l" x="1120.7" y="258.6" text-anchor="middle" font-size="23.5">68%</text>
<text class="s" x="1203.1" y="264.6" text-anchor="middle" font-size="24">*</text>
<line x1="999.1" y1="284.8" x2="1038.3" y2="284.8" stroke="#000" stroke-width="3"/>
<text class="l" x="1100.3" y="292.5" text-anchor="middle" font-size="23.5">73%</text>
<text class="s" x="1194.7" y="298.5" text-anchor="middle" font-size="24">*</text>
<line x1="989.9" y1="318.7" x2="1022.1" y2="318.7" stroke="#000" stroke-width="3"/>
<text class="l" x="1090.5" y="326.4" text-anchor="middle" font-size="23.5">80%</text>
<text class="s" x="1190.7" y="332.4" text-anchor="middle" font-size="24">*</text>
<line x1="981.2" y1="352.7" x2="1010.1" y2="352.7" stroke="#000" stroke-width="3"/>
<text class="l" x="1083.3" y="360.4" text-anchor="middle" font-size="23.5">85%</text>
<text class="s" x="1189.4" y="366.4" text-anchor="middle" font-size="24">*</text>
<line x1="966.4" y1="386.6" x2="989.9" y2="386.6" stroke="#000" stroke-width="3"/>
<text class="l" x="1073.0" y="394.3" text-anchor="middle" font-size="23.5">89%</text>
<text class="s" x="1183.4" y="400.3" text-anchor="middle" font-size="24">*</text>
<line x1="950.2" y1="420.5" x2="966.2" y2="420.5" stroke="#000" stroke-width="3"/>
<text class="l" x="1058.6" y="428.2" text-anchor="middle" font-size="23.5">92%</text>
<text class="s" x="1178.7" y="434.2" text-anchor="middle" font-size="24">*</text>
<line x1="938.2" y1="454.4" x2="950.4" y2="454.4" stroke="#000" stroke-width="3"/>
<text class="l" x="1047.8" y="462.1" text-anchor="middle" font-size="23.5">94%</text>
<text class="s" x="1174.9" y="468.1" text-anchor="middle" font-size="24">*</text>
<line x1="942.0" y1="488.3" x2="952.2" y2="488.3" stroke="#000" stroke-width="3"/>
<text class="l" x="1051.6" y="496.0" text-anchor="middle" font-size="23.5">95%</text>
<text class="s" x="1177.2" y="502.0" text-anchor="middle" font-size="24">*</text>
<line x1="1271.9" y1="81.3" x2="1280.4" y2="81.3" stroke="#000" stroke-width="3"/>
<text class="l" x="1387.8" y="89.0" text-anchor="middle" font-size="23.5">10%</text>
<line x1="1282.2" y1="115.2" x2="1292.4" y2="115.2" stroke="#000" stroke-width="3"/>
<text class="l" x="1402.5" y="122.9" text-anchor="middle" font-size="23.5">14%</text>
<line x1="1292.7" y1="149.1" x2="1309.6" y2="149.1" stroke="#000" stroke-width="3"/>
<text class="l" x="1414.8" y="156.8" text-anchor="middle" font-size="23.5">18%</text>
<line x1="1311.9" y1="183.1" x2="1333.9" y2="183.1" stroke="#000" stroke-width="3"/>
<text class="l" x="1421.1" y="190.8" text-anchor="middle" font-size="23.5">25%</text>
<line x1="1337.6" y1="217.0" x2="1361.6" y2="217.0" stroke="#000" stroke-width="3"/>
<text class="l" x="1422.3" y="224.7" text-anchor="middle" font-size="23.5">35%</text>
<line x1="1366.6" y1="250.9" x2="1405.8" y2="250.9" stroke="#000" stroke-width="3"/>
<text class="l" x="1436.5" y="258.6" text-anchor="middle" font-size="23.5">44%</text>
<line x1="1397.0" y1="284.8" x2="1447.5" y2="284.8" stroke="#000" stroke-width="3"/>
<text class="l" x="1362.3" y="292.5" text-anchor="middle" font-size="23.5">52%</text>
<line x1="1415.3" y1="318.7" x2="1459.0" y2="318.7" stroke="#000" stroke-width="3"/>
<text class="l" x="1372.4" y="326.4" text-anchor="middle" font-size="23.5">59%</text>
<line x1="1436.2" y1="352.7" x2="1473.5" y2="352.7" stroke="#000" stroke-width="3"/>
<text class="l" x="1385.4" y="360.4" text-anchor="middle" font-size="23.5">66%</text>
<line x1="1458.2" y1="386.6" x2="1493.7" y2="386.6" stroke="#000" stroke-width="3"/>
<text class="l" x="1399.8" y="394.3" text-anchor="middle" font-size="23.5">72%</text>
<line x1="1478.9" y1="420.5" x2="1510.9" y2="420.5" stroke="#000" stroke-width="3"/>
<text class="l" x="1411.2" y="428.2" text-anchor="middle" font-size="23.5">75%</text>
<line x1="1491.9" y1="454.4" x2="1521.1" y2="454.4" stroke="#000" stroke-width="3"/>
<text class="l" x="1419.6" y="462.1" text-anchor="middle" font-size="23.5">77%</text>
<line x1="1493.7" y1="488.3" x2="1515.4" y2="488.3" stroke="#000" stroke-width="3"/>
<text class="l" x="1417.6" y="496.0" text-anchor="middle" font-size="23.5">78%</text>
<line x1="907.0" y1="46.0" x2="907.0" y2="524.0" stroke="#6a6a6a" stroke-width="1.6"/>
<line x1="906.2" y1="523.4" x2="1599.5" y2="523.4" stroke="#111" stroke-width="1.2"/>
<line x1="1253.4" y1="46.0" x2="1253.4" y2="523.4" stroke="#111" stroke-width="1.1"/>
<line x1="898.6" y1="81.3" x2="907.0" y2="81.3" stroke="#333" stroke-width="1.1"/>
<text x="888.0" y="89.1" text-anchor="end" font-size="22.4">1960</text>
<line x1="898.6" y1="149.1" x2="907.0" y2="149.1" stroke="#333" stroke-width="1.1"/>
<text x="888.0" y="156.9" text-anchor="end" font-size="22.4">1970</text>
<line x1="898.6" y1="217.0" x2="907.0" y2="217.0" stroke="#333" stroke-width="1.1"/>
<text x="888.0" y="224.8" text-anchor="end" font-size="22.4">1980</text>
<line x1="898.6" y1="284.8" x2="907.0" y2="284.8" stroke="#333" stroke-width="1.1"/>
<text x="888.0" y="292.6" text-anchor="end" font-size="22.4">1990</text>
<line x1="898.6" y1="352.7" x2="907.0" y2="352.7" stroke="#333" stroke-width="1.1"/>
<text x="888.0" y="360.5" text-anchor="end" font-size="22.4">2000</text>
<line x1="898.6" y1="420.5" x2="907.0" y2="420.5" stroke="#333" stroke-width="1.1"/>
<text x="888.0" y="428.3" text-anchor="end" font-size="22.4">2010</text>
<line x1="898.6" y1="488.3" x2="907.0" y2="488.3" stroke="#333" stroke-width="1.1"/>
<text x="888.0" y="496.1" text-anchor="end" font-size="22.4">2020</text>
<line x1="908.4" y1="523.4" x2="908.4" y2="532.0" stroke="#222" stroke-width="1.2"/>
<text x="917.3" y="561.0" text-anchor="middle" font-size="22.4">25</text>
<line x1="984.5" y1="523.4" x2="984.5" y2="532.0" stroke="#222" stroke-width="1.2"/>
<text x="984.5" y="561.0" text-anchor="middle" font-size="22.4">20</text>
<line x1="1051.5" y1="523.4" x2="1051.5" y2="532.0" stroke="#222" stroke-width="1.2"/>
<text x="1051.5" y="561.0" text-anchor="middle" font-size="22.4">15</text>
<line x1="1118.7" y1="523.4" x2="1118.7" y2="532.0" stroke="#222" stroke-width="1.2"/>
<text x="1118.7" y="561.0" text-anchor="middle" font-size="22.4">10</text>
<line x1="1186.1" y1="523.4" x2="1186.1" y2="532.0" stroke="#222" stroke-width="1.2"/>
<text x="1186.1" y="561.0" text-anchor="middle" font-size="22.4">5</text>
<line x1="1320.1" y1="523.4" x2="1320.1" y2="532.0" stroke="#222" stroke-width="1.2"/>
<text x="1320.1" y="561.0" text-anchor="middle" font-size="22.4">5</text>
<line x1="1387.1" y1="523.4" x2="1387.1" y2="532.0" stroke="#222" stroke-width="1.2"/>
<text x="1387.1" y="561.0" text-anchor="middle" font-size="22.4">10</text>
<line x1="1454.0" y1="523.4" x2="1454.0" y2="532.0" stroke="#222" stroke-width="1.2"/>
<text x="1454.0" y="561.0" text-anchor="middle" font-size="22.4">15</text>
<line x1="1520.9" y1="523.4" x2="1520.9" y2="532.0" stroke="#222" stroke-width="1.2"/>
<text x="1520.9" y="561.0" text-anchor="middle" font-size="22.4">20</text>
<line x1="1587.6" y1="523.4" x2="1587.6" y2="532.0" stroke="#222" stroke-width="1.2"/>
<text x="1587.6" y="561.0" text-anchor="middle" font-size="22.4">25</text>
<text x="1253.4" y="592.6" text-anchor="middle" font-size="22.4">Millions of people</text>
<text x="1253.4" y="31.5" text-anchor="middle" font-size="22.4">Current policies</text>
<text transform="translate(820.3,284.7) rotate(-90)" text-anchor="middle" font-size="22.4">Birth year</text>
<text transform="translate(800.8,32.0) scale(1.2,1)" class="L" font-size="23.5">b</text></g>
<g id="pc"><rect x="251.8" y="689.0" width="216.7" height="26.8" fill="#cad8e6"/>
<rect x="414.1" y="689.0" width="54.4" height="26.8" fill="#5580b3"/>
<rect x="225.1" y="722.9" width="243.4" height="26.8" fill="#cad8e6"/>
<rect x="386.4" y="722.9" width="82.1" height="26.8" fill="#5580b3"/>
<rect x="205.1" y="756.8" width="263.4" height="26.8" fill="#cad8e6"/>
<rect x="362.9" y="756.8" width="105.6" height="26.8" fill="#5580b3"/>
<rect x="196.1" y="790.8" width="272.4" height="26.8" fill="#cad8e6"/>
<rect x="342.2" y="790.8" width="126.3" height="26.8" fill="#5580b3"/>
<rect x="194.1" y="824.7" width="274.4" height="26.8" fill="#cad8e6"/>
<rect x="322.2" y="824.7" width="146.3" height="26.8" fill="#5580b3"/>
<rect x="170.2" y="858.6" width="298.3" height="26.8" fill="#cad8e6"/>
<rect x="296.5" y="858.6" width="172.0" height="26.8" fill="#5580b3"/>
<rect x="145.5" y="892.5" width="323.0" height="26.8" fill="#cad8e6"/>
<rect x="275.1" y="892.5" width="193.4" height="26.8" fill="#5580b3"/>
<rect x="157.9" y="926.4" width="310.6" height="26.8" fill="#cad8e6"/>
<rect x="271.8" y="926.4" width="196.7" height="26.8" fill="#5580b3"/>
<rect x="164.7" y="960.4" width="303.8" height="26.8" fill="#cad8e6"/>
<rect x="268.6" y="960.4" width="199.9" height="26.8" fill="#5580b3"/>
<rect x="157.7" y="994.3" width="310.8" height="26.8" fill="#cad8e6"/>
<rect x="260.1" y="994.3" width="208.4" height="26.8" fill="#5580b3"/>
<rect x="146.7" y="1028.2" width="321.8" height="26.8" fill="#cad8e6"/>
<rect x="252.1" y="1028.2" width="216.4" height="26.8" fill="#5580b3"/>
<rect x="138.7" y="1062.1" width="329.8" height="26.8" fill="#cad8e6"/>
<rect x="247.1" y="1062.1" width="221.4" height="26.8" fill="#5580b3"/>
<rect x="146.0" y="1096.0" width="322.5" height="26.8" fill="#cad8e6"/>
<rect x="252.3" y="1096.0" width="216.2" height="26.8" fill="#5580b3"/>
<rect x="468.5" y="689.0" width="216.5" height="26.8" fill="#d8b4b2"/>
<rect x="468.5" y="689.0" width="54.4" height="26.8" fill="#80160f"/>
<rect x="468.5" y="722.9" width="243.2" height="26.8" fill="#d8b4b2"/>
<rect x="468.5" y="722.9" width="79.6" height="26.8" fill="#80160f"/>
<rect x="468.5" y="756.8" width="263.2" height="26.8" fill="#d8b4b2"/>
<rect x="468.5" y="756.8" width="111.6" height="26.8" fill="#80160f"/>
<rect x="468.5" y="790.8" width="272.4" height="26.8" fill="#d8b4b2"/>
<rect x="468.5" y="790.8" width="141.5" height="26.8" fill="#80160f"/>
<rect x="468.5" y="824.7" width="274.4" height="26.8" fill="#d8b4b2"/>
<rect x="468.5" y="824.7" width="170.5" height="26.8" fill="#80160f"/>
<rect x="468.5" y="858.6" width="297.6" height="26.8" fill="#d8b4b2"/>
<rect x="468.5" y="858.6" width="208.7" height="26.8" fill="#80160f"/>
<rect x="468.5" y="892.5" width="322.8" height="26.8" fill="#d8b4b2"/>
<rect x="468.5" y="892.5" width="245.4" height="26.8" fill="#80160f"/>
<rect x="468.5" y="926.4" width="310.3" height="26.8" fill="#d8b4b2"/>
<rect x="468.5" y="926.4" width="254.9" height="26.8" fill="#80160f"/>
<rect x="468.5" y="960.4" width="303.6" height="26.8" fill="#d8b4b2"/>
<rect x="468.5" y="960.4" width="269.1" height="26.8" fill="#80160f"/>
<rect x="468.5" y="994.3" width="310.3" height="26.8" fill="#d8b4b2"/>
<rect x="468.5" y="994.3" width="289.9" height="26.8" fill="#80160f"/>
<rect x="468.5" y="1028.2" width="321.6" height="26.8" fill="#d8b4b2"/>
<rect x="468.5" y="1028.2" width="306.6" height="26.8" fill="#80160f"/>
<rect x="468.5" y="1062.1" width="329.6" height="26.8" fill="#d8b4b2"/>
<rect x="468.5" y="1062.1" width="319.3" height="26.8" fill="#80160f"/>
<rect x="468.5" y="1096.0" width="322.3" height="26.8" fill="#d8b4b2"/>
<rect x="468.5" y="1096.0" width="315.6" height="26.8" fill="#80160f"/>
<line x1="403.1" y1="702.4" x2="424.9" y2="702.4" stroke="#000" stroke-width="3"/>
<text class="l" x="336.4" y="710.1" text-anchor="middle" font-size="23.5">25%</text>
<line x1="370.4" y1="736.3" x2="402.1" y2="736.3" stroke="#000" stroke-width="3"/>
<text class="l" x="319.9" y="744.0" text-anchor="middle" font-size="23.5">34%</text>
<line x1="343.0" y1="770.2" x2="383.2" y2="770.2" stroke="#000" stroke-width="3"/>
<text class="l" x="307.0" y="777.9" text-anchor="middle" font-size="23.5">40%</text>
<line x1="320.5" y1="804.2" x2="364.2" y2="804.2" stroke="#000" stroke-width="3"/>
<text class="l" x="291.8" y="811.9" text-anchor="middle" font-size="23.5">46%</text>
<line x1="303.0" y1="838.1" x2="341.0" y2="838.1" stroke="#000" stroke-width="3"/>
<text class="l" x="372.3" y="845.8" text-anchor="middle" font-size="23.5">53%</text>
<line x1="276.0" y1="872.0" x2="317.0" y2="872.0" stroke="#000" stroke-width="3"/>
<text class="l" x="358.0" y="879.7" text-anchor="middle" font-size="23.5">58%</text>
<line x1="252.1" y1="905.9" x2="298.0" y2="905.9" stroke="#000" stroke-width="3"/>
<text class="l" x="342.7" y="913.6" text-anchor="middle" font-size="23.5">60%</text>
<line x1="248.3" y1="939.8" x2="295.0" y2="939.8" stroke="#000" stroke-width="3"/>
<text class="l" x="339.9" y="947.5" text-anchor="middle" font-size="23.5">63%</text>
<line x1="244.6" y1="973.8" x2="292.5" y2="973.8" stroke="#000" stroke-width="3"/>
<text class="l" x="337.5" y="981.5" text-anchor="middle" font-size="23.5">66%</text>
<line x1="234.1" y1="1007.7" x2="285.5" y2="1007.7" stroke="#000" stroke-width="3"/>
<text class="l" x="333.0" y="1015.4" text-anchor="middle" font-size="23.5">67%</text>
<line x1="224.1" y1="1041.6" x2="280.0" y2="1041.6" stroke="#000" stroke-width="3"/>
<text class="l" x="325.9" y="1049.3" text-anchor="middle" font-size="23.5">67%</text>
<line x1="216.9" y1="1075.5" x2="277.6" y2="1075.5" stroke="#000" stroke-width="3"/>
<text class="l" x="323.1" y="1083.2" text-anchor="middle" font-size="23.5">67%</text>
<line x1="222.9" y1="1109.4" x2="281.5" y2="1109.4" stroke="#000" stroke-width="3"/>
<text class="l" x="325.9" y="1117.1" text-anchor="middle" font-size="23.5">67%</text>
<line x1="512.7" y1="702.4" x2="533.1" y2="702.4" stroke="#000" stroke-width="3"/>
<text class="l" x="600.6" y="710.1" text-anchor="middle" font-size="23.5">25%</text>
<line x1="535.1" y1="736.3" x2="561.6" y2="736.3" stroke="#000" stroke-width="3"/>
<text class="l" x="618.4" y="744.0" text-anchor="middle" font-size="23.5">33%</text>
<line x1="565.4" y1="770.2" x2="594.6" y2="770.2" stroke="#000" stroke-width="3"/>
<text class="l" x="627.4" y="777.9" text-anchor="middle" font-size="23.5">42%</text>
<line x1="595.8" y1="804.2" x2="624.3" y2="804.2" stroke="#000" stroke-width="3"/>
<text class="l w" x="560.2" y="811.9" text-anchor="middle" font-size="23.5">52%</text>
<line x1="623.8" y1="838.1" x2="654.7" y2="838.1" stroke="#000" stroke-width="3"/>
<text class="l w" x="575.8" y="845.8" text-anchor="middle" font-size="23.5">62%</text>
<line x1="662.0" y1="872.0" x2="693.0" y2="872.0" stroke="#000" stroke-width="3"/>
<text class="l w" x="600.8" y="879.7" text-anchor="middle" font-size="23.5">70%</text>
<text class="s w" x="520.4" y="885.7" text-anchor="middle" font-size="24">*</text>
<line x1="697.9" y1="905.9" x2="729.9" y2="905.9" stroke="#000" stroke-width="3"/>
<text class="l w" x="630.2" y="913.6" text-anchor="middle" font-size="23.5">76%</text>
<text class="s w" x="530.4" y="919.6" text-anchor="middle" font-size="24">*</text>
<line x1="710.4" y1="939.8" x2="736.4" y2="939.8" stroke="#000" stroke-width="3"/>
<text class="l w" x="636.9" y="947.5" text-anchor="middle" font-size="23.5">82%</text>
<text class="s w" x="532.1" y="953.5" text-anchor="middle" font-size="24">*</text>
<line x1="727.7" y1="973.8" x2="747.9" y2="973.8" stroke="#000" stroke-width="3"/>
<text class="l w" x="645.4" y="981.5" text-anchor="middle" font-size="23.5">89%</text>
<text class="s w" x="536.1" y="987.5" text-anchor="middle" font-size="24">*</text>
<line x1="750.1" y1="1007.7" x2="766.6" y2="1007.7" stroke="#000" stroke-width="3"/>
<text class="l w" x="653.5" y="1015.4" text-anchor="middle" font-size="23.5">93%</text>
<text class="s w" x="541.9" y="1021.4" text-anchor="middle" font-size="24">*</text>
<line x1="768.1" y1="1041.6" x2="782.3" y2="1041.6" stroke="#000" stroke-width="3"/>
<text class="l w" x="660.7" y="1049.3" text-anchor="middle" font-size="23.5">95%</text>
<text class="s w" x="545.6" y="1055.3" text-anchor="middle" font-size="24">*</text>
<line x1="783.1" y1="1075.5" x2="793.1" y2="1075.5" stroke="#000" stroke-width="3"/>
<text class="l w" x="669.7" y="1083.2" text-anchor="middle" font-size="23.5">97%</text>
<text class="s w" x="547.6" y="1089.2" text-anchor="middle" font-size="24">*</text>
<line x1="780.8" y1="1109.4" x2="787.8" y2="1109.4" stroke="#000" stroke-width="3"/>
<text class="l w" x="676.5" y="1117.1" text-anchor="middle" font-size="23.5">98%</text>
<text class="s w" x="547.6" y="1123.1" text-anchor="middle" font-size="24">*</text>
<line x1="121.5" y1="667.0" x2="121.5" y2="1145.1" stroke="#333" stroke-width="1.3"/>
<line x1="120.85" y1="1144.5" x2="814.6" y2="1144.5" stroke="#111" stroke-width="1.2"/>
<line x1="468.5" y1="667.0" x2="468.5" y2="1144.5" stroke="#111" stroke-width="1.1"/>
<line x1="113.1" y1="702.4" x2="121.5" y2="702.4" stroke="#333" stroke-width="1.1"/>
<text x="102.5" y="710.2" text-anchor="end" font-size="22.4">1960</text>
<line x1="113.1" y1="770.2" x2="121.5" y2="770.2" stroke="#333" stroke-width="1.1"/>
<text x="102.5" y="778.0" text-anchor="end" font-size="22.4">1970</text>
<line x1="113.1" y1="838.1" x2="121.5" y2="838.1" stroke="#333" stroke-width="1.1"/>
<text x="102.5" y="845.9" text-anchor="end" font-size="22.4">1980</text>
<line x1="113.1" y1="905.9" x2="121.5" y2="905.9" stroke="#333" stroke-width="1.1"/>
<text x="102.5" y="913.7" text-anchor="end" font-size="22.4">1990</text>
<line x1="113.1" y1="973.8" x2="121.5" y2="973.8" stroke="#333" stroke-width="1.1"/>
<text x="102.5" y="981.6" text-anchor="end" font-size="22.4">2000</text>
<line x1="113.1" y1="1041.6" x2="121.5" y2="1041.6" stroke="#333" stroke-width="1.1"/>
<text x="102.5" y="1049.4" text-anchor="end" font-size="22.4">2010</text>
<line x1="113.1" y1="1109.4" x2="121.5" y2="1109.4" stroke="#333" stroke-width="1.1"/>
<text x="102.5" y="1117.2" text-anchor="end" font-size="22.4">2020</text>
<line x1="132.2" y1="1144.5" x2="132.2" y2="1153.1" stroke="#222" stroke-width="1.2"/>
<text x="132.2" y="1182.1" text-anchor="middle" font-size="22.4">25</text>
<line x1="199.4" y1="1144.5" x2="199.4" y2="1153.1" stroke="#222" stroke-width="1.2"/>
<text x="199.4" y="1182.1" text-anchor="middle" font-size="22.4">20</text>
<line x1="267.0" y1="1144.5" x2="267.0" y2="1153.1" stroke="#222" stroke-width="1.2"/>
<text x="267.0" y="1182.1" text-anchor="middle" font-size="22.4">15</text>
<line x1="334.0" y1="1144.5" x2="334.0" y2="1153.1" stroke="#222" stroke-width="1.2"/>
<text x="334.0" y="1182.1" text-anchor="middle" font-size="22.4">10</text>
<line x1="401.4" y1="1144.5" x2="401.4" y2="1153.1" stroke="#222" stroke-width="1.2"/>
<text x="401.4" y="1182.1" text-anchor="middle" font-size="22.4">5</text>
<line x1="535.4" y1="1144.5" x2="535.4" y2="1153.1" stroke="#222" stroke-width="1.2"/>
<text x="535.4" y="1182.1" text-anchor="middle" font-size="22.4">5</text>
<line x1="602.8" y1="1144.5" x2="602.8" y2="1153.1" stroke="#222" stroke-width="1.2"/>
<text x="602.8" y="1182.1" text-anchor="middle" font-size="22.4">10</text>
<line x1="670.0" y1="1144.5" x2="670.0" y2="1153.1" stroke="#222" stroke-width="1.2"/>
<text x="670.0" y="1182.1" text-anchor="middle" font-size="22.4">15</text>
<line x1="737.1" y1="1144.5" x2="737.1" y2="1153.1" stroke="#222" stroke-width="1.2"/>
<text x="737.1" y="1182.1" text-anchor="middle" font-size="22.4">20</text>
<line x1="804.3" y1="1144.5" x2="804.3" y2="1153.1" stroke="#222" stroke-width="1.2"/>
<text x="468.5" y="1221.4" text-anchor="middle" font-size="22.4">Millions of people</text>
<text x="468.5" y="653.7" text-anchor="middle" font-size="22.4">High deprivation</text>
<text transform="translate(32,905.8) rotate(-90)" text-anchor="middle" font-size="22.4">Birth year</text>
<text transform="translate(13.6,655.1) scale(1.2,1)" class="L" font-size="23.5">c</text></g>
<g id="pd"><rect x="1113.3" y="689.0" width="217.8" height="26.8" fill="#cad8e6"/>
<rect x="1306.1" y="689.0" width="25.0" height="26.8" fill="#5580b3"/>
<rect x="1088.1" y="722.9" width="243.0" height="26.8" fill="#cad8e6"/>
<rect x="1296.4" y="722.9" width="34.7" height="26.8" fill="#5580b3"/>
<rect x="1067.1" y="756.8" width="264.0" height="26.8" fill="#cad8e6"/>
<rect x="1285.4" y="756.8" width="45.7" height="26.8" fill="#5580b3"/>
<rect x="1056.9" y="790.8" width="274.2" height="26.8" fill="#cad8e6"/>
<rect x="1269.1" y="790.8" width="62.0" height="26.8" fill="#5580b3"/>
<rect x="1055.2" y="824.7" width="275.9" height="26.8" fill="#cad8e6"/>
<rect x="1255.7" y="824.7" width="75.4" height="26.8" fill="#5580b3"/>
<rect x="1031.9" y="858.6" width="299.2" height="26.8" fill="#cad8e6"/>
<rect x="1237.2" y="858.6" width="93.9" height="26.8" fill="#5580b3"/>
<rect x="1007.7" y="892.5" width="323.4" height="26.8" fill="#cad8e6"/>
<rect x="1229.7" y="892.5" width="101.4" height="26.8" fill="#5580b3"/>
<rect x="1019.9" y="926.4" width="311.2" height="26.8" fill="#cad8e6"/>
<rect x="1227.2" y="926.4" width="103.9" height="26.8" fill="#5580b3"/>
<rect x="1026.4" y="960.4" width="304.7" height="26.8" fill="#cad8e6"/>
<rect x="1221.0" y="960.4" width="110.1" height="26.8" fill="#5580b3"/>
<rect x="1019.7" y="994.3" width="311.4" height="26.8" fill="#cad8e6"/>
<rect x="1214.0" y="994.3" width="117.1" height="26.8" fill="#5580b3"/>
<rect x="1009.5" y="1028.2" width="321.6" height="26.8" fill="#cad8e6"/>
<rect x="1208.0" y="1028.2" width="123.1" height="26.8" fill="#5580b3"/>
<rect x="1001.2" y="1062.1" width="329.9" height="26.8" fill="#cad8e6"/>
<rect x="1203.0" y="1062.1" width="128.1" height="26.8" fill="#5580b3"/>
<rect x="1009.2" y="1096.0" width="321.9" height="26.8" fill="#cad8e6"/>
<rect x="1201.0" y="1096.0" width="130.1" height="26.8" fill="#5580b3"/>
<rect x="1331.1" y="689.0" width="217.6" height="26.8" fill="#d8b4b2"/>
<rect x="1331.1" y="689.0" width="20.8" height="26.8" fill="#80160f"/>
<rect x="1331.1" y="722.9" width="242.5" height="26.8" fill="#d8b4b2"/>
<rect x="1331.1" y="722.9" width="32.8" height="26.8" fill="#80160f"/>
<rect x="1331.1" y="756.8" width="263.5" height="26.8" fill="#d8b4b2"/>
<rect x="1331.1" y="756.8" width="48.0" height="26.8" fill="#80160f"/>
<rect x="1331.1" y="790.8" width="273.8" height="26.8" fill="#d8b4b2"/>
<rect x="1331.1" y="790.8" width="76.7" height="26.8" fill="#80160f"/>
<rect x="1331.1" y="824.7" width="275.5" height="26.8" fill="#d8b4b2"/>
<rect x="1331.1" y="824.7" width="109.7" height="26.8" fill="#80160f"/>
<rect x="1331.1" y="858.6" width="298.7" height="26.8" fill="#d8b4b2"/>
<rect x="1331.1" y="858.6" width="153.2" height="26.8" fill="#80160f"/>
<rect x="1331.1" y="892.5" width="323.2" height="26.8" fill="#d8b4b2"/>
<rect x="1331.1" y="892.5" width="189.4" height="26.8" fill="#80160f"/>
<rect x="1331.1" y="926.4" width="310.7" height="26.8" fill="#d8b4b2"/>
<rect x="1331.1" y="926.4" width="213.1" height="26.8" fill="#80160f"/>
<rect x="1331.1" y="960.4" width="304.2" height="26.8" fill="#d8b4b2"/>
<rect x="1331.1" y="960.4" width="234.8" height="26.8" fill="#80160f"/>
<rect x="1331.1" y="994.3" width="311.0" height="26.8" fill="#d8b4b2"/>
<rect x="1331.1" y="994.3" width="260.3" height="26.8" fill="#80160f"/>
<rect x="1331.1" y="1028.2" width="321.5" height="26.8" fill="#d8b4b2"/>
<rect x="1331.1" y="1028.2" width="279.0" height="26.8" fill="#80160f"/>
<rect x="1331.1" y="1062.1" width="329.7" height="26.8" fill="#d8b4b2"/>
<rect x="1331.1" y="1062.1" width="293.7" height="26.8" fill="#80160f"/>
<rect x="1331.1" y="1096.0" width="321.7" height="26.8" fill="#d8b4b2"/>
<rect x="1331.1" y="1096.0" width="293.7" height="26.8" fill="#80160f"/>
<line x1="1300.1" y1="702.4" x2="1312.1" y2="702.4" stroke="#000" stroke-width="3"/>
<text class="l" x="1197.6" y="710.1" text-anchor="middle" font-size="23.5">11%</text>
<line x1="1288.9" y1="736.3" x2="1304.1" y2="736.3" stroke="#000" stroke-width="3"/>
<text class="l" x="1182.0" y="744.0" text-anchor="middle" font-size="23.5">14%</text>
<line x1="1278.1" y1="770.2" x2="1292.9" y2="770.2" stroke="#000" stroke-width="3"/>
<text class="l" x="1170.6" y="777.9" text-anchor="middle" font-size="23.5">17%</text>
<line x1="1259.4" y1="804.2" x2="1278.9" y2="804.2" stroke="#000" stroke-width="3"/>
<text class="l" x="1163.3" y="811.9" text-anchor="middle" font-size="23.5">23%</text>
<line x1="1246.2" y1="838.1" x2="1265.2" y2="838.1" stroke="#000" stroke-width="3"/>
<text class="l" x="1163.3" y="845.8" text-anchor="middle" font-size="23.5">27%</text>
<line x1="1222.7" y1="872.0" x2="1251.9" y2="872.0" stroke="#000" stroke-width="3"/>
<text class="l" x="1148.2" y="879.7" text-anchor="middle" font-size="23.5">31%</text>
<line x1="1214.2" y1="905.9" x2="1244.9" y2="905.9" stroke="#000" stroke-width="3"/>
<text class="l" x="1132.7" y="913.6" text-anchor="middle" font-size="23.5">31%</text>
<line x1="1212.0" y1="939.8" x2="1242.4" y2="939.8" stroke="#000" stroke-width="3"/>
<text class="l" x="1139.3" y="947.5" text-anchor="middle" font-size="23.5">33%</text>
<line x1="1203.0" y1="973.8" x2="1238.7" y2="973.8" stroke="#000" stroke-width="3"/>
<text class="l" x="1145.0" y="981.5" text-anchor="middle" font-size="23.5">36%</text>
<line x1="1193.7" y1="1007.7" x2="1233.9" y2="1007.7" stroke="#000" stroke-width="3"/>
<text class="l" x="1141.3" y="1015.4" text-anchor="middle" font-size="23.5">38%</text>
<line x1="1185.5" y1="1041.6" x2="1230.4" y2="1041.6" stroke="#000" stroke-width="3"/>
<text class="l" x="1135.1" y="1049.3" text-anchor="middle" font-size="23.5">38%</text>
<line x1="1180.5" y1="1075.5" x2="1225.7" y2="1075.5" stroke="#000" stroke-width="3"/>
<text class="l" x="1129.6" y="1083.2" text-anchor="middle" font-size="23.5">39%</text>
<line x1="1179.8" y1="1109.4" x2="1222.0" y2="1109.4" stroke="#000" stroke-width="3"/>
<text class="l" x="1135.1" y="1117.1" text-anchor="middle" font-size="23.5">40%</text>
<line x1="1348.4" y1="702.4" x2="1355.4" y2="702.4" stroke="#000" stroke-width="3"/>
<text class="l" x="1463.9" y="710.1" text-anchor="middle" font-size="23.5">10%</text>
<line x1="1357.4" y1="736.3" x2="1370.6" y2="736.3" stroke="#000" stroke-width="3"/>
<text class="l" x="1482.9" y="744.0" text-anchor="middle" font-size="23.5">14%</text>
<line x1="1371.4" y1="770.2" x2="1387.1" y2="770.2" stroke="#000" stroke-width="3"/>
<text class="l" x="1493.1" y="777.9" text-anchor="middle" font-size="23.5">18%</text>
<line x1="1395.4" y1="804.2" x2="1419.8" y2="804.2" stroke="#000" stroke-width="3"/>
<text class="l" x="1499.5" y="811.9" text-anchor="middle" font-size="23.5">28%</text>
<line x1="1429.3" y1="838.1" x2="1452.5" y2="838.1" stroke="#000" stroke-width="3"/>
<text class="l" x="1497.9" y="845.8" text-anchor="middle" font-size="23.5">40%</text>
<text class="s w" x="1358.7" y="851.8" text-anchor="middle" font-size="24">*</text>
<line x1="1470.0" y1="872.0" x2="1498.5" y2="872.0" stroke="#000" stroke-width="3"/>
<text class="l w" x="1432.1" y="879.7" text-anchor="middle" font-size="23.5">51%</text>
<text class="s w" x="1369.6" y="885.7" text-anchor="middle" font-size="24">*</text>
<line x1="1504.0" y1="905.9" x2="1537.2" y2="905.9" stroke="#000" stroke-width="3"/>
<text class="l w" x="1454.8" y="913.6" text-anchor="middle" font-size="23.5">59%</text>
<text class="s w" x="1377.4" y="919.6" text-anchor="middle" font-size="24">*</text>
<line x1="1527.2" y1="939.8" x2="1561.7" y2="939.8" stroke="#000" stroke-width="3"/>
<text class="l w" x="1470.1" y="947.5" text-anchor="middle" font-size="23.5">69%</text>
<text class="s w" x="1384.4" y="953.5" text-anchor="middle" font-size="24">*</text>
<line x1="1553.4" y1="973.8" x2="1579.1" y2="973.8" stroke="#000" stroke-width="3"/>
<text class="l w" x="1483.4" y="981.5" text-anchor="middle" font-size="23.5">77%</text>
<text class="s w" x="1389.1" y="987.5" text-anchor="middle" font-size="24">*</text>
<line x1="1579.1" y1="1007.7" x2="1603.9" y2="1007.7" stroke="#000" stroke-width="3"/>
<text class="l w" x="1502.2" y="1015.4" text-anchor="middle" font-size="23.5">84%</text>
<text class="s w" x="1395.9" y="1021.4" text-anchor="middle" font-size="24">*</text>
<line x1="1598.4" y1="1041.6" x2="1622.1" y2="1041.6" stroke="#000" stroke-width="3"/>
<text class="l w" x="1516.2" y="1049.3" text-anchor="middle" font-size="23.5">87%</text>
<text class="s w" x="1401.1" y="1055.3" text-anchor="middle" font-size="24">*</text>
<line x1="1616.1" y1="1075.5" x2="1634.1" y2="1075.5" stroke="#000" stroke-width="3"/>
<text class="l w" x="1525.5" y="1083.2" text-anchor="middle" font-size="23.5">89%</text>
<text class="s w" x="1404.8" y="1089.2" text-anchor="middle" font-size="24">*</text>
<line x1="1618.8" y1="1109.4" x2="1631.3" y2="1109.4" stroke="#000" stroke-width="3"/>
<text class="l w" x="1525.5" y="1117.1" text-anchor="middle" font-size="23.5">91%</text>
<text class="s w" x="1404.8" y="1123.1" text-anchor="middle" font-size="24">*</text>
<line x1="984.7" y1="667.0" x2="984.7" y2="1145.1" stroke="#333" stroke-width="1.3"/>
<line x1="984.0500000000001" y1="1144.5" x2="1677.8" y2="1144.5" stroke="#111" stroke-width="1.2"/>
<line x1="1331.1" y1="667.0" x2="1331.1" y2="1144.5" stroke="#111" stroke-width="1.1"/>
<line x1="976.3000000000001" y1="702.4" x2="984.7" y2="702.4" stroke="#333" stroke-width="1.1"/>
<text x="965.7" y="710.2" text-anchor="end" font-size="22.4">1960</text>
<line x1="976.3000000000001" y1="770.2" x2="984.7" y2="770.2" stroke="#333" stroke-width="1.1"/>
<text x="965.7" y="778.0" text-anchor="end" font-size="22.4">1970</text>
<line x1="976.3000000000001" y1="838.1" x2="984.7" y2="838.1" stroke="#333" stroke-width="1.1"/>
<text x="965.7" y="845.9" text-anchor="end" font-size="22.4">1980</text>
<line x1="976.3000000000001" y1="905.9" x2="984.7" y2="905.9" stroke="#333" stroke-width="1.1"/>
<text x="965.7" y="913.7" text-anchor="end" font-size="22.4">1990</text>
<line x1="976.3000000000001" y1="973.8" x2="984.7" y2="973.8" stroke="#333" stroke-width="1.1"/>
<text x="965.7" y="981.6" text-anchor="end" font-size="22.4">2000</text>
<line x1="976.3000000000001" y1="1041.6" x2="984.7" y2="1041.6" stroke="#333" stroke-width="1.1"/>
<text x="965.7" y="1049.4" text-anchor="end" font-size="22.4">2010</text>
<line x1="976.3000000000001" y1="1109.4" x2="984.7" y2="1109.4" stroke="#333" stroke-width="1.1"/>
<text x="965.7" y="1117.2" text-anchor="end" font-size="22.4">2020</text>
<line x1="996.5" y1="1144.5" x2="996.5" y2="1153.1" stroke="#222" stroke-width="1.2"/>
<line x1="1063.6" y1="1144.5" x2="1063.6" y2="1153.1" stroke="#222" stroke-width="1.2"/>
<text x="1063.6" y="1182.1" text-anchor="middle" font-size="22.4">20</text>
<line x1="1130.3" y1="1144.5" x2="1130.3" y2="1153.1" stroke="#222" stroke-width="1.2"/>
<text x="1130.3" y="1182.1" text-anchor="middle" font-size="22.4">15</text>
<line x1="1197.5" y1="1144.5" x2="1197.5" y2="1153.1" stroke="#222" stroke-width="1.2"/>
<text x="1197.5" y="1182.1" text-anchor="middle" font-size="22.4">10</text>
<line x1="1264.4" y1="1144.5" x2="1264.4" y2="1153.1" stroke="#222" stroke-width="1.2"/>
<text x="1264.4" y="1182.1" text-anchor="middle" font-size="22.4">5</text>
<line x1="1397.9" y1="1144.5" x2="1397.9" y2="1153.1" stroke="#222" stroke-width="1.2"/>
<text x="1397.9" y="1182.1" text-anchor="middle" font-size="22.4">5</text>
<line x1="1464.8" y1="1144.5" x2="1464.8" y2="1153.1" stroke="#222" stroke-width="1.2"/>
<text x="1464.8" y="1182.1" text-anchor="middle" font-size="22.4">10</text>
<line x1="1531.4" y1="1144.5" x2="1531.4" y2="1153.1" stroke="#222" stroke-width="1.2"/>
<text x="1531.4" y="1182.1" text-anchor="middle" font-size="22.4">15</text>
<line x1="1598.4" y1="1144.5" x2="1598.4" y2="1153.1" stroke="#222" stroke-width="1.2"/>
<text x="1598.4" y="1182.1" text-anchor="middle" font-size="22.4">20</text>
<line x1="1665.3" y1="1144.5" x2="1665.3" y2="1153.1" stroke="#222" stroke-width="1.2"/>
<text x="1665.3" y="1182.1" text-anchor="middle" font-size="22.4">25</text>
<text x="1331.1" y="1221.4" text-anchor="middle" font-size="22.4">Millions of people</text>
<text x="1331.1" y="653.7" text-anchor="middle" font-size="22.4">Low deprivation</text>
<text transform="translate(897,905.8) rotate(-90)" text-anchor="middle" font-size="22.4">Birth year</text>
<text transform="translate(879.3,655.1) scale(1.2,1)" class="L" font-size="23.5">d</text></g>
<text x="33.5" y="401.5" font-size="22.4">10<tspan dy="-9.6" font-size="14">3</tspan></text>
<text x="94.5" y="401.5" font-size="22.4">10<tspan dy="-9.6" font-size="14">4</tspan></text>
<text x="155.5" y="401.5" font-size="22.4">10<tspan dy="-9.6" font-size="14">5</tspan></text>
<text x="241.5" y="401.5" font-size="22.4" style="letter-spacing:.6px">population</text>
<text x="211" y="440.7" font-size="22.4" style="letter-spacing:.37px">20% Highest deprivation</text>
<text x="211" y="480.5" font-size="22.4" style="letter-spacing:.37px">20% Lowest deprivation</text>
<circle cx="49.7" cy="434.1" r="2.3" fill="#ee9a4a"/>
<circle cx="111" cy="434.1" r="5.1" fill="#cb622a"/>
<circle cx="172.3" cy="434.1" r="13.6" fill="#85381a"/>
<circle cx="49.7" cy="473.9" r="2.3" fill="#7cc07c"/>
<circle cx="111" cy="473.9" r="5.1" fill="#4f965a"/>
<circle cx="172.3" cy="473.9" r="13.6" fill="#2a6630"/>
<rect x="57" y="512.5" width="21" height="19.5" fill="#5580b3"/>
<rect x="57" y="552.5" width="21" height="19.5" fill="#80160f"/>
<text x="87.4" y="529.8" font-size="22.4" style="letter-spacing:.17px">1.5 °C GMT warming by 2100</text>
<text x="87.4" y="569.8" font-size="22.4" style="letter-spacing:.17px">3.5 °C GMT warming by 2100</text>
</svg>
<div class="fade"></div>
<div class="cap" style="left:12px;top:1252.4px;word-spacing:-2.6px;letter-spacing:0.396px"><b>Fig. 4 | The most deprived face significantly higher chance of ULE to</b></div>
<div class="cap" style="left:12px;top:1284.4px;word-spacing:-2.6px;letter-spacing:0.578px"><b>heatwaves. a</b>, Geographic distribution of the 20% highest (brown markers) and</div>
<div class="cap" style="left:12px;top:1316.4px;word-spacing:-2.6px;letter-spacing:0.614px">20% lowest (green markers) scoring 2020 birth cohort members (with roughly</div>
<div class="cap" style="left:12px;top:1348.4px;word-spacing:-2.6px;letter-spacing:0.385px">equal population) in the GRDI<sup>16</sup>. Grid cell marker sizes and colours are scaled by</div>
<div class="cap" style="left:12px;top:1380.4px;word-spacing:-2.6px;letter-spacing:0.616px">their population. <b>b</b>, Fraction of these two groups projected to experience ULE</div>
<div class="cap" style="left:12px;top:1412.4px;word-spacing:-2.6px;letter-spacing:0.520px">to heatwaves under the current policies pathway of 2.7 °C warming by 2100 for</div>
<div class="cap" style="left:12px;top:1444.4px;word-spacing:-2.6px;letter-spacing:0.581px">every fifth birth year. Light-coloured bars show total cohort sizes per birth year</div>
<div class="cap" style="left:864px;top:1252.4px;word-spacing:-2.6px;letter-spacing:0.706px">and vulnerability group, whereas dark colours indicate the affected fraction.</div>
<div class="cap" style="left:864px;top:1284.4px;word-spacing:-2.6px;letter-spacing:0.685px">Error bars show the standard deviation across projections. Asterisks indicate</div>
<div class="cap" style="left:864px;top:1316.4px;word-spacing:-2.6px;letter-spacing:0.390px">that a low- or high-vulnerability group from a given birth cohort has significantly</div>
<div class="cap" style="left:864px;top:1348.4px;word-spacing:-2.6px;letter-spacing:0.415px">more members with ULE to heatwaves than the alternative vulnerability group</div>
<div class="cap" style="left:864px;top:1380.4px;word-spacing:-2.6px;letter-spacing:0.430px">of the same birth cohort (at the 5% level). <b>c</b>,<b>d</b>, The high deprivation (<b>c</b>) and low</div>
<div class="cap" style="left:864px;top:1412.4px;word-spacing:-2.6px;letter-spacing:0.646px">deprivation (<b>d</b>) share of the birth cohort that is projected to experience ULE</div>
<div class="cap" style="left:864px;top:1444.4px;word-spacing:-2.6px;letter-spacing:0.220px">under the 1.5 °C (blue) and 3.5 °C (red) pathways.</div>
</body></html>
